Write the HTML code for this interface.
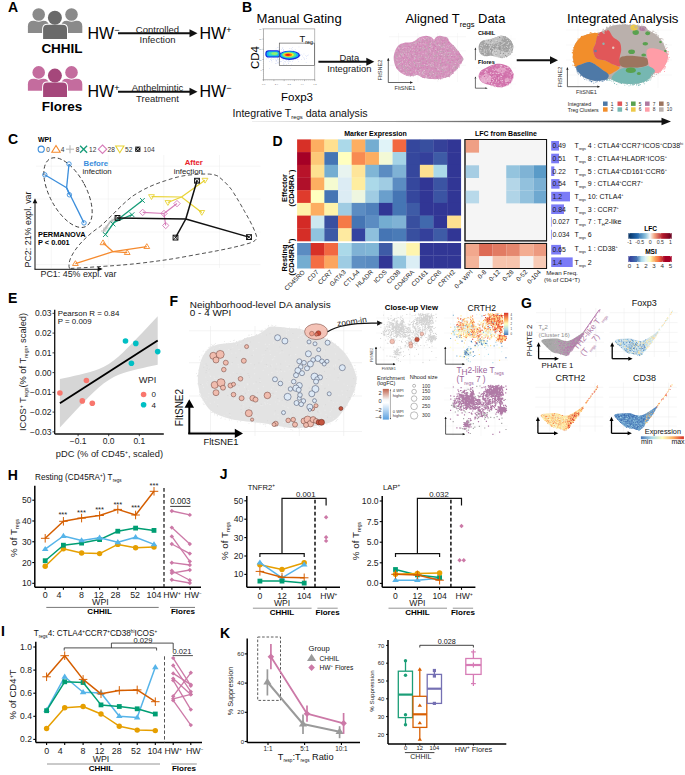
<!DOCTYPE html>
<html><head><meta charset="utf-8"><style>
html,body{margin:0;padding:0;background:#fff;}
svg{display:block;font-family:"Liberation Sans", sans-serif;}
</style></head><body>
<svg width="685" height="775" viewBox="0 0 685 775">
<rect width="685" height="775" fill="#fff"/>
<text x="8" y="12" font-size="14" font-weight="bold" fill="#000">A</text>
<path d="M27.9,32.9 L27.9,26.3 Q27.9,20.8 33.4,20.8 L43.4,20.8 Q48.9,20.8 48.9,26.3 L48.9,32.9 Z" fill="#8a8a8a"/>
<circle cx="38.7" cy="14.5" r="7.3" fill="#fff"/>
<circle cx="38.7" cy="14.5" r="6.3" fill="#8a8a8a"/>
<path d="M61.3,32.9 L61.3,26.3 Q61.3,20.8 66.8,20.8 L76.8,20.8 Q82.3,20.8 82.3,26.3 L82.3,32.9 Z" fill="#8a8a8a"/>
<circle cx="71.5" cy="14.5" r="7.3" fill="#fff"/>
<circle cx="71.5" cy="14.5" r="6.3" fill="#8a8a8a"/>
<circle cx="54.9" cy="17.7" r="8.1" fill="#fff"/>
<path d="M42.1,40 L42.1,29 Q42.1,23.7 47.4,23.7 L62.7,23.7 Q68,23.7 68,29 L68,40 Z" fill="#fff"/>
<circle cx="54.9" cy="17.7" r="7.0" fill="#6a6a6a"/>
<path d="M43.1,39 L43.1,29.1 Q43.1,24.7 47.5,24.7 L62.6,24.7 Q67,24.7 67,29.1 L67,39 Z" fill="#6a6a6a"/>
<text x="62" y="52.5" font-size="13.5" font-weight="bold" text-anchor="middle" fill="#000">CHHIL</text>
<path d="M27.9,90.8 L27.9,84.2 Q27.9,78.7 33.4,78.7 L43.4,78.7 Q48.9,78.7 48.9,84.2 L48.9,90.8 Z" fill="#c46c9e"/>
<circle cx="38.7" cy="72.4" r="7.3" fill="#fff"/>
<circle cx="38.7" cy="72.4" r="6.3" fill="#c46c9e"/>
<path d="M61.3,90.8 L61.3,84.2 Q61.3,78.7 66.8,78.7 L76.8,78.7 Q82.3,78.7 82.3,84.2 L82.3,90.8 Z" fill="#c46c9e"/>
<circle cx="71.5" cy="72.4" r="7.3" fill="#fff"/>
<circle cx="71.5" cy="72.4" r="6.3" fill="#c46c9e"/>
<circle cx="54.9" cy="75.6" r="8.1" fill="#fff"/>
<path d="M42.1,97.9 L42.1,86.9 Q42.1,81.6 47.4,81.6 L62.7,81.6 Q68,81.6 68,86.9 L68,97.9 Z" fill="#fff"/>
<circle cx="54.9" cy="75.6" r="7.0" fill="#a5477b"/>
<path d="M43.1,96.9 L43.1,87.0 Q43.1,82.6 47.5,82.6 L62.6,82.6 Q67,82.6 67,87.0 L67,96.9 Z" fill="#a5477b"/>
<text x="62" y="111" font-size="13.5" font-weight="bold" text-anchor="middle" fill="#000">Flores</text>
<text x="87.5" y="38.5" font-size="16" fill="#000">HW<tspan font-size="9" baseline-shift="6">−</tspan></text>
<line x1="118" y1="33.3" x2="190" y2="33.3" stroke="#111" stroke-width="2.0"/>
<polygon points="197.50,33.30 189.50,37.30 189.50,29.30" fill="#111"/>
<text x="157.5" y="32.5" font-size="9.5" text-anchor="middle" fill="#222">Controlled</text>
<text x="157.5" y="43" font-size="9.5" text-anchor="middle" fill="#222">Infection</text>
<text x="199.5" y="38.5" font-size="16" fill="#000">HW<tspan font-size="9" baseline-shift="6">+</tspan></text>
<text x="87.5" y="97" font-size="16" fill="#000">HW<tspan font-size="9" baseline-shift="6">+</tspan></text>
<line x1="118" y1="91.8" x2="190" y2="91.8" stroke="#111" stroke-width="2.0"/>
<polygon points="197.50,91.80 189.50,95.80 189.50,87.80" fill="#111"/>
<text x="157.5" y="91" font-size="9.5" text-anchor="middle" fill="#222">Anthelmintic</text>
<text x="157.5" y="101.5" font-size="9.5" text-anchor="middle" fill="#222">Treatment</text>
<text x="199.5" y="97" font-size="16" fill="#000">HW<tspan font-size="9" baseline-shift="6">−</tspan></text>
<text x="242" y="12" font-size="14" font-weight="bold" fill="#000">B</text>
<text x="256.5" y="23.3" font-size="13.1" fill="#000">Manual Gating</text>
<rect x="263.7" y="28.9" width="51.1" height="50.9" fill="#fff" stroke="#8a8a8a" stroke-width="0.6"/>
<line x1="262.4" y1="28.9" x2="263.7" y2="28.9" stroke="#777" stroke-width="0.45"/>
<line x1="263.7" y1="79.8" x2="263.7" y2="81.1" stroke="#777" stroke-width="0.45"/>
<line x1="262.4" y1="39.08" x2="263.7" y2="39.08" stroke="#777" stroke-width="0.45"/>
<line x1="273.92" y1="79.8" x2="273.92" y2="81.1" stroke="#777" stroke-width="0.45"/>
<line x1="262.4" y1="49.26" x2="263.7" y2="49.26" stroke="#777" stroke-width="0.45"/>
<line x1="284.14" y1="79.8" x2="284.14" y2="81.1" stroke="#777" stroke-width="0.45"/>
<line x1="262.4" y1="59.44" x2="263.7" y2="59.44" stroke="#777" stroke-width="0.45"/>
<line x1="294.36" y1="79.8" x2="294.36" y2="81.1" stroke="#777" stroke-width="0.45"/>
<line x1="262.4" y1="69.62" x2="263.7" y2="69.62" stroke="#777" stroke-width="0.45"/>
<line x1="304.58" y1="79.8" x2="304.58" y2="81.1" stroke="#777" stroke-width="0.45"/>
<line x1="262.4" y1="79.8" x2="263.7" y2="79.8" stroke="#777" stroke-width="0.45"/>
<line x1="314.8" y1="79.8" x2="314.8" y2="81.1" stroke="#777" stroke-width="0.45"/>
<line x1="262.9" y1="28.9" x2="263.7" y2="28.9" stroke="#999" stroke-width="0.35"/>
<line x1="263.7" y1="79.8" x2="263.7" y2="80.6" stroke="#999" stroke-width="0.35"/>
<line x1="262.9" y1="30.936" x2="263.7" y2="30.936" stroke="#999" stroke-width="0.35"/>
<line x1="265.74399999999997" y1="79.8" x2="265.74399999999997" y2="80.6" stroke="#999" stroke-width="0.35"/>
<line x1="262.9" y1="32.972" x2="263.7" y2="32.972" stroke="#999" stroke-width="0.35"/>
<line x1="267.788" y1="79.8" x2="267.788" y2="80.6" stroke="#999" stroke-width="0.35"/>
<line x1="262.9" y1="35.007999999999996" x2="263.7" y2="35.007999999999996" stroke="#999" stroke-width="0.35"/>
<line x1="269.832" y1="79.8" x2="269.832" y2="80.6" stroke="#999" stroke-width="0.35"/>
<line x1="262.9" y1="37.044" x2="263.7" y2="37.044" stroke="#999" stroke-width="0.35"/>
<line x1="271.876" y1="79.8" x2="271.876" y2="80.6" stroke="#999" stroke-width="0.35"/>
<line x1="262.9" y1="39.08" x2="263.7" y2="39.08" stroke="#999" stroke-width="0.35"/>
<line x1="273.92" y1="79.8" x2="273.92" y2="80.6" stroke="#999" stroke-width="0.35"/>
<line x1="262.9" y1="41.116" x2="263.7" y2="41.116" stroke="#999" stroke-width="0.35"/>
<line x1="275.964" y1="79.8" x2="275.964" y2="80.6" stroke="#999" stroke-width="0.35"/>
<line x1="262.9" y1="43.152" x2="263.7" y2="43.152" stroke="#999" stroke-width="0.35"/>
<line x1="278.008" y1="79.8" x2="278.008" y2="80.6" stroke="#999" stroke-width="0.35"/>
<line x1="262.9" y1="45.188" x2="263.7" y2="45.188" stroke="#999" stroke-width="0.35"/>
<line x1="280.05199999999996" y1="79.8" x2="280.05199999999996" y2="80.6" stroke="#999" stroke-width="0.35"/>
<line x1="262.9" y1="47.224" x2="263.7" y2="47.224" stroke="#999" stroke-width="0.35"/>
<line x1="282.096" y1="79.8" x2="282.096" y2="80.6" stroke="#999" stroke-width="0.35"/>
<line x1="262.9" y1="49.26" x2="263.7" y2="49.26" stroke="#999" stroke-width="0.35"/>
<line x1="284.14" y1="79.8" x2="284.14" y2="80.6" stroke="#999" stroke-width="0.35"/>
<line x1="262.9" y1="51.296" x2="263.7" y2="51.296" stroke="#999" stroke-width="0.35"/>
<line x1="286.18399999999997" y1="79.8" x2="286.18399999999997" y2="80.6" stroke="#999" stroke-width="0.35"/>
<line x1="262.9" y1="53.331999999999994" x2="263.7" y2="53.331999999999994" stroke="#999" stroke-width="0.35"/>
<line x1="288.228" y1="79.8" x2="288.228" y2="80.6" stroke="#999" stroke-width="0.35"/>
<line x1="262.9" y1="55.367999999999995" x2="263.7" y2="55.367999999999995" stroke="#999" stroke-width="0.35"/>
<line x1="290.272" y1="79.8" x2="290.272" y2="80.6" stroke="#999" stroke-width="0.35"/>
<line x1="262.9" y1="57.403999999999996" x2="263.7" y2="57.403999999999996" stroke="#999" stroke-width="0.35"/>
<line x1="292.316" y1="79.8" x2="292.316" y2="80.6" stroke="#999" stroke-width="0.35"/>
<line x1="262.9" y1="59.44" x2="263.7" y2="59.44" stroke="#999" stroke-width="0.35"/>
<line x1="294.36" y1="79.8" x2="294.36" y2="80.6" stroke="#999" stroke-width="0.35"/>
<line x1="262.9" y1="61.476" x2="263.7" y2="61.476" stroke="#999" stroke-width="0.35"/>
<line x1="296.404" y1="79.8" x2="296.404" y2="80.6" stroke="#999" stroke-width="0.35"/>
<line x1="262.9" y1="63.51199999999999" x2="263.7" y2="63.51199999999999" stroke="#999" stroke-width="0.35"/>
<line x1="298.448" y1="79.8" x2="298.448" y2="80.6" stroke="#999" stroke-width="0.35"/>
<line x1="262.9" y1="65.548" x2="263.7" y2="65.548" stroke="#999" stroke-width="0.35"/>
<line x1="300.49199999999996" y1="79.8" x2="300.49199999999996" y2="80.6" stroke="#999" stroke-width="0.35"/>
<line x1="262.9" y1="67.584" x2="263.7" y2="67.584" stroke="#999" stroke-width="0.35"/>
<line x1="302.536" y1="79.8" x2="302.536" y2="80.6" stroke="#999" stroke-width="0.35"/>
<line x1="262.9" y1="69.62" x2="263.7" y2="69.62" stroke="#999" stroke-width="0.35"/>
<line x1="304.58" y1="79.8" x2="304.58" y2="80.6" stroke="#999" stroke-width="0.35"/>
<line x1="262.9" y1="71.65599999999999" x2="263.7" y2="71.65599999999999" stroke="#999" stroke-width="0.35"/>
<line x1="306.624" y1="79.8" x2="306.624" y2="80.6" stroke="#999" stroke-width="0.35"/>
<line x1="262.9" y1="73.69200000000001" x2="263.7" y2="73.69200000000001" stroke="#999" stroke-width="0.35"/>
<line x1="308.668" y1="79.8" x2="308.668" y2="80.6" stroke="#999" stroke-width="0.35"/>
<line x1="262.9" y1="75.72800000000001" x2="263.7" y2="75.72800000000001" stroke="#999" stroke-width="0.35"/>
<line x1="310.712" y1="79.8" x2="310.712" y2="80.6" stroke="#999" stroke-width="0.35"/>
<line x1="262.9" y1="77.764" x2="263.7" y2="77.764" stroke="#999" stroke-width="0.35"/>
<line x1="312.756" y1="79.8" x2="312.756" y2="80.6" stroke="#999" stroke-width="0.35"/>
<line x1="262.9" y1="79.8" x2="263.7" y2="79.8" stroke="#999" stroke-width="0.35"/>
<line x1="314.8" y1="79.8" x2="314.8" y2="80.6" stroke="#999" stroke-width="0.35"/>
<text x="261.6" y="30.0" font-size="2.2" text-anchor="end" fill="#777">10</text>
<text x="261.6" y="40.18" font-size="2.2" text-anchor="end" fill="#777">10</text>
<text x="261.6" y="50.36" font-size="2.2" text-anchor="end" fill="#777">10</text>
<text x="261.6" y="60.54" font-size="2.2" text-anchor="end" fill="#777">10</text>
<text x="261.6" y="70.72" font-size="2.2" text-anchor="end" fill="#777">0</text>
<text x="263.7" y="84.8" font-size="2.4" text-anchor="middle" fill="#777">0.0</text>
<text x="276.47999999999996" y="84.8" font-size="2.4" text-anchor="middle" fill="#777">2.4</text>
<text x="289.26" y="84.8" font-size="2.4" text-anchor="middle" fill="#777">3.2</text>
<text x="302.03999999999996" y="84.8" font-size="2.4" text-anchor="middle" fill="#777">4.4</text>
<text x="314.82" y="84.8" font-size="2.4" text-anchor="middle" fill="#777">7.2</text>
<path fill="#5070e0" opacity="0.55" d="M277 47.2h.5v.5h-.5zm1.7 .2h.5v.5h-.5zm20-.6h.5v.5h-.5zm-16.3 1.5h.5v.5h-.5zm.2-.8h.5v.5h-.5zm6.8 .8h.5v.5h-.5zm1.5 .2h.5v.5h-.5zm1.1-1h.5v.5h-.5zm-16.2 1.3h.5v.5h-.5zm2.9 .6h.5v.5h-.5zm.3-.3h.5v.5h-.5zm4 .3h.5v.5h-.5zm8.8-.5h.5v.5h-.5zm-21.7 1.5h.5v.5h-.5zm8.7-.2h.5v.5h-.5zm.6 0h.5v.5h-.5zm1.7-.7h.5v.5h-.5zm1.8 .9h.5v.5h-.5zm.6-.6h.5v.5h-.5zm9.6 .2h.5v.5h-.5zm1.8-.4h.5v.5h-.5zm-26.1 1.1h.5v.5h-.5zm4.3 .6h.5v.5h-.5zm9.8 0h.5v.5h-.5zm3.8-.2h.5v.5h-.5zm4.7 .3h.5v.5h-.5zm.2-.2h.5v.5h-.5zm-20 1.3h.5v.5h-.5zm1-.5h.5v.5h-.5zm.4 .1h.5v.5h-.5zm2 .1h.5v.5h-.5zm0-.6h.5v.5h-.5zm.9 .5h.5v.5h-.5zm1-.2h.5v.5h-.5zm.6 .3h.5v.5h-.5zm.2-.1h.5v.5h-.5zm2-.5h.5v.5h-.5zm.8 .3h.5v.5h-.5zm.1 .1h.5v.5h-.5zm.4-.5h.5v.5h-.5zm1.3 .5h.5v.5h-.5zm.5 .5h.5v.5h-.5zm.6-.2h.5v.5h-.5zm1.5 .1h.5v.5h-.5zm0-.1h.5v.5h-.5zm1-.7h.5v.5h-.5zm4.5 .6h.5v.5h-.5zm1-.2h.5v.5h-.5zm.3 .4h.5v.5h-.5zm.2-.5h.5v.5h-.5zm3.8-.3h.5v.5h-.5zm1 .4h.5v.5h-.5zm1.2 .4h.5v.5h-.5zm.8-.9h.5v.5h-.5zm.1 .2h.5v.5h-.5zm-31.2 1.7h.5v.5h-.5zm.3-.7h.5v.5h-.5zm8.7 .3h.5v.5h-.5zm.3-.4h.5v.5h-.5zm0 .6h.5v.5h-.5zm.1-.6h.5v.5h-.5zm.3 .6h.5v.5h-.5zm.4 .1h.5v.5h-.5zm2.2-.1h.5v.5h-.5zm1-.1h.5v.5h-.5zm2.4 .3h.5v.5h-.5zm1.8-.6h.5v.5h-.5zm.2 .4h.5v.5h-.5zm2.3-.6h.5v.5h-.5zm1 .1h.5v.5h-.5zm.5 .4h.5v.5h-.5zm0 .3h.5v.5h-.5zm3.9-.7h.5v.5h-.5zm2 .3h.5v.5h-.5zm-26.5 1.5h.5v.5h-.5zm.9-.4h.5v.5h-.5zm3.9-.5h.5v.5h-.5zm1 .8h.5v.5h-.5zm1.1-.9h.5v.5h-.5zm.4 .6h.5v.5h-.5zm1.4 .3h.5v.5h-.5zm.6-.1h.5v.5h-.5zm0-.8h.5v.5h-.5zm.7 .6h.5v.5h-.5zm2-.1h.5v.5h-.5zm1.1-.2h.5v.5h-.5zm1.1 0h.5v.5h-.5zm2.5 .4h.5v.5h-.5zm.4-.4h.5v.5h-.5zm.1 .1h.5v.5h-.5zm1.5-.2h.5v.5h-.5zm.9 .2h.5v.5h-.5zm2.3 .3h.5v.5h-.5zm.1-.6h.5v.5h-.5zm2.1 .2h.5v.5h-.5zm.4 .4h.5v.5h-.5zm4.1-.6h.5v.5h-.5zm3.7 .6h.5v.5h-.5zm2.9-.4h.5v.5h-.5zm-34.1 1.6h.5v.5h-.5zm1.6 0h.5v.5h-.5zm.8-.2h.5v.5h-.5zm1.6-.2h.5v.5h-.5zm.1-.4h.5v.5h-.5zm.1 .1h.5v.5h-.5zm.7 .6h.5v.5h-.5zm.4-.7h.5v.5h-.5zm.1 .5h.5v.5h-.5zm.2 .2h.5v.5h-.5zm3.4-.4h.5v.5h-.5zm.8 .3h.5v.5h-.5zm.3 0h.5v.5h-.5zm.8-.3h.5v.5h-.5zm1.1 .3h.5v.5h-.5zm1.2-.4h.5v.5h-.5zm.3 .2h.5v.5h-.5zm.3-.4h.5v.5h-.5zm.6 .2h.5v.5h-.5zm.4 .4h.5v.5h-.5zm.8-.4h.5v.5h-.5zm.1-.1h.5v.5h-.5zm.5 .5h.5v.5h-.5zm1.4-.1h.5v.5h-.5zm.4 .2h.5v.5h-.5zm.1-.6h.5v.5h-.5zm.5 .4h.5v.5h-.5zm1.1-.3h.5v.5h-.5zm3.6-.1h.5v.5h-.5zm.5-.1h.5v.5h-.5zm.5 0h.5v.5h-.5zm.1 .3h.5v.5h-.5zm.6 .3h.5v.5h-.5zm.2-.1h.5v.5h-.5zm.6-.1h.5v.5h-.5zm1.7 .4h.5v.5h-.5zm1.7-.8h.5v.5h-.5zm1.2 .2h.5v.5h-.5zm.2 .5h.5v.5h-.5zm.2-.2h.5v.5h-.5zm5.2 .3h.5v.5h-.5zm1.5-.4h.5v.5h-.5zm1.5-.2h.5v.5h-.5zm-39.8 1h.5v.5h-.5zm1.5 .1h.5v.5h-.5zm.4 .1h.5v.5h-.5zm1.3-.2h.5v.5h-.5zm2.5-.2h.5v.5h-.5zm1.7 .9h.5v.5h-.5zm1.3-.2h.5v.5h-.5zm.9 .1h.5v.5h-.5zm.4-.8h.5v.5h-.5zm.6 .1h.5v.5h-.5zm1.5 .1h.5v.5h-.5zm.1 .6h.5v.5h-.5zm.8-.3h.5v.5h-.5zm.3 .1h.5v.5h-.5zm.2-.7h.5v.5h-.5zm.1 .4h.5v.5h-.5zm.4-.2h.5v.5h-.5zm1.2 .8h.5v.5h-.5zm.9 0h.5v.5h-.5zm1-.6h.5v.5h-.5zm.1 .5h.5v.5h-.5zm1.6-.9h.5v.5h-.5zm.8 .1h.5v.5h-.5zm.4 .6h.5v.5h-.5zm1.2 .1h.5v.5h-.5zm.2-.3h.5v.5h-.5zm.4-.5h.5v.5h-.5zm.5 .8h.5v.5h-.5zm1.3-.1h.5v.5h-.5zm.6-.6h.5v.5h-.5zm.8 0h.5v.5h-.5zm.4 .7h.5v.5h-.5zm2.6-.5h.5v.5h-.5zm.1 .2h.5v.5h-.5zm5.6-.3h.5v.5h-.5zm3.7 .2h.5v.5h-.5zm-37.1 1.5h.5v.5h-.5zm.4-.8h.5v.5h-.5zm3.5 .8h.5v.5h-.5zm4-.6h.5v.5h-.5zm.1 .1h.5v.5h-.5zm.2-.1h.5v.5h-.5zm3 0h.5v.5h-.5zm.8 .4h.5v.5h-.5zm1.9 .1h.5v.5h-.5zm.2 0h.5v.5h-.5zm.4-.7h.5v.5h-.5zm.5 .5h.5v.5h-.5zm.7 0h.5v.5h-.5zm.5 .2h.5v.5h-.5zm.2-.6h.5v.5h-.5zm.3 .2h.5v.5h-.5zm.2-.3h.5v.5h-.5zm.5 .2h.5v.5h-.5zm3.1-.1h.5v.5h-.5zm.3 .4h.5v.5h-.5zm4-.3h.5v.5h-.5zm2.1 .1h.5v.5h-.5zm.7-.2h.5v.5h-.5zm6.9 .2h.5v.5h-.5zm-35.7 1.6h.5v.5h-.5zm.1 0h.5v.5h-.5zm3.5-.6h.5v.5h-.5zm3.2-.1h.5v.5h-.5zm4.4 .4h.5v.5h-.5zm2.3 .2h.5v.5h-.5zm1.7-.2h.5v.5h-.5zm.7-.6h.5v.5h-.5zm.2 .7h.5v.5h-.5zm0 .1h.5v.5h-.5zm1.6-.3h.5v.5h-.5zm.2-.1h.5v.5h-.5zm.3-.1h.5v.5h-.5zm.1 .5h.5v.5h-.5zm.2-.2h.5v.5h-.5zm.1 .3h.5v.5h-.5zm.7-.9h.5v.5h-.5zm1.8 .2h.5v.5h-.5zm1.4-.1h.5v.5h-.5zm.5 0h.5v.5h-.5zm.1 .8h.5v.5h-.5zm1.4-.6h.5v.5h-.5zm1.7 .2h.5v.5h-.5zm1.2 .4h.5v.5h-.5zm.1-.3h.5v.5h-.5zm8.5 .1h.5v.5h-.5zm2.5-.1h.5v.5h-.5zm-40.1 .5h.5v.5h-.5zm3.9 .5h.5v.5h-.5zm2.6-.1h.5v.5h-.5zm2.9 .2h.5v.5h-.5zm1.5-.4h.5v.5h-.5zm.2-.3h.5v.5h-.5zm1.1 .8h.5v.5h-.5zm2.2-.1h.5v.5h-.5zm2.1 0h.5v.5h-.5zm2.8-.6h.5v.5h-.5zm.1 .1h.5v.5h-.5zm2.2 .3h.5v.5h-.5zm1.6 .3h.5v.5h-.5zm1.2-.7h.5v.5h-.5zm.1 .2h.5v.5h-.5zm.1 .3h.5v.5h-.5zm.8-.2h.5v.5h-.5zm2.3-.4h.5v.5h-.5zm3 .4h.5v.5h-.5zm7.5 .4h.5v.5h-.5zm-33.6 .4h.5v.5h-.5zm.6 .2h.5v.5h-.5zm4.3 .4h.5v.5h-.5zm.5-.5h.5v.5h-.5zm3-.3h.5v.5h-.5zm3.5 .4h.5v.5h-.5zm.8-.4h.5v.5h-.5zm2.4 .7h.5v.5h-.5zm.1-.7h.5v.5h-.5zm.1-.1h.5v.5h-.5zm.8 .1h.5v.5h-.5zm1.1 0h.5v.5h-.5zm.2 .4h.5v.5h-.5zm.8-.3h.5v.5h-.5zm3.7 .1h.5v.5h-.5zm2.7-.2h.5v.5h-.5zm2.3-.1h.5v.5h-.5zm3.7 0h.5v.5h-.5zm-32.3 1.4h.5v.5h-.5zm8.6-.2h.5v.5h-.5zm1.9 .4h.5v.5h-.5zm4.8-.2h.5v.5h-.5zm3.1 0h.5v.5h-.5zm.9-.2h.5v.5h-.5zm.8 .7h.5v.5h-.5zm1.2-.3h.5v.5h-.5zm1.9-.1h.5v.5h-.5zm6 0h.5v.5h-.5zm-26.7 .8h.5v.5h-.5zm4.2-.3h.5v.5h-.5zm1.2 .8h.5v.5h-.5zm1.1-.4h.5v.5h-.5zm2.2-.3h.5v.5h-.5zm.6 0h.5v.5h-.5zm4 0h.5v.5h-.5zm0 .2h.5v.5h-.5zm20.9 .6h.5v.5h-.5zm-30.4 .7h.5v.5h-.5zm2.3 0h.5v.5h-.5zm5.5-.4h.5v.5h-.5zm5.3 .1h.5v.5h-.5zm-12.7 .7h.5v.5h-.5zm7.1 .4h.5v.5h-.5zm.9-.1h.5v.5h-.5zm4.5-.3h.5v.5h-.5zm2.9 .8h.5v.5h-.5zm-4.9 .3h.5v.5h-.5zm-16.9 3.9h.5v.5h-.5zm20.9 .1h.5v.5h-.5z"/>
<path d="M268.7,50.3 L277.1,50.3 Q280.5,50.3 280.5,53.699999999999996 L280.5,54.2 Q280.5,57.6 277.1,57.6 L268.7,57.6 Q265.3,57.6 265.3,54.2 L265.3,53.699999999999996 Q265.3,50.3 268.7,50.3 Z" fill="#1428e0"/>
<path d="M269.1,51.3 L276.9,51.3 Q279.5,51.3 279.5,53.9 L279.5,53.9 Q279.5,56.5 276.9,56.5 L269.1,56.5 Q266.5,56.5 266.5,53.9 L266.5,53.9 Q266.5,51.3 269.1,51.3 Z" fill="#14b4f0"/>
<path d="M270.3,51.9 L276.2,51.9 Q278,51.9 278,53.699999999999996 L278,53.800000000000004 Q278,55.6 276.2,55.6 L270.3,55.6 Q268.5,55.6 268.5,53.800000000000004 L268.5,53.699999999999996 Q268.5,51.9 270.3,51.9 Z" fill="#3ce0b4"/>
<ellipse cx="274.5" cy="53.6" rx="3.2" ry="1.4" fill="#90f070"/>
<ellipse cx="289.6" cy="55.3" rx="10.4" ry="4.6" fill="#1428e0"/>
<ellipse cx="289.4" cy="55.0" rx="9.2" ry="3.7" fill="#14b4f0"/>
<ellipse cx="289.0" cy="54.9" rx="7.4" ry="2.9" fill="#50e890"/>
<ellipse cx="288.6" cy="54.8" rx="5.4" ry="2.2" fill="#f8e428"/>
<ellipse cx="288.2" cy="54.8" rx="3.8" ry="1.6" fill="#f87010"/>
<ellipse cx="287.9" cy="54.8" rx="2.2" ry="0.9" fill="#e81010"/>
<rect x="279.3" y="43.1" width="35.2" height="22.4" fill="none" stroke="#555" stroke-width="0.65"/>
<text x="299.6" y="41.6" font-size="9.4" fill="#111">T<tspan font-size="5.2" baseline-shift="-1.8">reg</tspan></text>
<text x="258.5" y="57.5" font-size="11.5" text-anchor="middle" fill="#000" transform="rotate(-90 258.5 57.5)">CD4</text>
<text x="297" y="101" font-size="11.5" text-anchor="middle" fill="#000">Foxp3</text>
<line x1="318.4" y1="61.7" x2="367" y2="61.7" stroke="#111" stroke-width="1.9"/>
<polygon points="374.30,61.70 366.30,65.70 366.30,57.70" fill="#111"/>
<text x="349.3" y="60.6" font-size="9.4" text-anchor="middle" fill="#222">Data</text>
<text x="349.3" y="71.8" font-size="9.4" text-anchor="middle" fill="#222">Integration</text>
<text x="405.5" y="23.4" font-size="12.9" fill="#000">Aligned T<tspan font-size="7.6" baseline-shift="-3.6">regs</tspan> Data</text>
<line x1="398.6" y1="33" x2="398.6" y2="82" stroke="#eeeeee" stroke-width="0.4"/>
<line x1="417.9" y1="33" x2="417.9" y2="82" stroke="#eeeeee" stroke-width="0.4"/>
<line x1="437.7" y1="33" x2="437.7" y2="82" stroke="#eeeeee" stroke-width="0.4"/>
<line x1="457.6" y1="33" x2="457.6" y2="82" stroke="#eeeeee" stroke-width="0.4"/>
<line x1="389" y1="36.7" x2="466" y2="36.7" stroke="#eeeeee" stroke-width="0.4"/>
<line x1="389" y1="50.9" x2="466" y2="50.9" stroke="#eeeeee" stroke-width="0.4"/>
<line x1="389" y1="65.2" x2="466" y2="65.2" stroke="#eeeeee" stroke-width="0.4"/>
<path d="M393.7,59.0 C393.5,56.3 394.1,53.8 394.9,51.5 C395.7,49.2 397.2,46.7 398.6,45.3 C400.1,43.9 401.5,43.4 403.6,42.9 C405.7,42.4 409.0,42.7 411.0,42.3 C413.0,41.9 413.9,41.2 415.4,40.4 C416.8,39.6 417.9,38.1 419.7,37.3 C421.5,36.5 424.0,35.7 426.0,35.7 C428.0,35.7 430.2,36.6 431.5,37.3 C432.8,38.0 433.3,39.8 434.0,39.8 C434.7,39.8 435.0,38.0 435.9,37.3 C436.8,36.6 438.4,35.9 439.6,35.7 C440.8,35.6 442.1,36.1 443.3,36.4 C444.5,36.7 446.0,36.4 447.0,37.3 C448.0,38.2 448.2,40.0 449.5,41.6 C450.8,43.2 452.9,44.7 454.5,46.6 C456.1,48.5 457.9,50.8 459.4,52.8 C460.8,54.8 462.9,56.8 463.2,58.4 C463.5,60.0 462.1,61.2 461.3,62.7 C460.5,64.2 459.3,66.2 458.2,67.7 C457.1,69.2 455.9,70.0 454.5,71.4 C453.1,72.8 451.8,75.1 449.5,76.3 C447.2,77.5 443.9,78.3 440.8,78.8 C437.7,79.2 434.0,79.2 430.9,79.0 C427.8,78.8 424.5,78.2 422.2,77.6 C419.9,76.9 419.3,75.3 417.2,75.1 C415.1,74.9 412.3,76.5 409.8,76.3 C407.3,76.1 404.7,75.2 402.4,73.8 C400.1,72.4 397.6,70.2 396.2,67.7 C394.8,65.2 393.9,61.7 393.7,59.0 Z" fill="#d592bd"/>
<path fill="#c9c0c5" d="M427.2 37.1h.9v.9h-.9zm9.6 1.2h.9v.9h-.9zm8.8-.8h.9v.9h-.9zm-26.1 1.3h.9v.9h-.9zm5.6 .3h.9v.9h-.9zm17.8-.4h.9v.9h-.9zm-24.9 2.6h.9v.9h-.9zm1-.6h.9v.9h-.9zm.7-.1h.9v.9h-.9zm.9 .8h.9v.9h-.9zm12.3 0h.9v.9h-.9zm-17.5 .9h.9v.9h-.9zm.9-.2h.9v.9h-.9zm6.7 .3h.9v.9h-.9zm11.7-.9h.9v.9h-.9zm-23.5 1.4h.9v.9h-.9zm2.2 .4h.9v.9h-.9zm.3-.3h.9v.9h-.9zm1.8-.2h.9v.9h-.9zm13.8 .5h.9v.9h-.9zm.6-.3h.9v.9h-.9zm-5.5 1.2h.9v.9h-.9zm10.9 .2h.9v.9h-.9zm1.5 .5h.9v.9h-.9zm1.8 .2h.9v.9h-.9zm10.2 0h.9v.9h-.9zm-46.4 .4h.9v.9h-.9zm27.6 .6h.9v.9h-.9zm13.5-.1h.9v.9h-.9zm4.1-.1h.9v.9h-.9zm4 .2h.9v.9h-.9zm-53.6 .9h.9v.9h-.9zm22.1 0h.9v.9h-.9zm3.4 .2h.9v.9h-.9zm7.6-.3h.9v.9h-.9zm.2 .2h.9v.9h-.9zm19.5-.1h.9v.9h-.9zm-43.4 1.5h.9v.9h-.9zm4.6-.9h.9v.9h-.9zm10.4 .2h.9v.9h-.9zm1.7-.3h.9v.9h-.9zm21.9 .3h.9v.9h-.9zm8.2 .2h.9v.9h-.9zm-55.6 1h.9v.9h-.9zm3.1-.3h.9v.9h-.9zm0 0h.9v.9h-.9zm8.4 .3h.9v.9h-.9zm7.1 .1h.9v.9h-.9zm11.8 .1h.9v.9h-.9zm6-.4h.9v.9h-.9zm-35.3 1.5h.9v.9h-.9zm2.6 .2h.9v.9h-.9zm6.8-.4h.9v.9h-.9zm5.2 .2h.9v.9h-.9zm10-.3h.9v.9h-.9zm2.8-.3h.9v.9h-.9zm25.9-.2h.9v.9h-.9zm2.8 .2h.9v.9h-.9zm-55.7 1.4h.9v.9h-.9zm2.6 .1h.9v.9h-.9zm10-.5h.9v.9h-.9zm3.4 .1h.9v.9h-.9zm2.2 .5h.9v.9h-.9zm25.3-.7h.9v.9h-.9zm-39.3 1.1h.9v.9h-.9zm36 .3h.9v.9h-.9zm8.1 .1h.9v.9h-.9zm1.3 0h.9v.9h-.9zm-49.5 .8h.9v.9h-.9zm25.1 .5h.9v.9h-.9zm21.9-.8h.9v.9h-.9zm7.1 0h.9v.9h-.9zm-53.5 1.2h.9v.9h-.9zm.7 .7h.9v.9h-.9zm4.4-.1h.9v.9h-.9zm2.4 .1h.9v.9h-.9zm5.3-.9h.9v.9h-.9zm.5 0h.9v.9h-.9zm18.9 .3h.9v.9h-.9zm6.3 0h.9v.9h-.9zm4.2-.4h.9v.9h-.9zm-43 1.4h.9v.9h-.9zm.5-.2h.9v.9h-.9zm9.4 0h.9v.9h-.9zm4.6 .7h.9v.9h-.9zm.2-.6h.9v.9h-.9zm32.3 .2h.9v.9h-.9zm1.1 .2h.9v.9h-.9zm-53.5 1.1h.9v.9h-.9zm.9-.3h.9v.9h-.9zm12.6 .3h.9v.9h-.9zm2.7 .2h.9v.9h-.9zm5.3-.1h.9v.9h-.9zm17.2 .1h.9v.9h-.9zm7.2-.3h.9v.9h-.9zm9.9 0h.9v.9h-.9zm-54.9 .9h.9v.9h-.9zm29.7 .1h.9v.9h-.9zm9.6 0h.9v.9h-.9zm8.8-.3h.9v.9h-.9zm3.2 .5h.9v.9h-.9zm-33.3 1.1h.9v.9h-.9zm.8-.5h.9v.9h-.9zm3-.4h.9v.9h-.9zm8.9 .7h.9v.9h-.9zm16.2 .2h.9v.9h-.9zm19.6-.3h.9v.9h-.9zm-11.8 .8h.9v.9h-.9zm11.9 .3h.9v.9h-.9zm-65.3 .9h.9v.9h-.9zm2.2-.3h.9v.9h-.9zm21.5 0h.9v.9h-.9zm19.2-.4h.9v.9h-.9zm5.5 .2h.9v.9h-.9zm10.5 .3h.9v.9h-.9zm1.7 .2h.9v.9h-.9zm-40.2 1.2h.9v.9h-.9zm19.2-.2h.9v.9h-.9zm3.2-.5h.9v.9h-.9zm11.4 .3h.9v.9h-.9zm3.9 .2h.9v.9h-.9zm-55.3 .8h.9v.9h-.9zm9.2-.5h.9v.9h-.9zm10.3 0h.9v.9h-.9zm20.8 .3h.9v.9h-.9zm7.1 .3h.9v.9h-.9zm-49.6 1.2h.9v.9h-.9zm16.4-.3h.9v.9h-.9zm-16.1 1.1h.9v.9h-.9zm21.1-.2h.9v.9h-.9zm10.9 .6h.9v.9h-.9zm10.7-.2h.9v.9h-.9zm10.5-.6h.9v.9h-.9zm-54.7 .9h.9v.9h-.9zm6.4 .1h.9v.9h-.9zm13.7-.1h.9v.9h-.9zm9.1 .4h.9v.9h-.9zm27.6 .3h.9v.9h-.9zm-53.8 1.2h.9v.9h-.9zm3.5-.4h.9v.9h-.9zm6-.1h.9v.9h-.9zm7.3-.1h.9v.9h-.9zm2.5 .2h.9v.9h-.9zm13.8-.5h.9v.9h-.9zm-34.2 1.8h.9v.9h-.9zm4.9-.3h.9v.9h-.9zm-.2 1h.9v.9h-.9zm33.7-.3h.9v.9h-.9zm6.5-.2h.9v.9h-.9zm-43.7 1.5h.9v.9h-.9zm8.6-.1h.9v.9h-.9zm11.9 0h.9v.9h-.9zm5.4-.2h.9v.9h-.9zm9.8-.1h.9v.9h-.9zm2.2 .3h.9v.9h-.9zm4.6-.2h.9v.9h-.9zm6.4 .3h.9v.9h-.9zm-48 .5h.9v.9h-.9zm15.4 .8h.9v.9h-.9zm1.2 0h.9v.9h-.9zm19.2-.2h.9v.9h-.9zm2.9-.7h.9v.9h-.9zm2.9 .4h.9v.9h-.9zm2 .6h.9v.9h-.9zm1.4-.3h.9v.9h-.9zm9.1-.6h.9v.9h-.9zm-49.2 1h.9v.9h-.9zm.8 .3h.9v.9h-.9zm3.3 .3h.9v.9h-.9zm12.7 0h.9v.9h-.9zm29.6-.2h.9v.9h-.9zm-32.6 1h.9v.9h-.9zm32.5-.1h.9v.9h-.9zm-29.9 .8h.9v.9h-.9zm13 .6h.9v.9h-.9zm2.8-.6h.9v.9h-.9zm-24.8 .8h.9v.9h-.9zm1.2 .7h.9v.9h-.9zm8.2-.6h.9v.9h-.9zm6.1 .1h.9v.9h-.9zm.2 .4h.9v.9h-.9zm.9-.3h.9v.9h-.9zm20.5 0h.9v.9h-.9zm-42.4 1.5h.9v.9h-.9zm26 0h.9v.9h-.9zm-23.8 .5h.9v.9h-.9zm14.8 .5h.9v.9h-.9zm1.6 .7h.9v.9h-.9zm1.2 .8h.9v.9h-.9zm1 0h.9v.9h-.9z"/>
<path fill="#e3bfd5" d="M423 38.1h.9v.9h-.9zm2.9-.6h.9v.9h-.9zm2.6 .7h.9v.9h-.9zm10.4 .2h.9v.9h-.9zm-20.1 .2h.9v.9h-.9zm5.5 .4h.9v.9h-.9zm.1-.3h.9v.9h-.9zm.5 .1h.9v.9h-.9zm6.1 .5h.9v.9h-.9zm-9.8 .3h.9v.9h-.9zm19.7 .9h.9v.9h-.9zm-24.1 2h.9v.9h-.9zm14-.7h.9v.9h-.9zm-13.8 1.1h.9v.9h-.9zm.7 0h.9v.9h-.9zm2.4 0h.9v.9h-.9zm.7 .5h.9v.9h-.9zm-5.3 1.1h.9v.9h-.9zm10.3-.5h.9v.9h-.9zm4.4 .4h.9v.9h-.9zm8.1-.3h.9v.9h-.9zm5.5 0h.9v.9h-.9zm-34.2 .5h.9v.9h-.9zm20.8 .1h.9v.9h-.9zm.6 .5h.9v.9h-.9zm7.9 0h.9v.9h-.9zm.4-.4h.9v.9h-.9zm-21.7 1.7h.9v.9h-.9zm5.3-.5h.9v.9h-.9zm2.7 .5h.9v.9h-.9zm14.7-.7h.9v.9h-.9zm2.4 .4h.9v.9h-.9zm4.1-.7h.9v.9h-.9zm-43.3 1.7h.9v.9h-.9zm2-.1h.9v.9h-.9zm2.5-.2h.9v.9h-.9zm4.1-.3h.9v.9h-.9zm19.6 0h.9v.9h-.9zm9.3 .6h.9v.9h-.9zm1.2 0h.9v.9h-.9zm1.7-.3h.9v.9h-.9zm7.3 .5h.9v.9h-.9zm-52.9 .6h.9v.9h-.9zm.5-.2h.9v.9h-.9zm3.3 .7h.9v.9h-.9zm.4-.6h.9v.9h-.9zm13.7 .5h.9v.9h-.9zm12.3-.4h.9v.9h-.9zm.9 .3h.9v.9h-.9zm17.2 .1h.9v.9h-.9zm-34.2 .5h.9v.9h-.9zm11.1-.2h.9v.9h-.9zm12.2 0h.9v.9h-.9zm11.7-.1h.9v.9h-.9zm-31.7 1.5h.9v.9h-.9zm1.2 .3h.9v.9h-.9zm13.2-.5h.9v.9h-.9zm5.4-.3h.9v.9h-.9zm4.2 .4h.9v.9h-.9zm1 .4h.9v.9h-.9zm12.3-.2h.9v.9h-.9zm1.8-.5h.9v.9h-.9zm2.7 .7h.9v.9h-.9zm-62 .4h.9v.9h-.9zm10.6-.1h.9v.9h-.9zm2.6-.1h.9v.9h-.9zm29.2 .3h.9v.9h-.9zm8.6 .5h.9v.9h-.9zm-5 .8h.9v.9h-.9zm3.4-.3h.9v.9h-.9zm9.4-.2h.9v.9h-.9zm-52.1 1.6h.9v.9h-.9zm5.8 .1h.9v.9h-.9zm14.6-.4h.9v.9h-.9zm2.9-.4h.9v.9h-.9zm17.7 .5h.9v.9h-.9zm-37.5 .4h.9v.9h-.9zm6.6 .8h.9v.9h-.9zm14.9-.3h.9v.9h-.9zm13.9 .1h.9v.9h-.9zm7.7-.4h.9v.9h-.9zm6.5 .7h.9v.9h-.9zm-56.2 .7h.9v.9h-.9zm3.7-.3h.9v.9h-.9zm11.6 .4h.9v.9h-.9zm4.2-.6h.9v.9h-.9zm2.4 .8h.9v.9h-.9zm.3 0h.9v.9h-.9zm13-.1h.9v.9h-.9zm9.1-.6h.9v.9h-.9zm.7 .3h.9v.9h-.9zm.1 .3h.9v.9h-.9zm6.5-.3h.9v.9h-.9zm.9 0h.9v.9h-.9zm2.2-.1h.9v.9h-.9zm-55.1 .8h.9v.9h-.9zm.7 .2h.9v.9h-.9zm3.6 0h.9v.9h-.9zm25 .6h.9v.9h-.9zm7.1-1h.9v.9h-.9zm15.5 .8h.9v.9h-.9zm6.8 0h.9v.9h-.9zm-43.5 1h.9v.9h-.9zm11.3-.5h.9v.9h-.9zm2.8 .3h.9v.9h-.9zm5.2 .3h.9v.9h-.9zm-32.6 1.1h.9v.9h-.9zm3.7-.4h.9v.9h-.9zm15-.5h.9v.9h-.9zm8.6 .6h.9v.9h-.9zm2.3-.7h.9v.9h-.9zm6.7 .9h.9v.9h-.9zm11.7-.9h.9v.9h-.9zm12.3 .2h.9v.9h-.9zm-56.8 1.4h.9v.9h-.9zm14.5 .3h.9v.9h-.9zm.9 0h.9v.9h-.9zm14.3-.5h.9v.9h-.9zm-39.9 .8h.9v.9h-.9zm2.5-.1h.9v.9h-.9zm10.7 .2h.9v.9h-.9zm27.9 .4h.9v.9h-.9zm-33 1.1h.9v.9h-.9zm.4-.6h.9v.9h-.9zm4.1 .1h.9v.9h-.9zm1.3 .1h.9v.9h-.9zm35.1-.3h.9v.9h-.9zm5.7 .6h.9v.9h-.9zm-46.8 .6h.9v.9h-.9zm7.8 .4h.9v.9h-.9zm4-.1h.9v.9h-.9zm2.1-.5h.9v.9h-.9zm3 .5h.9v.9h-.9zm7.7-.4h.9v.9h-.9zm1.1 .6h.9v.9h-.9zm4.1-.4h.9v.9h-.9zm2.6-.3h.9v.9h-.9zm.2-.1h.9v.9h-.9zm22.9 .3h.9v.9h-.9zm1.5-.1h.9v.9h-.9zm-59.9 1.5h.9v.9h-.9zm6-.1h.9v.9h-.9zm12.6-.5h.9v.9h-.9zm11.7 .7h.9v.9h-.9zm25.1-.4h.9v.9h-.9zm.9 0h.9v.9h-.9zm-31.3 1.1h.9v.9h-.9zm4.5-.1h.9v.9h-.9zm1.9 .2h.9v.9h-.9zm0 .3h.9v.9h-.9zm2-.1h.9v.9h-.9zm.5-.8h.9v.9h-.9zm5.9 .6h.9v.9h-.9zm12.9-.2h.9v.9h-.9zm.5 .5h.9v.9h-.9zm6.9-.4h.9v.9h-.9zm-53.8 1h.9v.9h-.9zm2.1-.4h.9v.9h-.9zm6.4 .1h.9v.9h-.9zm5.6 0h.9v.9h-.9zm7.5 .5h.9v.9h-.9zm19.2-.5h.9v.9h-.9zm9.1 .7h.9v.9h-.9zm-24.1 .6h.9v.9h-.9zm7.6-.4h.9v.9h-.9zm4.3 .8h.9v.9h-.9zm2.1-.4h.9v.9h-.9zm7.9 0h.9v.9h-.9zm5-.3h.9v.9h-.9zm-51.7 .9h.9v.9h-.9zm4.1 .3h.9v.9h-.9zm31.5 0h.9v.9h-.9zm12.3 .5h.9v.9h-.9zm-51.4 .7h.9v.9h-.9zm4.4-.3h.9v.9h-.9zm30.8-.2h.9v.9h-.9zm1.3 .9h.9v.9h-.9zm2.6-.3h.9v.9h-.9zm10.3-.7h.9v.9h-.9zm-52.5 1.9h.9v.9h-.9zm.2-.4h.9v.9h-.9zm37.2 .2h.9v.9h-.9zm.8-.1h.9v.9h-.9zm7.5-.5h.9v.9h-.9zm-30.3 1.7h.9v.9h-.9zm3.1 .1h.9v.9h-.9zm4.8-.4h.9v.9h-.9zm.5 .1h.9v.9h-.9zm.8-.1h.9v.9h-.9zm4.3-.4h.9v.9h-.9zm3.6 .6h.9v.9h-.9zm17.5-.5h.9v.9h-.9zm.8 .8h.9v.9h-.9zm4.9-.9h.9v.9h-.9zm-47.9 1.2h.9v.9h-.9zm15.4 .1h.9v.9h-.9zm8 .5h.9v.9h-.9zm19.1-.4h.9v.9h-.9zm-47.4 1.5h.9v.9h-.9zm.7-.8h.9v.9h-.9zm2.7 .3h.9v.9h-.9zm4.4-.4h.9v.9h-.9zm5.5 .9h.9v.9h-.9zm3.1-.6h.9v.9h-.9zm3.2 .4h.9v.9h-.9zm2.4-.4h.9v.9h-.9zm3 0h.9v.9h-.9zm4.8 .6h.9v.9h-.9zm9.4-.4h.9v.9h-.9zm11 .4h.9v.9h-.9zm-37.3 .1h.9v.9h-.9zm3.6 .2h.9v.9h-.9zm10.7 .3h.9v.9h-.9zm3.4 0h.9v.9h-.9zm2.9-.3h.9v.9h-.9zm10.8 .6h.9v.9h-.9zm-41.5 .4h.9v.9h-.9zm.7 .6h.9v.9h-.9zm17.1-.6h.9v.9h-.9zm1.1 .1h.9v.9h-.9zm.5 .6h.9v.9h-.9zm25-.9h.9v.9h-.9zm-40.8 1.6h.9v.9h-.9zm5.8-.1h.9v.9h-.9zm5.7-.3h.9v.9h-.9zm5.7 .3h.9v.9h-.9zm8.9-.3h.9v.9h-.9zm11.5 .3h.9v.9h-.9zm2.1 .3h.9v.9h-.9zm1.2-.3h.9v.9h-.9zm-24.8 1.4h.9v.9h-.9zm.4-.5h.9v.9h-.9zm.7 .5h.9v.9h-.9zm14.3-.1h.9v.9h-.9zm3.5 .1h.9v.9h-.9zm-12.9 .4h.9v.9h-.9zm10.6 .1h.9v.9h-.9zm-3.7 1.3h.9v.9h-.9z"/>
<path fill="#b8a2ae" d="M428.5 37.4h.9v.9h-.9zm.5 .6h.9v.9h-.9zm10.9-.1h.9v.9h-.9zm-14.4 1h.9v.9h-.9zm.9 .3h.9v.9h-.9zm13.9 0h.9v.9h-.9zm7.3-.4h.9v.9h-.9zm-21.9 1.3h.9v.9h-.9zm-7.3 .9h.9v.9h-.9zm5.2-.2h.9v.9h-.9zm6 0h.9v.9h-.9zm-7.8 1.2h.9v.9h-.9zm10.4-.3h.9v.9h-.9zm12.2 .6h.9v.9h-.9zm-31.9 .4h.9v.9h-.9zm27.6 0h.9v.9h-.9zm2.4 .7h.9v.9h-.9zm-31.8 .9h.9v.9h-.9zm18.1-.7h.9v.9h-.9zm.9 .5h.9v.9h-.9zm4.8-.4h.9v.9h-.9zm2.1 .5h.9v.9h-.9zm5.3-.6h.9v.9h-.9zm.1 .1h.9v.9h-.9zm-29.5 1.2h.9v.9h-.9zm20.5-.2h.9v.9h-.9zm8.6 .4h.9v.9h-.9zm4 .3h.9v.9h-.9zm7.4-.2h.9v.9h-.9zm-54.1 .5h.9v.9h-.9zm1.2 .1h.9v.9h-.9zm2.5-.1h.9v.9h-.9zm20 .4h.9v.9h-.9zm3.3-.4h.9v.9h-.9zm2.4 .2h.9v.9h-.9zm6.7 .1h.9v.9h-.9zm4.5 .3h.9v.9h-.9zm1.2-.6h.9v.9h-.9zm-29.9 1.4h.9v.9h-.9zm12.2 .3h.9v.9h-.9zm31.3-.6h.9v.9h-.9zm-53 1.6h.9v.9h-.9zm14.5-.8h.9v.9h-.9zm5.2 .5h.9v.9h-.9zm6.9 0h.9v.9h-.9zm1 .1h.9v.9h-.9zm.2 .2h.9v.9h-.9zm1.6-.8h.9v.9h-.9zm9.3 0h.9v.9h-.9zm9.6 .4h.9v.9h-.9zm-49.6 .8h.9v.9h-.9zm15.6-.2h.9v.9h-.9zm3.4 .6h.9v.9h-.9zm.5-.6h.9v.9h-.9zm4.6 .7h.9v.9h-.9zm1.1-.2h.9v.9h-.9zm17.3-.1h.9v.9h-.9zm5.2 0h.9v.9h-.9zm8.2 .4h.9v.9h-.9zm-51.8 .3h.9v.9h-.9zm16.2 .3h.9v.9h-.9zm3.2 .1h.9v.9h-.9zm9-.6h.9v.9h-.9zm14.7 .1h.9v.9h-.9zm1.1 .1h.9v.9h-.9zm7.2 .3h.9v.9h-.9zm-15.8 .8h.9v.9h-.9zm1.5 .3h.9v.9h-.9zm1.5-.1h.9v.9h-.9zm-45.1 .5h.9v.9h-.9zm7.2 .4h.9v.9h-.9zm3.2 0h.9v.9h-.9zm21.1-.3h.9v.9h-.9zm8 .6h.9v.9h-.9zm-33.9 .5h.9v.9h-.9zm24.6 .1h.9v.9h-.9zm5.1 0h.9v.9h-.9zm9.4 0h.9v.9h-.9zm-46.8 .7h.9v.9h-.9zm7.4 .4h.9v.9h-.9zm25.3 .1h.9v.9h-.9zm16.1-.3h.9v.9h-.9zm-38.9 1h.9v.9h-.9zm29.2 .3h.9v.9h-.9zm.9-.3h.9v.9h-.9zm3.9 .4h.9v.9h-.9zm3.6-.2h.9v.9h-.9zm10.7 .4h.9v.9h-.9zm4.9-.6h.9v.9h-.9zm-62.4 1.1h.9v.9h-.9zm.3 .1h.9v.9h-.9zm4.6-.4h.9v.9h-.9zm10 0h.9v.9h-.9zm.5 1h.9v.9h-.9zm8.3-.9h.9v.9h-.9zm2.9 .1h.9v.9h-.9zm10.9 .5h.9v.9h-.9zm.5-.4h.9v.9h-.9zm.5-.3h.9v.9h-.9zm1.5 1h.9v.9h-.9zm1.2-1h.9v.9h-.9zm3.6 .7h.9v.9h-.9zm3.3-.3h.9v.9h-.9zm2.2 0h.9v.9h-.9zm.4 .1h.9v.9h-.9zm10.4-.3h.9v.9h-.9zm1.7 .2h.9v.9h-.9zm-51.7 1h.9v.9h-.9zm0-.2h.9v.9h-.9zm21.9 .5h.9v.9h-.9zm-28.6 .3h.9v.9h-.9zm8.4 .6h.9v.9h-.9zm16.4-.4h.9v.9h-.9zm20-.2h.9v.9h-.9zm3.1 .8h.9v.9h-.9zm10.9-.5h.9v.9h-.9zm2-.1h.9v.9h-.9zm-55.6 1.7h.9v.9h-.9zm24.8-.2h.9v.9h-.9zm26.1 .2h.9v.9h-.9zm1.5-.6h.9v.9h-.9zm3.7 .2h.9v.9h-.9zm.4-.2h.9v.9h-.9zm-67.7 1.1h.9v.9h-.9zm24.1 .2h.9v.9h-.9zm3.1-.6h.9v.9h-.9zm5.7 .9h.9v.9h-.9zm2.9 .1h.9v.9h-.9zm3.6-.2h.9v.9h-.9zm1.3-.2h.9v.9h-.9zm.5-.1h.9v.9h-.9zm4.3 .3h.9v.9h-.9zm-44.1 .4h.9v.9h-.9zm17.1 .7h.9v.9h-.9zm4.2 0h.9v.9h-.9zm43.3 0h.9v.9h-.9zm-65.2 1h.9v.9h-.9zm3.5-.8h.9v.9h-.9zm9 .8h.9v.9h-.9zm6-.7h.9v.9h-.9zm.2 .3h.9v.9h-.9zm14.3 .1h.9v.9h-.9zm11 .2h.9v.9h-.9zm6.6 0h.9v.9h-.9zm13.2-.6h.9v.9h-.9zm.1-.2h.9v.9h-.9zm-39.3 1.9h.9v.9h-.9zm9.9-.2h.9v.9h-.9zm-34.5 1.1h.9v.9h-.9zm3.6-.3h.9v.9h-.9zm8.9-.1h.9v.9h-.9zm24.7 .1h.9v.9h-.9zm8.6-.4h.9v.9h-.9zm2.6 .2h.9v.9h-.9zm7 .5h.9v.9h-.9zm6.5 .1h.9v.9h-.9zm-56.3 .9h.9v.9h-.9zm8.7-.6h.9v.9h-.9zm6.8 .7h.9v.9h-.9zm4.4-.2h.9v.9h-.9zm.9 .1h.9v.9h-.9zm1.1 0h.9v.9h-.9zm13.5-.6h.9v.9h-.9zm3.6 .3h.9v.9h-.9zm1.5-.1h.9v.9h-.9zm14.8-.2h.9v.9h-.9zm-52.3 .8h.9v.9h-.9zm22.8 .7h.9v.9h-.9zm11.7 .3h.9v.9h-.9zm6.8-.4h.9v.9h-.9zm1.5 .3h.9v.9h-.9zm8.3-.1h.9v.9h-.9zm-52.1 .3h.9v.9h-.9zm2.9 .3h.9v.9h-.9zm.3-.1h.9v.9h-.9zm1.2 .5h.9v.9h-.9zm2.2 .1h.9v.9h-.9zm24.3-.6h.9v.9h-.9zm20.8 .5h.9v.9h-.9zm-56.7 .4h.9v.9h-.9zm.1 .3h.9v.9h-.9zm7.2 .5h.9v.9h-.9zm.6-.6h.9v.9h-.9zm11.6-.1h.9v.9h-.9zm1.2 .7h.9v.9h-.9zm16.5-.3h.9v.9h-.9zm.3 .3h.9v.9h-.9zm13.6-.1h.9v.9h-.9zm6-.9h.9v.9h-.9zm-56.4 1.5h.9v.9h-.9zm43.2 0h.9v.9h-.9zm10.1-.1h.9v.9h-.9zm-40.2 1.3h.9v.9h-.9zm5.7-.5h.9v.9h-.9zm25.2 .5h.9v.9h-.9zm5.5-.6h.9v.9h-.9zm-47.6 1.6h.9v.9h-.9zm4.2-.6h.9v.9h-.9zm2.6 .7h.9v.9h-.9zm2-.5h.9v.9h-.9zm13.1-.1h.9v.9h-.9zm6.7 1.3h.9v.9h-.9zm2.5 .5h.9v.9h-.9zm1.7-.3h.9v.9h-.9zm2.7 0h.9v.9h-.9zm6.4-.2h.9v.9h-.9zm5.8 .5h.9v.9h-.9zm2-.7h.9v.9h-.9zm2.1 0h.9v.9h-.9zm-46.3 .8h.9v.9h-.9zm2.7 .6h.9v.9h-.9zm.1 .1h.9v.9h-.9zm10.6 0h.9v.9h-.9zm16.6-.7h.9v.9h-.9zm3.1 .1h.9v.9h-.9zm-21.2 1.3h.9v.9h-.9zm11.2-.1h.9v.9h-.9zm-8.3 1.3h.9v.9h-.9zm6.3 0h.9v.9h-.9zm1.7-.6h.9v.9h-.9zm2.4 .4h.9v.9h-.9zm2.7 .1h.9v.9h-.9zm13.7 0h.9v.9h-.9zm-22.7 .8h.9v.9h-.9zm10.1-.3h.9v.9h-.9zm11.1 .4h.9v.9h-.9zm2.4-.4h.9v.9h-.9zm-22 1.6h.9v.9h-.9zm8.5 .9h.9v.9h-.9zm3 .4h.9v.9h-.9z"/>
<path fill="#cc7fb0" d="M427.1 36.3h.9v.9h-.9zm10.3 .5h.9v.9h-.9zm-12 1.6h.9v.9h-.9zm19.5-.6h.9v.9h-.9zm-22.8 .8h.9v.9h-.9zm5.1 1.9h.9v.9h-.9zm7.5-.4h.9v.9h-.9zm6.5-.4h.9v.9h-.9zm5.7-.2h.9v.9h-.9zm-16.9 1.9h.9v.9h-.9zm12.8-.8h.9v.9h-.9zm-26 1.7h.9v.9h-.9zm.6 .1h.9v.9h-.9zm1.8-.3h.9v.9h-.9zm3.5 .4h.9v.9h-.9zm1.4-.5h.9v.9h-.9zm19.6 0h.9v.9h-.9zm4.5 0h.9v.9h-.9zm-41.5 1.3h.9v.9h-.9zm10.5 0h.9v.9h-.9zm3.5-.6h.9v.9h-.9zm8 0h.9v.9h-.9zm13.5 .4h.9v.9h-.9zm-28.7 1.1h.9v.9h-.9zm19.1-.1h.9v.9h-.9zm1.3 .6h.9v.9h-.9zm.3 .7h.9v.9h-.9zm-34.8 .9h.9v.9h-.9zm8.5-.4h.9v.9h-.9zm.3 0h.9v.9h-.9zm6.9 .4h.9v.9h-.9zm.3 .1h.9v.9h-.9zm1-.4h.9v.9h-.9zm.9-.4h.9v.9h-.9zm1.6 .5h.9v.9h-.9zm.7-.6h.9v.9h-.9zm5.1 .8h.9v.9h-.9zm10.2 .2h.9v.9h-.9zm.1-.7h.9v.9h-.9zm-26 .8h.9v.9h-.9zm20.1 .4h.9v.9h-.9zm-22.2 1.3h.9v.9h-.9zm2.7-.7h.9v.9h-.9zm22.9 .4h.9v.9h-.9zm.5 .3h.9v.9h-.9zm-21.3 .3h.9v.9h-.9zm20.5 .3h.9v.9h-.9zm4.5 .5h.9v.9h-.9zm.3-.8h.9v.9h-.9zm2.2 .7h.9v.9h-.9zm7.2-.5h.9v.9h-.9zm7.5 .5h.9v.9h-.9zm-55.8 .4h.9v.9h-.9zm.2 .7h.9v.9h-.9zm13.6 .1h.9v.9h-.9zm7-.5h.9v.9h-.9zm5-.2h.9v.9h-.9zm.7 .6h.9v.9h-.9zm10.5-.3h.9v.9h-.9zm12.1 .2h.9v.9h-.9zm-47.4 .7h.9v.9h-.9zm1.8-.4h.9v.9h-.9zm8.6 .3h.9v.9h-.9zm4.2 .2h.9v.9h-.9zm11.5-.2h.9v.9h-.9zm19.1 .5h.9v.9h-.9zm-48.8 .1h.9v.9h-.9zm19.4 .1h.9v.9h-.9zm20.7 .8h.9v.9h-.9zm4.8 .1h.9v.9h-.9zm1.7-.7h.9v.9h-.9zm-29.6 1.1h.9v.9h-.9zm4.1-.3h.9v.9h-.9zm-20.6 1.9h.9v.9h-.9zm7.3-.4h.9v.9h-.9zm6.7-.1h.9v.9h-.9zm3.6 .4h.9v.9h-.9zm2.5-.1h.9v.9h-.9zm10.7-.3h.9v.9h-.9zm14.9 .1h.9v.9h-.9zm5.5-.6h.9v.9h-.9zm.1 .5h.9v.9h-.9zm7.8-.1h.9v.9h-.9zm1.6 .3h.9v.9h-.9zm2-.1h.9v.9h-.9zm-47.9 1.2h.9v.9h-.9zm-16.7 1.2h.9v.9h-.9zm17-1h.9v.9h-.9zm10.2 .2h.9v.9h-.9zm18.4 .3h.9v.9h-.9zm6.7 .5h.9v.9h-.9zm3.2-1h.9v.9h-.9zm.7 .5h.9v.9h-.9zm1-.1h.9v.9h-.9zm4.4 .3h.9v.9h-.9zm3-.3h.9v.9h-.9zm-47.8 1.2h.9v.9h-.9zm17.1 .1h.9v.9h-.9zm6-.6h.9v.9h-.9zm16.8 .3h.9v.9h-.9zm-54.7 .6h.9v.9h-.9zm3.8 .7h.9v.9h-.9zm2.7 0h.9v.9h-.9zm.6-.3h.9v.9h-.9zm15.3 .4h.9v.9h-.9zm8.6-.1h.9v.9h-.9zm11.3-.4h.9v.9h-.9zm1.3 .2h.9v.9h-.9zm2.3 .3h.9v.9h-.9zm15.3 .2h.9v.9h-.9zm-52.5 .9h.9v.9h-.9zm1.1-.3h.9v.9h-.9zm1.1-.5h.9v.9h-.9zm13.9 0h.9v.9h-.9zm1.3 0h.9v.9h-.9zm3.2 .7h.9v.9h-.9zm15.5 .1h.9v.9h-.9zm15.2-.7h.9v.9h-.9zm-55.7 1.5h.9v.9h-.9zm5.7-.3h.9v.9h-.9zm1.7-.2h.9v.9h-.9zm8.9 .8h.9v.9h-.9zm4.6 0h.9v.9h-.9zm24.3-.8h.9v.9h-.9zm1.8-.2h.9v.9h-.9zm3.8 .7h.9v.9h-.9zm.7 .2h.9v.9h-.9zm4.3-.3h.9v.9h-.9zm-61.5 .7h.9v.9h-.9zm23 .3h.9v.9h-.9zm.7-.4h.9v.9h-.9zm7.1 .4h.9v.9h-.9zm5.3-.5h.9v.9h-.9zm.5 .8h.9v.9h-.9zm2.6-.8h.9v.9h-.9zm10.9 .7h.9v.9h-.9zm-41.2 1.1h.9v.9h-.9zm4.1 .1h.9v.9h-.9zm.7-.2h.9v.9h-.9zm20.2 .2h.9v.9h-.9zm4.6-.4h.9v.9h-.9zm7.2 .3h.9v.9h-.9zm1.2-.4h.9v.9h-.9zm7-.4h.9v.9h-.9zm.3 .4h.9v.9h-.9zm7.5-.4h.9v.9h-.9zm4-.1h.9v.9h-.9zm-43.8 1.4h.9v.9h-.9zm5.2-.3h.9v.9h-.9zm14.3 .1h.9v.9h-.9zm12.2 .6h.9v.9h-.9zm-47.3 .8h.9v.9h-.9zm7.2-.4h.9v.9h-.9zm0 .8h.9v.9h-.9zm1.3 0h.9v.9h-.9zm16-.6h.9v.9h-.9zm11.1 .1h.9v.9h-.9zm2.6-.5h.9v.9h-.9zm.8 .3h.9v.9h-.9zm4.7 .2h.9v.9h-.9zm6.9 .3h.9v.9h-.9zm2.2 .2h.9v.9h-.9zm-39.4 .1h.9v.9h-.9zm.1 .4h.9v.9h-.9zm19-.1h.9v.9h-.9zm11.7-.1h.9v.9h-.9zm8.6-.2h.9v.9h-.9zm-27.4 1.6h.9v.9h-.9zm.4 .2h.9v.9h-.9zm22-.1h.9v.9h-.9zm-53.3 .8h.9v.9h-.9zm1.1-.2h.9v.9h-.9zm9.6 .4h.9v.9h-.9zm7.5-.6h.9v.9h-.9zm.2 .6h.9v.9h-.9zm6.6-.4h.9v.9h-.9zm9.7-.1h.9v.9h-.9zm24.8 .1h.9v.9h-.9zm-59.1 .9h.9v.9h-.9zm15.4 0h.9v.9h-.9zm7.7-.1h.9v.9h-.9zm6.6 .2h.9v.9h-.9zm.8 .3h.9v.9h-.9zm.7 .1h.9v.9h-.9zm3.6-.6h.9v.9h-.9zm3.8 .6h.9v.9h-.9zm.6-.6h.9v.9h-.9zm2.5 0h.9v.9h-.9zm-28.7 1.7h.9v.9h-.9zm8.5-.4h.9v.9h-.9zm18.4 .2h.9v.9h-.9zm-28.1 .6h.9v.9h-.9zm1.8 .5h.9v.9h-.9zm31.3-.8h.9v.9h-.9zm10.3 .6h.9v.9h-.9zm-50.3 .7h.9v.9h-.9zm2 0h.9v.9h-.9zm48.5 .2h.9v.9h-.9zm-47.1 1.5h.9v.9h-.9zm10-.6h.9v.9h-.9zm-4.4 1.4h.9v.9h-.9zm17.6 .1h.9v.9h-.9zm-22.1 1.1h.9v.9h-.9zm19.5-.7h.9v.9h-.9zm6.1 .5h.9v.9h-.9zm11.9 0h.9v.9h-.9zm5.5-.4h.9v.9h-.9zm-38.8 .9h.9v.9h-.9zm13.5-.2h.9v.9h-.9zm4.5 .3h.9v.9h-.9zm18 0h.9v.9h-.9zm-18.4 1.3h.9v.9h-.9zm8.2 0h.9v.9h-.9zm.6 .1h.9v.9h-.9zm3.8-.2h.9v.9h-.9zm-17.7 1.1h.9v.9h-.9zm1.4 .2h.9v.9h-.9zm20.9-.7h.9v.9h-.9zm-16.3 1h.9v.9h-.9zm8.4-.2h.9v.9h-.9zm2.8 1h.9v.9h-.9z"/>
<path fill="#c4a4b6" d="M440.9 36.6h.9v.9h-.9zm1.4 .3h.9v.9h-.9zm-13.9 .6h.9v.9h-.9zm14 .3h.9v.9h-.9zm-11.7 .8h.9v.9h-.9zm9 .2h.9v.9h-.9zm4.9 1.1h.9v.9h-.9zm-29 .9h.9v.9h-.9zm11.1 .5h.9v.9h-.9zm.3-.4h.9v.9h-.9zm8.9-.3h.9v.9h-.9zm4.5 0h.9v.9h-.9zm5.7 .4h.9v.9h-.9zm-30 .6h.9v.9h-.9zm13.5-.1h.9v.9h-.9zm5.2 .7h.9v.9h-.9zm.5-.6h.9v.9h-.9zm9.5 .6h.9v.9h-.9zm-5.9 1.1h.9v.9h-.9zm4.5-.2h.9v.9h-.9zm-38.4 .7h.9v.9h-.9zm18.5-.1h.9v.9h-.9zm2.4 .2h.9v.9h-.9zm11.5-.3h.9v.9h-.9zm1.9-.1h.9v.9h-.9zm-35.2 1.7h.9v.9h-.9zm4.2-.2h.9v.9h-.9zm17.6-.2h.9v.9h-.9zm.8-.2h.9v.9h-.9zm17.8 0h.9v.9h-.9zm6.6 .8h.9v.9h-.9zm-51.2 .4h.9v.9h-.9zm14.8-.3h.9v.9h-.9zm2.8 .6h.9v.9h-.9zm24.8-.1h.9v.9h-.9zm-14.5 1.2h.9v.9h-.9zm9.2-.3h.9v.9h-.9zm4.7 .2h.9v.9h-.9zm6.4-.4h.9v.9h-.9zm-39.4 1h.9v.9h-.9zm2.7 0h.9v.9h-.9zm27.8 0h.9v.9h-.9zm15.1 .5h.9v.9h-.9zm-51 .8h.9v.9h-.9zm35 .4h.9v.9h-.9zm12.6-.1h.9v.9h-.9zm4.9-.2h.9v.9h-.9zm-56 1.4h.9v.9h-.9zm6.5 0h.9v.9h-.9zm2.8-.7h.9v.9h-.9zm6.2 .1h.9v.9h-.9zm23.8 .3h.9v.9h-.9zm4.5-.5h.9v.9h-.9zm-36.3 .9h.9v.9h-.9zm6.8 .3h.9v.9h-.9zm2.8 .3h.9v.9h-.9zm11.2-.4h.9v.9h-.9zm3.3 .4h.9v.9h-.9zm4.4 .2h.9v.9h-.9zm1.1-.2h.9v.9h-.9zm.2-.2h.9v.9h-.9zm19.3 0h.9v.9h-.9zm-54.7 1.3h.9v.9h-.9zm5.5-.8h.9v.9h-.9zm19.5 1h.9v.9h-.9zm4.6-.1h.9v.9h-.9zm13.8-.6h.9v.9h-.9zm6.1 .6h.9v.9h-.9zm7.6 0h.9v.9h-.9zm-62.6 1h.9v.9h-.9zm32.9-.1h.9v.9h-.9zm14-.4h.9v.9h-.9zm.9 .1h.9v.9h-.9zm.5 .4h.9v.9h-.9zm3.9-.2h.9v.9h-.9zm-50.3 1.2h.9v.9h-.9zm.9-.8h.9v.9h-.9zm10.9 0h.9v.9h-.9zm4.1 .8h.9v.9h-.9zm1.1-.8h.9v.9h-.9zm4.7 .8h.9v.9h-.9zm11.8-.2h.9v.9h-.9zm.6 .2h.9v.9h-.9zm3.9-.8h.9v.9h-.9zm9.3 .4h.9v.9h-.9zm2.2 .3h.9v.9h-.9zm-30.6 .3h.9v.9h-.9zm9 0h.9v.9h-.9zm1.8 .6h.9v.9h-.9zm8.5-.2h.9v.9h-.9zm.3 0h.9v.9h-.9zm6.2-.3h.9v.9h-.9zm.5 .2h.9v.9h-.9zm3.8 .1h.9v.9h-.9zm5.1-.2h.9v.9h-.9zm-56.1 .7h.9v.9h-.9zm.8 .1h.9v.9h-.9zm22 .7h.9v.9h-.9zm1.7-.4h.9v.9h-.9zm2.9-.3h.9v.9h-.9zm7.6 .3h.9v.9h-.9zm11.2 .5h.9v.9h-.9zm14.1-.5h.9v.9h-.9zm1.9 .2h.9v.9h-.9zm-62.3 .7h.9v.9h-.9zm21.5-.2h.9v.9h-.9zm6.4 .4h.9v.9h-.9zm4.4-.4h.9v.9h-.9zm10.6 .8h.9v.9h-.9zm9.5-.5h.9v.9h-.9zm-53.5 1.6h.9v.9h-.9zm59.6-.5h.9v.9h-.9zm-60 1.1h.9v.9h-.9zm6.7 .1h.9v.9h-.9zm5.1 .2h.9v.9h-.9zm26.9-.6h.9v.9h-.9zm2.8 .1h.9v.9h-.9zm14.8-.2h.9v.9h-.9zm1.9 .3h.9v.9h-.9zm-49.2 .9h.9v.9h-.9zm2.5 .3h.9v.9h-.9zm16.7-.5h.9v.9h-.9zm1.8 .5h.9v.9h-.9zm10.6-.1h.9v.9h-.9zm19.9 .3h.9v.9h-.9zm6.4-.6h.9v.9h-.9zm.3 .5h.9v.9h-.9zm-67.4 .7h.9v.9h-.9zm8.3-.1h.9v.9h-.9zm16.6-.1h.9v.9h-.9zm17.5 .3h.9v.9h-.9zm10.9-.2h.9v.9h-.9zm-42.6 1.6h.9v.9h-.9zm4-.4h.9v.9h-.9zm11.3-.5h.9v.9h-.9zm.5 .4h.9v.9h-.9zm6.5-.5h.9v.9h-.9zm5.5 .3h.9v.9h-.9zm13.6 .1h.9v.9h-.9zm.6-.4h.9v.9h-.9zm4.9 0h.9v.9h-.9zm5.4 .3h.9v.9h-.9zm.7 .2h.9v.9h-.9zm-47.1 .7h.9v.9h-.9zm24.9 .3h.9v.9h-.9zm6.5-.1h.9v.9h-.9zm6.2 .1h.9v.9h-.9zm.6 0h.9v.9h-.9zm4.6 0h.9v.9h-.9zm-45.9 1.1h.9v.9h-.9zm3.4 .1h.9v.9h-.9zm4-.6h.9v.9h-.9zm10.8 .5h.9v.9h-.9zm3.4 .2h.9v.9h-.9zm11.1-.8h.9v.9h-.9zm.4 .8h.9v.9h-.9zm.2-.2h.9v.9h-.9zm12.3-.6h.9v.9h-.9zm-40.8 1.4h.9v.9h-.9zm4.5-.2h.9v.9h-.9zm14.1 .4h.9v.9h-.9zm1.8 .1h.9v.9h-.9zm.6-.6h.9v.9h-.9zm-36 1.3h.9v.9h-.9zm17.4 0h.9v.9h-.9zm.8 0h.9v.9h-.9zm14.7 .1h.9v.9h-.9zm5.6 .4h.9v.9h-.9zm.3-.3h.9v.9h-.9zm8.8 0h.9v.9h-.9zm6.2 .3h.9v.9h-.9zm5.2-.8h.9v.9h-.9zm-45.2 1.1h.9v.9h-.9zm4.8-.1h.9v.9h-.9zm14.8 .3h.9v.9h-.9zm2.7 .1h.9v.9h-.9zm6.9 .3h.9v.9h-.9zm.5-.5h.9v.9h-.9zm12.5 .5h.9v.9h-.9zm.2-.7h.9v.9h-.9zm.2 .2h.9v.9h-.9zm-49.4 1.4h.9v.9h-.9zm21 .3h.9v.9h-.9zm20.1-.3h.9v.9h-.9zm10 .2h.9v.9h-.9zm.3-.8h.9v.9h-.9zm.3 .1h.9v.9h-.9zm.8 .3h.9v.9h-.9zm-30.9 1.3h.9v.9h-.9zm2-.5h.9v.9h-.9zm12.9 .2h.9v.9h-.9zm12.3-.3h.9v.9h-.9zm-49.2 1.4h.9v.9h-.9zm.6 .1h.9v.9h-.9zm23.1-.6h.9v.9h-.9zm8.5 .6h.9v.9h-.9zm-17.3 .8h.9v.9h-.9zm11.2 .3h.9v.9h-.9zm.5-.4h.9v.9h-.9zm-7.8 1h.9v.9h-.9zm1.9-.4h.9v.9h-.9zm2.1 1h.9v.9h-.9zm5-.9h.9v.9h-.9zm4.7 .8h.9v.9h-.9zm6.4-.1h.9v.9h-.9zm-13.4 1.1h.9v.9h-.9zm.6-.2h.9v.9h-.9zm5-.4h.9v.9h-.9zm1.6-.2h.9v.9h-.9zm13.1 .6h.9v.9h-.9zm-20.4 1.3h.9v.9h-.9zm1.2-.4h.9v.9h-.9zm6.7 .1h.9v.9h-.9zm4.1 .1h.9v.9h-.9zm-31.2 1h.9v.9h-.9zm3.1-.3h.9v.9h-.9zm17.9-.3h.9v.9h-.9zm12.2 0h.9v.9h-.9zm-21.5 .9h.9v.9h-.9zm9.5 .8h.9v.9h-.9zm9.9 1.9h.9v.9h-.9z"/>
<path fill="#dfa9cb" d="M438.1 36.8h.9v.9h-.9zm-18.7 .8h.9v.9h-.9zm1.9 .7h.9v.9h-.9zm.7-.8h.9v.9h-.9zm9.3 1.1h.9v.9h-.9zm-12.8 1.6h.9v.9h-.9zm9.7-.5h.9v.9h-.9zm5-.2h.9v.9h-.9zm.1 .3h.9v.9h-.9zm.9 0h.9v.9h-.9zm3.2 .6h.9v.9h-.9zm-23.6 .8h.9v.9h-.9zm23.9-.4h.9v.9h-.9zm0 .2h.9v.9h-.9zm-22.3 .7h.9v.9h-.9zm2.1 .2h.9v.9h-.9zm7.3-.2h.9v.9h-.9zm6.2 .4h.9v.9h-.9zm12.2-.6h.9v.9h-.9zm-28.8 1.6h.9v.9h-.9zm5.6 .3h.9v.9h-.9zm2.5-.4h.9v.9h-.9zm.7 .3h.9v.9h-.9zm1.4-.5h.9v.9h-.9zm9.8 .4h.9v.9h-.9zm.1-.4h.9v.9h-.9zm-24.4 .7h.9v.9h-.9zm14.5 .8h.9v.9h-.9zm11.6 .2h.9v.9h-.9zm1.8-.5h.9v.9h-.9zm10.8-.1h.9v.9h-.9zm.9 .2h.9v.9h-.9zm-29.8 .6h.9v.9h-.9zm-2.8 1.1h.9v.9h-.9zm11.9 .3h.9v.9h-.9zm16.9 .1h.9v.9h-.9zm2.1 .1h.9v.9h-.9zm4.9 0h.9v.9h-.9zm-44.5 .8h.9v.9h-.9zm2.9 .1h.9v.9h-.9zm3.1-.2h.9v.9h-.9zm6 .4h.9v.9h-.9zm1.9-.8h.9v.9h-.9zm8.7 .7h.9v.9h-.9zm.8-.6h.9v.9h-.9zm3.3 .2h.9v.9h-.9zm-28.8 .8h.9v.9h-.9zm3.3 .4h.9v.9h-.9zm22 1.1h.9v.9h-.9zm.3-.5h.9v.9h-.9zm13.3 0h.9v.9h-.9zm9.5 .7h.9v.9h-.9zm.3-.2h.9v.9h-.9zm-54.4 1.1h.9v.9h-.9zm11.5-.3h.9v.9h-.9zm1.2 .2h.9v.9h-.9zm9.3-.7h.9v.9h-.9zm6.9 .3h.9v.9h-.9zm11.6-.1h.9v.9h-.9zm-44.7 1.1h.9v.9h-.9zm9.4 .5h.9v.9h-.9zm19.7-.4h.9v.9h-.9zm4.5 .1h.9v.9h-.9zm-17.1 1.4h.9v.9h-.9zm5.8-.3h.9v.9h-.9zm10.9-.3h.9v.9h-.9zm3.4 .3h.9v.9h-.9zm5.4-.2h.9v.9h-.9zm6.7 .2h.9v.9h-.9zm-41 .7h.9v.9h-.9zm8.6 .4h.9v.9h-.9zm20.6-.2h.9v.9h-.9zm11.2 .3h.9v.9h-.9zm-41.5 1.1h.9v.9h-.9zm39 0h.9v.9h-.9zm.1-.5h.9v.9h-.9zm-43 1.1h.9v.9h-.9zm32.3-.4h.9v.9h-.9zm2.3 .2h.9v.9h-.9zm3.4 0h.9v.9h-.9zm6.5 .6h.9v.9h-.9zm-41.4 .1h.9v.9h-.9zm4.9 .4h.9v.9h-.9zm31.7 .3h.9v.9h-.9zm17.4-.2h.9v.9h-.9zm-59.3 1.3h.9v.9h-.9zm2.9-.1h.9v.9h-.9zm9.7-.4h.9v.9h-.9zm27.8 .5h.9v.9h-.9zm4-.4h.9v.9h-.9zm3 .3h.9v.9h-.9zm5.7-.6h.9v.9h-.9zm5.4 .6h.9v.9h-.9zm-53.5 1.2h.9v.9h-.9zm6.3-.5h.9v.9h-.9zm32.7 .4h.9v.9h-.9zm2.4-.1h.9v.9h-.9zm1.1-.4h.9v.9h-.9zm7.3-.3h.9v.9h-.9zm1.8 .4h.9v.9h-.9zm-47.5 1h.9v.9h-.9zm1.4 .3h.9v.9h-.9zm6.3-.2h.9v.9h-.9zm12.3 .1h.9v.9h-.9zm5.5 .3h.9v.9h-.9zm30.1-.3h.9v.9h-.9zm-65.2 1.1h.9v.9h-.9zm4.5-.3h.9v.9h-.9zm11.2 .5h.9v.9h-.9zm32-.7h.9v.9h-.9zm1.9 .1h.9v.9h-.9zm13.5-.3h.9v.9h-.9zm-65 1.8h.9v.9h-.9zm27.2-.7h.9v.9h-.9zm33.9 .1h.9v.9h-.9zm-45 1.1h.9v.9h-.9zm6.2 .5h.9v.9h-.9zm15.2-.7h.9v.9h-.9zm.4 .3h.9v.9h-.9zm7.1 .3h.9v.9h-.9zm6.1-.6h.9v.9h-.9zm11.6-.1h.9v.9h-.9zm3.8 .6h.9v.9h-.9zm-53.9 1.3h.9v.9h-.9zm2-.3h.9v.9h-.9zm21.9 .1h.9v.9h-.9zm26.6-.2h.9v.9h-.9zm-60 .8h.9v.9h-.9zm2.9 .1h.9v.9h-.9zm9.4 .4h.9v.9h-.9zm26.6-.8h.9v.9h-.9zm14.1 0h.9v.9h-.9zm-43.1 1.6h.9v.9h-.9zm25.7 0h.9v.9h-.9zm-24.6 .6h.9v.9h-.9zm8.7-.2h.9v.9h-.9zm13.4 .5h.9v.9h-.9zm7.9 .4h.9v.9h-.9zm5.7-.3h.9v.9h-.9zm.3-.4h.9v.9h-.9zm1.5 .1h.9v.9h-.9zm1.1-.2h.9v.9h-.9zm2.7 .9h.9v.9h-.9zm4.3-1h.9v.9h-.9zm-18.2 1.7h.9v.9h-.9zm1.9-.2h.9v.9h-.9zm3.5-.2h.9v.9h-.9zm2.8 .5h.9v.9h-.9zm.8-.3h.9v.9h-.9zm1.5-.4h.9v.9h-.9zm0 .3h.9v.9h-.9zm5.9 0h.9v.9h-.9zm-24.1 1.5h.9v.9h-.9zm-30.9 .4h.9v.9h-.9zm2.7 .5h.9v.9h-.9zm.5-.5h.9v.9h-.9zm5.2 .4h.9v.9h-.9zm7-.6h.9v.9h-.9zm2.8 .4h.9v.9h-.9zm3.8 .2h.9v.9h-.9zm36.9 .2h.9v.9h-.9zm-43.7 1h.9v.9h-.9zm.4-.5h.9v.9h-.9zm7.2 .6h.9v.9h-.9zm18.5-.3h.9v.9h-.9zm16 .2h.9v.9h-.9zm-39.5 .6h.9v.9h-.9zm12.6 0h.9v.9h-.9zm-23.7 1.3h.9v.9h-.9zm6-.5h.9v.9h-.9zm4.9-.3h.9v.9h-.9zm2.4 .3h.9v.9h-.9zm18 .6h.9v.9h-.9zm4.7-.5h.9v.9h-.9zm5.1 .1h.9v.9h-.9zm3-.1h.9v.9h-.9zm-29.3 .8h.9v.9h-.9zm1.9 .1h.9v.9h-.9zm27.3 .5h.9v.9h-.9zm2.8-.3h.9v.9h-.9zm-36.4 1.3h.9v.9h-.9zm4.1-.1h.9v.9h-.9zm7.6 .1h.9v.9h-.9zm1-.2h.9v.9h-.9zm3.2-.3h.9v.9h-.9zm14.6-.2h.9v.9h-.9zm-25.7 1.2h.9v.9h-.9zm11.2 .4h.9v.9h-.9zm13.7 .2h.9v.9h-.9zm-21.7 .8h.9v.9h-.9zm6.1 0h.9v.9h-.9zm1 0h.9v.9h-.9zm4.7-.6h.9v.9h-.9zm5 .9h.9v.9h-.9zm1.8-.9h.9v.9h-.9zm4.1 .1h.9v.9h-.9zm-19.3 1.4h.9v.9h-.9zm1.7-.2h.9v.9h-.9zm4.1 .8h.9v.9h-.9zm2.9 .1h.9v.9h-.9zm4.3 .2h.9v.9h-.9z"/>
<path fill="#d184b6" d="M426.1 35.9h.9v.9h-.9zm.2 .3h.9v.9h-.9zm11.6 1.3h.9v.9h-.9zm-16.3 2.4h.9v.9h-.9zm20 .3h.9v.9h-.9zm.7 .1h.9v.9h-.9zm1.9-.5h.9v.9h-.9zm-25.3 1.6h.9v.9h-.9zm2.8 0h.9v.9h-.9zm7.1 0h.9v.9h-.9zm4.9-.4h.9v.9h-.9zm-11.6 .7h.9v.9h-.9zm4.6 .2h.9v.9h-.9zm-21.3 1.2h.9v.9h-.9zm5-.1h.9v.9h-.9zm26.4 0h.9v.9h-.9zm-19.7 1.1h.9v.9h-.9zm10.8 .1h.9v.9h-.9zm9.4-.6h.9v.9h-.9zm11.9 .4h.9v.9h-.9zm-33.3 1.3h.9v.9h-.9zm7.5-.5h.9v.9h-.9zm8 .6h.9v.9h-.9zm-31.5 .6h.9v.9h-.9zm5.6 .4h.9v.9h-.9zm2.3 0h.9v.9h-.9zm.5-.5h.9v.9h-.9zm12.2-.1h.9v.9h-.9zm3.6 .5h.9v.9h-.9zm.5 0h.9v.9h-.9zm22.3 0h.9v.9h-.9zm4 0h.9v.9h-.9zm-36 1h.9v.9h-.9zm6.7-.5h.9v.9h-.9zm2.9 .3h.9v.9h-.9zm8.7 0h.9v.9h-.9zm-29.2 1.1h.9v.9h-.9zm5.5-.6h.9v.9h-.9zm3.2 .6h.9v.9h-.9zm2-.3h.9v.9h-.9zm18.5-.3h.9v.9h-.9zm-35 1.1h.9v.9h-.9zm.4 0h.9v.9h-.9zm1.8 .6h.9v.9h-.9zm1.8-.2h.9v.9h-.9zm.6 0h.9v.9h-.9zm14.3-.5h.9v.9h-.9zm2.4 .4h.9v.9h-.9zm22.7-.3h.9v.9h-.9zm1.2 .2h.9v.9h-.9zm-36 1.5h.9v.9h-.9zm8-.5h.9v.9h-.9zm.5 .2h.9v.9h-.9zm15.3-.3h.9v.9h-.9zm.4 .6h.9v.9h-.9zm-18.6 .2h.9v.9h-.9zm4.6 .5h.9v.9h-.9zm14.3-.3h.9v.9h-.9zm15.5 0h.9v.9h-.9zm10.4 .2h.9v.9h-.9zm-58.7 .5h.9v.9h-.9zm8.1 .7h.9v.9h-.9zm7.8-.7h.9v.9h-.9zm4.4 1.3h.9v.9h-.9zm9.6 .3h.9v.9h-.9zm14.2-.5h.9v.9h-.9zm12.4 .3h.9v.9h-.9zm3.3 .1h.9v.9h-.9zm-44.1 1.1h.9v.9h-.9zm.8-.4h.9v.9h-.9zm15.5 .4h.9v.9h-.9zm16.7 .1h.9v.9h-.9zm-47.9 .8h.9v.9h-.9zm19.7-.4h.9v.9h-.9zm18.6 .1h.9v.9h-.9zm6.6 .6h.9v.9h-.9zm-50.6 1.1h.9v.9h-.9zm9.4 0h.9v.9h-.9zm7.5-.7h.9v.9h-.9zm5.2 .8h.9v.9h-.9zm13.9-1h.9v.9h-.9zm9.2 .6h.9v.9h-.9zm1 .1h.9v.9h-.9zm13.7-.2h.9v.9h-.9zm2.6 .4h.9v.9h-.9zm-54.7 .9h.9v.9h-.9zm4.2-.3h.9v.9h-.9zm6.1 .1h.9v.9h-.9zm23.5-.4h.9v.9h-.9zm18.6 .6h.9v.9h-.9zm6.6-.7h.9v.9h-.9zm-38.2 .9h.9v.9h-.9zm13.3 .4h.9v.9h-.9zm24.1 .2h.9v.9h-.9zm-50.5 1.3h.9v.9h-.9zm9.9-.4h.9v.9h-.9zm14.4-.4h.9v.9h-.9zm8 0h.9v.9h-.9zm.8 .8h.9v.9h-.9zm8.2-.1h.9v.9h-.9zm4.8-.3h.9v.9h-.9zm-61.6 .7h.9v.9h-.9zm5.4 0h.9v.9h-.9zm1.6 .5h.9v.9h-.9zm13.7 .1h.9v.9h-.9zm5.2 .2h.9v.9h-.9zm.3-.6h.9v.9h-.9zm35.4-.4h.9v.9h-.9zm1.2 .2h.9v.9h-.9zm-57.2 1.2h.9v.9h-.9zm3.5 .3h.9v.9h-.9zm4-.1h.9v.9h-.9zm1-.3h.9v.9h-.9zm7.4 .1h.9v.9h-.9zm16.5 .3h.9v.9h-.9zm-20.8 .3h.9v.9h-.9zm11.3 .9h.9v.9h-.9zm.5 0h.9v.9h-.9zm2.8 .1h.9v.9h-.9zm2.6-.2h.9v.9h-.9zm15.2-.1h.9v.9h-.9zm16.4-.4h.9v.9h-.9zm-35.6 1.2h.9v.9h-.9zm.8 0h.9v.9h-.9zm15.3 .4h.9v.9h-.9zm16.1-.6h.9v.9h-.9zm4.1-.1h.9v.9h-.9zm-41.5 1.8h.9v.9h-.9zm14.4-.6h.9v.9h-.9zm.4-.4h.9v.9h-.9zm7.4 1.9h.9v.9h-.9zm3.8-.4h.9v.9h-.9zm-27.3 .8h.9v.9h-.9zm7.1 .5h.9v.9h-.9zm23.4-.7h.9v.9h-.9zm-52.6 1.1h.9v.9h-.9zm27 .4h.9v.9h-.9zm14.5-.4h.9v.9h-.9zm11.2 .7h.9v.9h-.9zm10.1-.8h.9v.9h-.9zm-56.8 1.7h.9v.9h-.9zm1.5-.7h.9v.9h-.9zm13.8 .3h.9v.9h-.9zm1.6-.2h.9v.9h-.9zm7.2 0h.9v.9h-.9zm7.6 .1h.9v.9h-.9zm2.4 .4h.9v.9h-.9zm9.5 .2h.9v.9h-.9zm-28.7 .6h.9v.9h-.9zm22.3-.4h.9v.9h-.9zm9.8 .3h.9v.9h-.9zm6.1 .4h.9v.9h-.9zm-55.3 1h.9v.9h-.9zm6.6 .2h.9v.9h-.9zm6.8-.9h.9v.9h-.9zm9.3 .4h.9v.9h-.9zm2.5-.2h.9v.9h-.9zm4.5 .6h.9v.9h-.9zm6.3-.2h.9v.9h-.9zm13.2-.4h.9v.9h-.9zm.7 .7h.9v.9h-.9zm-48.6 .1h.9v.9h-.9zm6 .1h.9v.9h-.9zm6.2 .6h.9v.9h-.9zm3-.5h.9v.9h-.9zm12.7 0h.9v.9h-.9zm7.7 .4h.9v.9h-.9zm1.5-.3h.9v.9h-.9zm2.8 .3h.9v.9h-.9zm4.1 .2h.9v.9h-.9zm-27.9 .8h.9v.9h-.9zm.1-.7h.9v.9h-.9zm10.4 .1h.9v.9h-.9zm5.3 .1h.9v.9h-.9zm10.5 .8h.9v.9h-.9zm1.8-.3h.9v.9h-.9zm6.8 .3h.9v.9h-.9zm-40.3 .5h.9v.9h-.9zm22.7 .2h.9v.9h-.9zm2.2-.1h.9v.9h-.9zm4.5 0h.9v.9h-.9zm11.3 0h.9v.9h-.9zm-26.8 1.1h.9v.9h-.9zm.7 0h.9v.9h-.9zm1.3-.7h.9v.9h-.9zm0 .2h.9v.9h-.9zm.9 .8h.9v.9h-.9zm20 0h.9v.9h-.9zm-21.9 .1h.9v.9h-.9zm4.7 .7h.9v.9h-.9zm-18.7 .2h.9v.9h-.9zm26.7 .1h.9v.9h-.9zm.6 .7h.9v.9h-.9zm2.4-.3h.9v.9h-.9zm5.3 .1h.9v.9h-.9zm1.5 .2h.9v.9h-.9zm-26.9 .3h.9v.9h-.9zm7.5 .5h.9v.9h-.9zm10 1.1h.9v.9h-.9z"/>
<line x1="388.3" y1="82.5" x2="388.3" y2="58.5" stroke="#222" stroke-width="0.7"/>
<line x1="388.3" y1="82.5" x2="412.3" y2="82.5" stroke="#222" stroke-width="0.7"/>
<polygon points="388.30,57.94 389.56,60.74 387.04,60.74" fill="#222"/>
<polygon points="412.86,82.50 410.06,83.76 410.06,81.24" fill="#222"/>
<text x="381.8" y="70" font-size="5.6" text-anchor="middle" fill="#333" transform="rotate(-90 381.8 70)">FltSNE2</text>
<text x="405" y="90.2" font-size="5.6" text-anchor="middle" fill="#333">FltSNE1</text>
<line x1="481" y1="35" x2="481" y2="59" stroke="#efefef" stroke-width="0.3"/>
<line x1="491" y1="35" x2="491" y2="59" stroke="#efefef" stroke-width="0.3"/>
<line x1="501" y1="35" x2="501" y2="59" stroke="#efefef" stroke-width="0.3"/>
<line x1="511" y1="35" x2="511" y2="59" stroke="#efefef" stroke-width="0.3"/>
<line x1="476" y1="39" x2="516" y2="39" stroke="#efefef" stroke-width="0.3"/>
<line x1="476" y1="47" x2="516" y2="47" stroke="#efefef" stroke-width="0.3"/>
<line x1="476" y1="55" x2="516" y2="55" stroke="#efefef" stroke-width="0.3"/>
<path d="M478.6,47.6 C478.6,45.9 479.1,44.2 479.9,43.0 C480.7,41.8 481.8,40.9 483.5,40.3 C485.2,39.7 487.9,39.8 489.9,39.4 C491.9,39.0 493.5,38.2 495.3,37.6 C497.1,37.0 498.9,35.9 500.7,35.8 C502.5,35.6 504.5,36.0 506.1,36.7 C507.8,37.5 509.4,38.8 510.6,40.3 C511.8,41.8 513.0,44.0 513.3,45.8 C513.6,47.6 513.1,49.6 512.4,51.2 C511.6,52.9 510.4,54.7 508.8,55.7 C507.2,56.8 504.4,57.3 502.5,57.5 C500.6,57.7 498.9,57.3 497.1,57.0 C495.3,56.7 493.8,55.9 491.7,55.7 C489.6,55.6 486.4,56.6 484.4,56.1 C482.4,55.6 480.9,54.4 479.9,53.0 C478.9,51.6 478.6,49.3 478.6,47.6 Z" fill="#a2a2a2"/>
<path d="M492.6,50.3 C493.4,49.4 494.9,49.1 497.1,49.4 C499.4,49.7 503.7,52.0 506.1,52.1 C508.5,52.2 510.4,50.4 511.5,50.3 C512.5,50.1 512.9,50.3 512.4,51.2 C511.9,52.1 510.4,54.7 508.8,55.7 C507.2,56.8 504.4,57.3 502.5,57.5 C500.6,57.7 498.8,57.5 497.1,57.0 C495.5,56.5 493.4,55.9 492.6,54.8 C491.9,53.7 491.9,51.2 492.6,50.3 Z" fill="#c6c6c6"/>
<path d="M484.0,40.6 C484.8,39.9 488.0,39.9 489.9,39.4 C491.8,38.9 493.5,38.2 495.3,37.6 C497.1,37.0 499.4,35.9 500.7,35.8 C502.0,35.7 503.1,36.0 503.0,37.0 C502.9,38.0 501.5,40.9 499.8,42.1 C498.1,43.3 495.1,43.8 492.6,44.0 C490.1,44.2 486.4,44.1 485.0,43.5 C483.6,42.9 483.2,41.3 484.0,40.6 Z" fill="#c2c2c2"/>
<path fill="#e0e0e0" d="M498.5 37.1h.9v.9h-.9zm4.9-.3h.9v.9h-.9zm3 .6h.9v.9h-.9zm-10.8 2.7h.9v.9h-.9zm11.4-.2h.9v.9h-.9zm2.4 .1h.9v.9h-.9zm-11.9 1.1h.9v.9h-.9zm3.1 0h.9v.9h-.9zm9.9-.1h.9v.9h-.9zm-22.7 1.5h.9v.9h-.9zm4.4-.6h.9v.9h-.9zm9 .1h.9v.9h-.9zm1.5-.4h.9v.9h-.9zm1.6 .3h.9v.9h-.9zm4.1 0h.9v.9h-.9zm-22.3 1h.9v.9h-.9zm-2.2 1.4h.9v.9h-.9zm7.3-.7h.9v.9h-.9zm6.6 0h.9v.9h-.9zm3.8 .7h.9v.9h-.9zm-21.1 .7h.9v.9h-.9zm10.8 .1h.9v.9h-.9zm19 .3h.9v.9h-.9zm2.4-.3h.9v.9h-.9zm-22.4 1.2h.9v.9h-.9zm2.9 0h.9v.9h-.9zm3.3-.3h.9v.9h-.9zm1.1-.1h.9v.9h-.9zm3.8 .6h.9v.9h-.9zm.4-.5h.9v.9h-.9zm8 .1h.9v.9h-.9zm-29.4 .9h.9v.9h-.9zm23.8-.2h.9v.9h-.9zm4.3 .5h.9v.9h-.9zm-27.4 1h.9v.9h-.9zm14.2 .1h.9v.9h-.9zm1.4-.9h.9v.9h-.9zm14 .8h.9v.9h-.9zm-26.4 1.1h.9v.9h-.9zm4.9-.8h.9v.9h-.9zm3.8 0h.9v.9h-.9zm16.3 .4h.9v.9h-.9zm-29.6 .8h.9v.9h-.9zm1 .2h.9v.9h-.9zm3.4 .5h.9v.9h-.9zm2-.7h.9v.9h-.9zm3.7 .3h.9v.9h-.9zm.1-.4h.9v.9h-.9zm5.3 0h.9v.9h-.9zm.6-.1h.9v.9h-.9zm13.8 .7h.9v.9h-.9zm1.2-.8h.9v.9h-.9zm-20.8 1.8h.9v.9h-.9zm-9.7 .4h.9v.9h-.9zm1.6 .7h.9v.9h-.9zm1-.7h.9v.9h-.9zm9.1 .6h.9v.9h-.9zm4.1-.1h.9v.9h-.9zm5.6-.6h.9v.9h-.9zm8.8 .5h.9v.9h-.9zm-25.2 1.3h.9v.9h-.9zm21.3-.2h.9v.9h-.9zm-20.3 .4h.9v.9h-.9zm14.1 .9h.9v.9h-.9zm.1-.3h.9v.9h-.9zm5.6-.6h.9v.9h-.9zm-10.7 2.5h.9v.9h-.9zm1.2 .4h.9v.9h-.9zm4.1 .4h.9v.9h-.9z"/>
<path fill="#8f8f8f" d="M498.9 37h.9v.9h-.9zm.4 .1h.9v.9h-.9zm4.2-.3h.9v.9h-.9zm1.5-.2h.9v.9h-.9zm-17 3.2h.9v.9h-.9zm3 0h.9v.9h-.9zm18.7 .5h.9v.9h-.9zm-26 .8h.9v.9h-.9zm6.6 .2h.9v.9h-.9zm6.5-.1h.9v.9h-.9zm6.6 0h.9v.9h-.9zm6.8-.1h.9v.9h-.9zm-9.5 1.2h.9v.9h-.9zm9.7-.6h.9v.9h-.9zm-24.3 1.4h.9v.9h-.9zm-.5 .8h.9v.9h-.9zm17.9 .1h.9v.9h-.9zm-17.8 1.3h.9v.9h-.9zm3-.7h.9v.9h-.9zm11.4 .3h.9v.9h-.9zm-13.2 .9h.9v.9h-.9zm15.3-.2h.9v.9h-.9zm-9.5 1.4h.9v.9h-.9zm1.1 .4h.9v.9h-.9zm14.1-.1h.9v.9h-.9zm-8.7 .2h.9v.9h-.9zm4.6 .2h.9v.9h-.9zm2.8-.2h.9v.9h-.9zm-25.1 1.8h.9v.9h-.9zm8.6-.2h.9v.9h-.9zm8.9 0h.9v.9h-.9zm.2-.4h.9v.9h-.9zm2.2 .3h.9v.9h-.9zm-20.8 1h.9v.9h-.9zm11.2-.5h.9v.9h-.9zm4.2 1h.9v.9h-.9zm6-.2h.9v.9h-.9zm9.3 .1h.9v.9h-.9zm-20.1 .4h.9v.9h-.9zm3.1 .1h.9v.9h-.9zm14.7 .2h.9v.9h-.9zm-8.8 .5h.9v.9h-.9zm11.4 .3h.9v.9h-.9zm-29.3 1.1h.9v.9h-.9zm4-.3h.9v.9h-.9zm2.2 0h.9v.9h-.9zm11.4 .3h.9v.9h-.9zm3.2 0h.9v.9h-.9zm4.7-.2h.9v.9h-.9zm-21.2 .7h.9v.9h-.9zm8.9 .4h.9v.9h-.9zm9.6 1.2h.9v.9h-.9zm.8 1.2h.9v.9h-.9zm.3 0h.9v.9h-.9zm-6 .4h.9v.9h-.9zm1.4 .6h.9v.9h-.9z"/>
<path fill="#b8b8b8" d="M504.3 36.8h.9v.9h-.9zm-5.6 1.5h.9v.9h-.9zm8.6-.6h.9v.9h-.9zm-14.2 1.6h.9v.9h-.9zm3.7-.2h.9v.9h-.9zm4-.5h.9v.9h-.9zm-14.6 1.8h.9v.9h-.9zm1.3 0h.9v.9h-.9zm-.3 .8h.9v.9h-.9zm6.6 .1h.9v.9h-.9zm.3 .1h.9v.9h-.9zm4.2-.7h.9v.9h-.9zm3.9 .4h.9v.9h-.9zm3.7-.4h.9v.9h-.9zm4.9 .6h.9v.9h-.9zm-26.9 .5h.9v.9h-.9zm2.4 1.6h.9v.9h-.9zm1.6-.6h.9v.9h-.9zm8.1 .1h.9v.9h-.9zm-16 1.3h.9v.9h-.9zm13.1-.7h.9v.9h-.9zm5.1 .6h.9v.9h-.9zm.9-.5h.9v.9h-.9zm-11 1.6h.9v.9h-.9zm.9-.2h.9v.9h-.9zm2-.3h.9v.9h-.9zm.2 0h.9v.9h-.9zm4 .6h.9v.9h-.9zm6.4 .7h.9v.9h-.9zm-12.5 1.2h.9v.9h-.9zm2.5 0h.9v.9h-.9zm10-.5h.9v.9h-.9zm5.7 .5h.9v.9h-.9zm-28.1 .3h.9v.9h-.9zm3.8 .3h.9v.9h-.9zm2.3 0h.9v.9h-.9zm6.6-.1h.9v.9h-.9zm3.3 .7h.9v.9h-.9zm5.9-.5h.9v.9h-.9zm.1-.4h.9v.9h-.9zm2.2 .2h.9v.9h-.9zm-15.9 1.3h.9v.9h-.9zm1-.4h.9v.9h-.9zm16.9 .2h.9v.9h-.9zm.4 .1h.9v.9h-.9zm1.6 .1h.9v.9h-.9zm-24.7 1.2h.9v.9h-.9zm1.5-.7h.9v.9h-.9zm1.2 .1h.9v.9h-.9zm.7 .1h.9v.9h-.9zm2.1 .2h.9v.9h-.9zm8.5-.2h.9v.9h-.9zm6.8 .1h.9v.9h-.9zm1.3 .2h.9v.9h-.9zm-22.3 1.4h.9v.9h-.9zm1.3-.5h.9v.9h-.9zm5-.2h.9v.9h-.9zm-8.2 .9h.9v.9h-.9zm2.9 .6h.9v.9h-.9zm3.2-.4h.9v.9h-.9zm2.2 0h.9v.9h-.9zm1.4 0h.9v.9h-.9zm6.6-.1h.9v.9h-.9zm-7.4 1.5h.9v.9h-.9zm4.8 .1h.9v.9h-.9zm.1-.1h.9v.9h-.9zm2.5 .3h.9v.9h-.9zm13 .3h.9v.9h-.9zm-11 .9h.9v.9h-.9zm5.2 2.2h.9v.9h-.9z"/>
<path fill="#d8d8d8" d="M500.4 36h.9v.9h-.9zm5.2 1.8h.9v.9h-.9zm-2.7 .8h.9v.9h-.9zm-17.8 1.8h.9v.9h-.9zm10.9-.2h.9v.9h-.9zm-9.6 1.1h.9v.9h-.9zm12-.6h.9v.9h-.9zm11.8 1h.9v.9h-.9zm-28.8 1.7h.9v.9h-.9zm12.8 0h.9v.9h-.9zm8.2 0h.9v.9h-.9zm.5-.1h.9v.9h-.9zm.8-.6h.9v.9h-.9zm4.2 .4h.9v.9h-.9zm-23.3 .7h.9v.9h-.9zm4.4 .7h.9v.9h-.9zm3.7-.1h.9v.9h-.9zm8.5 0h.9v.9h-.9zm5.3-.5h.9v.9h-.9zm1 .3h.9v.9h-.9zm-25.6 1.2h.9v.9h-.9zm4-.3h.9v.9h-.9zm3.7 .2h.9v.9h-.9zm7.4-.7h.9v.9h-.9zm2.8 .6h.9v.9h-.9zm-17.6 .3h.9v.9h-.9zm23.7 .5h.9v.9h-.9zm7.2-.3h.9v.9h-.9zm-23 1.5h.9v.9h-.9zm17-.4h.9v.9h-.9zm5.6-.2h.9v.9h-.9zm-20.8 1.4h.9v.9h-.9zm18.3-.5h.9v.9h-.9zm2 .1h.9v.9h-.9zm-28.6 1.8h.9v.9h-.9zm5.6-.8h.9v.9h-.9zm12.4 .4h.9v.9h-.9zm0 .3h.9v.9h-.9zm-21 .9h.9v.9h-.9zm15.9-.4h.9v.9h-.9zm1.8-.3h.9v.9h-.9zm3.7 .2h.9v.9h-.9zm6.7 .2h.9v.9h-.9zm.5-.3h.9v.9h-.9zm-29.8 1h.9v.9h-.9zm13.2 .5h.9v.9h-.9zm10.1 0h.9v.9h-.9zm5.9-.1h.9v.9h-.9zm-22.4 .6h.9v.9h-.9zm14.6 .1h.9v.9h-.9zm7 .2h.9v.9h-.9zm-23.9 .9h.9v.9h-.9zm10.5 .4h.9v.9h-.9zm1.3-.4h.9v.9h-.9zm-14.1 1.1h.9v.9h-.9zm2.5-.1h.9v.9h-.9zm9.6 .1h.9v.9h-.9zm.4-.1h.9v.9h-.9zm6.6-.1h.9v.9h-.9zm.1 .4h.9v.9h-.9zm-11 .6h.9v.9h-.9zm4.9 .6h.9v.9h-.9zm-10.7 .4h.9v.9h-.9zm9.5 .1h.9v.9h-.9zm11.8 .4h.9v.9h-.9z"/>
<line x1="475.4" y1="60.2" x2="475.4" y2="49.5" stroke="#111" stroke-width="0.6"/>
<polygon points="475.40,47.60 476.30,49.80 474.50,49.80" fill="#111"/>
<text x="478" y="64" font-size="5.6" font-weight="bold" fill="#000">Flores</text>
<text x="478" y="34.5" font-size="5.6" font-weight="bold" fill="#000">CHHIL</text>
<line x1="481" y1="63" x2="481" y2="89" stroke="#efefef" stroke-width="0.3"/>
<line x1="491" y1="63" x2="491" y2="89" stroke="#efefef" stroke-width="0.3"/>
<line x1="501" y1="63" x2="501" y2="89" stroke="#efefef" stroke-width="0.3"/>
<line x1="511" y1="63" x2="511" y2="89" stroke="#efefef" stroke-width="0.3"/>
<line x1="476" y1="68" x2="516" y2="68" stroke="#efefef" stroke-width="0.3"/>
<line x1="476" y1="76" x2="516" y2="76" stroke="#efefef" stroke-width="0.3"/>
<line x1="476" y1="84" x2="516" y2="84" stroke="#efefef" stroke-width="0.3"/>
<path d="M478.6,76.4 C478.5,74.6 479.7,72.3 480.8,71.0 C481.9,69.7 483.6,69.2 485.3,68.3 C487.0,67.4 488.8,66.3 490.8,65.6 C492.8,64.8 494.9,63.9 497.1,63.8 C499.4,63.6 502.2,64.1 504.3,64.7 C506.4,65.3 508.2,65.9 509.7,67.4 C511.2,68.9 512.8,71.6 513.3,73.7 C513.8,75.8 513.1,78.3 512.4,80.1 C511.6,81.9 510.6,83.4 508.8,84.6 C507.0,85.8 504.0,87.0 501.6,87.3 C499.2,87.6 496.6,86.9 494.4,86.4 C492.1,86.0 490.2,85.3 488.1,84.6 C486.0,83.8 483.3,83.3 481.7,81.9 C480.1,80.5 478.8,78.2 478.6,76.4 Z" fill="#d274ad"/>
<ellipse cx="485.8" cy="78.7" rx="5.5" ry="4.5" fill="#e6abcd"/>
<ellipse cx="501.5" cy="70.2" rx="4.5" ry="2.6" fill="#e2a3c7"/>
<ellipse cx="507" cy="80" rx="2.5" ry="2" fill="#e2a3c7"/>
<path fill="#c8629f" d="M495.5 64.4h.9v.9h-.9zm5.1 .9h.9v.9h-.9zm-6.6 1.1h.9v.9h-.9zm8.8 0h.9v.9h-.9zm.1-.5h.9v.9h-.9zm2.9 .4h.9v.9h-.9zm-17.2 .9h.9v.9h-.9zm1.2 .1h.9v.9h-.9zm3.9 .2h.9v.9h-.9zm.9 .1h.9v.9h-.9zm11.7 .5h.9v.9h-.9zm-10.1 1.1h.9v.9h-.9zm-10.9 .7h.9v.9h-.9zm1.9 .4h.9v.9h-.9zm13.8 .2h.9v.9h-.9zm7.2-.1h.9v.9h-.9zm-13.2 .2h.9v.9h-.9zm9.9 .2h.9v.9h-.9zm5.3-.2h.9v.9h-.9zm.5 .2h.9v.9h-.9zm-28.6 1.5h.9v.9h-.9zm6.2-.2h.9v.9h-.9zm2.9-.4h.9v.9h-.9zm.5 0h.9v.9h-.9zm.9 .3h.9v.9h-.9zm-.4 1.3h.9v.9h-.9zm-12.3 .7h.9v.9h-.9zm2.9 .2h.9v.9h-.9zm1.4-.4h.9v.9h-.9zm3.6 .7h.9v.9h-.9zm10-.3h.9v.9h-.9zm.9 .3h.9v.9h-.9zm14.1-.3h.9v.9h-.9zm-27.3 1.2h.9v.9h-.9zm6.1-.7h.9v.9h-.9zm3.2 .5h.9v.9h-.9zm4.7-.3h.9v.9h-.9zm4.1-.2h.9v.9h-.9zm6.1 .5h.9v.9h-.9zm1.7-.3h.9v.9h-.9zm-28.2 .6h.9v.9h-.9zm.8 .6h.9v.9h-.9zm4.4-.1h.9v.9h-.9zm8.7 .1h.9v.9h-.9zm5.5-.2h.9v.9h-.9zm2-.3h.9v.9h-.9zm-17.6 1.1h.9v.9h-.9zm4.5 0h.9v.9h-.9zm.8 0h.9v.9h-.9zm3.9 .3h.9v.9h-.9zm11.4-.1h.9v.9h-.9zm-21.9 1.6h.9v.9h-.9zm14.8-1h.9v.9h-.9zm11.9 0h.9v.9h-.9zm-17.2 1.6h.9v.9h-.9zm4.8-.2h.9v.9h-.9zm-8.8 1.1h.9v.9h-.9zm4 .1h.9v.9h-.9zm4.2 0h.9v.9h-.9zm-4.4 .7h.9v.9h-.9zm2.7-.1h.9v.9h-.9zm-10.5 1.3h.9v.9h-.9zm7.4 .2h.9v.9h-.9zm4.9-.2h.9v.9h-.9zm7.3-.2h.9v.9h-.9zm2.1 .2h.9v.9h-.9zm1.3-.5h.9v.9h-.9zm-18.1 2.7h.9v.9h-.9zm12.5-.5h.9v.9h-.9zm-3.3 3.4h.9v.9h-.9z"/>
<path fill="#dc8cbd" d="M493.1 65h.9v.9h-.9zm5.3-.3h.9v.9h-.9zm-9.3 2.4h.9v.9h-.9zm2.6-.5h.9v.9h-.9zm-4 1.5h.9v.9h-.9zm2.7 .3h.9v.9h-.9zm4.6 0h.9v.9h-.9zm9.2-.6h.9v.9h-.9zm3.2 .3h.9v.9h-.9zm-20.8 .9h.9v.9h-.9zm13.1 0h.9v.9h-.9zm-12.4 1h.9v.9h-.9zm5.5 .5h.9v.9h-.9zm3.4-.9h.9v.9h-.9zm6.6 .3h.9v.9h-.9zm1.7 .1h.9v.9h-.9zm1.2 .7h.9v.9h-.9zm-23.9 1.7h.9v.9h-.9zm13.2-.5h.9v.9h-.9zm4.4-.3h.9v.9h-.9zm.3-.1h.9v.9h-.9zm-11.2 1.4h.9v.9h-.9zm3.2-.3h.9v.9h-.9zm6.6 0h.9v.9h-.9zm3 .5h.9v.9h-.9zm5.3 0h.9v.9h-.9zm.4 .3h.9v.9h-.9zm.1-.1h.9v.9h-.9zm-25.7 1.1h.9v.9h-.9zm5.2-.1h.9v.9h-.9zm4.5-.4h.9v.9h-.9zm6.6 .5h.9v.9h-.9zm4.5-.6h.9v.9h-.9zm6.3 .7h.9v.9h-.9zm.9-.5h.9v.9h-.9zm3.7-.4h.9v.9h-.9zm-31 1.2h.9v.9h-.9zm-1 1.6h.9v.9h-.9zm10.8-.4h.9v.9h-.9zm-12.1 .8h.9v.9h-.9zm1.5 .1h.9v.9h-.9zm14.6 .4h.9v.9h-.9zm-13.6 .5h.9v.9h-.9zm9.4 .9h.9v.9h-.9zm19.5 .2h.9v.9h-.9zm-27.6 2.5h.9v.9h-.9zm3.9-.2h.9v.9h-.9zm0 .2h.9v.9h-.9zm.2-.8h.9v.9h-.9zm21.3 .3h.9v.9h-.9zm-13 .8h.9v.9h-.9zm1.1 .4h.9v.9h-.9zm-9.1 .6h.9v.9h-.9zm21.3 .4h.9v.9h-.9zm-2.3 .7h.9v.9h-.9zm.8 .5h.9v.9h-.9zm-15.6 .6h.9v.9h-.9zm4.1-.3h.9v.9h-.9zm7 .4h.9v.9h-.9zm-9.2 .8h.9v.9h-.9zm.7-.3h.9v.9h-.9z"/>
<path fill="#ecc0da" d="M496.4 65.3h.9v.9h-.9zm3.8-.5h.9v.9h-.9zm.9 .3h.9v.9h-.9zm-10.6 .8h.9v.9h-.9zm13.3 .3h.9v.9h-.9zm1.5 .6h.9v.9h-.9zm.2 .5h.9v.9h-.9zm1.8-.6h.9v.9h-.9zm.4-.1h.9v.9h-.9zm-11.9 1.9h.9v.9h-.9zm8-.7h.9v.9h-.9zm-17.7 1.4h.9v.9h-.9zm6.2-.4h.9v.9h-.9zm2.8 .5h.9v.9h-.9zm14.1-.4h.9v.9h-.9zm-23.7 .7h.9v.9h-.9zm1.3 .8h.9v.9h-.9zm7.4-.3h.9v.9h-.9zm3.4-.6h.9v.9h-.9zm8 .7h.9v.9h-.9zm2 .3h.9v.9h-.9zm-22.6 .6h.9v.9h-.9zm1.2 1.4h.9v.9h-.9zm15.2-.5h.9v.9h-.9zm8.7 .2h.9v.9h-.9zm.8-.7h.9v.9h-.9zm.8 .9h.9v.9h-.9zm-21.8 .7h.9v.9h-.9zm6.5-.1h.9v.9h-.9zm1.5 .1h.9v.9h-.9zm.7 0h.9v.9h-.9zm3.7-.4h.9v.9h-.9zm-14.7 .9h.9v.9h-.9zm14.3 .3h.9v.9h-.9zm9.1-.4h.9v.9h-.9zm2.2 .9h.9v.9h-.9zm-33.8 .2h.9v.9h-.9zm20.4 .8h.9v.9h-.9zm-16.8 .2h.9v.9h-.9zm5.7 0h.9v.9h-.9zm6.4 0h.9v.9h-.9zm5.3 .7h.9v.9h-.9zm-18.2 .9h.9v.9h-.9zm9.2-.1h.9v.9h-.9zm7-.1h.9v.9h-.9zm11.8-.3h.9v.9h-.9zm-27.8 1.8h.9v.9h-.9zm4.3-.9h.9v.9h-.9zm7.3 .6h.9v.9h-.9zm6.7 0h.9v.9h-.9zm6.6-.7h.9v.9h-.9zm2.3 1h.9v.9h-.9zm-28 1.9h.9v.9h-.9zm2.6-.9h.9v.9h-.9zm8.8 1h.9v.9h-.9zm.2-.7h.9v.9h-.9zm14.3 .6h.9v.9h-.9zm-23.7 .4h.9v.9h-.9zm4 .1h.9v.9h-.9zm4.1 .4h.9v.9h-.9zm14.5-.1h.9v.9h-.9zm-17.4 1.3h.9v.9h-.9zm5.8-.7h.9v.9h-.9zm7 .4h.9v.9h-.9zm-10.4 .6h.9v.9h-.9zm13.8-.1h.9v.9h-.9zm1.4 .3h.9v.9h-.9zm-12.9 1.3h.9v.9h-.9zm13.6 .1h.9v.9h-.9zm-15.8 1h.9v.9h-.9zm3.1-.7h.9v.9h-.9zm4.2 .5h.9v.9h-.9zm-4.2 1.1h.9v.9h-.9z"/>
<path fill="#f0d0e2" d="M501.5 65.4h.9v.9h-.9zm-1.8 .1h.9v.9h-.9zm1.2 .1h.9v.9h-.9zm-.7 1.3h.9v.9h-.9zm6.4 .3h.9v.9h-.9zm1-.6h.9v.9h-.9zm-13.1 .9h.9v.9h-.9zm-7.9 1.8h.9v.9h-.9zm6.1 .1h.9v.9h-.9zm3.7 .2h.9v.9h-.9zm-15 1.3h.9v.9h-.9zm2.9 .9h.9v.9h-.9zm6.1 .2h.9v.9h-.9zm2.9 .5h.9v.9h-.9zm-8.1 .1h.9v.9h-.9zm7.2 .5h.9v.9h-.9zm3.3-.3h.9v.9h-.9zm16 .4h.9v.9h-.9zm-27.5 .7h.9v.9h-.9zm1.4 .4h.9v.9h-.9zm17 .1h.9v.9h-.9zm-22.9 1h.9v.9h-.9zm13.9 0h.9v.9h-.9zm16.1-.5h.9v.9h-.9zm-21 1h.9v.9h-.9zm1.2 .1h.9v.9h-.9zm2.8 .4h.9v.9h-.9zm8.5-.3h.9v.9h-.9zm-21.6 1.6h.9v.9h-.9zm18.6 .6h.9v.9h-.9zm13.8 .2h.9v.9h-.9zm-25.4 .6h.9v.9h-.9zm5.3-.1h.9v.9h-.9zm17.9 .4h.9v.9h-.9zm-13.9 .2h.9v.9h-.9zm0 .9h.9v.9h-.9zm4.4-.7h.9v.9h-.9zm1.6 .3h.9v.9h-.9zm9.7-.3h.9v.9h-.9zm-21.8 1.3h.9v.9h-.9zm11.6-.5h.9v.9h-.9zm3.7 .1h.9v.9h-.9zm.6 .7h.9v.9h-.9zm3.7 0h.9v.9h-.9zm1.9-.6h.9v.9h-.9zm-13.2 .8h.9v.9h-.9zm-7.1 1.5h.9v.9h-.9zm18.3-.2h.9v.9h-.9zm-17.8 1.3h.9v.9h-.9zm2.9 .1h.9v.9h-.9zm5.9 .2h.9v.9h-.9zm-7.9 .8h.9v.9h-.9zm13.6 0h.9v.9h-.9zm-10.9 1h.9v.9h-.9zm5.6 0h.9v.9h-.9zm.4 .8h.9v.9h-.9z"/>
<line x1="475.4" y1="88.2" x2="475.4" y2="78.6" stroke="#111" stroke-width="0.6"/>
<polygon points="475.40,76.40 476.30,78.60 474.50,78.60" fill="#111"/>
<line x1="475.4" y1="88.2" x2="485.5" y2="88.2" stroke="#111" stroke-width="0.6"/>
<polygon points="487.60,88.20 485.40,89.10 485.40,87.30" fill="#111"/>
<line x1="516.7" y1="60.2" x2="551" y2="60.2" stroke="#111" stroke-width="1.9"/>
<polygon points="558.00,60.20 550.00,64.20 550.00,56.20" fill="#111"/>
<text x="567" y="23.4" font-size="13.2" fill="#000">Integrated Analysis</text>
<line x1="578" y1="24" x2="578" y2="88" stroke="#eeeeee" stroke-width="0.4"/>
<line x1="598" y1="24" x2="598" y2="88" stroke="#eeeeee" stroke-width="0.4"/>
<line x1="618" y1="24" x2="618" y2="88" stroke="#eeeeee" stroke-width="0.4"/>
<line x1="638" y1="24" x2="638" y2="88" stroke="#eeeeee" stroke-width="0.4"/>
<line x1="658" y1="24" x2="658" y2="88" stroke="#eeeeee" stroke-width="0.4"/>
<line x1="566" y1="30" x2="672" y2="30" stroke="#eeeeee" stroke-width="0.4"/>
<line x1="566" y1="45" x2="672" y2="45" stroke="#eeeeee" stroke-width="0.4"/>
<line x1="566" y1="60" x2="672" y2="60" stroke="#eeeeee" stroke-width="0.4"/>
<line x1="566" y1="75" x2="672" y2="75" stroke="#eeeeee" stroke-width="0.4"/>
<path d="M573.0,55.0 C573.1,52.0 573.3,48.2 574.6,45.3 C575.9,42.3 578.6,39.2 581.0,37.3 C583.4,35.4 586.3,34.7 589.0,34.0 C591.7,33.3 594.7,33.8 597.1,33.3 C599.5,32.8 601.6,31.8 603.5,30.9 C605.4,29.9 606.5,28.6 608.4,27.6 C610.3,26.7 612.4,25.7 614.8,25.2 C617.2,24.7 619.9,24.4 622.8,24.4 C625.7,24.4 629.4,24.9 632.4,25.2 C635.4,25.5 638.1,25.3 640.5,26.0 C642.9,26.7 644.5,27.9 646.9,29.3 C649.3,30.7 652.5,32.2 654.9,34.1 C657.3,36.0 659.5,37.8 661.4,40.5 C663.3,43.2 665.1,47.4 666.2,50.1 C667.3,52.8 668.1,53.9 667.8,56.6 C667.5,59.3 666.0,63.8 664.6,66.2 C663.2,68.6 661.9,69.7 659.7,71.0 C657.6,72.3 653.6,73.0 651.7,74.3 C649.8,75.6 650.4,77.6 648.5,79.1 C646.6,80.6 643.7,82.3 640.5,83.1 C637.3,83.9 633.0,84.0 629.2,83.9 C625.5,83.8 621.2,83.1 618.0,82.3 C614.8,81.5 612.7,79.5 610.0,79.1 C607.3,78.7 604.7,79.6 602.0,79.9 C599.3,80.2 596.9,81.1 593.9,80.7 C590.9,80.3 587.0,79.1 584.3,77.5 C581.6,75.9 579.5,73.4 577.8,71.0 C576.0,68.6 574.6,65.7 573.8,63.0 C573.0,60.3 572.9,58.0 573.0,55.0 Z" fill="#bab0ac"/>
<path d="M573.0,55.0 C573.1,52.2 573.3,48.2 574.6,45.3 C575.9,42.3 578.6,39.2 581.0,37.3 C583.4,35.4 586.2,34.6 589.0,34.0 C591.8,33.4 596.4,31.9 597.5,33.5 C598.6,35.1 596.2,40.9 595.5,43.7 C594.8,46.5 593.0,47.7 593.1,50.1 C593.2,52.5 594.3,56.5 596.3,58.2 C598.3,60.0 602.3,59.5 605.1,60.6 C607.9,61.7 610.8,63.4 613.2,64.6 C615.6,65.8 619.6,66.5 619.6,67.8 C619.6,69.1 615.1,71.5 613.2,72.6 C611.3,73.7 610.3,74.8 608.4,74.3 C606.5,73.8 605.0,71.4 602.0,69.4 C599.0,67.4 594.2,63.0 590.7,62.2 C587.2,61.4 583.4,63.8 581.0,64.6 C578.6,65.4 577.4,67.4 576.2,67.0 C575.0,66.6 574.3,64.0 573.8,62.0 C573.3,60.0 572.9,57.8 573.0,55.0 Z" fill="#f28e2b"/>
<path d="M576.2,67.0 C576.6,65.7 578.6,65.4 581.0,64.6 C583.4,63.8 587.2,61.4 590.7,62.2 C594.2,63.0 599.0,67.4 602.0,69.4 C605.0,71.4 607.6,72.7 608.4,74.3 C609.2,75.9 608.7,78.0 606.8,79.1 C604.9,80.2 600.6,80.8 597.1,80.7 C593.6,80.6 589.0,79.7 585.9,78.3 C582.8,76.9 580.3,74.5 578.7,72.6 C577.1,70.7 575.8,68.3 576.2,67.0 Z" fill="#4e79a7"/>
<path d="M598.0,34.0 C599.3,31.9 601.8,31.6 603.5,30.9 C605.2,30.2 606.8,28.9 608.4,30.0 C610.0,31.1 611.3,35.3 613.2,37.3 C615.1,39.3 618.3,40.0 619.6,42.1 C620.9,44.2 621.2,47.4 621.2,50.1 C621.2,52.8 619.7,55.5 619.6,58.2 C619.5,60.9 621.5,65.1 620.4,66.2 C619.3,67.3 615.8,65.5 613.2,64.6 C610.7,63.7 607.9,61.7 605.1,60.6 C602.3,59.5 598.3,60.0 596.3,58.2 C594.3,56.5 593.2,52.5 593.1,50.1 C593.0,47.7 594.7,46.4 595.5,43.7 C596.3,41.0 596.7,36.1 598.0,34.0 Z" fill="#e15759"/>
<path d="M620.4,57.4 C622.0,56.2 626.1,55.9 629.2,55.8 C632.3,55.7 636.0,56.2 638.9,56.6 C641.8,57.0 645.3,57.1 646.9,58.2 C648.5,59.3 648.8,61.7 648.5,63.0 C648.2,64.3 647.7,65.4 645.3,66.2 C642.9,67.0 637.8,67.7 634.0,67.8 C630.2,67.9 625.2,67.8 622.8,67.0 C620.4,66.2 620.0,64.6 619.6,63.0 C619.2,61.4 618.8,58.6 620.4,57.4 Z" fill="#9c755f"/>
<path d="M646.9,50.1 C648.1,48.2 651.9,48.2 654.9,48.5 C657.9,48.8 662.5,50.2 664.6,51.8 C666.8,53.4 667.8,55.8 667.8,58.2 C667.8,60.6 666.0,63.8 664.6,66.2 C663.2,68.6 661.3,71.5 659.7,72.6 C658.1,73.7 656.5,73.4 654.9,72.6 C653.3,71.8 651.3,69.9 650.1,67.8 C648.9,65.7 648.2,62.8 647.7,59.8 C647.2,56.8 645.7,52.0 646.9,50.1 Z" fill="#ff9da7"/>
<path d="M611.6,77.5 C611.9,75.3 616.7,71.0 619.6,69.4 C622.5,67.8 625.7,68.1 629.2,67.8 C632.7,67.5 637.3,68.1 640.5,67.8 C643.7,67.5 646.1,65.7 648.5,66.2 C650.9,66.7 654.9,68.8 654.9,71.0 C654.9,73.2 650.9,77.1 648.5,79.1 C646.1,81.1 643.7,82.3 640.5,83.1 C637.3,83.9 633.0,84.0 629.2,83.9 C625.5,83.8 620.9,83.4 618.0,82.3 C615.1,81.2 611.3,79.7 611.6,77.5 Z" fill="#76b7b2"/>
<ellipse cx="635.7" cy="32.5" rx="3.2" ry="2.4" fill="#59a14f"/>
<ellipse cx="647.7" cy="33.3" rx="2.4" ry="2.0" fill="#59a14f"/>
<ellipse cx="645.3" cy="43.7" rx="2.8" ry="1.8" fill="#59a14f"/>
<ellipse cx="631.6" cy="51.8" rx="3.4" ry="2.3" fill="#59a14f"/>
<ellipse cx="643.7" cy="55" rx="2.4" ry="1.5" fill="#59a14f"/>
<ellipse cx="630.8" cy="70.2" rx="5" ry="2.8" fill="#59a14f"/>
<ellipse cx="638.9" cy="73.4" rx="2" ry="1.5" fill="#59a14f"/>
<ellipse cx="660.5" cy="42.1" rx="1.4" ry="1.1" fill="#59a14f"/>
<ellipse cx="665.4" cy="51" rx="1.4" ry="1.1" fill="#59a14f"/>
<ellipse cx="634" cy="27.4" rx="3.6" ry="3.0" fill="#edc948"/>
<ellipse cx="642.9" cy="28.4" rx="3.6" ry="2.5" fill="#b07aa1"/>
<circle cx="603.5" cy="43.7" r="1.2" fill="#8fb5b0"/>
<circle cx="613.2" cy="47.7" r="1.2" fill="#e8c8c0"/>
<circle cx="595.5" cy="51" r="1.3" fill="#6a7fa0"/>
<path fill="#bab0ac" d="M621.2 22.7h.8v.8h-.8zm1 .7h.8v.8h-.8zm.6-.7h.8v.8h-.8zm15.2-.1h.8v.8h-.8zm-18.6 1.6h.8v.8h-.8zm3.2-.4h.8v.8h-.8zm1.1-.1h.8v.8h-.8zm.6 0h.8v.8h-.8zm.5 .4h.8v.8h-.8zm.1-.2h.8v.8h-.8zm.1 0h.8v.8h-.8zm.1 .2h.8v.8h-.8zm1.5 .3h.8v.8h-.8zm.1 0h.8v.8h-.8zm2.3 .1h.8v.8h-.8zm1-.7h.8v.8h-.8zm2.5 .5h.8v.8h-.8zm1.1-.1h.8v.8h-.8zm-23.8 1.2h.8v.8h-.8zm.1-.5h.8v.8h-.8zm2.8-.2h.8v.8h-.8zm0-.1h.8v.8h-.8zm1.1 .8h.8v.8h-.8zm1.9-.2h.8v.8h-.8zm1-.4h.8v.8h-.8zm5.4-.1h.8v.8h-.8zm7.9 0h.8v.8h-.8zm1.2 .1h.8v.8h-.8zm5.4 .5h.8v.8h-.8zm.9-.7h.8v.8h-.8zm3.6 .2h.8v.8h-.8zm1.4-.1h.8v.8h-.8zm-33.1 1.4h.8v.8h-.8zm.4 0h.8v.8h-.8zm1.6 0h.8v.8h-.8zm1-.6h.8v.8h-.8zm.6 .2h.8v.8h-.8zm.4 0h.8v.8h-.8zm.5-.2h.8v.8h-.8zm.9 .7h.8v.8h-.8zm2.9-.4h.8v.8h-.8zm1.1 .6h.8v.8h-.8zm6.7-.9h.8v.8h-.8zm1.4 .3h.8v.8h-.8zm2 .2h.8v.8h-.8zm5.2 .4h.8v.8h-.8zm.4 .1h.8v.8h-.8zm.8-.7h.8v.8h-.8zm.5 .6h.8v.8h-.8zm.9-.7h.8v.8h-.8zm0-.2h.8v.8h-.8zm.3 .1h.8v.8h-.8zm1.4 0h.8v.8h-.8zm1-.1h.8v.8h-.8zm2.3 .7h.8v.8h-.8zm.4 .1h.8v.8h-.8zm2 .1h.8v.8h-.8zm-38.1 1h.8v.8h-.8zm.1-.1h.8v.8h-.8zm.4-.7h.8v.8h-.8zm.5 .3h.8v.8h-.8zm2 .1h.8v.8h-.8zm.4-.2h.8v.8h-.8zm.2 .4h.8v.8h-.8zm8.9-.4h.8v.8h-.8zm16.5 .2h.8v.8h-.8zm.5 .4h.8v.8h-.8zm5.6-.8h.8v.8h-.8zm.6 .7h.8v.8h-.8zm1.3-.7h.8v.8h-.8zm-37.3 1.8h.8v.8h-.8zm3-.9h.8v.8h-.8zm.8 .4h.8v.8h-.8zm1.7 0h.8v.8h-.8zm21.1 0h.8v.8h-.8zm8.9 .6h.8v.8h-.8zm2.7-.9h.8v.8h-.8zm.9 .6h.8v.8h-.8zm1 0h.8v.8h-.8zm-43.2 1.2h.8v.8h-.8zm.2-.6h.8v.8h-.8zm0 .4h.8v.8h-.8zm2.9-.6h.8v.8h-.8zm.5 .8h.8v.8h-.8zm.2-.8h.8v.8h-.8zm0 .8h.8v.8h-.8zm.5-.4h.8v.8h-.8zm.2-.2h.8v.8h-.8zm.1 .6h.8v.8h-.8zm1.1-.2h.8v.8h-.8zm36.6-.1h.8v.8h-.8zm.4-.1h.8v.8h-.8zm1.6-.3h.8v.8h-.8zm-44.9 1.7h.8v.8h-.8zm1.4-.6h.8v.8h-.8zm.6 .6h.8v.8h-.8zm.7-.1h.8v.8h-.8zm.1-.4h.8v.8h-.8zm1.3-.2h.8v.8h-.8zm.1 .7h.8v.8h-.8zm1.7-.9h.8v.8h-.8zm36.9 .7h.8v.8h-.8zm1.3-.4h.8v.8h-.8zm.1 .7h.8v.8h-.8zm1.3-.3h.8v.8h-.8zm5.1 .3h.8v.8h-.8zm-50.7 .7h.8v.8h-.8zm.2-.1h.8v.8h-.8zm.8 .1h.8v.8h-.8zm.2-.2h.8v.8h-.8zm.1 .4h.8v.8h-.8zm.1 0h.8v.8h-.8zm.8-.6h.8v.8h-.8zm44.2-.1h.8v.8h-.8zm4.1 .5h.8v.8h-.8zm1.1 .1h.8v.8h-.8zm-55.5 .6h.8v.8h-.8zm1.4 .5h.8v.8h-.8zm2.8-.2h.8v.8h-.8zm.2 0h.8v.8h-.8zm.4-.5h.8v.8h-.8zm.2 .4h.8v.8h-.8zm.4 .4h.8v.8h-.8zm.4-.9h.8v.8h-.8zm47.8 .4h.8v.8h-.8zm3.9 .2h.8v.8h-.8zm-57.2 1.1h.8v.8h-.8zm4.8-.4h.8v.8h-.8zm.9 .4h.8v.8h-.8zm46.6-.5h.8v.8h-.8zm1.6-.2h.8v.8h-.8zm.6 1.6h.8v.8h-.8zm.6-.5h.8v.8h-.8zm.2 0h.8v.8h-.8zm.1 .4h.8v.8h-.8zm.2-.5h.8v.8h-.8zm1 .9h.8v.8h-.8zm.7-1h.8v.8h-.8zm.2 .6h.8v.8h-.8zm-57.5 .9h.8v.8h-.8zm57.9-.2h.8v.8h-.8zm.3-.2h.8v.8h-.8zm1 .8h.8v.8h-.8zm-2.7 .4h.8v.8h-.8zm3.4-.3h.8v.8h-.8zm-2.2 1.2h.8v.8h-.8zm1.4 .6h.8v.8h-.8zm.4-.7h.8v.8h-.8zm.2 .6h.8v.8h-.8zm-2.1 .8h.8v.8h-.8zm.9-.3h.8v.8h-.8zm2.8 .7h.8v.8h-.8zm.7-.5h.8v.8h-.8zm.8 0h.8v.8h-.8zm1.2 .6h.8v.8h-.8zm-2.5 .6h.8v.8h-.8zm2.9 .3h.8v.8h-.8zm-3.1 .7h.8v.8h-.8zm.4-.2h.8v.8h-.8zm.8-.1h.8v.8h-.8zm.9 1.4h.8v.8h-.8zm1 1.2h.8v.8h-.8zm.6 .5h.8v.8h-.8zm-2.8 1.5h.8v.8h-.8zm1.1 .1h.8v.8h-.8zm1.1-.4h.8v.8h-.8zm.4 .3h.8v.8h-.8zm2.6-.1h.8v.8h-.8zm-4.4 1h.8v.8h-.8zm2 .3h.8v.8h-.8zm1.3 .1h.8v.8h-.8zm2.1 1.5h.8v.8h-.8zm-8.4 26.1h.8v.8h-.8zm-7.1 1h.8v.8h-.8zm2.7-.6h.8v.8h-.8zm1.7 .1h.8v.8h-.8zm.4 .4h.8v.8h-.8zm-5 1h.8v.8h-.8zm.9-.2h.8v.8h-.8zm-1.7 1.4h.8v.8h-.8zm1.6-.4h.8v.8h-.8zm.6 .1h.8v.8h-.8zm1.4-.2h.8v.8h-.8zm-3.1 1h.8v.8h-.8zm.1 .3h.8v.8h-.8zm-.1 1.2h.8v.8h-.8z"/>
<path fill="#4e79a7" d="M574.9 66.9h.8v.8h-.8zm1.5 2h.8v.8h-.8zm1.5-.1h.8v.8h-.8zm-1.4 1.1h.8v.8h-.8zm1.2-.2h.8v.8h-.8zm.2 .1h.8v.8h-.8zm-1.3 1.6h.8v.8h-.8zm.6-.5h.8v.8h-.8zm1.9 .3h.8v.8h-.8zm.2 1.1h.8v.8h-.8zm0-.7h.8v.8h-.8zm4.5 .7h.8v.8h-.8zm-6.3 .3h.8v.8h-.8zm.8 1.1h.8v.8h-.8zm2 .1h.8v.8h-.8zm.7 .7h.8v.8h-.8zm1-.5h.8v.8h-.8zm1.4 .3h.8v.8h-.8zm-3 .8h.8v.8h-.8zm1-.4h.8v.8h-.8zm1.2-.1h.8v.8h-.8zm.3 .7h.8v.8h-.8zm1.6 .1h.8v.8h-.8zm-4.4 .3h.8v.8h-.8zm2.5 .3h.8v.8h-.8zm.5 0h.8v.8h-.8zm1.7-.5h.8v.8h-.8zm.6 .6h.8v.8h-.8zm-2.4 1.3h.8v.8h-.8zm2 .1h.8v.8h-.8zm3 .1h.8v.8h-.8zm8.5 .9h.8v.8h-.8zm3.4 0h.8v.8h-.8zm4.5-1h.8v.8h-.8zm1.5 .4h.8v.8h-.8zm1 .6h.8v.8h-.8zm-22.5 .5h.8v.8h-.8zm5.3-.4h.8v.8h-.8zm7.6 .7h.8v.8h-.8zm2.2-.1h.8v.8h-.8zm.3 .1h.8v.8h-.8zm5.2-.5h.8v.8h-.8zm.8 .3h.8v.8h-.8zm-19.3 .4h.8v.8h-.8zm2.3 .9h.8v.8h-.8zm.9-.5h.8v.8h-.8zm.1-.3h.8v.8h-.8zm3.6 .8h.8v.8h-.8zm.8-.2h.8v.8h-.8zm1 .1h.8v.8h-.8zm.2-.5h.8v.8h-.8zm1.8 .4h.8v.8h-.8zm.5 0h.8v.8h-.8zm1.9-.5h.8v.8h-.8zm0 .5h.8v.8h-.8zm.9 .2h.8v.8h-.8zm1.9-.7h.8v.8h-.8zm1.3 .5h.8v.8h-.8zm.1-.6h.8v.8h-.8zm2.2 .2h.8v.8h-.8zm-15.6 1h.8v.8h-.8zm.5 .6h.8v.8h-.8zm.3-.4h.8v.8h-.8zm.5-.4h.8v.8h-.8zm4.7 .8h.8v.8h-.8zm.4-.6h.8v.8h-.8zm2.2-.2h.8v.8h-.8zm2.6 .2h.8v.8h-.8zm.9 .2h.8v.8h-.8zm-11.2 .5h.8v.8h-.8zm4 .2h.8v.8h-.8zm-1.9 1h.8v.8h-.8z"/>
<path fill="#ff9da7" d="M666 48h.8v.8h-.8zm.3 2.8h.8v.8h-.8zm1 .5h.8v.8h-.8zm.8-.1h.8v.8h-.8zm-.3 .5h.8v.8h-.8zm-2.4 1.4h.8v.8h-.8zm2.3 .2h.8v.8h-.8zm-.9 .5h.8v.8h-.8zm.4 .2h.8v.8h-.8zm.2-.3h.8v.8h-.8zm.7 .6h.8v.8h-.8zm-2 .3h.8v.8h-.8zm.3 .3h.8v.8h-.8zm-1.6 .7h.8v.8h-.8zm1.7 .9h.8v.8h-.8zm.8-.2h.8v.8h-.8zm-1 1h.8v.8h-.8zm.4-.2h.8v.8h-.8zm.2 .2h.8v.8h-.8zm.3-.6h.8v.8h-.8zm.1 0h.8v.8h-.8zm1.7 .5h.8v.8h-.8zm-1.9 .3h.8v.8h-.8zm.7 0h.8v.8h-.8zm-2.8 1.9h.8v.8h-.8zm.2-.3h.8v.8h-.8zm.6-.5h.8v.8h-.8zm.1 .3h.8v.8h-.8zm.4 .4h.8v.8h-.8zm1.9-.6h.8v.8h-.8zm-2.5 1.8h.8v.8h-.8zm.2-.9h.8v.8h-.8zm.4 1.3h.8v.8h-.8zm1.3-.1h.8v.8h-.8zm-1.2 .7h.8v.8h-.8zm-1 1.3h.8v.8h-.8zm-2.9 3.7h.8v.8h-.8zm.5-.5h.8v.8h-.8zm1.3 0h.8v.8h-.8zm.2 .2h.8v.8h-.8zm.5-.3h.8v.8h-.8zm-4.4 1.4h.8v.8h-.8zm1.4-.5h.8v.8h-.8zm1.1-.2h.8v.8h-.8zm2.1 .8h.8v.8h-.8zm-4 .7h.8v.8h-.8zm.8-.6h.8v.8h-.8zm.2 .1h.8v.8h-.8zm1.5 .4h.8v.8h-.8zm.1-.5h.8v.8h-.8zm.7 0h.8v.8h-.8zm-5.1 1.7h.8v.8h-.8zm.5 .1h.8v.8h-.8zm3.6-.5h.8v.8h-.8zm.1 .1h.8v.8h-.8zm-3.9 1.5h.8v.8h-.8zm.3-.3h.8v.8h-.8zm0 .3h.8v.8h-.8zm.9-.8h.8v.8h-.8zm3.1 1.5h.8v.8h-.8zm-9.3 1h.8v.8h-.8zm1.7 .3h.8v.8h-.8zm.1-.4h.8v.8h-.8zm3.5-.3h.8v.8h-.8zm-7.3 1.1h.8v.8h-.8zm1.3 .1h.8v.8h-.8z"/>
<path fill="#f28e2b" d="M590.2 31.9h.8v.8h-.8zm-.7 .9h.8v.8h-.8zm.1-.1h.8v.8h-.8zm1.7-.1h.8v.8h-.8zm2.9 .2h.8v.8h-.8zm1.3 .5h.8v.8h-.8zm1.5-.5h.8v.8h-.8zm.4 .6h.8v.8h-.8zm-8.4 1.1h.8v.8h-.8zm.7-.2h.8v.8h-.8zm.5-.3h.8v.8h-.8zm.2 .4h.8v.8h-.8zm1.1-.1h.8v.8h-.8zm.8-.5h.8v.8h-.8zm2.6-.3h.8v.8h-.8zm0 .2h.8v.8h-.8zm2.3 .5h.8v.8h-.8zm-10.4 .4h.8v.8h-.8zm4.1 .8h.8v.8h-.8zm3.7-.6h.8v.8h-.8zm1 .2h.8v.8h-.8zm.3 .3h.8v.8h-.8zm1.5-.2h.8v.8h-.8zm-16.4 1h.8v.8h-.8zm.3 .4h.8v.8h-.8zm.5-.8h.8v.8h-.8zm.4 .3h.8v.8h-.8zm3.2 .4h.8v.8h-.8zm2.2-.6h.8v.8h-.8zm7.4-.1h.8v.8h-.8zm-14.5 1.2h.8v.8h-.8zm0-.1h.8v.8h-.8zm3.3 .6h.8v.8h-.8zm.7-.4h.8v.8h-.8zm.2-.4h.8v.8h-.8zm.8 .2h.8v.8h-.8zm-7.9 1.8h.8v.8h-.8zm.5 .2h.8v.8h-.8zm1.2-.2h.8v.8h-.8zm.6 .5h.8v.8h-.8zm-2.2 1.3h.8v.8h-.8zm.8-.2h.8v.8h-.8zm.6-.3h.8v.8h-.8zm-1.4 1.6h.8v.8h-.8zm-1.9 1.7h.8v.8h-.8zm-.9 .7h.8v.8h-.8zm1.1-.1h.8v.8h-.8zm.1 1.9h.8v.8h-.8zm-2.9 1.5h.8v.8h-.8zm.7 .8h.8v.8h-.8zm.5 .4h.8v.8h-.8zm.1-.3h.8v.8h-.8zm.4 .4h.8v.8h-.8zm.1-.3h.8v.8h-.8zm.2 0h.8v.8h-.8zm0-.3h.8v.8h-.8zm-3.3 1.9h.8v.8h-.8zm1 .5h.8v.8h-.8zm1.4-.6h.8v.8h-.8zm-1 1.5h.8v.8h-.8zm.5-.1h.8v.8h-.8zm-2 1.3h.8v.8h-.8zm.1-.6h.8v.8h-.8zm.7 .7h.8v.8h-.8zm1.8-.8h.8v.8h-.8zm-2.3 1.1h.8v.8h-.8zm2.7-.1h.8v.8h-.8zm-2 1.5h.8v.8h-.8zm.7-.4h.8v.8h-.8zm-1.3 1.9h.8v.8h-.8zm2.4 .5h.8v.8h-.8zm-2.6 1.3h.8v.8h-.8zm1.2 0h.8v.8h-.8zm2.4 0h.8v.8h-.8zm-1.3 2.2h.8v.8h-.8zm-1.6 1.4h.8v.8h-.8zm1-.4h.8v.8h-.8zm.2 .5h.8v.8h-.8zm.1-.3h.8v.8h-.8zm.7-.3h.8v.8h-.8zm-1.5 1.2h.8v.8h-.8zm1.2 .3h.8v.8h-.8zm.8 .1h.8v.8h-.8zm1.2-.2h.8v.8h-.8zm-2.1 .7h.8v.8h-.8zm.7 .5h.8v.8h-.8zm-2.6 1.5h.8v.8h-.8zm1.3 .6h.8v.8h-.8zm.1 0h.8v.8h-.8zm.6-.3h.8v.8h-.8zm1.7-.4h.8v.8h-.8zm-1.4 1.2h.8v.8h-.8z"/>
<path fill="#76b7b2" d="M648.4 76.4h.8v.8h-.8zm-2.5 1h.8v.8h-.8zm3.8-.5h.8v.8h-.8zm-42.3 1.6h.8v.8h-.8zm.4-.3h.8v.8h-.8zm37-.5h.8v.8h-.8zm.2 .8h.8v.8h-.8zm1.9-.2h.8v.8h-.8zm.8-.8h.8v.8h-.8zm1.3 .9h.8v.8h-.8zm.5-.1h.8v.8h-.8zm-42.4 1.1h.8v.8h-.8zm.1-.5h.8v.8h-.8zm.3-.1h.8v.8h-.8zm1.8 .5h.8v.8h-.8zm1.7-.1h.8v.8h-.8zm1.5 0h.8v.8h-.8zm1.5-.1h.8v.8h-.8zm31.6 0h.8v.8h-.8zm-38 1.2h.8v.8h-.8zm1.9-.5h.8v.8h-.8zm.1 .5h.8v.8h-.8zm3-.8h.8v.8h-.8zm.9 .7h.8v.8h-.8zm7.7 .3h.8v.8h-.8zm22.6-.1h.8v.8h-.8zm.1-.7h.8v.8h-.8zm.6 .7h.8v.8h-.8zm1.7 .1h.8v.8h-.8zm.3-.7h.8v.8h-.8zm.6 .6h.8v.8h-.8zm.6-.1h.8v.8h-.8zm.3-.7h.8v.8h-.8zm1.7 0h.8v.8h-.8zm-38.3 1.2h.8v.8h-.8zm2 .6h.8v.8h-.8zm0-.2h.8v.8h-.8zm2.7-.1h.8v.8h-.8zm.3-.4h.8v.8h-.8zm4.1 .6h.8v.8h-.8zm20.8-.5h.8v.8h-.8zm2.1 .3h.8v.8h-.8zm2.5 .1h.8v.8h-.8zm-28.1 .6h.8v.8h-.8zm.2-.2h.8v.8h-.8zm2.9 .4h.8v.8h-.8zm2.1 .4h.8v.8h-.8zm5 .1h.8v.8h-.8zm.2-.6h.8v.8h-.8zm2.8 .1h.8v.8h-.8zm6.3-.2h.8v.8h-.8zm.8-.1h.8v.8h-.8zm2.8 0h.8v.8h-.8zm2.2 .6h.8v.8h-.8zm.3 .1h.8v.8h-.8zm-29.3 .7h.8v.8h-.8zm5.6-.1h.8v.8h-.8zm1.2 .3h.8v.8h-.8zm.4-.4h.8v.8h-.8zm0 .3h.8v.8h-.8zm3.3-.5h.8v.8h-.8zm.2 0h.8v.8h-.8zm5.1 .7h.8v.8h-.8zm.9-.1h.8v.8h-.8zm7.6 0h.8v.8h-.8zm-22.1 .9h.8v.8h-.8zm10.4-.1h.8v.8h-.8zm3.2-.4h.8v.8h-.8zm1.5-.2h.8v.8h-.8zm.9 .6h.8v.8h-.8zm.9-.4h.8v.8h-.8zm.3 .4h.8v.8h-.8zm.6-.2h.8v.8h-.8zm2.4-.3h.8v.8h-.8zm1.8 .8h.8v.8h-.8zm1.9-.2h.8v.8h-.8zm4.1-.7h.8v.8h-.8zm-19.9 1.3h.8v.8h-.8zm4.2 .6h.8v.8h-.8zm1.8-.7h.8v.8h-.8zm2.2 .3h.8v.8h-.8zm3.6-.4h.8v.8h-.8zm1.9 .7h.8v.8h-.8zm1.2-.7h.8v.8h-.8z"/>
<line x1="567.4" y1="86.7" x2="567.4" y2="67.7" stroke="#222" stroke-width="0.7"/>
<line x1="567.4" y1="86.7" x2="599.4" y2="86.7" stroke="#222" stroke-width="0.7"/>
<polygon points="567.40,67.18 568.57,69.78 566.23,69.78" fill="#222"/>
<polygon points="599.92,86.70 597.32,87.87 597.32,85.53" fill="#222"/>
<text x="561.8" y="77" font-size="5.6" text-anchor="middle" fill="#333" transform="rotate(-90 561.8 77)">FltSNE2</text>
<text x="586.5" y="94.2" font-size="5.6" text-anchor="middle" fill="#333">FltSNE1</text>
<text x="567.7" y="106" font-size="5.2" fill="#222">Integrated</text>
<text x="567.7" y="111.5" font-size="5.2" fill="#222">Treg Clusters</text>
<rect x="603" y="101.5" width="4.6" height="4.4" fill="#4e79a7"/>
<text x="610.8" y="105.5" font-size="4.8" fill="#333">1</text>
<rect x="603" y="107.3" width="4.6" height="4.4" fill="#f28e2b"/>
<text x="610.8" y="111.3" font-size="4.8" fill="#333">2</text>
<rect x="617.5" y="101.5" width="4.6" height="4.4" fill="#e15759"/>
<text x="625.3" y="105.5" font-size="4.8" fill="#333">3</text>
<rect x="617.5" y="107.3" width="4.6" height="4.4" fill="#76b7b2"/>
<text x="625.3" y="111.3" font-size="4.8" fill="#333">4</text>
<rect x="631" y="101.5" width="4.6" height="4.4" fill="#59a14f"/>
<text x="638.8" y="105.5" font-size="4.8" fill="#333">5</text>
<rect x="631" y="107.3" width="4.6" height="4.4" fill="#edc948"/>
<text x="638.8" y="111.3" font-size="4.8" fill="#333">6</text>
<rect x="645" y="101.5" width="4.6" height="4.4" fill="#b07aa1"/>
<text x="652.8" y="105.5" font-size="4.8" fill="#333">7</text>
<rect x="645" y="107.3" width="4.6" height="4.4" fill="#ff9da7"/>
<text x="652.8" y="111.3" font-size="4.8" fill="#333">8</text>
<rect x="659" y="101.5" width="4.6" height="4.4" fill="#9c755f"/>
<text x="666.8" y="105.5" font-size="4.8" fill="#333">9</text>
<rect x="659" y="107.3" width="4.6" height="4.4" fill="#bab0ac"/>
<text x="666.8" y="111.3" font-size="4.8" fill="#333">10</text>
<defs><linearGradient id="gl" x1="0" x2="1"><stop offset="0" stop-color="#dddddd"/><stop offset="1" stop-color="#111"/></linearGradient></defs>
<polygon points="252,121.2 662,120.6 662,122.4 252,121.7" fill="url(#gl)"/>
<polygon points="671.00,121.50 661.50,125.25 661.50,117.75" fill="#111"/>
<text x="232.6" y="117.3" font-size="10.6" fill="#111">Integrative T<tspan font-size="5.9" baseline-shift="-2.3">regs</tspan> data analysis</text>
<text x="8" y="144.3" font-size="14" font-weight="bold" fill="#000">C</text>
<text x="38" y="142.4" font-size="7" font-weight="bold" fill="#000">WPI</text>
<circle cx="41.2" cy="149.2" r="3.06" fill="none" stroke="#3a8ddb" stroke-width="1.1"/>
<text x="46.3" y="151.8" font-size="6.6" fill="#333">0</text>
<polygon points="56.0,145.5 51.8,152.3 60.2,152.3" fill="none" stroke="#f58a2e" stroke-width="1.1" stroke-linejoin="miter"/>
<text x="60.8" y="151.8" font-size="6.6" fill="#333">4</text>
<line x1="66.0" y1="149.2" x2="74.0" y2="149.2" stroke="#b8b8b8" stroke-width="1.1"/>
<line x1="70" y1="145.2" x2="70" y2="153.2" stroke="#b8b8b8" stroke-width="1.1"/>
<text x="75.8" y="151.8" font-size="6.6" fill="#333">8</text>
<line x1="80.08" y1="145.67999999999998" x2="87.11999999999999" y2="152.72" stroke="#169c78" stroke-width="1.3"/>
<line x1="80.08" y1="152.72" x2="87.11999999999999" y2="145.67999999999998" stroke="#169c78" stroke-width="1.3"/>
<text x="89" y="151.8" font-size="6.6" fill="#333">12</text>
<polygon points="102.5,145.0 106.7,149.2 102.5,153.4 98.3,149.2" fill="none" stroke="#d67cb9" stroke-width="1.1"/>
<text x="107.6" y="151.8" font-size="6.6" fill="#333">28</text>
<polygon points="119.8,152.7 115.7,146.0 123.9,146.0" fill="none" stroke="#e8d335" stroke-width="1.1"/>
<text x="125" y="151.8" font-size="6.6" fill="#333">52</text>
<rect x="135.2" y="146.6" width="5.2" height="5.2" fill="#111"/>
<line x1="136" y1="147.4" x2="139.6" y2="151" stroke="#fff" stroke-width="0.7"/>
<line x1="136" y1="151" x2="139.6" y2="147.4" stroke="#fff" stroke-width="0.7"/>
<text x="143.6" y="151.8" font-size="6.6" fill="#333">104</text>
<line x1="51.3" y1="155" x2="51.3" y2="268" stroke="#ececec" stroke-width="0.5"/>
<line x1="108.3" y1="155" x2="108.3" y2="268" stroke="#ececec" stroke-width="0.5"/>
<line x1="163.8" y1="155" x2="163.8" y2="268" stroke="#ececec" stroke-width="0.5"/>
<line x1="219.5" y1="155" x2="219.5" y2="268" stroke="#ececec" stroke-width="0.5"/>
<line x1="36" y1="166.2" x2="260.5" y2="166.2" stroke="#ececec" stroke-width="0.5"/>
<line x1="36" y1="199" x2="260.5" y2="199" stroke="#ececec" stroke-width="0.5"/>
<line x1="36" y1="232" x2="260.5" y2="232" stroke="#ececec" stroke-width="0.5"/>
<line x1="36" y1="264.6" x2="260.5" y2="264.6" stroke="#ececec" stroke-width="0.5"/>
<ellipse cx="68" cy="192.6" rx="18.3" ry="38.3" transform="rotate(-28 68 192.6)" fill="none" stroke="#333" stroke-width="0.85" stroke-dasharray="4,2.6"/>
<path d="M69.5,268.5 C66,259 80,240 100,226.6 C112,216 122,204 132.8,196 C145,188 155,184 165.7,180.6 C175,177.5 181,176 187.6,175.2 C196,174.3 203,173.8 209.5,174.1 C213,174.4 216,175 218.2,176.3 C223,180 228,185 231.4,189.4 C237,198 241,205 244.5,211.3 C249,219 254,228 256.5,236 C257.5,240 254,241.5 250,243 C230,249 210,252 187.6,256.2 C170,259.5 158,261 143.8,262.8 C125,265 110,266 100,266.5 C88,267.5 78,268 69.5,268.5 Z" fill="none" stroke="#333" stroke-width="0.85" stroke-dasharray="4,2.6"/>
<line x1="66.6" y1="187.8" x2="69" y2="164" stroke="#3a8ddb" stroke-width="1.3"/>
<line x1="66.6" y1="187.8" x2="44.8" y2="174.8" stroke="#3a8ddb" stroke-width="1.3"/>
<line x1="66.6" y1="187.8" x2="69.4" y2="194.8" stroke="#3a8ddb" stroke-width="1.3"/>
<line x1="66.6" y1="187.8" x2="84" y2="222.9" stroke="#3a8ddb" stroke-width="1.3"/>
<circle cx="69.0" cy="164.0" r="2.21" fill="none" stroke="#3a8ddb" stroke-width="0.9"/>
<circle cx="44.8" cy="174.8" r="2.21" fill="none" stroke="#3a8ddb" stroke-width="0.9"/>
<circle cx="69.4" cy="194.8" r="2.21" fill="none" stroke="#3a8ddb" stroke-width="0.9"/>
<circle cx="84.0" cy="222.9" r="2.21" fill="none" stroke="#3a8ddb" stroke-width="0.9"/>
<line x1="113" y1="251.7" x2="103" y2="242.8" stroke="#f58a2e" stroke-width="1.3"/>
<line x1="113" y1="251.7" x2="127.2" y2="252.6" stroke="#f58a2e" stroke-width="1.3"/>
<line x1="113" y1="251.7" x2="75.4" y2="263.6" stroke="#f58a2e" stroke-width="1.3"/>
<line x1="113" y1="251.7" x2="146.8" y2="246.6" stroke="#f58a2e" stroke-width="1.3"/>
<polygon points="103.0,239.9 100.1,244.7 105.9,244.7" fill="none" stroke="#f58a2e" stroke-width="0.9" stroke-linejoin="miter"/>
<polygon points="127.2,249.7 124.3,254.5 130.1,254.5" fill="none" stroke="#f58a2e" stroke-width="0.9" stroke-linejoin="miter"/>
<polygon points="75.4,260.7 72.5,265.5 78.3,265.5" fill="none" stroke="#f58a2e" stroke-width="0.9" stroke-linejoin="miter"/>
<polygon points="146.8,243.7 143.9,248.5 149.7,248.5" fill="none" stroke="#f58a2e" stroke-width="0.9" stroke-linejoin="miter"/>
<line x1="110" y1="222" x2="103.5" y2="231" stroke="#bbbbbb" stroke-width="1.3"/>
<line x1="110" y1="222" x2="106" y2="228" stroke="#bbbbbb" stroke-width="1.3"/>
<line x1="110" y1="222" x2="112" y2="221" stroke="#bbbbbb" stroke-width="1.3"/>
<line x1="110" y1="222" x2="116" y2="218" stroke="#bbbbbb" stroke-width="1.3"/>
<line x1="101.0" y1="231" x2="106.0" y2="231" stroke="#bbbbbb" stroke-width="0.9"/>
<line x1="103.5" y1="228.5" x2="103.5" y2="233.5" stroke="#bbbbbb" stroke-width="0.9"/>
<line x1="103.5" y1="228" x2="108.5" y2="228" stroke="#bbbbbb" stroke-width="0.9"/>
<line x1="106" y1="225.5" x2="106" y2="230.5" stroke="#bbbbbb" stroke-width="0.9"/>
<line x1="109.5" y1="221" x2="114.5" y2="221" stroke="#bbbbbb" stroke-width="0.9"/>
<line x1="112" y1="218.5" x2="112" y2="223.5" stroke="#bbbbbb" stroke-width="0.9"/>
<line x1="113.5" y1="218" x2="118.5" y2="218" stroke="#bbbbbb" stroke-width="0.9"/>
<line x1="116" y1="215.5" x2="116" y2="220.5" stroke="#bbbbbb" stroke-width="0.9"/>
<line x1="114" y1="222.5" x2="142.4" y2="200.4" stroke="#169c78" stroke-width="1.3"/>
<line x1="114" y1="222.5" x2="132" y2="214.7" stroke="#169c78" stroke-width="1.3"/>
<line x1="114" y1="222.5" x2="113" y2="224" stroke="#169c78" stroke-width="1.3"/>
<line x1="114" y1="222.5" x2="105.4" y2="234.6" stroke="#169c78" stroke-width="1.3"/>
<line x1="140.0" y1="198.0" x2="144.8" y2="202.8" stroke="#169c78" stroke-width="1.0"/>
<line x1="140.0" y1="202.8" x2="144.8" y2="198.0" stroke="#169c78" stroke-width="1.0"/>
<line x1="129.6" y1="212.29999999999998" x2="134.4" y2="217.1" stroke="#169c78" stroke-width="1.0"/>
<line x1="129.6" y1="217.1" x2="134.4" y2="212.29999999999998" stroke="#169c78" stroke-width="1.0"/>
<line x1="110.6" y1="221.6" x2="115.4" y2="226.4" stroke="#169c78" stroke-width="1.0"/>
<line x1="110.6" y1="226.4" x2="115.4" y2="221.6" stroke="#169c78" stroke-width="1.0"/>
<line x1="103.0" y1="232.2" x2="107.80000000000001" y2="237.0" stroke="#169c78" stroke-width="1.0"/>
<line x1="103.0" y1="237.0" x2="107.80000000000001" y2="232.2" stroke="#169c78" stroke-width="1.0"/>
<line x1="164" y1="213.5" x2="142.7" y2="212.4" stroke="#d67cb9" stroke-width="1.2"/>
<line x1="164" y1="213.5" x2="164" y2="213.5" stroke="#d67cb9" stroke-width="1.2"/>
<line x1="164" y1="213.5" x2="177" y2="203.6" stroke="#d67cb9" stroke-width="1.2"/>
<line x1="164" y1="213.5" x2="165.7" y2="225.5" stroke="#d67cb9" stroke-width="1.2"/>
<polygon points="142.7,209.2 145.9,212.4 142.7,215.6 139.5,212.4" fill="none" stroke="#d67cb9" stroke-width="0.9"/>
<polygon points="164.0,210.3 167.2,213.5 164.0,216.7 160.8,213.5" fill="none" stroke="#d67cb9" stroke-width="0.9"/>
<polygon points="177.0,200.4 180.2,203.6 177.0,206.8 173.8,203.6" fill="none" stroke="#d67cb9" stroke-width="0.9"/>
<polygon points="165.7,222.3 168.9,225.5 165.7,228.7 162.5,225.5" fill="none" stroke="#d67cb9" stroke-width="0.9"/>
<line x1="181.5" y1="197" x2="151.5" y2="196.6" stroke="#e8d335" stroke-width="1.2"/>
<line x1="181.5" y1="197" x2="167.9" y2="202.5" stroke="#e8d335" stroke-width="1.2"/>
<line x1="181.5" y1="197" x2="205" y2="180.2" stroke="#e8d335" stroke-width="1.2"/>
<line x1="181.5" y1="197" x2="201.8" y2="212.4" stroke="#e8d335" stroke-width="1.2"/>
<polygon points="151.5,199.5 148.6,194.7 154.4,194.7" fill="none" stroke="#e8d335" stroke-width="0.9"/>
<polygon points="167.9,205.4 165.0,200.6 170.8,200.6" fill="none" stroke="#e8d335" stroke-width="0.9"/>
<polygon points="205.0,183.1 202.1,178.3 207.9,178.3" fill="none" stroke="#e8d335" stroke-width="0.9"/>
<polygon points="201.8,215.3 198.9,210.5 204.7,210.5" fill="none" stroke="#e8d335" stroke-width="0.9"/>
<line x1="117.5" y1="217.9" x2="185.8" y2="219" stroke="#111" stroke-width="1.5"/>
<line x1="185.8" y1="219" x2="197" y2="180.7" stroke="#111" stroke-width="1.5"/>
<line x1="185.8" y1="219" x2="175.5" y2="237.6" stroke="#111" stroke-width="1.5"/>
<line x1="185.8" y1="219" x2="249" y2="237.1" stroke="#111" stroke-width="1.5"/>
<rect x="194.6" y="178.3" width="4.8" height="4.8" fill="none" stroke="#111" stroke-width="1.0"/>
<line x1="194.62" y1="178.32" x2="199.38" y2="183.07999999999998" stroke="#111" stroke-width="0.8"/>
<line x1="194.62" y1="183.07999999999998" x2="199.38" y2="178.32" stroke="#111" stroke-width="0.8"/>
<rect x="173.1" y="235.2" width="4.8" height="4.8" fill="none" stroke="#111" stroke-width="1.0"/>
<line x1="173.12" y1="235.22" x2="177.88" y2="239.98" stroke="#111" stroke-width="0.8"/>
<line x1="173.12" y1="239.98" x2="177.88" y2="235.22" stroke="#111" stroke-width="0.8"/>
<rect x="246.6" y="234.7" width="4.8" height="4.8" fill="none" stroke="#111" stroke-width="1.0"/>
<line x1="246.62" y1="234.72" x2="251.38" y2="239.48" stroke="#111" stroke-width="0.8"/>
<line x1="246.62" y1="239.48" x2="251.38" y2="234.72" stroke="#111" stroke-width="0.8"/>
<rect x="115.1" y="215.5" width="4.8" height="4.8" fill="none" stroke="#111" stroke-width="1.0"/>
<line x1="115.12" y1="215.52" x2="119.88" y2="220.28" stroke="#111" stroke-width="0.8"/>
<line x1="115.12" y1="220.28" x2="119.88" y2="215.52" stroke="#111" stroke-width="0.8"/>
<text x="83.5" y="166.4" font-size="7.8" font-weight="bold" fill="#3a8ddb">Before</text>
<text x="82.6" y="173.8" font-size="7.8" fill="#222">infection</text>
<text x="184.7" y="165.3" font-size="7.8" font-weight="bold" fill="#e8202a">After</text>
<text x="173.8" y="173.6" font-size="7.8" fill="#222">infection</text>
<text x="38" y="237.4" font-size="7.4" font-weight="bold" fill="#000">PERMANOVA</text>
<text x="38" y="245.4" font-size="7.4" font-weight="bold" fill="#000">P &lt; 0.001</text>
<line x1="35.0" y1="269.3" x2="35.0" y2="202" stroke="#111" stroke-width="1.0"/>
<polygon points="35.00,198.30 37.30,203.30 32.70,203.30" fill="#111"/>
<line x1="34.5" y1="269.3" x2="98.5" y2="269.3" stroke="#111" stroke-width="1.0"/>
<polygon points="102.70,269.00 97.70,271.30 97.70,266.70" fill="#111"/>
<text x="40.5" y="277.3" font-size="8.9" fill="#222">PC1: 45% expl. var</text>
<text x="31.3" y="229.5" font-size="8.9" text-anchor="middle" fill="#222" transform="rotate(-90 31.3 229.5)">PC2: 21% expl. var</text>
<text x="272.5" y="146" font-size="14" font-weight="bold" fill="#000">D</text>
<rect x="297.10" y="139.40" width="13.94" height="13.00" fill="#d73027"/>
<rect x="310.74" y="139.40" width="13.94" height="13.00" fill="#fdae61"/>
<rect x="324.38" y="139.40" width="13.94" height="13.00" fill="#fee090"/>
<rect x="338.02" y="139.40" width="13.94" height="13.00" fill="#abd9e9"/>
<rect x="351.66" y="139.40" width="13.94" height="13.00" fill="#fdae61"/>
<rect x="365.30" y="139.40" width="13.94" height="13.00" fill="#74add1"/>
<rect x="378.94" y="139.40" width="13.94" height="13.00" fill="#e0f3f8"/>
<rect x="392.58" y="139.40" width="13.94" height="13.00" fill="#f26841"/>
<rect x="406.22" y="139.40" width="13.94" height="13.00" fill="#35479d"/>
<rect x="419.86" y="139.40" width="13.94" height="13.00" fill="#384f9f"/>
<rect x="433.50" y="139.40" width="13.94" height="13.00" fill="#354199"/>
<rect x="447.14" y="139.40" width="13.94" height="13.00" fill="#313695"/>
<rect x="297.10" y="152.10" width="13.94" height="13.00" fill="#a50026"/>
<rect x="310.74" y="152.10" width="13.94" height="13.00" fill="#fdc877"/>
<rect x="324.38" y="152.10" width="13.94" height="13.00" fill="#4575b4"/>
<rect x="338.02" y="152.10" width="13.94" height="13.00" fill="#ffffbf"/>
<rect x="351.66" y="152.10" width="13.94" height="13.00" fill="#f88b51"/>
<rect x="365.30" y="152.10" width="13.94" height="13.00" fill="#fdae61"/>
<rect x="378.94" y="152.10" width="13.94" height="13.00" fill="#f3f9d6"/>
<rect x="392.58" y="152.10" width="13.94" height="13.00" fill="#a5d3e6"/>
<rect x="406.22" y="152.10" width="13.94" height="13.00" fill="#35479d"/>
<rect x="419.86" y="152.10" width="13.94" height="13.00" fill="#34409b"/>
<rect x="433.50" y="152.10" width="13.94" height="13.00" fill="#3e5ba6"/>
<rect x="447.14" y="152.10" width="13.94" height="13.00" fill="#313695"/>
<rect x="297.10" y="164.80" width="13.94" height="13.00" fill="#b8132a"/>
<rect x="310.74" y="164.80" width="13.94" height="13.00" fill="#fee090"/>
<rect x="324.38" y="164.80" width="13.94" height="13.00" fill="#74add1"/>
<rect x="338.02" y="164.80" width="13.94" height="13.00" fill="#e8f4f0"/>
<rect x="351.66" y="164.80" width="13.94" height="13.00" fill="#fee59a"/>
<rect x="365.30" y="164.80" width="13.94" height="13.00" fill="#80b6d6"/>
<rect x="378.94" y="164.80" width="13.94" height="13.00" fill="#5b8cc2"/>
<rect x="392.58" y="164.80" width="13.94" height="13.00" fill="#7fb2d5"/>
<rect x="406.22" y="164.80" width="13.94" height="13.00" fill="#35479d"/>
<rect x="419.86" y="164.80" width="13.94" height="13.00" fill="#fee090"/>
<rect x="433.50" y="164.80" width="13.94" height="13.00" fill="#abd9e9"/>
<rect x="447.14" y="164.80" width="13.94" height="13.00" fill="#313695"/>
<rect x="297.10" y="177.50" width="13.94" height="13.00" fill="#b0102a"/>
<rect x="310.74" y="177.50" width="13.94" height="13.00" fill="#fdae61"/>
<rect x="324.38" y="177.50" width="13.94" height="13.00" fill="#f5fbd0"/>
<rect x="338.02" y="177.50" width="13.94" height="13.00" fill="#dcecf4"/>
<rect x="351.66" y="177.50" width="13.94" height="13.00" fill="#feeda0"/>
<rect x="365.30" y="177.50" width="13.94" height="13.00" fill="#abd9e9"/>
<rect x="378.94" y="177.50" width="13.94" height="13.00" fill="#a0cce3"/>
<rect x="392.58" y="177.50" width="13.94" height="13.00" fill="#5b8cc2"/>
<rect x="406.22" y="177.50" width="13.94" height="13.00" fill="#35479d"/>
<rect x="419.86" y="177.50" width="13.94" height="13.00" fill="#313695"/>
<rect x="433.50" y="177.50" width="13.94" height="13.00" fill="#3b54a3"/>
<rect x="447.14" y="177.50" width="13.94" height="13.00" fill="#313695"/>
<rect x="297.10" y="190.20" width="13.94" height="13.00" fill="#df3b2c"/>
<rect x="310.74" y="190.20" width="13.94" height="13.00" fill="#ffffbf"/>
<rect x="324.38" y="190.20" width="13.94" height="13.00" fill="#4575b4"/>
<rect x="338.02" y="190.20" width="13.94" height="13.00" fill="#dcecf4"/>
<rect x="351.66" y="190.20" width="13.94" height="13.00" fill="#eef6e0"/>
<rect x="365.30" y="190.20" width="13.94" height="13.00" fill="#a0cce3"/>
<rect x="378.94" y="190.20" width="13.94" height="13.00" fill="#6a9fcc"/>
<rect x="392.58" y="190.20" width="13.94" height="13.00" fill="#4575b4"/>
<rect x="406.22" y="190.20" width="13.94" height="13.00" fill="#35479d"/>
<rect x="419.86" y="190.20" width="13.94" height="13.00" fill="#313695"/>
<rect x="433.50" y="190.20" width="13.94" height="13.00" fill="#3b54a3"/>
<rect x="447.14" y="190.20" width="13.94" height="13.00" fill="#313695"/>
<rect x="297.10" y="202.90" width="13.94" height="13.00" fill="#fff2a8"/>
<rect x="310.74" y="202.90" width="13.94" height="13.00" fill="#fdae61"/>
<rect x="324.38" y="202.90" width="13.94" height="13.00" fill="#fff3aa"/>
<rect x="338.02" y="202.90" width="13.94" height="13.00" fill="#a0cce3"/>
<rect x="351.66" y="202.90" width="13.94" height="13.00" fill="#5b8cc2"/>
<rect x="365.30" y="202.90" width="13.94" height="13.00" fill="#4f80bb"/>
<rect x="378.94" y="202.90" width="13.94" height="13.00" fill="#313695"/>
<rect x="392.58" y="202.90" width="13.94" height="13.00" fill="#4575b4"/>
<rect x="406.22" y="202.90" width="13.94" height="13.00" fill="#3e5ba6"/>
<rect x="419.86" y="202.90" width="13.94" height="13.00" fill="#313695"/>
<rect x="433.50" y="202.90" width="13.94" height="13.00" fill="#313695"/>
<rect x="447.14" y="202.90" width="13.94" height="13.00" fill="#313695"/>
<rect x="297.10" y="215.60" width="13.94" height="13.00" fill="#d42a26"/>
<rect x="310.74" y="215.60" width="13.94" height="13.00" fill="#cde8f0"/>
<rect x="324.38" y="215.60" width="13.94" height="13.00" fill="#3a4fa0"/>
<rect x="338.02" y="215.60" width="13.94" height="13.00" fill="#f57a47"/>
<rect x="351.66" y="215.60" width="13.94" height="13.00" fill="#4575b4"/>
<rect x="365.30" y="215.60" width="13.94" height="13.00" fill="#5b8cc2"/>
<rect x="378.94" y="215.60" width="13.94" height="13.00" fill="#74add1"/>
<rect x="392.58" y="215.60" width="13.94" height="13.00" fill="#7fb2d5"/>
<rect x="406.22" y="215.60" width="13.94" height="13.00" fill="#384f9f"/>
<rect x="419.86" y="215.60" width="13.94" height="13.00" fill="#4169ad"/>
<rect x="433.50" y="215.60" width="13.94" height="13.00" fill="#313695"/>
<rect x="447.14" y="215.60" width="13.94" height="13.00" fill="#fee090"/>
<rect x="297.10" y="228.30" width="13.94" height="13.00" fill="#d52e27"/>
<rect x="310.74" y="228.30" width="13.94" height="13.00" fill="#90c3de"/>
<rect x="324.38" y="228.30" width="13.94" height="13.00" fill="#3d5aa5"/>
<rect x="338.02" y="228.30" width="13.94" height="13.00" fill="#feeaa0"/>
<rect x="351.66" y="228.30" width="13.94" height="13.00" fill="#3443a0"/>
<rect x="365.30" y="228.30" width="13.94" height="13.00" fill="#8ec0dd"/>
<rect x="378.94" y="228.30" width="13.94" height="13.00" fill="#4575b4"/>
<rect x="392.58" y="228.30" width="13.94" height="13.00" fill="#4a7bb7"/>
<rect x="406.22" y="228.30" width="13.94" height="13.00" fill="#384f9f"/>
<rect x="419.86" y="228.30" width="13.94" height="13.00" fill="#34409b"/>
<rect x="433.50" y="228.30" width="13.94" height="13.00" fill="#3e5ba6"/>
<rect x="447.14" y="228.30" width="13.94" height="13.00" fill="#313695"/>
<rect x="297.10" y="243.00" width="13.94" height="12.80" fill="#5b8cc2"/>
<rect x="310.74" y="243.00" width="13.94" height="12.80" fill="#d73027"/>
<rect x="324.38" y="243.00" width="13.94" height="12.80" fill="#f26841"/>
<rect x="338.02" y="243.00" width="13.94" height="12.80" fill="#abd9e9"/>
<rect x="351.66" y="243.00" width="13.94" height="12.80" fill="#7fb2d5"/>
<rect x="365.30" y="243.00" width="13.94" height="12.80" fill="#80b6d6"/>
<rect x="378.94" y="243.00" width="13.94" height="12.80" fill="#3e5ba6"/>
<rect x="392.58" y="243.00" width="13.94" height="12.80" fill="#edf6e6"/>
<rect x="406.22" y="243.00" width="13.94" height="12.80" fill="#fff5ae"/>
<rect x="419.86" y="243.00" width="13.94" height="12.80" fill="#313695"/>
<rect x="433.50" y="243.00" width="13.94" height="12.80" fill="#313695"/>
<rect x="447.14" y="243.00" width="13.94" height="12.80" fill="#313695"/>
<rect x="297.10" y="255.70" width="13.94" height="12.80" fill="#74add1"/>
<rect x="310.74" y="255.70" width="13.94" height="12.80" fill="#f46d43"/>
<rect x="324.38" y="255.70" width="13.94" height="12.80" fill="#fca55e"/>
<rect x="338.02" y="255.70" width="13.94" height="12.80" fill="#9ecce3"/>
<rect x="351.66" y="255.70" width="13.94" height="12.80" fill="#5e8fc3"/>
<rect x="365.30" y="255.70" width="13.94" height="12.80" fill="#5a8bc1"/>
<rect x="378.94" y="255.70" width="13.94" height="12.80" fill="#313695"/>
<rect x="392.58" y="255.70" width="13.94" height="12.80" fill="#90c3de"/>
<rect x="406.22" y="255.70" width="13.94" height="12.80" fill="#dbeef5"/>
<rect x="419.86" y="255.70" width="13.94" height="12.80" fill="#313695"/>
<rect x="433.50" y="255.70" width="13.94" height="12.80" fill="#313695"/>
<rect x="447.14" y="255.70" width="13.94" height="12.80" fill="#313695"/>
<text x="375.5" y="136.2" font-size="7.0" font-weight="bold" text-anchor="middle" fill="#000">Marker Expression</text>
<text x="305.4" y="272.6" font-size="6.4" text-anchor="end" fill="#222" transform="rotate(-45 305.4 272.6)">CD45RO</text>
<text x="319.1" y="272.6" font-size="6.4" text-anchor="end" fill="#222" transform="rotate(-45 319.1 272.6)">CD7</text>
<text x="332.7" y="272.6" font-size="6.4" text-anchor="end" fill="#222" transform="rotate(-45 332.7 272.6)">CCR7</text>
<text x="346.3" y="272.6" font-size="6.4" text-anchor="end" fill="#222" transform="rotate(-45 346.3 272.6)">GATA3</text>
<text x="360.0" y="272.6" font-size="6.4" text-anchor="end" fill="#222" transform="rotate(-45 360.0 272.6)">CTLA4</text>
<text x="373.6" y="272.6" font-size="6.4" text-anchor="end" fill="#222" transform="rotate(-45 373.6 272.6)">HLADR</text>
<text x="387.3" y="272.6" font-size="6.4" text-anchor="end" fill="#222" transform="rotate(-45 387.3 272.6)">ICOS</text>
<text x="400.9" y="272.6" font-size="6.4" text-anchor="end" fill="#222" transform="rotate(-45 400.9 272.6)">CD38</text>
<text x="414.5" y="272.6" font-size="6.4" text-anchor="end" fill="#222" transform="rotate(-45 414.5 272.6)">CD45RA</text>
<text x="428.2" y="272.6" font-size="6.4" text-anchor="end" fill="#222" transform="rotate(-45 428.2 272.6)">CD161</text>
<text x="441.8" y="272.6" font-size="6.4" text-anchor="end" fill="#222" transform="rotate(-45 441.8 272.6)">CCR6</text>
<text x="455.5" y="272.6" font-size="6.4" text-anchor="end" fill="#222" transform="rotate(-45 455.5 272.6)">CRTH2</text>
<text x="286.8" y="188" font-size="7.4" font-weight="bold" text-anchor="middle" fill="#000" transform="rotate(-90 286.8 188)">Effector</text>
<text x="294.3" y="188" font-size="7.4" font-weight="bold" text-anchor="middle" fill="#000" transform="rotate(-90 294.3 188)">(CD45RA<tspan font-size="4.5" baseline-shift="3">−</tspan>)</text>
<text x="286.8" y="258" font-size="7.4" font-weight="bold" text-anchor="middle" fill="#000" transform="rotate(-90 286.8 258)">Resting</text>
<text x="294.3" y="257" font-size="7.4" font-weight="bold" text-anchor="middle" fill="#000" transform="rotate(-90 294.3 257)">(CD45RA<tspan font-size="4.5" baseline-shift="3">+</tspan>)</text>
<rect x="465.0" y="139.5" width="81.6" height="101.4" fill="#f5f5f5" stroke="#111" stroke-width="0.9"/>
<rect x="465.45" y="139.95" width="13.60" height="12.70" fill="#ef9f84"/>
<rect x="465.45" y="165.31" width="13.60" height="12.70" fill="#a6cde3"/>
<rect x="506.25" y="165.31" width="13.60" height="12.70" fill="#94c4de"/>
<rect x="519.85" y="165.31" width="13.60" height="12.70" fill="#7fb3d5"/>
<rect x="533.45" y="165.31" width="13.60" height="12.70" fill="#5a9bc8"/>
<rect x="506.25" y="177.99" width="13.60" height="12.70" fill="#b4d6e8"/>
<rect x="519.85" y="177.99" width="13.60" height="12.70" fill="#92c1dd"/>
<rect x="533.45" y="177.99" width="13.60" height="12.70" fill="#7ab0d4"/>
<rect x="465.45" y="190.67" width="13.60" height="12.70" fill="#b8d9ea"/>
<rect x="506.25" y="190.67" width="13.60" height="12.70" fill="#b0d4e7"/>
<rect x="519.85" y="190.67" width="13.60" height="12.70" fill="#92c1dd"/>
<rect x="533.45" y="190.67" width="13.60" height="12.70" fill="#6ea8d0"/>
<rect x="465.0" y="243.4" width="81.6" height="25.1" fill="#f5f5f5" stroke="#111" stroke-width="0.9"/>
<rect x="465.45" y="243.85" width="13.60" height="12.20" fill="#f2a88d"/>
<rect x="479.05" y="243.85" width="13.60" height="12.20" fill="#dd6b55"/>
<rect x="492.65" y="243.85" width="13.60" height="12.20" fill="#e27b63"/>
<rect x="506.25" y="243.85" width="13.60" height="12.20" fill="#e5876e"/>
<rect x="519.85" y="243.85" width="13.60" height="12.20" fill="#f3ad92"/>
<rect x="533.45" y="243.85" width="12.70" height="12.20" fill="#ed9a80"/>
<rect x="465.45" y="255.95" width="13.60" height="12.20" fill="#f4b49a"/>
<rect x="492.65" y="255.95" width="13.60" height="12.20" fill="#f7c4ad"/>
<rect x="506.25" y="255.95" width="13.60" height="12.20" fill="#f7c4ad"/>
<rect x="533.45" y="255.95" width="12.70" height="12.20" fill="#f8cbb6"/>
<rect x="465.0" y="139.5" width="81.6" height="101.4" fill="none" stroke="#111" stroke-width="0.9"/>
<rect x="465.0" y="243.4" width="81.6" height="25.1" fill="none" stroke="#111" stroke-width="0.9"/>
<text x="506" y="136.2" font-size="7.0" font-weight="bold" text-anchor="middle" fill="#000">LFC from Baseline</text>
<text x="473.3" y="272.6" font-size="6.4" text-anchor="end" fill="#222" transform="rotate(-45 473.3 272.6)">0-4 WPI</text>
<text x="486.9" y="272.6" font-size="6.4" text-anchor="end" fill="#222" transform="rotate(-45 486.9 272.6)">0-8</text>
<text x="500.5" y="272.6" font-size="6.4" text-anchor="end" fill="#222" transform="rotate(-45 500.5 272.6)">0-12</text>
<text x="514.1" y="272.6" font-size="6.4" text-anchor="end" fill="#222" transform="rotate(-45 514.1 272.6)">0-28</text>
<text x="527.7" y="272.6" font-size="6.4" text-anchor="end" fill="#222" transform="rotate(-45 527.7 272.6)">0-52</text>
<text x="541.3" y="272.6" font-size="6.4" text-anchor="end" fill="#222" transform="rotate(-45 541.3 272.6)">0-104</text>
<rect x="551.2" y="141.0" width="7.8" height="9.6" fill="#7b7bf7"/>
<text x="552.4" y="148.1" font-size="6.9" fill="#222">0.49</text>
<rect x="551.2" y="153.7" width="7.8" height="9.6" fill="#7b7bf7"/>
<text x="552.4" y="160.8" font-size="6.9" fill="#222">0.51</text>
<rect x="551.2" y="166.4" width="3.1" height="9.6" fill="#7b7bf7"/>
<text x="552.4" y="173.5" font-size="6.9" fill="#222">0.22</text>
<rect x="551.2" y="179.1" width="8.3" height="9.6" fill="#7b7bf7"/>
<text x="552.4" y="186.2" font-size="6.9" fill="#222">0.54</text>
<rect x="551.2" y="191.8" width="18.8" height="9.6" fill="#7b7bf7"/>
<text x="552.4" y="198.9" font-size="6.9" fill="#222">1.2</text>
<rect x="551.2" y="204.4" width="12.8" height="9.6" fill="#7b7bf7"/>
<text x="552.4" y="211.5" font-size="6.9" fill="#222">0.84</text>
<rect x="551.2" y="217.1" width="0.6" height="9.6" fill="#7b7bf7"/>
<text x="552.4" y="224.2" font-size="6.9" fill="#222">0.027</text>
<rect x="551.2" y="229.8" width="0.7" height="9.6" fill="#7b7bf7"/>
<text x="552.4" y="236.9" font-size="6.9" fill="#222">0.034</text>
<rect x="551.2" y="244.9" width="9.8" height="9.6" fill="#7b7bf7"/>
<text x="552.4" y="252.0" font-size="6.9" fill="#222">0.65</text>
<rect x="551.2" y="257.4" width="21.5" height="9.6" fill="#7b7bf7"/>
<text x="552.4" y="264.5" font-size="6.9" fill="#222">1.4</text>
<text x="562" y="275.3" font-size="6.2" text-anchor="middle" fill="#222">Mean Freq.</text>
<text x="562" y="281.6" font-size="6.1" text-anchor="middle" fill="#222">(% of CD4<tspan font-size="4" baseline-shift="2.5">+</tspan>T)</text>
<text x="574.6" y="148.2" font-size="7.0" fill="#111">T<tspan font-size="3.6" baseline-shift="-1.6">regs</tspan> 4 : CTLA4<tspan font-size="3.8" baseline-shift="2.6">+</tspan>CCR7<tspan font-size="3.8" baseline-shift="2.6">+</tspan>ICOS</tspan><tspan font-size="3.8" baseline-shift="2.6">+</tspan>CD38</tspan><tspan font-size="3.8" baseline-shift="2.6">hi</tspan></text>
<text x="574.6" y="160.9" font-size="7.0" fill="#111">T<tspan font-size="3.6" baseline-shift="-1.6">regs</tspan> 8 : CTLA4<tspan font-size="3.8" baseline-shift="2.6">+</tspan>HLADR</tspan><tspan font-size="3.8" baseline-shift="2.6">+</tspan>ICOS</tspan><tspan font-size="3.8" baseline-shift="2.6">+</tspan></text>
<text x="574.6" y="173.6" font-size="7.0" fill="#111">T<tspan font-size="3.6" baseline-shift="-1.6">regs</tspan> 5 : CTLA4<tspan font-size="3.8" baseline-shift="2.6">+</tspan>CD161</tspan><tspan font-size="3.8" baseline-shift="2.6">+</tspan>CCR6</tspan><tspan font-size="3.8" baseline-shift="2.6">+</tspan></text>
<text x="574.6" y="186.3" font-size="7.0" fill="#111">T<tspan font-size="3.6" baseline-shift="-1.6">regs</tspan> 9 : CTLA4<tspan font-size="3.8" baseline-shift="2.6">+</tspan>CCR7</tspan><tspan font-size="3.8" baseline-shift="2.6">+</tspan></text>
<text x="574.6" y="199.0" font-size="7.0" fill="#111">T<tspan font-size="3.6" baseline-shift="-1.6">regs</tspan> 10: CTLA4<tspan font-size="3.8" baseline-shift="2.6">+</tspan></text>
<text x="574.6" y="211.7" font-size="7.0" fill="#111">T<tspan font-size="3.6" baseline-shift="-1.6">regs</tspan> 3 : CCR7<tspan font-size="3.8" baseline-shift="2.6">+</tspan></text>
<text x="574.6" y="224.4" font-size="7.0" fill="#111">T<tspan font-size="3.6" baseline-shift="-1.6">regs</tspan> 7 : T<tspan font-size="4.2" baseline-shift="-1.8">H</tspan>2-like</text>
<text x="574.6" y="237.1" font-size="7.0" fill="#111">T<tspan font-size="3.6" baseline-shift="-1.6">regs</tspan> 6</text>
<text x="574.6" y="251.4" font-size="7.0" fill="#111">T<tspan font-size="3.6" baseline-shift="-1.6">regs</tspan> 1 : CD38<tspan font-size="3.8" baseline-shift="2.6">+</tspan></text>
<text x="574.6" y="264.7" font-size="7.0" fill="#111">T<tspan font-size="3.6" baseline-shift="-1.6">regs</tspan> 2</text>
<text x="650.6" y="231" font-size="6.6" font-weight="bold" text-anchor="middle" fill="#000">LFC</text>
<defs><linearGradient id="glfc" x1="0" x2="1"><stop offset="0" stop-color="#053061"/><stop offset="0.2" stop-color="#2166ac"/><stop offset="0.4" stop-color="#92c5de"/><stop offset="0.5" stop-color="#f7f7f7"/><stop offset="0.6" stop-color="#f4a582"/><stop offset="0.8" stop-color="#b2182b"/><stop offset="1" stop-color="#67001f"/></linearGradient><linearGradient id="gmsi" x1="0" x2="1"><stop offset="0" stop-color="#313695"/><stop offset="0.2" stop-color="#4575b4"/><stop offset="0.3" stop-color="#abd9e9"/><stop offset="0.4" stop-color="#e0f3f8"/><stop offset="0.5" stop-color="#ffffbf"/><stop offset="0.6" stop-color="#fdae61"/><stop offset="0.7" stop-color="#f46d43"/><stop offset="0.85" stop-color="#a50026"/><stop offset="1" stop-color="#a50026"/></linearGradient></defs>
<rect x="628.4" y="233.1" width="43.3" height="5.7" fill="url(#glfc)"/>
<line x1="629.6" y1="233.1" x2="629.6" y2="234.2" stroke="#fff" stroke-width="0.4"/>
<line x1="629.6" y1="237.7" x2="629.6" y2="238.8" stroke="#fff" stroke-width="0.4"/>
<text x="629.6" y="243.6" font-size="5.2" text-anchor="middle" fill="#333">-1</text>
<line x1="639.825" y1="233.1" x2="639.825" y2="234.2" stroke="#fff" stroke-width="0.4"/>
<line x1="639.825" y1="237.7" x2="639.825" y2="238.8" stroke="#fff" stroke-width="0.4"/>
<text x="639.8" y="243.6" font-size="5.2" text-anchor="middle" fill="#333">-0.5</text>
<line x1="650.0500000000001" y1="233.1" x2="650.0500000000001" y2="234.2" stroke="#fff" stroke-width="0.4"/>
<line x1="650.0500000000001" y1="237.7" x2="650.0500000000001" y2="238.8" stroke="#fff" stroke-width="0.4"/>
<text x="650.1" y="243.6" font-size="5.2" text-anchor="middle" fill="#333">0</text>
<line x1="660.275" y1="233.1" x2="660.275" y2="234.2" stroke="#fff" stroke-width="0.4"/>
<line x1="660.275" y1="237.7" x2="660.275" y2="238.8" stroke="#fff" stroke-width="0.4"/>
<text x="660.3" y="243.6" font-size="5.2" text-anchor="middle" fill="#333">0.5</text>
<line x1="670.5" y1="233.1" x2="670.5" y2="234.2" stroke="#fff" stroke-width="0.4"/>
<line x1="670.5" y1="237.7" x2="670.5" y2="238.8" stroke="#fff" stroke-width="0.4"/>
<text x="670.5" y="243.6" font-size="5.2" text-anchor="middle" fill="#333">1</text>
<text x="651" y="253.8" font-size="6.6" font-weight="bold" text-anchor="middle" fill="#000">MSI</text>
<rect x="628.4" y="256" width="43.3" height="6" fill="url(#gmsi)"/>
<line x1="629.6" y1="256" x2="629.6" y2="257.2" stroke="#fff" stroke-width="0.4"/>
<line x1="629.6" y1="260.8" x2="629.6" y2="262" stroke="#fff" stroke-width="0.4"/>
<text x="629.6" y="268" font-size="6.2" text-anchor="middle" fill="#333">0</text>
<line x1="637.78" y1="256" x2="637.78" y2="257.2" stroke="#fff" stroke-width="0.4"/>
<line x1="637.78" y1="260.8" x2="637.78" y2="262" stroke="#fff" stroke-width="0.4"/>
<text x="637.8" y="268" font-size="6.2" text-anchor="middle" fill="#333">1</text>
<line x1="645.96" y1="256" x2="645.96" y2="257.2" stroke="#fff" stroke-width="0.4"/>
<line x1="645.96" y1="260.8" x2="645.96" y2="262" stroke="#fff" stroke-width="0.4"/>
<text x="646.0" y="268" font-size="6.2" text-anchor="middle" fill="#333">2</text>
<line x1="654.14" y1="256" x2="654.14" y2="257.2" stroke="#fff" stroke-width="0.4"/>
<line x1="654.14" y1="260.8" x2="654.14" y2="262" stroke="#fff" stroke-width="0.4"/>
<text x="654.1" y="268" font-size="6.2" text-anchor="middle" fill="#333">3</text>
<line x1="662.32" y1="256" x2="662.32" y2="257.2" stroke="#fff" stroke-width="0.4"/>
<line x1="662.32" y1="260.8" x2="662.32" y2="262" stroke="#fff" stroke-width="0.4"/>
<text x="662.3" y="268" font-size="6.2" text-anchor="middle" fill="#333">4</text>
<line x1="670.5" y1="256" x2="670.5" y2="257.2" stroke="#fff" stroke-width="0.4"/>
<line x1="670.5" y1="260.8" x2="670.5" y2="262" stroke="#fff" stroke-width="0.4"/>
<text x="670.5" y="268" font-size="6.2" text-anchor="middle" fill="#333">5</text>
<text x="8" y="303.2" font-size="14" font-weight="bold" fill="#000">E</text>
<path d="M59.9,378.9 L64.8,377.9 L69.7,376.9 L74.6,375.8 L79.5,374.7 L84.3,373.5 L89.2,372.2 L94.1,370.7 L99.0,368.9 L103.9,366.7 L108.8,363.9 L113.7,360.4 L118.6,356.4 L123.5,351.9 L128.4,347.1 L133.2,342.2 L138.1,337.1 L143.0,331.9 L147.9,326.7 L152.8,321.5 L157.7,316.2 L157.7,364.8 L152.8,365.8 L147.9,366.8 L143.0,367.9 L138.1,369.0 L133.2,370.2 L128.4,371.5 L123.5,373.0 L118.6,374.8 L113.7,377.0 L108.8,379.9 L103.9,383.3 L99.0,387.3 L94.1,391.8 L89.2,396.6 L84.3,401.5 L79.5,406.6 L74.6,411.8 L69.7,417.0 L64.8,422.2 L59.9,427.5 Z" fill="#d6d6d6"/>
<line x1="59.9" y1="403.2" x2="157.7" y2="340.5" stroke="#000" stroke-width="1.9"/>
<line x1="54.7" y1="309.8" x2="54.7" y2="434" stroke="#111" stroke-width="1.3"/>
<line x1="54.7" y1="434" x2="163.8" y2="434" stroke="#111" stroke-width="1.3"/>
<line x1="52.5" y1="313.35" x2="54.7" y2="313.35" stroke="#111" stroke-width="0.8"/>
<text x="51.5" y="316.35" font-size="8.5" text-anchor="end" fill="#222">0.03</text>
<line x1="52.5" y1="333.1" x2="54.7" y2="333.1" stroke="#111" stroke-width="0.8"/>
<text x="51.5" y="336.1" font-size="8.5" text-anchor="end" fill="#222">0.02</text>
<line x1="52.5" y1="352.85" x2="54.7" y2="352.85" stroke="#111" stroke-width="0.8"/>
<text x="51.5" y="355.85" font-size="8.5" text-anchor="end" fill="#222">0.01</text>
<line x1="52.5" y1="372.6" x2="54.7" y2="372.6" stroke="#111" stroke-width="0.8"/>
<text x="51.5" y="375.6" font-size="8.5" text-anchor="end" fill="#222">0.00</text>
<line x1="52.5" y1="392.35" x2="54.7" y2="392.35" stroke="#111" stroke-width="0.8"/>
<text x="51.5" y="395.35" font-size="8.5" text-anchor="end" fill="#222">−0.01</text>
<line x1="52.5" y1="412.1" x2="54.7" y2="412.1" stroke="#111" stroke-width="0.8"/>
<text x="51.5" y="415.1" font-size="8.5" text-anchor="end" fill="#222">−0.02</text>
<line x1="52.5" y1="431.85" x2="54.7" y2="431.85" stroke="#111" stroke-width="0.8"/>
<text x="51.5" y="434.85" font-size="8.5" text-anchor="end" fill="#222">−0.03</text>
<line x1="78.1" y1="434" x2="78.1" y2="436.2" stroke="#111" stroke-width="0.8"/>
<text x="78.1" y="443.6" font-size="8.5" text-anchor="middle" fill="#222">−0.1</text>
<line x1="108.7" y1="434" x2="108.7" y2="436.2" stroke="#111" stroke-width="0.8"/>
<text x="108.7" y="443.6" font-size="8.5" text-anchor="middle" fill="#222">0.0</text>
<line x1="139.3" y1="434" x2="139.3" y2="436.2" stroke="#111" stroke-width="0.8"/>
<text x="139.3" y="443.6" font-size="8.5" text-anchor="middle" fill="#222">0.1</text>
<text x="109.4" y="456.6" font-size="9.3" text-anchor="middle" fill="#222">pDC (% of CD45<tspan font-size="5" baseline-shift="3.5">+</tspan>, scaled)</text>
<text x="25.8" y="372" font-size="9.3" text-anchor="middle" fill="#222" transform="rotate(-90 25.8 372)">ICOS<tspan font-size="5" baseline-shift="3.5">+</tspan> T<tspan font-size="5" baseline-shift="-2">regs</tspan>(% of T<tspan font-size="5" baseline-shift="-2">regs</tspan>, scaled)</text>
<text x="57.7" y="316.4" font-size="7.9" fill="#111">Pearson R = 0.84</text>
<text x="57.7" y="324.4" font-size="7.9" fill="#111">P = 0.009</text>
<circle cx="59.9" cy="393" r="2.8" fill="#f8766d"/>
<circle cx="86.4" cy="380.5" r="2.8" fill="#f8766d"/>
<circle cx="82.3" cy="400.9" r="2.8" fill="#f8766d"/>
<circle cx="92.3" cy="403.2" r="2.8" fill="#f8766d"/>
<circle cx="125.5" cy="341" r="2.8" fill="#00bfc4"/>
<circle cx="135.8" cy="343.4" r="2.8" fill="#00bfc4"/>
<circle cx="157.7" cy="351.6" r="2.8" fill="#00bfc4"/>
<circle cx="131.4" cy="363.2" r="2.8" fill="#00bfc4"/>
<text x="138.7" y="383" font-size="9.3" fill="#222">WPI</text>
<circle cx="143.6" cy="394.5" r="2.8" fill="#f8766d"/>
<text x="151.5" y="397.3" font-size="8" fill="#222">0</text>
<circle cx="143.6" cy="404.7" r="2.8" fill="#00bfc4"/>
<text x="151.5" y="407.5" font-size="8" fill="#222">4</text>
<text x="169.6" y="305.8" font-size="14" font-weight="bold" fill="#000">F</text>
<text x="189.8" y="308" font-size="9.95" fill="#111">Neighborhood-level DA analysis</text>
<text x="189.8" y="316.3" font-size="9.95" fill="#111">0 - 4 WPI</text>
<line x1="210.5" y1="326" x2="210.5" y2="436" stroke="#ebebeb" stroke-width="0.6"/>
<line x1="255" y1="326" x2="255" y2="436" stroke="#ebebeb" stroke-width="0.6"/>
<line x1="299.3" y1="326" x2="299.3" y2="436" stroke="#ebebeb" stroke-width="0.6"/>
<line x1="343.7" y1="326" x2="343.7" y2="436" stroke="#ebebeb" stroke-width="0.6"/>
<line x1="189" y1="330.8" x2="362" y2="330.8" stroke="#ebebeb" stroke-width="0.6"/>
<line x1="189" y1="362.7" x2="362" y2="362.7" stroke="#ebebeb" stroke-width="0.6"/>
<line x1="189" y1="396" x2="362" y2="396" stroke="#ebebeb" stroke-width="0.6"/>
<line x1="189" y1="431.5" x2="362" y2="431.5" stroke="#ebebeb" stroke-width="0.6"/>
<path d="M197.8,379.7 C197.8,375.5 198.6,369.9 199.5,366.0 C200.4,362.1 201.4,358.9 203.0,356.0 C204.6,353.1 206.8,350.3 209.0,348.5 C211.2,346.7 213.3,345.8 216.0,345.0 C218.7,344.2 221.8,343.9 225.0,343.5 C228.2,343.1 232.3,343.0 235.0,342.5 C237.7,342.0 239.2,341.2 241.0,340.5 C242.8,339.8 244.2,338.7 246.0,338.0 C247.8,337.3 249.8,337.2 252.0,336.5 C254.2,335.8 256.8,335.1 259.0,334.0 C261.2,332.9 262.9,331.2 265.0,330.0 C267.1,328.8 267.6,326.9 271.5,326.6 C275.4,326.3 283.1,327.5 288.2,328.0 C293.3,328.5 295.5,327.6 302.0,329.4 C308.5,331.2 320.7,335.9 327.0,339.0 C333.3,342.1 336.3,344.7 340.0,348.0 C343.7,351.3 346.5,355.0 349.0,359.0 C351.5,363.0 353.8,368.3 355.0,372.0 C356.2,375.7 356.8,377.3 356.5,381.0 C356.2,384.7 355.1,389.2 353.0,394.0 C350.9,398.8 347.1,405.3 343.7,409.9 C340.2,414.5 337.4,418.8 332.3,421.6 C327.2,424.4 320.0,425.4 313.1,426.5 C306.2,427.6 298.4,428.3 291.0,427.9 C283.6,427.5 275.0,424.9 268.8,424.0 C262.6,423.1 260.0,423.1 254.0,422.3 C248.0,421.5 238.3,420.5 232.6,419.4 C226.9,418.3 223.6,416.9 220.0,415.5 C216.4,414.1 214.0,413.2 211.3,411.0 C208.6,408.8 206.0,405.3 204.0,402.0 C202.0,398.7 200.5,394.7 199.5,391.0 C198.5,387.3 197.8,383.9 197.8,379.7 Z" fill="#e3e3e3"/>
<path fill="#ececec" d="M283.5 328.4h1v1h-1zm2.8 1.2h1v1h-1zm1.8 .1h1v1h-1zm12.8 .6h1v1h-1zm-9.3 2.9h1v1h-1zm-31 1.1h1v1h-1zm25.4 .1h1v1h-1zm15.5-.3h1v1h-1zm-1.3 .9h1v1h-1zm-23.9 1.7h1v1h-1zm3.2 .2h1v1h-1zm18.2 .1h1v1h-1zm5.6-.3h1v1h-1zm11.2 .2h1v1h-1zm-27.5 3.6h1v1h-1zm-39.1 1.7h1v1h-1zm-7.7 .7h1v1h-1zm32.8-.3h1v1h-1zm-37.2 1.3h1v1h-1zm29.1-.2h1v1h-1zm3.8 .2h1v1h-1zm62.6 .3h1v1h-1zm-25.3 .7h1v1h-1zm7.2 .3h1v1h-1zm-16.5 1.6h1v1h-1zm-84 1.7h1v1h-1zm43.1-.6h1v1h-1zm-27.5 1.1h1v1h-1zm10.2 0h1v1h-1zm83.1 .1h1v1h-1zm-68.5 .9h1v1h-1zm16.3 .6h1v1h-1zm38.9 1.8h1v1h-1zm-38.5 1.5h1v1h-1zm25.4 0h1v1h-1zm39.8-.3h1v1h-1zm-81.8 1h1v1h-1zm36.4 .6h1v1h-1zm55.9 .1h1v1h-1zm-71.2 .7h1v1h-1zm-58 1.2h1v1h-1zm100.1-.6h1v1h-1zm-99 1.4h1v1h-1zm6.9 0h1v1h-1zm49 .5h1v1h-1zm-1.4 .8h1v1h-1zm-48.9 .4h1v1h-1zm38.6-.2h1v1h-1zm-42.4 1.1h1v1h-1zm41.5 .6h1v1h-1zm42.2-.6h1v1h-1zm-91.6 1.9h1v1h-1zm128.5-1h1v1h-1zm.8 .8h1v1h-1zm-90.2 .7h1v1h-1zm-34.7 1.5h1v1h-1zm15.6-1h1v1h-1zm6.3 .8h1v1h-1zm33.7 .1h1v1h-1zm4.7-.8h1v1h-1zm59 .8h1v1h-1zm-2.1 1h1v1h-1zm9-.3h1v1h-1zm-114.3 1.3h1v1h-1zm39.3-.3h1v1h-1zm19.7-.2h1v1h-1zm-48.3 .7h1v1h-1zm112.2 .3h1v1h-1zm-96.7 .9h1v1h-1zm50.3 1.5h1v1h-1zm-41.5 .5h1v1h-1zm14.1 1h1v1h-1zm4 .1h1v1h-1zm3.5-.1h1v1h-1zm23.2 .4h1v1h-1zm-36 .9h1v1h-1zm28.2-.1h1v1h-1zm-45.5 1.3h1v1h-1zm65.6-.3h1v1h-1zm19.6 .3h1v1h-1zm-71.3 1h1v1h-1zm9.5-.8h1v1h-1zm-67.4 2.6h1v1h-1zm3.5 .3h1v1h-1zm78-.3h1v1h-1zm-72.1 .7h1v1h-1zm85 1.7h1v1h-1zm-84.1 1.9h1v1h-1zm22.6 .2h1v1h-1zm16.7 .3h1v1h-1zm29 .2h1v1h-1zm-41.9 2.2h1v1h-1zm6.3 0h1v1h-1zm-51.1 .6h1v1h-1zm44.9 .4h1v1h-1zm74.3-.4h1v1h-1zm-100.6 .9h1v1h-1zm126.3 .3h1v1h-1zm7.4-.3h1v1h-1zm-91.5 1.4h1v1h-1zm9.8 0h1v1h-1zm20.3 .3h1v1h-1zm-89.9 .3h1v1h-1zm41 0h1v1h-1zm-18.8 1.5h1v1h-1zm2.6-.1h1v1h-1zm10.2 .3h1v1h-1zm19.9-.3h1v1h-1zm96.4-.2h1v1h-1zm-83.2 1h1v1h-1zm-22.9 1h1v1h-1zm105.9-.2h1v1h-1zm-78.5 1.3h1v1h-1zm25.9 0h1v1h-1zm12.7-.5h1v1h-1zm27.3 0h1v1h-1zm-99.1 1.5h1v1h-1zm88-.5h1v1h-1zm-122 1.5h1v1h-1zm48 1.1h1v1h-1zm85.7 0h1v1h-1zm-80.1 .6h1v1h-1zm12.4 .4h1v1h-1zm-28.9 .6h1v1h-1zm23.9-.3h1v1h-1zm29.8 .1h1v1h-1zm46.6 .9h1v1h-1zm-56.9 .8h1v1h-1zm-71.8 .8h1v1h-1zm17.5 .3h1v1h-1zm65.6-.8h1v1h-1zm19 0h1v1h-1zm-85 1.5h1v1h-1zm13.7 0h1v1h-1zm19.3 1.1h1v1h-1zm11.3 .3h1v1h-1zm.6-.1h1v1h-1zm33.7-.8h1v1h-1zm-99 2h1v1h-1zm50.6 .6h1v1h-1zm41.1-.3h1v1h-1zm.7 0h1v1h-1zm2.8 .2h1v1h-1zm-99.3 .6h1v1h-1zm46.8 .3h1v1h-1zm-39.2 1.2h1v1h-1zm47.8-.6h1v1h-1zm4.4 .4h1v1h-1zm39.2 .1h1v1h-1zm33.2 .4h1v1h-1zm-81.4 .6h1v1h-1zm78.5-.2h1v1h-1zm-88.2 1h1v1h-1zm89.7 1h1v1h-1zm-52.7 .7h1v1h-1zm36.7 2.1h1v1h-1zm6.3-.1h1v1h-1zm-1.1 1.6h1v1h-1zm-86.9 .6h1v1h-1zm-25.9 1.6h1v1h-1zm108.6 .5h1v1h-1zm-101.8 1.3h1v1h-1zm5.9 0h1v1h-1zm76-.2h1v1h-1zm2.1 .3h1v1h-1zm9.7 .5h1v1h-1zm-39.8 1.8h1v1h-1zm45 .3h1v1h-1zm-68 2.9h1v1h-1zm29.8-.1h1v1h-1zm-1.6 1.3h1v1h-1zm6.1 1.4h1v1h-1zm14.2-.8h1v1h-1zm16.5 2.2h1v1h-1zm-8.9 .9h1v1h-1z"/>
<path fill="#dadada" d="M269.5 333.2h1v1h-1zm22.8-.2h1v1h-1zm-26.2 1.6h1v1h-1zm7.4 1h1v1h-1zm-30.7 4.1h1v1h-1zm7.3 1.7h1v1h-1zm39.5-.5h1v1h-1zm-52.5 3.7h1v1h-1zm42.2 1.9h1v1h-1zm10.7 .4h1v1h-1zm-23.4 1.3h1v1h-1zm-52.6 1h1v1h-1zm16.3 .1h1v1h-1zm-11.6 .3h1v1h-1zm21 .7h1v1h-1zm25.5-.3h1v1h-1zm16.4 .1h1v1h-1zm43.1-.6h1v1h-1zm-35.9 4.9h1v1h-1zm-37.2 .6h1v1h-1zm73 .5h1v1h-1zm-88.7 1.6h1v1h-1zm-24 2.2h1v1h-1zm126.6 0h1v1h-1zm-124.3 1.2h1v1h-1zm92.3 .5h1v1h-1zm11.1 .1h1v1h-1zm-85.8 .9h1v1h-1zm26.6 .4h1v1h-1zm44.1 0h1v1h-1zm25.7-.7h1v1h-1zm-48 1.7h1v1h-1zm-74.6 .1h1v1h-1zm48.5 .8h1v1h-1zm12-.2h1v1h-1zm83.6-.2h1v1h-1zm-143.2 1.1h1v1h-1zm15.4 0h1v1h-1zm42.6-.4h1v1h-1zm29.4 .7h1v1h-1zm-23.7 .3h1v1h-1zm18.7-.1h1v1h-1zm-85.6 1.3h1v1h-1zm94 .6h1v1h-1zm28.8-.4h1v1h-1zm2.7 0h1v1h-1zm-122.1 .7h1v1h-1zm2.1 .7h1v1h-1zm32.8 0h1v1h-1zm33.8 0h1v1h-1zm26.9 0h1v1h-1zm31.6 0h1v1h-1zm-53.7 .5h1v1h-1zm66.9 .2h1v1h-1zm-141.2 .9h1v1h-1zm37.8-.4h1v1h-1zm80.3 1.3h1v1h-1zm-118.5 1.3h1v1h-1zm98.7-.3h1v1h-1zm14.5 .6h1v1h-1zm-82.2 .6h1v1h-1zm3.9 .3h1v1h-1zm7.1-.5h1v1h-1zm55.8 1h1v1h-1zm-54.9 1h1v1h-1zm63.1 .4h1v1h-1zm-62.5 1.4h1v1h-1zm43.2 .4h1v1h-1zm45.4 .1h1v1h-1zm-78.3 .6h1v1h-1zm22.6 .7h1v1h-1zm13.8 0h1v1h-1zm30.2-.7h1v1h-1zm27.3 .1h1v1h-1zm-40.6 .9h1v1h-1zm8.6 0h1v1h-1zm-114.1 1.3h1v1h-1zm24.2 1.5h1v1h-1zm24.3-.1h1v1h-1zm3.8 .4h1v1h-1zm37.5 .1h1v1h-1zm-96.7 2h1v1h-1zm25 .4h1v1h-1zm11.5-.4h1v1h-1zm12.2-.3h1v1h-1zm-10.5 1.2h1v1h-1zm51.5-.1h1v1h-1zm.1 1.1h1v1h-1zm25.3 .1h1v1h-1zm36.2-.3h1v1h-1zm-66.6 1h1v1h-1zm-38.8 1.8h1v1h-1zm62.7-1h1v1h-1zm15.1 .8h1v1h-1zm.9-.6h1v1h-1zm21.8 2.3h1v1h-1zm-89.5 1.9h1v1h-1zm-12.1 .8h1v1h-1zm26.7 0h1v1h-1zm1.1 .1h1v1h-1zm39.8 1.5h1v1h-1zm-85.3 .8h1v1h-1zm60.2 1.2h1v1h-1zm-32.1 .3h1v1h-1zm93.4 .4h1v1h-1zm-71.5 1.1h1v1h-1zm4.3 1.7h1v1h-1zm19.8 .5h1v1h-1zm29.3-.2h1v1h-1zm-44.5 1.7h1v1h-1zm17.5 .4h1v1h-1zm-42.9 1.6h1v1h-1zm64.2 .5h1v1h-1zm13.9 .1h1v1h-1zm-121.9 1h1v1h-1zm23.8-.1h1v1h-1zm77.1-.3h1v1h-1zm26.6 1.5h1v1h-1zm-95.6 .6h1v1h-1zm-3.5 .6h1v1h-1zm-4.8 1.4h1v1h-1zm34.2 1.1h1v1h-1zm42.4 .5h1v1h-1zm-75.7 1.4h1v1h-1zm76-.3h1v1h-1zm-88.3 1.1h1v1h-1zm63 .4h1v1h-1zm15.9-.4h1v1h-1zm-62.7 .6h1v1h-1zm1.3 .2h1v1h-1zm-17.2 2.7h1v1h-1zm65.8-.5h1v1h-1zm31.7 .9h1v1h-1zm-24.1 .7h1v1h-1zm1.9 .9h1v1h-1zm-37.9 1.8h1v1h-1zm26.7-.1h1v1h-1zm25.7 .7h1v1h-1zm-.9 1h1v1h-1zm-29.7 2.2h1v1h-1z"/>
<path fill="#e8e8e8" d="M285.5 329.6h1v1h-1zm.4 2h1v1h-1zm20.5 .7h1v1h-1zm-34.1 2.6h1v1h-1zm26.3 .7h1v1h-1zm18.6 2.6h1v1h-1zm-24.7 .7h1v1h-1zm8.1-.3h1v1h-1zm-22.5 1.7h1v1h-1zm9.6-.5h1v1h-1zm-29.3 2.2h1v1h-1zm30.3-.2h1v1h-1zm16.7 .8h1v1h-1zm-56.2 1.8h1v1h-1zm1.2 2.1h1v1h-1zm16.3-.6h1v1h-1zm-47.7 1.1h1v1h-1zm13.2 .1h1v1h-1zm57.2-.1h1v1h-1zm45-.3h1v1h-1zm-81.9 1.7h1v1h-1zm61.7-.4h1v1h-1zm-103 1h1v1h-1zm9.9 1h1v1h-1zm31.4 .5h1v1h-1zm71.5 0h1v1h-1zm-104.1 .1h1v1h-1zm56.6 .6h1v1h-1zm-57.8 .4h1v1h-1zm29.5 0h1v1h-1zm32.2 .7h1v1h-1zm2.2-.6h1v1h-1zm-51.4 1.1h1v1h-1zm4.1-.2h1v1h-1zm44 .1h1v1h-1zm-58 1.4h1v1h-1zm42.3 0h1v1h-1zm-1.9 .5h1v1h-1zm28.5 .4h1v1h-1zm-77.5 .5h1v1h-1zm50 1.8h1v1h-1zm66.9 1.5h1v1h-1zm5.8 .6h1v1h-1zm-50.4 1.3h1v1h-1zm-83.8 1.6h1v1h-1zm66.2 .1h1v1h-1zm-21.6 .4h1v1h-1zm42.7 1.1h1v1h-1zm-84.2 1.1h1v1h-1zm40.2-.3h1v1h-1zm20 .4h1v1h-1zm74.1 .1h1v1h-1zm-60.9 1.3h1v1h-1zm57.2-1h1v1h-1zm-80.2 1.8h1v1h-1zm9.8-.4h1v1h-1zm7.4-.3h1v1h-1zm28.9 .1h1v1h-1zm-92.5 1h1v1h-1zm11.7 1.1h1v1h-1zm68.7 .5h1v1h-1zm58.4-.5h1v1h-1zm-68.2 2.6h1v1h-1zm26.2-.6h1v1h-1zm4.3 .2h1v1h-1zm.6 .1h1v1h-1zm-101.8 1.2h1v1h-1zm24.6-.3h1v1h-1zm78.3 2.4h1v1h-1zm4.3-.4h1v1h-1zm10.3 .5h1v1h-1zm3.7-.1h1v1h-1zm-119.8 .6h1v1h-1zm9 .4h1v1h-1zm11.4-.8h1v1h-1zm85.9 1.9h1v1h-1zm-110.8 .2h1v1h-1zm45.5 0h1v1h-1zm19.9 .1h1v1h-1zm27.2-.2h1v1h-1zm28.3 .4h1v1h-1zm-112 .9h1v1h-1zm1.4 0h1v1h-1zm8.1-.2h1v1h-1zm-16.4 2.7h1v1h-1zm77.1-.8h1v1h-1zm49.6 .2h1v1h-1zm4 .2h1v1h-1zm-48.2 1.1h1v1h-1zm-15.8 .7h1v1h-1zm47.9 .5h1v1h-1zm-115.3 .5h1v1h-1zm48 0h1v1h-1zm65.8 .5h1v1h-1zm-71.8 .4h1v1h-1zm31-.1h1v1h-1zm15.7 .4h1v1h-1zm33 .4h1v1h-1zm15.5-.9h1v1h-1zm-136.4 1.1h1v1h-1zm69.9 2.8h1v1h-1zm-6 1h1v1h-1zm9.6-.7h1v1h-1zm68.2 .7h1v1h-1zm-56.4 .3h1v1h-1zm-41.5 1h1v1h-1zm39.1 .4h1v1h-1zm55.6 .4h1v1h-1zm-132.7 .1h1v1h-1zm20.3 .3h1v1h-1zm35.7 .5h1v1h-1zm-36.6 .1h1v1h-1zm-4.9 1.2h1v1h-1zm19.7 .7h1v1h-1zm104.6 0h1v1h-1zm-104.2 .1h1v1h-1zm21.6 .3h1v1h-1zm1.5 .1h1v1h-1zm9.7-.3h1v1h-1zm-51 1.5h1v1h-1zm26.5-.2h1v1h-1zm11.2 0h1v1h-1zm47.9 .3h1v1h-1zm23.2-.4h1v1h-1zm1.4 .4h1v1h-1zm-131.7 1.1h1v1h-1zm103.3 .2h1v1h-1zm2.9-.2h1v1h-1zm-110.9 .6h1v1h-1zm26.4 .1h1v1h-1zm20.3-.1h1v1h-1zm55 .3h1v1h-1zm-99.2 .6h1v1h-1zm50 .1h1v1h-1zm-50.3 2.1h1v1h-1zm40.5 .5h1v1h-1zm82.5 0h1v1h-1zm-53.2 1h1v1h-1zm57.8 .6h1v1h-1zm3.7 .1h1v1h-1zm-78.4 1.1h1v1h-1zm8.7-.4h1v1h-1zm-24.1 1.1h1v1h-1zm34.4-.4h1v1h-1zm69.4 .1h1v1h-1zm-84.5 1.2h1v1h-1zm20.2-.1h1v1h-1zm28.9 0h1v1h-1zm-68.3 1.7h1v1h-1zm41.1-.8h1v1h-1zm13.3-.2h1v1h-1zm25.5 .1h1v1h-1zm12.1 .5h1v1h-1zm-48 1h1v1h-1zm11.9 .1h1v1h-1zm.7 0h1v1h-1zm32.5-.3h1v1h-1zm-31.5 .6h1v1h-1zm36.9 2.3h1v1h-1zm-38 1h1v1h-1zm19.7 0h1v1h-1zm-92.7 1.7h1v1h-1zm47.6 .3h1v1h-1zm46.2-.1h1v1h-1zm-46.5 1.6h1v1h-1zm3.7-.4h1v1h-1zm-22.2 1.4h1v1h-1zm-29.7 1.1h1v1h-1zm104.2-.4h1v1h-1zm7.5 .5h1v1h-1zm-81.1 .3h1v1h-1zm-2.6 1.6h1v1h-1zm79.3-.4h1v1h-1zm-76.3 .6h1v1h-1zm29.4 1h1v1h-1zm22.5 1.3h1v1h-1zm-57.7 .6h1v1h-1zm36.5 1h1v1h-1zm5.6-.6h1v1h-1zm10.3-.4h1v1h-1zm-24.5 1.9h1v1h-1zm21.7-.4h1v1h-1zm20.7 .4h1v1h-1zm-48.2 1.3h1v1h-1zm22.9 2.6h1v1h-1z"/>
<path fill="#e3e3e3" d="M268 324.9h.8v.8h-.8zm3.2-.1h.8v.8h-.8zm1.1 .5h.8v.8h-.8zm3.1 0h.8v.8h-.8zm-7.1 1.1h.8v.8h-.8zm6.1-.3h.8v.8h-.8zm-5.2 1.3h.8v.8h-.8zm14.3-.5h.8v.8h-.8zm5.6 .5h.8v.8h-.8zm-24.3 1h.8v.8h-.8zm3.9-.8h.8v.8h-.8zm.4 .1h.8v.8h-.8zm2.9-.1h.8v.8h-.8zm1.4 .5h.8v.8h-.8zm9.4 .2h.8v.8h-.8zm1.9-.5h.8v.8h-.8zm2.3 .3h.8v.8h-.8zm2.2-.1h.8v.8h-.8zm2.2 .3h.8v.8h-.8zm4.8-.1h.8v.8h-.8zm-28.5 .9h.8v.8h-.8zm5.9 .3h.8v.8h-.8zm4.3-.2h.8v.8h-.8zm10.5-.6h.8v.8h-.8zm.9 .2h.8v.8h-.8zm2.9 .4h.8v.8h-.8zm2-.2h.8v.8h-.8zm4.9 .4h.8v.8h-.8zm.7-.2h.8v.8h-.8zm-38.1 .6h.8v.8h-.8zm3.9 .2h.8v.8h-.8zm2.8-.1h.8v.8h-.8zm1.7 .4h.8v.8h-.8zm11.2 0h.8v.8h-.8zm4.7 .2h.8v.8h-.8zm3.3-.9h.8v.8h-.8zm8.7 0h.8v.8h-.8zm-38.3 1.1h.8v.8h-.8zm1 .5h.8v.8h-.8zm.8-.6h.8v.8h-.8zm2.8 .8h.8v.8h-.8zm42.4-.6h.8v.8h-.8zm-45 .8h.8v.8h-.8zm.2 1.2h.8v.8h-.8zm.1 .3h.8v.8h-.8zm4.5-.5h.8v.8h-.8zm-17.9 1.8h.8v.8h-.8zm2.7-.2h.8v.8h-.8zm4.7-.1h.8v.8h-.8zm3.5-.6h.8v.8h-.8zm.1 .2h.8v.8h-.8zm5.6 .8h.8v.8h-.8zm39.4-.3h.8v.8h-.8zm-56 .9h.8v.8h-.8zm6.5-.2h.8v.8h-.8zm5.5-.2h.8v.8h-.8zm51.6 .6h.8v.8h-.8zm-60.9 1h.8v.8h-.8zm1.1 .1h.8v.8h-.8zm.5-.1h.8v.8h-.8zm64.1-.4h.8v.8h-.8zm2.1 .3h.8v.8h-.8zm2.7-.6h.8v.8h-.8zm-74.9 1.6h.8v.8h-.8zm10 .1h.8v.8h-.8zm-12.9 .7h.8v.8h-.8zm.6-.1h.8v.8h-.8zm1.2 .5h.8v.8h-.8zm5.1 0h.8v.8h-.8zm2.6-.3h.8v.8h-.8zm.4-.6h.8v.8h-.8zm73.1 .8h.8v.8h-.8zm-83 1.1h.8v.8h-.8zm.5-.8h.8v.8h-.8zm4.1 .6h.8v.8h-.8zm1.7 .2h.8v.8h-.8zm2.6 0h.8v.8h-.8zm-19.8 .9h.8v.8h-.8zm1-.6h.8v.8h-.8zm5.2 .5h.8v.8h-.8zm1.2-.5h.8v.8h-.8zm4 .4h.8v.8h-.8zm86.2 .2h.8v.8h-.8zm-106.6 .9h.8v.8h-.8zm5.8-.2h.8v.8h-.8zm6.1-.1h.8v.8h-.8zm2-.1h.8v.8h-.8zm5.3 .2h.8v.8h-.8zm3-.2h.8v.8h-.8zm82.5-.1h.8v.8h-.8zm-95.9 1.7h.8v.8h-.8zm2.2 .1h.8v.8h-.8zm1.2-1h.8v.8h-.8zm.7 .2h.8v.8h-.8zm-21.9 1.3h.8v.8h-.8zm11.1 0h.8v.8h-.8zm1.6-.3h.8v.8h-.8zm4.3 .7h.8v.8h-.8zm2.9-.5h.8v.8h-.8zm-23.7 1.1h.8v.8h-.8zm2.7 0h.8v.8h-.8zm7.8 .1h.8v.8h-.8zm.1-.2h.8v.8h-.8zm.3 0h.8v.8h-.8zm1.3-.2h.8v.8h-.8zm1.2 .2h.8v.8h-.8zm5.3-.1h.8v.8h-.8zm3.9-.3h.8v.8h-.8zm101.2 .1h.8v.8h-.8zm-122.7 1.5h.8v.8h-.8zm.8-.3h.8v.8h-.8zm4.4-.2h.8v.8h-.8zm3.7 .3h.8v.8h-.8zm2 .2h.8v.8h-.8zm111.3 .1h.8v.8h-.8zm-124.2 1.3h.8v.8h-.8zm.2-.5h.8v.8h-.8zm1.2-.2h.8v.8h-.8zm5.6 .1h.8v.8h-.8zm.5 .3h.8v.8h-.8zm1.2-.3h.8v.8h-.8zm1.2 .2h.8v.8h-.8zm1.3 .1h.8v.8h-.8zm116.7-.2h.8v.8h-.8zm-130.3 1.4h.8v.8h-.8zm.9-.7h.8v.8h-.8zm6 0h.8v.8h-.8zm.2-.1h.8v.8h-.8zm2.3 .8h.8v.8h-.8zm-7.9 .1h.8v.8h-.8zm3.3 .2h.8v.8h-.8zm125.3 .7h.8v.8h-.8zm-127.1 .7h.8v.8h-.8zm.9-.4h.8v.8h-.8zm1.6 .4h.8v.8h-.8zm126.3 .3h.8v.8h-.8zm-133.3 .3h.8v.8h-.8zm.5-.1h.8v.8h-.8zm133.2 .8h.8v.8h-.8zm-137.4 .4h.8v.8h-.8zm2.5 .5h.8v.8h-.8zm3 .2h.8v.8h-.8zm133.1 .8h.8v.8h-.8zm2-.1h.8v.8h-.8zm-137.5 1.2h.8v.8h-.8zm.8-.6h.8v.8h-.8zm2.4 .2h.8v.8h-.8zm134.5 .4h.8v.8h-.8zm1-.4h.8v.8h-.8zm2-.2h.8v.8h-.8zm-141.5 1.1h.8v.8h-.8zm-3.6 .8h.8v.8h-.8zm6.6 .3h.8v.8h-.8zm-9 1.4h.8v.8h-.8zm4.1-.9h.8v.8h-.8zm.2 0h.8v.8h-.8zm-.6 1.6h.8v.8h-.8zm0-.5h.8v.8h-.8zm.3 .6h.8v.8h-.8zm141.8 .3h.8v.8h-.8zm-141.5 1.5h.8v.8h-.8zm-3.9 .6h.8v.8h-.8zm148.1 .5h.8v.8h-.8zm-147.6 2.1h.8v.8h-.8zm148.5-.1h.8v.8h-.8zm.7-.2h.8v.8h-.8zm.6 .3h.8v.8h-.8zm-.9 .9h.8v.8h-.8zm.9 1.3h.8v.8h-.8zm4.7 .7h.8v.8h-.8zm-3.2 1.5h.8v.8h-.8zm2.3 2.4h.8v.8h-.8zm1.3-.3h.8v.8h-.8zm-156.8 1h.8v.8h-.8zm1.3 1.6h.8v.8h-.8zm155.2-.1h.8v.8h-.8zm1.3 .2h.8v.8h-.8zm-159.8 1.8h.8v.8h-.8zm3.2 .7h.8v.8h-.8zm156.6-.1h.8v.8h-.8zm-158.7 1.3h.8v.8h-.8zm-.4 .9h.8v.8h-.8zm1.2 .1h.8v.8h-.8zm1.4-.4h.8v.8h-.8zm157.2 .7h.8v.8h-.8zm-1.3 .2h.8v.8h-.8zm.9 .2h.8v.8h-.8zm-.2 1.6h.8v.8h-.8zm.3 .2h.8v.8h-.8zm-158.2 1.1h.8v.8h-.8zm156.3 1.6h.8v.8h-.8zm-157.1 2.1h.8v.8h-.8zm157.7-.6h.8v.8h-.8zm.9 .3h.8v.8h-.8zm-157.7 .4h.8v.8h-.8zm2.5 2.9h.8v.8h-.8zm-1.5 1.4h.8v.8h-.8zm155.2 1.3h.8v.8h-.8zm-154.9 1.4h.8v.8h-.8zm1.9-.3h.8v.8h-.8zm151.1-.6h.8v.8h-.8zm.6 .9h.8v.8h-.8zm-153.9 .4h.8v.8h-.8zm154.7-.2h.8v.8h-.8zm-154.5 1.4h.8v.8h-.8zm151.9-.6h.8v.8h-.8zm.9 .5h.8v.8h-.8zm1.7-.1h.8v.8h-.8zm-153 .9h.8v.8h-.8zm-1.9 1h.8v.8h-.8zm.5 .7h.8v.8h-.8zm2.4-.8h.8v.8h-.8zm152.1 .4h.8v.8h-.8zm-153.9 1.3h.8v.8h-.8zm152.9-.1h.8v.8h-.8zm-152.7 .7h.8v.8h-.8zm1.7-.2h.8v.8h-.8zm150.6 .2h.8v.8h-.8zm-151.4 1h.8v.8h-.8zm.2 .5h.8v.8h-.8zm.8 .8h.8v.8h-.8zm146.3-.4h.8v.8h-.8zm1.7 .7h.8v.8h-.8zm-147.8 1.1h.8v.8h-.8zm2.7 1.9h.8v.8h-.8zm-2.3 1.1h.8v.8h-.8zm144.4-.1h.8v.8h-.8zm-143.6 1.5h.8v.8h-.8zm143.2 1.2h.8v.8h-.8zm-138 1.2h.8v.8h-.8zm137.5-1h.8v.8h-.8zm-2.7 1.1h.8v.8h-.8zm-134.7 1.6h.8v.8h-.8zm131.6 1.1h.8v.8h-.8zm3.4-.4h.8v.8h-.8zm-1.1 .7h.8v.8h-.8zm-131.7 2.6h.8v.8h-.8zm1.1-.3h.8v.8h-.8zm4.6 .3h.8v.8h-.8zm-2.8 .8h.8v.8h-.8zm.3 1.4h.8v.8h-.8zm3.5-.4h.8v.8h-.8zm4.3-.5h.8v.8h-.8zm-5.3 1.1h.8v.8h-.8zm2.9 .3h.8v.8h-.8zm4.7-.3h.8v.8h-.8zm114.2 .1h.8v.8h-.8zm-121.6 .8h.8v.8h-.8zm6.5 1h.8v.8h-.8zm3.5-.1h.8v.8h-.8zm-6.1 .4h.8v.8h-.8zm114.1-.2h.8v.8h-.8zm-114.5 1.3h.8v.8h-.8zm115.2 .6h.8v.8h-.8zm-111 .3h.8v.8h-.8zm10.2 .2h.8v.8h-.8zm11 0h.8v.8h-.8zm91.4 0h.8v.8h-.8zm-108.4 .6h.8v.8h-.8zm2-.1h.8v.8h-.8zm22.1 .7h.8v.8h-.8zm2.2 0h.8v.8h-.8zm80.9-.3h.8v.8h-.8zm-99.2 1.5h.8v.8h-.8zm3.4-.2h.8v.8h-.8zm20.6-.2h.8v.8h-.8zm74.6 .2h.8v.8h-.8zm-80.4 1.3h.8v.8h-.8zm-6.5 .7h.8v.8h-.8zm75.7 .1h.8v.8h-.8zm-64.6 .2h.8v.8h-.8zm3.2 .8h.8v.8h-.8zm1.8 0h.8v.8h-.8zm4.3-.7h.8v.8h-.8zm57.5 .7h.8v.8h-.8zm3.2-.8h.8v.8h-.8zm-20.4 1.4h.8v.8h-.8zm.4 .5h.8v.8h-.8zm10.8-.3h.8v.8h-.8zm-55.2 .7h.8v.8h-.8zm8.3 .5h.8v.8h-.8zm3.3-.4h.8v.8h-.8zm.3-.3h.8v.8h-.8zm7.7 .1h.8v.8h-.8zm22.7 .2h.8v.8h-.8zm7 .6h.8v.8h-.8zm4.7-.4h.8v.8h-.8zm-35.7 1.1h.8v.8h-.8zm6.2 .1h.8v.8h-.8zm14.1 0h.8v.8h-.8zm7.1-.5h.8v.8h-.8zm2.1-.1h.8v.8h-.8zm1.4 .6h.8v.8h-.8zm1.8-.5h.8v.8h-.8zm-32 1.2h.8v.8h-.8zm14.1 .2h.8v.8h-.8zm-7.8 .9h.8v.8h-.8zm10.4-.1h.8v.8h-.8zm3.4-.4h.8v.8h-.8zm-12 1.1h.8v.8h-.8z"/>
<circle cx="213.3" cy="355.8" r="3.5" fill="#f0bcae" stroke="#6a3a32" stroke-width="0.5"/>
<circle cx="220.2" cy="354.4" r="4" fill="#f0bcae" stroke="#6a3a32" stroke-width="0.5"/>
<circle cx="216" cy="360" r="3" fill="#f0bcae" stroke="#6a3a32" stroke-width="0.5"/>
<circle cx="225.8" cy="362.7" r="2.5" fill="#f0bcae" stroke="#6a3a32" stroke-width="0.5"/>
<circle cx="246.6" cy="346.6" r="2" fill="#f0bcae" stroke="#6a3a32" stroke-width="0.5"/>
<circle cx="243.8" cy="360.8" r="2.5" fill="#f0bcae" stroke="#6a3a32" stroke-width="0.5"/>
<circle cx="223.8" cy="369.6" r="2.3" fill="#f0bcae" stroke="#6a3a32" stroke-width="0.5"/>
<circle cx="214.7" cy="384.9" r="3.5" fill="#f0bcae" stroke="#6a3a32" stroke-width="0.5"/>
<circle cx="221" cy="382.7" r="4" fill="#f0bcae" stroke="#6a3a32" stroke-width="0.5"/>
<circle cx="223" cy="387.7" r="2.5" fill="#f0bcae" stroke="#6a3a32" stroke-width="0.5"/>
<circle cx="216" cy="392.7" r="3" fill="#f0bcae" stroke="#6a3a32" stroke-width="0.5"/>
<circle cx="230.5" cy="385.5" r="2.5" fill="#f0bcae" stroke="#6a3a32" stroke-width="0.5"/>
<circle cx="233.5" cy="384.3" r="2" fill="#f0bcae" stroke="#6a3a32" stroke-width="0.5"/>
<circle cx="240.5" cy="378.8" r="2.3" fill="#f0bcae" stroke="#6a3a32" stroke-width="0.5"/>
<circle cx="233.5" cy="394.6" r="2.3" fill="#f0bcae" stroke="#6a3a32" stroke-width="0.5"/>
<circle cx="241.6" cy="398.2" r="2.5" fill="#f0bcae" stroke="#6a3a32" stroke-width="0.5"/>
<circle cx="252.7" cy="398.2" r="2.8" fill="#f0bcae" stroke="#6a3a32" stroke-width="0.5"/>
<circle cx="255.5" cy="399.6" r="2.5" fill="#f0bcae" stroke="#6a3a32" stroke-width="0.5"/>
<circle cx="267.4" cy="395.4" r="3.3" fill="#f0bcae" stroke="#6a3a32" stroke-width="0.5"/>
<circle cx="248.8" cy="413.2" r="3.5" fill="#f0bcae" stroke="#6a3a32" stroke-width="0.5"/>
<circle cx="252.1" cy="419.6" r="1.6" fill="#f0bcae" stroke="#6a3a32" stroke-width="0.5"/>
<circle cx="275.7" cy="423.7" r="2.5" fill="#f0bcae" stroke="#6a3a32" stroke-width="0.5"/>
<circle cx="274" cy="424.5" r="2" fill="#f0bcae" stroke="#6a3a32" stroke-width="0.5"/>
<circle cx="288.2" cy="420.4" r="2.3" fill="#f0bcae" stroke="#6a3a32" stroke-width="0.5"/>
<circle cx="293.2" cy="419.6" r="2.3" fill="#f0bcae" stroke="#6a3a32" stroke-width="0.5"/>
<circle cx="295" cy="424.6" r="2.5" fill="#f0bcae" stroke="#6a3a32" stroke-width="0.5"/>
<circle cx="304" cy="421" r="3" fill="#f0bcae" stroke="#6a3a32" stroke-width="0.5"/>
<circle cx="307.6" cy="419.5" r="3.5" fill="#f0bcae" stroke="#6a3a32" stroke-width="0.5"/>
<circle cx="310.4" cy="423.7" r="3.2" fill="#f0bcae" stroke="#6a3a32" stroke-width="0.5"/>
<circle cx="313.1" cy="419.6" r="3" fill="#f0bcae" stroke="#6a3a32" stroke-width="0.5"/>
<circle cx="306" cy="425" r="2.5" fill="#f0bcae" stroke="#6a3a32" stroke-width="0.5"/>
<circle cx="316" cy="421" r="2.5" fill="#f0bcae" stroke="#6a3a32" stroke-width="0.5"/>
<circle cx="316" cy="405.7" r="2" fill="#f0bcae" stroke="#6a3a32" stroke-width="0.5"/>
<circle cx="312.6" cy="408.8" r="2" fill="#f0bcae" stroke="#6a3a32" stroke-width="0.5"/>
<circle cx="277.6" cy="337.7" r="3" fill="#dde9f6" stroke="#3a4560" stroke-width="0.5"/>
<circle cx="284.9" cy="341" r="3" fill="#dde9f6" stroke="#3a4560" stroke-width="0.5"/>
<circle cx="309" cy="341.9" r="2" fill="#dde9f6" stroke="#3a4560" stroke-width="0.5"/>
<circle cx="315" cy="343.8" r="2" fill="#dde9f6" stroke="#3a4560" stroke-width="0.5"/>
<circle cx="327.6" cy="342.7" r="2.5" fill="#dde9f6" stroke="#3a4560" stroke-width="0.5"/>
<circle cx="318.7" cy="349.7" r="2" fill="#dde9f6" stroke="#3a4560" stroke-width="0.5"/>
<circle cx="308.4" cy="353.8" r="3" fill="#dde9f6" stroke="#3a4560" stroke-width="0.5"/>
<circle cx="317.9" cy="358.5" r="3" fill="#dde9f6" stroke="#3a4560" stroke-width="0.5"/>
<circle cx="313.1" cy="360" r="2.3" fill="#dde9f6" stroke="#3a4560" stroke-width="0.5"/>
<circle cx="299.3" cy="361.3" r="2.5" fill="#dde9f6" stroke="#3a4560" stroke-width="0.5"/>
<circle cx="304" cy="362.7" r="2.3" fill="#dde9f6" stroke="#3a4560" stroke-width="0.5"/>
<circle cx="310.4" cy="364" r="3" fill="#dde9f6" stroke="#3a4560" stroke-width="0.5"/>
<circle cx="322" cy="361.3" r="2.3" fill="#dde9f6" stroke="#3a4560" stroke-width="0.5"/>
<circle cx="327" cy="361.3" r="2" fill="#dde9f6" stroke="#3a4560" stroke-width="0.5"/>
<circle cx="324.2" cy="364" r="2" fill="#dde9f6" stroke="#3a4560" stroke-width="0.5"/>
<circle cx="342.3" cy="367.7" r="3" fill="#dde9f6" stroke="#3a4560" stroke-width="0.5"/>
<circle cx="300.7" cy="366.9" r="2.3" fill="#dde9f6" stroke="#3a4560" stroke-width="0.5"/>
<circle cx="307" cy="368.3" r="2.5" fill="#dde9f6" stroke="#3a4560" stroke-width="0.5"/>
<circle cx="297.9" cy="370.5" r="3" fill="#dde9f6" stroke="#3a4560" stroke-width="0.5"/>
<circle cx="302" cy="373.2" r="2.5" fill="#dde9f6" stroke="#3a4560" stroke-width="0.5"/>
<circle cx="296" cy="375.2" r="2.5" fill="#dde9f6" stroke="#3a4560" stroke-width="0.5"/>
<circle cx="314.5" cy="376.6" r="3.5" fill="#dde9f6" stroke="#3a4560" stroke-width="0.5"/>
<circle cx="320" cy="377.4" r="2.5" fill="#dde9f6" stroke="#3a4560" stroke-width="0.5"/>
<circle cx="317" cy="379" r="2.2" fill="#dde9f6" stroke="#3a4560" stroke-width="0.5"/>
<circle cx="275" cy="379.3" r="2.5" fill="#dde9f6" stroke="#3a4560" stroke-width="0.5"/>
<circle cx="280.4" cy="383.5" r="2.3" fill="#dde9f6" stroke="#3a4560" stroke-width="0.5"/>
<circle cx="293.7" cy="381.6" r="2.3" fill="#dde9f6" stroke="#3a4560" stroke-width="0.5"/>
<circle cx="299.3" cy="385.5" r="3" fill="#dde9f6" stroke="#3a4560" stroke-width="0.5"/>
<circle cx="316" cy="381.6" r="2.5" fill="#dde9f6" stroke="#3a4560" stroke-width="0.5"/>
<circle cx="296" cy="388.2" r="3.2" fill="#dde9f6" stroke="#3a4560" stroke-width="0.5"/>
<circle cx="290.4" cy="389" r="2.2" fill="#dde9f6" stroke="#3a4560" stroke-width="0.5"/>
<circle cx="298.7" cy="389.9" r="2.5" fill="#dde9f6" stroke="#3a4560" stroke-width="0.5"/>
<circle cx="315.4" cy="389" r="3.5" fill="#dde9f6" stroke="#3a4560" stroke-width="0.5"/>
<circle cx="311.8" cy="393.8" r="3" fill="#dde9f6" stroke="#3a4560" stroke-width="0.5"/>
<circle cx="329.2" cy="393.8" r="2" fill="#dde9f6" stroke="#3a4560" stroke-width="0.5"/>
<circle cx="287.6" cy="396.8" r="3.5" fill="#dde9f6" stroke="#3a4560" stroke-width="0.5"/>
<circle cx="299.3" cy="398.2" r="2" fill="#dde9f6" stroke="#3a4560" stroke-width="0.5"/>
<circle cx="303.4" cy="401" r="2.3" fill="#dde9f6" stroke="#3a4560" stroke-width="0.5"/>
<circle cx="296.5" cy="403" r="2.5" fill="#dde9f6" stroke="#3a4560" stroke-width="0.5"/>
<circle cx="301.2" cy="404.3" r="2.3" fill="#dde9f6" stroke="#3a4560" stroke-width="0.5"/>
<circle cx="314.5" cy="400.7" r="2" fill="#dde9f6" stroke="#3a4560" stroke-width="0.5"/>
<circle cx="309.8" cy="407" r="3" fill="#dde9f6" stroke="#3a4560" stroke-width="0.5"/>
<circle cx="283.5" cy="412.6" r="2" fill="#dde9f6" stroke="#3a4560" stroke-width="0.5"/>
<circle cx="309.8" cy="409.9" r="1.5" fill="#dde9f6" stroke="#3a4560" stroke-width="0.5"/>
<circle cx="300" cy="395" r="2.3" fill="#dde9f6" stroke="#3a4560" stroke-width="0.5"/>
<circle cx="318.7" cy="422.3" r="2.6" fill="#c4553f" stroke="#5a2018" stroke-width="0.5"/>
<circle cx="321.5" cy="422.3" r="3" fill="#c4553f" stroke="#5a2018" stroke-width="0.5"/>
<circle cx="340.9" cy="408.5" r="2" fill="#c4553f" stroke="#5a2018" stroke-width="0.5"/>
<ellipse cx="316.1" cy="331.7" rx="11.5" ry="7.9" fill="#f4c3b7" stroke="#6a3a32" stroke-width="0.5"/>
<circle cx="311.8" cy="333.6" r="2.3" fill="#ef9c88" stroke="#6a3a32" stroke-width="0.4"/>
<circle cx="318.4" cy="333.2" r="2.5" fill="#cc4a36" stroke="#5a2018" stroke-width="0.4"/>
<circle cx="316.4" cy="334.4" r="1.8" fill="#dd7560" stroke="#5a2018" stroke-width="0.4"/>
<path d="M327.6,331.7 C338,325 355,322.6 377,323.1" fill="none" stroke="#111" stroke-width="1.2"/>
<polygon points="382.60,323.10 377.10,325.75 377.10,320.45" fill="#111"/>
<text x="337.6" y="326.6" font-size="8.4" fill="#222" transform="rotate(-9 337.6 326.6)">zoom-in</text>
<line x1="189.3" y1="433.9" x2="189.3" y2="406" stroke="#000" stroke-width="2.0"/>
<polygon points="189.30,399.20 194.05,407.70 184.55,407.70" fill="#000"/>
<line x1="188.3" y1="433.4" x2="236" y2="433.4" stroke="#000" stroke-width="2.0"/>
<polygon points="243.00,433.40 234.80,438.00 234.80,428.80" fill="#000"/>
<text x="221" y="444.6" font-size="9.4" text-anchor="middle" fill="#111">FltSNE1</text>
<text x="182.6" y="407.5" font-size="10.0" text-anchor="middle" fill="#111" transform="rotate(-90 182.6 407.5)">FltSNE2</text>
<text x="411.4" y="309.6" font-size="7.8" font-weight="bold" text-anchor="middle" fill="#000">Close-up View</text>
<line x1="384" y1="311" x2="384" y2="364" stroke="#efefef" stroke-width="0.4"/>
<line x1="397" y1="311" x2="397" y2="364" stroke="#efefef" stroke-width="0.4"/>
<line x1="410" y1="311" x2="410" y2="364" stroke="#efefef" stroke-width="0.4"/>
<line x1="423" y1="311" x2="423" y2="364" stroke="#efefef" stroke-width="0.4"/>
<line x1="376" y1="318" x2="437" y2="318" stroke="#efefef" stroke-width="0.4"/>
<line x1="376" y1="333" x2="437" y2="333" stroke="#efefef" stroke-width="0.4"/>
<line x1="376" y1="348" x2="437" y2="348" stroke="#efefef" stroke-width="0.4"/>
<line x1="376" y1="360" x2="437" y2="360" stroke="#efefef" stroke-width="0.4"/>
<path fill="#d2d2d2" d="M418.1 313.4h.9v.9h-.9zm2.3-.4h.9v.9h-.9zm8 0h.9v.9h-.9zm-22 1.1h.9v.9h-.9zm3.1-.4h.9v.9h-.9zm5.7 .8h.9v.9h-.9zm2.7-.7h.9v.9h-.9zm.1-.3h.9v.9h-.9zm.2 .1h.9v.9h-.9zm1 .9h.9v.9h-.9zm.4-.8h.9v.9h-.9zm.5 .6h.9v.9h-.9zm1.6 .2h.9v.9h-.9zm.3-1h.9v.9h-.9zm.3 0h.9v.9h-.9zm.3 .5h.9v.9h-.9zm.4 .1h.9v.9h-.9zm1.1 .1h.9v.9h-.9zm1.1-.3h.9v.9h-.9zm.2 .6h.9v.9h-.9zm.2-1h.9v.9h-.9zm1.2 .2h.9v.9h-.9zm.3-.2h.9v.9h-.9zm.4 .4h.9v.9h-.9zm3.1 .4h.9v.9h-.9zm.5-.7h.9v.9h-.9zm4.4 .2h.9v.9h-.9zm-52.5 .9h.9v.9h-.9zm7.7 .6h.9v.9h-.9zm11.5 .1h.9v.9h-.9zm9.4 0h.9v.9h-.9zm2.1-.5h.9v.9h-.9zm4.8 .3h.9v.9h-.9zm1.6-.5h.9v.9h-.9zm.4 .1h.9v.9h-.9zm.3 0h.9v.9h-.9zm.1 .5h.9v.9h-.9zm.6-.3h.9v.9h-.9zm1.2 .2h.9v.9h-.9zm.6-.5h.9v.9h-.9zm1.5 .7h.9v.9h-.9zm.1-.3h.9v.9h-.9zm0 .3h.9v.9h-.9zm0-.6h.9v.9h-.9zm1.4 .1h.9v.9h-.9zm.9 .1h.9v.9h-.9zm.3 .3h.9v.9h-.9zm0-.5h.9v.9h-.9zm1.9 .1h.9v.9h-.9zm1.5 .1h.9v.9h-.9zm.9-.1h.9v.9h-.9zm1.5 .1h.9v.9h-.9zm-32.9 .8h.9v.9h-.9zm19 .6h.9v.9h-.9zm1.2 .1h.9v.9h-.9zm2.5-.5h.9v.9h-.9zm.9 .4h.9v.9h-.9zm.3 .1h.9v.9h-.9zm.2 0h.9v.9h-.9zm.2-.7h.9v.9h-.9zm.2 .3h.9v.9h-.9zm.1-.1h.9v.9h-.9zm.3-.2h.9v.9h-.9zm.2 .1h.9v.9h-.9zm0 .5h.9v.9h-.9zm.2-.7h.9v.9h-.9zm.2 .3h.9v.9h-.9zm.8-.4h.9v.9h-.9zm.4 .5h.9v.9h-.9zm.1 .3h.9v.9h-.9zm.1-.5h.9v.9h-.9zm.2 .5h.9v.9h-.9zm.8-.6h.9v.9h-.9zm.2 .2h.9v.9h-.9zm.1-.2h.9v.9h-.9zm.5 .1h.9v.9h-.9zm.8 .6h.9v.9h-.9zm.6-.6h.9v.9h-.9zm.9 0h.9v.9h-.9zm.2 .3h.9v.9h-.9zm-33.9 .9h.9v.9h-.9zm2.9-.1h.9v.9h-.9zm14.7-.1h.9v.9h-.9zm1.9 .1h.9v.9h-.9zm.6 .3h.9v.9h-.9zm1.3-.5h.9v.9h-.9zm.2-.1h.9v.9h-.9zm.9-.1h.9v.9h-.9zm1 .4h.9v.9h-.9zm1.8-.1h.9v.9h-.9zm.1-.2h.9v.9h-.9zm.4 .2h.9v.9h-.9zm0 .4h.9v.9h-.9zm.1-.3h.9v.9h-.9zm.1 .2h.9v.9h-.9zm.5-.2h.9v.9h-.9zm0 0h.9v.9h-.9zm.4-.3h.9v.9h-.9zm.3 .2h.9v.9h-.9zm.1-.3h.9v.9h-.9zm1.1 .7h.9v.9h-.9zm1.1-.3h.9v.9h-.9zm1.3 .3h.9v.9h-.9zm.5-.7h.9v.9h-.9zm0 .4h.9v.9h-.9zm.4 .4h.9v.9h-.9zm.4-.7h.9v.9h-.9zm.2 .4h.9v.9h-.9zm.5-.3h.9v.9h-.9zm1.3 .1h.9v.9h-.9zm4.3 .2h.9v.9h-.9zm-48.5 .5h.9v.9h-.9zm2.6 .8h.9v.9h-.9zm.4-.2h.9v.9h-.9zm3.4-.2h.9v.9h-.9zm0 .5h.9v.9h-.9zm1.6-.5h.9v.9h-.9zm4.1-.3h.9v.9h-.9zm2.6 .4h.9v.9h-.9zm0 0h.9v.9h-.9zm13.4 0h.9v.9h-.9zm1.1 .1h.9v.9h-.9zm.1-.5h.9v.9h-.9zm.1 0h.9v.9h-.9zm1.4 0h.9v.9h-.9zm.3 .4h.9v.9h-.9zm.3 0h.9v.9h-.9zm1.3-.4h.9v.9h-.9zm.6 .3h.9v.9h-.9zm.2 .4h.9v.9h-.9zm.3 .1h.9v.9h-.9zm0-.1h.9v.9h-.9zm.5-.4h.9v.9h-.9zm.7-.5h.9v.9h-.9zm.7 1h.9v.9h-.9zm.1-.9h.9v.9h-.9zm.2 .2h.9v.9h-.9zm.3-.3h.9v.9h-.9zm.3 .9h.9v.9h-.9zm.3-.3h.9v.9h-.9zm0 .1h.9v.9h-.9zm0 .1h.9v.9h-.9zm.2-.1h.9v.9h-.9zm.1-.1h.9v.9h-.9zm.3 .2h.9v.9h-.9zm.1-.6h.9v.9h-.9zm0 .8h.9v.9h-.9zm.2-.8h.9v.9h-.9zm0 .3h.9v.9h-.9zm0 .3h.9v.9h-.9zm.2-.4h.9v.9h-.9zm.6 0h.9v.9h-.9zm0-.3h.9v.9h-.9zm.2 .8h.9v.9h-.9zm0 0h.9v.9h-.9zm.2-.7h.9v.9h-.9zm.1 .3h.9v.9h-.9zm.6-.1h.9v.9h-.9zm0-.1h.9v.9h-.9zm.1-.2h.9v.9h-.9zm1.6 .4h.9v.9h-.9zm.3-.1h.9v.9h-.9zm.2 .2h.9v.9h-.9zm.1 0h.9v.9h-.9zm.1-.3h.9v.9h-.9zm.3 .4h.9v.9h-.9zm.4 .1h.9v.9h-.9zm1.7-.8h.9v.9h-.9zm-43.8 1.5h.9v.9h-.9zm4.4 .1h.9v.9h-.9zm.2 0h.9v.9h-.9zm7.3 .1h.9v.9h-.9zm2.4 .2h.9v.9h-.9zm.4-.1h.9v.9h-.9zm11.4 0h.9v.9h-.9zm.3-.3h.9v.9h-.9zm1.3 .2h.9v.9h-.9zm1.2-.4h.9v.9h-.9zm.4-.1h.9v.9h-.9zm1.5 .5h.9v.9h-.9zm1.4-.1h.9v.9h-.9zm.2-.3h.9v.9h-.9zm.2-.1h.9v.9h-.9zm.3-.1h.9v.9h-.9zm.6 0h.9v.9h-.9zm.1 .3h.9v.9h-.9zm.2 .1h.9v.9h-.9zm.5-.4h.9v.9h-.9zm.2 .7h.9v.9h-.9zm.5-.1h.9v.9h-.9zm0 .2h.9v.9h-.9zm0-.6h.9v.9h-.9zm1.1 .6h.9v.9h-.9zm.4-.7h.9v.9h-.9zm.3-.1h.9v.9h-.9zm.3 .8h.9v.9h-.9zm0-.4h.9v.9h-.9zm.1 0h.9v.9h-.9zm0 .3h.9v.9h-.9zm.3-.5h.9v.9h-.9zm.1 .2h.9v.9h-.9zm.2 .1h.9v.9h-.9zm.1-.3h.9v.9h-.9zm.1 .6h.9v.9h-.9zm.4-.2h.9v.9h-.9zm.6-.5h.9v.9h-.9zm0 .6h.9v.9h-.9zm1.8-.2h.9v.9h-.9zm.1-.5h.9v.9h-.9zm3.2 0h.9v.9h-.9zm-40.9 1.7h.9v.9h-.9zm.9 .1h.9v.9h-.9zm.3-.7h.9v.9h-.9zm.8 .5h.9v.9h-.9zm.6-.7h.9v.9h-.9zm1.6 1h.9v.9h-.9zm1.2-.3h.9v.9h-.9zm4 .1h.9v.9h-.9zm.3 .2h.9v.9h-.9zm0-.4h.9v.9h-.9zm.1 0h.9v.9h-.9zm.1-.2h.9v.9h-.9zm.1 .6h.9v.9h-.9zm.7-.2h.9v.9h-.9zm0-.5h.9v.9h-.9zm.6 .1h.9v.9h-.9zm10.4 0h.9v.9h-.9zm2.6 .2h.9v.9h-.9zm.2 .1h.9v.9h-.9zm.1 .2h.9v.9h-.9zm.4-.6h.9v.9h-.9zm.1 .4h.9v.9h-.9zm.1-.1h.9v.9h-.9zm0-.2h.9v.9h-.9zm.3 .2h.9v.9h-.9zm1-.2h.9v.9h-.9zm.6-.3h.9v.9h-.9zm.4 .9h.9v.9h-.9zm.5-.3h.9v.9h-.9zm.3-.3h.9v.9h-.9zm.2-.4h.9v.9h-.9zm.2 .9h.9v.9h-.9zm.1-.9h.9v.9h-.9zm.2 .2h.9v.9h-.9zm.1 .1h.9v.9h-.9zm.4 0h.9v.9h-.9zm.2 .6h.9v.9h-.9zm0-.1h.9v.9h-.9zm.9-.7h.9v.9h-.9zm.1 .5h.9v.9h-.9zm.2-.1h.9v.9h-.9zm.8-.3h.9v.9h-.9zm.4-.2h.9v.9h-.9zm.1 .9h.9v.9h-.9zm.3-.6h.9v.9h-.9zm.5-.1h.9v.9h-.9zm.6-.1h.9v.9h-.9zm.1 0h.9v.9h-.9zm.2 .8h.9v.9h-.9zm.8-.9h.9v.9h-.9zm.3 .3h.9v.9h-.9zm.3 .7h.9v.9h-.9zm.8-.8h.9v.9h-.9zm.8-.2h.9v.9h-.9zm0 .4h.9v.9h-.9zm0 .2h.9v.9h-.9zm.5-.4h.9v.9h-.9zm.5 .3h.9v.9h-.9zm.3 0h.9v.9h-.9zm.4 .1h.9v.9h-.9zm.3 .3h.9v.9h-.9zm.4-.3h.9v.9h-.9zm.3-.5h.9v.9h-.9zm.6 .8h.9v.9h-.9zm.5-.3h.9v.9h-.9zm-43.7 1h.9v.9h-.9zm5.8 .1h.9v.9h-.9zm1.5-.1h.9v.9h-.9zm1.1-.3h.9v.9h-.9zm.5 0h.9v.9h-.9zm4.1 .4h.9v.9h-.9zm.4-.2h.9v.9h-.9zm1.1 0h.9v.9h-.9zm5.9-.3h.9v.9h-.9zm3.5 .5h.9v.9h-.9zm1.5 0h.9v.9h-.9zm.2-.1h.9v.9h-.9zm3.4-.2h.9v.9h-.9zm1.3 .2h.9v.9h-.9zm1.5 .3h.9v.9h-.9zm1-.7h.9v.9h-.9zm.2 0h.9v.9h-.9zm1.2 .2h.9v.9h-.9zm.1-.2h.9v.9h-.9zm.7 .3h.9v.9h-.9zm.2 .4h.9v.9h-.9zm.1-.4h.9v.9h-.9zm.8-.1h.9v.9h-.9zm.1-.2h.9v.9h-.9zm.2 .1h.9v.9h-.9zm.7-.2h.9v.9h-.9zm.2 .2h.9v.9h-.9zm1.2-.2h.9v.9h-.9zm.1 .2h.9v.9h-.9zm.2 .5h.9v.9h-.9zm1.7-.4h.9v.9h-.9zm.5 0h.9v.9h-.9zm.4 .5h.9v.9h-.9zm.2-.5h.9v.9h-.9zm1.6-.3h.9v.9h-.9zm.6 .6h.9v.9h-.9zm3-.6h.9v.9h-.9zm-48.5 1.1h.9v.9h-.9zm1.7-.2h.9v.9h-.9zm.7 .9h.9v.9h-.9zm.6 .1h.9v.9h-.9zm0-.3h.9v.9h-.9zm.8-.1h.9v.9h-.9zm.1 .4h.9v.9h-.9zm.9 0h.9v.9h-.9zm3.9-.4h.9v.9h-.9zm.2 .4h.9v.9h-.9zm.5-.9h.9v.9h-.9zm.4 .3h.9v.9h-.9zm3.2-.1h.9v.9h-.9zm.5-.2h.9v.9h-.9zm.9 .9h.9v.9h-.9zm.2-.3h.9v.9h-.9zm.8-.2h.9v.9h-.9zm.4 .2h.9v.9h-.9zm.9-.5h.9v.9h-.9zm.3 .1h.9v.9h-.9zm7.1 .3h.9v.9h-.9zm.8-.4h.9v.9h-.9zm1.4-.2h.9v.9h-.9zm2.9 .8h.9v.9h-.9zm.1-.6h.9v.9h-.9zm.6 .5h.9v.9h-.9zm.3-.5h.9v.9h-.9zm1.5 .8h.9v.9h-.9zm.4-.8h.9v.9h-.9zm.6 0h.9v.9h-.9zm.3 .5h.9v.9h-.9zm.1-.1h.9v.9h-.9zm.2 .2h.9v.9h-.9zm.3-.3h.9v.9h-.9zm.1 0h.9v.9h-.9zm.1-.1h.9v.9h-.9zm.5-.3h.9v.9h-.9zm0 .1h.9v.9h-.9zm.9-.1h.9v.9h-.9zm.2 .1h.9v.9h-.9zm1.4 0h.9v.9h-.9zm.2-.1h.9v.9h-.9zm.8 .7h.9v.9h-.9zm1.2-.8h.9v.9h-.9zm.2 1h.9v.9h-.9zm.1-.5h.9v.9h-.9zm.6 .4h.9v.9h-.9zm.4-.1h.9v.9h-.9zm.2-.6h.9v.9h-.9zm.1 .5h.9v.9h-.9zm.1-.5h.9v.9h-.9zm.8-.2h.9v.9h-.9zm.2 .8h.9v.9h-.9zm.3-.5h.9v.9h-.9zm0-.1h.9v.9h-.9zm.7 .6h.9v.9h-.9zm1.3-.1h.9v.9h-.9zm1.9-.4h.9v.9h-.9zm.2 .6h.9v.9h-.9zm-41 .4h.9v.9h-.9zm.2 .2h.9v.9h-.9zm.2-.1h.9v.9h-.9zm.7 .4h.9v.9h-.9zm.2-.1h.9v.9h-.9zm.3-.5h.9v.9h-.9zm.1 0h.9v.9h-.9zm1.2 .7h.9v.9h-.9zm1-.8h.9v.9h-.9zm1 .2h.9v.9h-.9zm.3 .3h.9v.9h-.9zm.1 .3h.9v.9h-.9zm0 0h.9v.9h-.9zm.2 0h.9v.9h-.9zm2.8-.3h.9v.9h-.9zm.4-.1h.9v.9h-.9zm.6-.2h.9v.9h-.9zm.1 .5h.9v.9h-.9zm.8 0h.9v.9h-.9zm0-.3h.9v.9h-.9zm5.6 .4h.9v.9h-.9zm5.3-.3h.9v.9h-.9zm.3-.4h.9v.9h-.9zm1.6 .3h.9v.9h-.9zm.4-.1h.9v.9h-.9zm.8-.2h.9v.9h-.9zm.5 .7h.9v.9h-.9zm.8-.8h.9v.9h-.9zm1.2 .5h.9v.9h-.9zm.3-.5h.9v.9h-.9zm2.6 .7h.9v.9h-.9zm0-.7h.9v.9h-.9zm1.1 .7h.9v.9h-.9zm.3-.5h.9v.9h-.9zm.8-.2h.9v.9h-.9zm1.4 .6h.9v.9h-.9zm.9-.4h.9v.9h-.9zm.6-.2h.9v.9h-.9zm.9 .2h.9v.9h-.9zm.9-.2h.9v.9h-.9zm.1 .4h.9v.9h-.9zm1.6-.1h.9v.9h-.9zm1.5 0h.9v.9h-.9zm.3-.3h.9v.9h-.9zm.8 .2h.9v.9h-.9zm-52.4 .7h.9v.9h-.9zm3.4 .6h.9v.9h-.9zm2.7 .4h.9v.9h-.9zm.7-.7h.9v.9h-.9zm1.7-.3h.9v.9h-.9zm1.5 .3h.9v.9h-.9zm.2 .5h.9v.9h-.9zm.4-.1h.9v.9h-.9zm.4 .1h.9v.9h-.9zm.2-.6h.9v.9h-.9zm1.2 .6h.9v.9h-.9zm.3-.7h.9v.9h-.9zm1.8 0h.9v.9h-.9zm1 0h.9v.9h-.9zm0 .9h.9v.9h-.9zm.6-.6h.9v.9h-.9zm.6 .6h.9v.9h-.9zm1-.3h.9v.9h-.9zm.6-.7h.9v.9h-.9zm.9 .5h.9v.9h-.9zm0-.4h.9v.9h-.9zm.4 .3h.9v.9h-.9zm.3-.1h.9v.9h-.9zm.4 .3h.9v.9h-.9zm.5 .4h.9v.9h-.9zm.1-.6h.9v.9h-.9zm.4 .2h.9v.9h-.9zm.1 .1h.9v.9h-.9zm1.7-.5h.9v.9h-.9zm1.4 .7h.9v.9h-.9zm3.6 .1h.9v.9h-.9zm.4-.5h.9v.9h-.9zm1.4-.2h.9v.9h-.9zm1.7 .4h.9v.9h-.9zm.2 .2h.9v.9h-.9zm.7-.9h.9v.9h-.9zm0 .7h.9v.9h-.9zm3.1-.5h.9v.9h-.9zm1.5 .3h.9v.9h-.9zm3 .2h.9v.9h-.9zm.4-.4h.9v.9h-.9zm.9 0h.9v.9h-.9zm.3 .1h.9v.9h-.9zm.9-.4h.9v.9h-.9zm.2 .7h.9v.9h-.9zm.2-.6h.9v.9h-.9zm.1 .1h.9v.9h-.9zm1.4 .3h.9v.9h-.9zm.2-.1h.9v.9h-.9zm0 .1h.9v.9h-.9zm.3 .1h.9v.9h-.9zm.9 .1h.9v.9h-.9zm.1-.5h.9v.9h-.9zm.4 .6h.9v.9h-.9zm.8 .1h.9v.9h-.9zm.5 0h.9v.9h-.9zm.3-.1h.9v.9h-.9zm.2-.5h.9v.9h-.9zm.1 .7h.9v.9h-.9zm.8-.8h.9v.9h-.9zm1.5-.1h.9v.9h-.9zm-42.3 1.2h.9v.9h-.9zm.1 .3h.9v.9h-.9zm1.7 .1h.9v.9h-.9zm1.4 .2h.9v.9h-.9zm.2-.8h.9v.9h-.9zm1.3 0h.9v.9h-.9zm.3 .3h.9v.9h-.9zm1.5 .3h.9v.9h-.9zm.2 .1h.9v.9h-.9zm.9 0h.9v.9h-.9zm.7-.5h.9v.9h-.9zm0 .4h.9v.9h-.9zm.5-.6h.9v.9h-.9zm.7 .6h.9v.9h-.9zm.9-.4h.9v.9h-.9zm.9 0h.9v.9h-.9zm.4-.2h.9v.9h-.9zm.4 .3h.9v.9h-.9zm.7 .4h.9v.9h-.9zm.2 .1h.9v.9h-.9zm.8 0h.9v.9h-.9zm.1-.8h.9v.9h-.9zm.7 .8h.9v.9h-.9zm6.1-.8h.9v.9h-.9zm3.5 0h.9v.9h-.9zm2.6 0h.9v.9h-.9zm1.2 0h.9v.9h-.9zm2.1 .2h.9v.9h-.9zm2.3 .1h.9v.9h-.9zm.1-.3h.9v.9h-.9zm.5 .3h.9v.9h-.9zm2.4-.3h.9v.9h-.9zm.8 .4h.9v.9h-.9zm.2-.4h.9v.9h-.9zm2.5 .2h.9v.9h-.9zm2-.1h.9v.9h-.9zm-45.1 1.8h.9v.9h-.9zm1.5-.3h.9v.9h-.9zm1.8 0h.9v.9h-.9zm1.2-.5h.9v.9h-.9zm3 .4h.9v.9h-.9zm.2 .4h.9v.9h-.9zm.2 0h.9v.9h-.9zm.1-.1h.9v.9h-.9zm.1-.4h.9v.9h-.9zm.3-.5h.9v.9h-.9zm1.1 .4h.9v.9h-.9zm.7 .6h.9v.9h-.9zm.1-.2h.9v.9h-.9zm.5 .1h.9v.9h-.9zm.4-.1h.9v.9h-.9zm0 0h.9v.9h-.9zm.3-.5h.9v.9h-.9zm.9 .5h.9v.9h-.9zm.7-.2h.9v.9h-.9zm.1 0h.9v.9h-.9zm.2-.4h.9v.9h-.9zm.9 0h.9v.9h-.9zm0-.1h.9v.9h-.9zm.4 .7h.9v.9h-.9zm.7 .2h.9v.9h-.9zm1.4-.3h.9v.9h-.9zm0-.6h.9v.9h-.9zm.8-.1h.9v.9h-.9zm.1 .7h.9v.9h-.9zm.2-.7h.9v.9h-.9zm.2 .4h.9v.9h-.9zm.3 .6h.9v.9h-.9zm.5 0h.9v.9h-.9zm.7-1h.9v.9h-.9zm.3 .4h.9v.9h-.9zm1 .1h.9v.9h-.9zm.1 .1h.9v.9h-.9zm7.2-.4h.9v.9h-.9zm0-.1h.9v.9h-.9zm.2-.1h.9v.9h-.9zm.7 .5h.9v.9h-.9zm0 .1h.9v.9h-.9zm1.6 .3h.9v.9h-.9zm2.2-.3h.9v.9h-.9zm.5 0h.9v.9h-.9zm4.5 .1h.9v.9h-.9zm1.3 0h.9v.9h-.9zm1.3 0h.9v.9h-.9zm.1-.1h.9v.9h-.9zm.2 0h.9v.9h-.9zm2.3 .3h.9v.9h-.9zm.1-.6h.9v.9h-.9zm0 .4h.9v.9h-.9zm0-.1h.9v.9h-.9zm.6 .2h.9v.9h-.9zm.2-.2h.9v.9h-.9zm.1-.3h.9v.9h-.9zm.7 .2h.9v.9h-.9zm.8 0h.9v.9h-.9zm.7 0h.9v.9h-.9zm.7 .2h.9v.9h-.9zm.5-.4h.9v.9h-.9zm.4 .3h.9v.9h-.9zm-51.9 .7h.9v.9h-.9zm6.1-.2h.9v.9h-.9zm.5 0h.9v.9h-.9zm1.6 .5h.9v.9h-.9zm.5-.5h.9v.9h-.9zm.5 .6h.9v.9h-.9zm1.2-.5h.9v.9h-.9zm1.5 .5h.9v.9h-.9zm.1 .2h.9v.9h-.9zm.3-.5h.9v.9h-.9zm.8-.3h.9v.9h-.9zm.2 .6h.9v.9h-.9zm.4-.3h.9v.9h-.9zm.2 .2h.9v.9h-.9zm.7-.2h.9v.9h-.9zm0 0h.9v.9h-.9zm.5 .2h.9v.9h-.9zm.3 .2h.9v.9h-.9zm.4 0h.9v.9h-.9zm0-.2h.9v.9h-.9zm0 0h.9v.9h-.9zm.6-.2h.9v.9h-.9zm.6-.3h.9v.9h-.9zm.3 .5h.9v.9h-.9zm.4-.5h.9v.9h-.9zm.5 .7h.9v.9h-.9zm1.1-.2h.9v.9h-.9zm.2-.1h.9v.9h-.9zm.5-.1h.9v.9h-.9zm.1 0h.9v.9h-.9zm.7-.2h.9v.9h-.9zm0 .6h.9v.9h-.9zm.1-.4h.9v.9h-.9zm1 .5h.9v.9h-.9zm.1-.3h.9v.9h-.9zm.1 .3h.9v.9h-.9zm.4-.5h.9v.9h-.9zm.3-.1h.9v.9h-.9zm2.5 .6h.9v.9h-.9zm1.8-.2h.9v.9h-.9zm.7-.1h.9v.9h-.9zm1.2 .2h.9v.9h-.9zm2.9-.7h.9v.9h-.9zm.5 .8h.9v.9h-.9zm1.2-.3h.9v.9h-.9zm.4-.5h.9v.9h-.9zm2.4 .2h.9v.9h-.9zm2.5 .4h.9v.9h-.9zm.2-.1h.9v.9h-.9zm.3 .3h.9v.9h-.9zm2.1-.2h.9v.9h-.9zm2.2 .1h.9v.9h-.9zm.7-.6h.9v.9h-.9zm.4 .3h.9v.9h-.9zm1.8-.1h.9v.9h-.9zm.2 .3h.9v.9h-.9zm.3 .1h.9v.9h-.9zm1-.2h.9v.9h-.9zm.4-.4h.9v.9h-.9zm1.6 .3h.9v.9h-.9zm1.2 .1h.9v.9h-.9zm3.2 .1h.9v.9h-.9zm-51.2 1.2h.9v.9h-.9zm1.4-.7h.9v.9h-.9zm2.2 .8h.9v.9h-.9zm4-.2h.9v.9h-.9zm.6 .2h.9v.9h-.9zm.2-.1h.9v.9h-.9zm.1-.7h.9v.9h-.9zm.9 .1h.9v.9h-.9zm1.2-.3h.9v.9h-.9zm.4 .8h.9v.9h-.9zm.2-.8h.9v.9h-.9zm.2 1h.9v.9h-.9zm.4-.2h.9v.9h-.9zm.1-.3h.9v.9h-.9zm.7 .3h.9v.9h-.9zm.9 .2h.9v.9h-.9zm.3-.3h.9v.9h-.9zm.4 .2h.9v.9h-.9zm0-.4h.9v.9h-.9zm1.5-.5h.9v.9h-.9zm.5 0h.9v.9h-.9zm.2 .4h.9v.9h-.9zm.1 0h.9v.9h-.9zm.6-.1h.9v.9h-.9zm.1 0h.9v.9h-.9zm.2 .5h.9v.9h-.9zm0-.6h.9v.9h-.9zm.2 .1h.9v.9h-.9zm.1-.3h.9v.9h-.9zm.2 .5h.9v.9h-.9zm0 .5h.9v.9h-.9zm.1-1h.9v.9h-.9zm.1 .6h.9v.9h-.9zm.1-.6h.9v.9h-.9zm0 .4h.9v.9h-.9zm.3 .5h.9v.9h-.9zm1-.9h.9v.9h-.9zm.1 .8h.9v.9h-.9zm1.1 .2h.9v.9h-.9zm.5-1h.9v.9h-.9zm1 .9h.9v.9h-.9zm.5-.1h.9v.9h-.9zm.1-.8h.9v.9h-.9zm.5 .5h.9v.9h-.9zm1.5 .1h.9v.9h-.9zm1.1 .3h.9v.9h-.9zm4.3-.6h.9v.9h-.9zm.6-.2h.9v.9h-.9zm.7 .4h.9v.9h-.9zm2.1 .5h.9v.9h-.9zm.9-.8h.9v.9h-.9zm1 .6h.9v.9h-.9zm6.2-.6h.9v.9h-.9zm.5 .6h.9v.9h-.9zm.1-.1h.9v.9h-.9zm1.9-.2h.9v.9h-.9zm.1 0h.9v.9h-.9zm.4-.3h.9v.9h-.9zm.5-.2h.9v.9h-.9zm.8 .3h.9v.9h-.9zm.2 .1h.9v.9h-.9zm.4-.1h.9v.9h-.9zm.1 0h.9v.9h-.9zm3.1 .3h.9v.9h-.9zm.2 0h.9v.9h-.9zm-49 .7h.9v.9h-.9zm3.9 .2h.9v.9h-.9zm.4-.1h.9v.9h-.9zm1.7-.2h.9v.9h-.9zm1 .5h.9v.9h-.9zm.3-.3h.9v.9h-.9zm.5 .2h.9v.9h-.9zm.6-.4h.9v.9h-.9zm1.9 .4h.9v.9h-.9zm1.7-.2h.9v.9h-.9zm.2 .4h.9v.9h-.9zm1.3-.1h.9v.9h-.9zm.2 .2h.9v.9h-.9zm.8-.6h.9v.9h-.9zm.2-.1h.9v.9h-.9zm.3 .4h.9v.9h-.9zm.2 0h.9v.9h-.9zm0-.5h.9v.9h-.9zm.2 .1h.9v.9h-.9zm.5 0h.9v.9h-.9zm.1 .3h.9v.9h-.9zm.5 .4h.9v.9h-.9zm.1-.2h.9v.9h-.9zm1.1-.2h.9v.9h-.9zm1 0h.9v.9h-.9zm.4 .1h.9v.9h-.9zm3.4-.1h.9v.9h-.9zm.2-.1h.9v.9h-.9zm1.6 .3h.9v.9h-.9zm5.7-.5h.9v.9h-.9zm.3 .1h.9v.9h-.9zm.2 .3h.9v.9h-.9zm.7-.5h.9v.9h-.9zm1.8 0h.9v.9h-.9zm2 .8h.9v.9h-.9zm.3-.3h.9v.9h-.9zm2-.5h.9v.9h-.9zm.1 .3h.9v.9h-.9zm.6-.1h.9v.9h-.9zm1.4 0h.9v.9h-.9zm.9 0h.9v.9h-.9zm2.2 .4h.9v.9h-.9zm2.7-.2h.9v.9h-.9zm.4 .2h.9v.9h-.9zm.6-.6h.9v.9h-.9zm.4 .8h.9v.9h-.9zm-47.3 .6h.9v.9h-.9zm.2-.1h.9v.9h-.9zm1.9 .2h.9v.9h-.9zm.3-.6h.9v.9h-.9zm1.3 .8h.9v.9h-.9zm.2 .2h.9v.9h-.9zm.5-.7h.9v.9h-.9zm1.5-.1h.9v.9h-.9zm.1 .4h.9v.9h-.9zm3 .4h.9v.9h-.9zm.2-.3h.9v.9h-.9zm.4-.4h.9v.9h-.9zm0 0h.9v.9h-.9zm.1 .5h.9v.9h-.9zm.4-.4h.9v.9h-.9zm1-.2h.9v.9h-.9zm.1-.2h.9v.9h-.9zm.1 .6h.9v.9h-.9zm.3-.4h.9v.9h-.9zm.2 .3h.9v.9h-.9zm.3-.5h.9v.9h-.9zm0 1h.9v.9h-.9zm.1-.2h.9v.9h-.9zm1.6-.6h.9v.9h-.9zm.6-.1h.9v.9h-.9zm.3 .1h.9v.9h-.9zm.2 0h.9v.9h-.9zm.2 .3h.9v.9h-.9zm.1 .1h.9v.9h-.9zm.3-.6h.9v.9h-.9zm.6 .4h.9v.9h-.9zm.3-.1h.9v.9h-.9zm.3 .6h.9v.9h-.9zm.6-.5h.9v.9h-.9zm1.4 .5h.9v.9h-.9zm.2-.2h.9v.9h-.9zm.3 .3h.9v.9h-.9zm.2-.9h.9v.9h-.9zm.3 .5h.9v.9h-.9zm1.6 .2h.9v.9h-.9zm.8-.1h.9v.9h-.9zm1.6-.3h.9v.9h-.9zm.6-.3h.9v.9h-.9zm.6 .8h.9v.9h-.9zm1.2-.7h.9v.9h-.9zm1.6 0h.9v.9h-.9zm0 0h.9v.9h-.9zm1.8 .8h.9v.9h-.9zm1.4 0h.9v.9h-.9zm.3-1h.9v.9h-.9zm2.4 .8h.9v.9h-.9zm.3 .2h.9v.9h-.9zm.2-.6h.9v.9h-.9zm.5 .4h.9v.9h-.9zm.3-.8h.9v.9h-.9zm.1 .3h.9v.9h-.9zm2.6 0h.9v.9h-.9zm.7 .7h.9v.9h-.9zm.4-.5h.9v.9h-.9zm1.5-.2h.9v.9h-.9zm1.1 .7h.9v.9h-.9zm3.4-.8h.9v.9h-.9zm.1 .5h.9v.9h-.9zm.2-.4h.9v.9h-.9zm0 .2h.9v.9h-.9zm.9-.3h.9v.9h-.9zm.1 .2h.9v.9h-.9zm.8 .2h.9v.9h-.9zm.1-.5h.9v.9h-.9zm1.2 .9h.9v.9h-.9zm-49.4 .3h.9v.9h-.9zm2 .3h.9v.9h-.9zm.5-.3h.9v.9h-.9zm.5 0h.9v.9h-.9zm.5 0h.9v.9h-.9zm2.9 .6h.9v.9h-.9zm.6-.7h.9v.9h-.9zm1.1 .7h.9v.9h-.9zm.7-.7h.9v.9h-.9zm.5 .5h.9v.9h-.9zm.1-.4h.9v.9h-.9zm1.1 .6h.9v.9h-.9zm2-.7h.9v.9h-.9zm.2-.1h.9v.9h-.9zm.1 .3h.9v.9h-.9zm.2 .1h.9v.9h-.9zm.4-.2h.9v.9h-.9zm.5 .4h.9v.9h-.9zm0 .1h.9v.9h-.9zm.5-.3h.9v.9h-.9zm.4 .4h.9v.9h-.9zm.6-.7h.9v.9h-.9zm.1 .1h.9v.9h-.9zm.1 0h.9v.9h-.9zm.2 .2h.9v.9h-.9zm.1 .3h.9v.9h-.9zm.3 .1h.9v.9h-.9zm0-.7h.9v.9h-.9zm.1 .1h.9v.9h-.9zm.7 0h.9v.9h-.9zm.9 0h.9v.9h-.9zm.2 .2h.9v.9h-.9zm.4-.1h.9v.9h-.9zm.6 .5h.9v.9h-.9zm.1-.4h.9v.9h-.9zm.2-.3h.9v.9h-.9zm.4-.1h.9v.9h-.9zm1.3 .1h.9v.9h-.9zm2.7 .4h.9v.9h-.9zm0-.3h.9v.9h-.9zm.6 .4h.9v.9h-.9zm1.4-.5h.9v.9h-.9zm1.7-.1h.9v.9h-.9zm.1 .8h.9v.9h-.9zm2.8-.6h.9v.9h-.9zm.1-.2h.9v.9h-.9zm2.5 0h.9v.9h-.9zm.1 0h.9v.9h-.9zm.6 .1h.9v.9h-.9zm3.5 .7h.9v.9h-.9zm0-.1h.9v.9h-.9zm.2-.6h.9v.9h-.9zm.5 .7h.9v.9h-.9zm1.3-.6h.9v.9h-.9zm2.7 .6h.9v.9h-.9zm.7-.7h.9v.9h-.9zm1.3-.1h.9v.9h-.9zm2.6 .2h.9v.9h-.9zm.7 .6h.9v.9h-.9zm1.8-.1h.9v.9h-.9zm-48.8 .5h.9v.9h-.9zm.5-.3h.9v.9h-.9zm1.1 .3h.9v.9h-.9zm3.9 .7h.9v.9h-.9zm.8-.1h.9v.9h-.9zm1.7 .1h.9v.9h-.9zm.2-.3h.9v.9h-.9zm0-.4h.9v.9h-.9zm3.3 .1h.9v.9h-.9zm.3-.3h.9v.9h-.9zm.7 .5h.9v.9h-.9zm.7 .2h.9v.9h-.9zm.4 .1h.9v.9h-.9zm.4 .1h.9v.9h-.9zm.9-.2h.9v.9h-.9zm.1-.6h.9v.9h-.9zm.3 .4h.9v.9h-.9zm.2-.3h.9v.9h-.9zm.2 .5h.9v.9h-.9zm.5-.4h.9v.9h-.9zm2.2 0h.9v.9h-.9zm1.3-.3h.9v.9h-.9zm.8 .9h.9v.9h-.9zm0-.6h.9v.9h-.9zm.6-.1h.9v.9h-.9zm.2 .5h.9v.9h-.9zm.5-.3h.9v.9h-.9zm.8 .1h.9v.9h-.9zm.8-.2h.9v.9h-.9zm.2 .1h.9v.9h-.9zm1.3-.2h.9v.9h-.9zm.2 .2h.9v.9h-.9zm.7-.4h.9v.9h-.9zm.6 .4h.9v.9h-.9zm.3-.1h.9v.9h-.9zm1.6 .1h.9v.9h-.9zm1.3 0h.9v.9h-.9zm.4 .1h.9v.9h-.9zm.3-.4h.9v.9h-.9zm1.9 .7h.9v.9h-.9zm1.2-.9h.9v.9h-.9zm.1 .2h.9v.9h-.9zm.3-.1h.9v.9h-.9zm.5 .9h.9v.9h-.9zm.9-.8h.9v.9h-.9zm.2 .2h.9v.9h-.9zm.1 .5h.9v.9h-.9zm0-.4h.9v.9h-.9zm.4-.2h.9v.9h-.9zm1.2-.3h.9v.9h-.9zm5.3 .8h.9v.9h-.9zm4.5 .1h.9v.9h-.9zm.7-.5h.9v.9h-.9zm1.2-.4h.9v.9h-.9zm-50.6 1.6h.9v.9h-.9zm1.6 .2h.9v.9h-.9zm1.2 0h.9v.9h-.9zm4.4-.1h.9v.9h-.9zm6.3 0h.9v.9h-.9zm.8-.1h.9v.9h-.9zm.9-.5h.9v.9h-.9zm3.1 .4h.9v.9h-.9zm.2-.3h.9v.9h-.9zm.4 .1h.9v.9h-.9zm.1 .4h.9v.9h-.9zm2.5-.1h.9v.9h-.9zm.2-.2h.9v.9h-.9zm.1-.3h.9v.9h-.9zm.5 .1h.9v.9h-.9zm4 .1h.9v.9h-.9zm6.2 .6h.9v.9h-.9zm2.3-.4h.9v.9h-.9zm6.3 .4h.9v.9h-.9zm2.2 0h.9v.9h-.9zm.7-.1h.9v.9h-.9zm5 .1h.9v.9h-.9zm3.1-.3h.9v.9h-.9zm1.8 0h.9v.9h-.9zm-51.3 .9h.9v.9h-.9zm.6 0h.9v.9h-.9zm.1 .4h.9v.9h-.9zm1.4-.7h.9v.9h-.9zm1.2 .2h.9v.9h-.9zm.2 .3h.9v.9h-.9zm1-.1h.9v.9h-.9zm0 0h.9v.9h-.9zm1.9 .3h.9v.9h-.9zm.9-.6h.9v.9h-.9zm.3 0h.9v.9h-.9zm.4-.2h.9v.9h-.9zm1.5 0h.9v.9h-.9zm2.3 .9h.9v.9h-.9zm.9-.4h.9v.9h-.9zm.1-.3h.9v.9h-.9zm.5 .5h.9v.9h-.9zm.2-.2h.9v.9h-.9zm.6-.6h.9v.9h-.9zm.2 .5h.9v.9h-.9zm.1-.1h.9v.9h-.9zm.3 .2h.9v.9h-.9zm1.7 .3h.9v.9h-.9zm.4-.1h.9v.9h-.9zm.5-.5h.9v.9h-.9zm.8 .5h.9v.9h-.9zm.4-.5h.9v.9h-.9zm.2 .1h.9v.9h-.9zm1.5-.1h.9v.9h-.9zm.8 0h.9v.9h-.9zm.6 .2h.9v.9h-.9zm1.3 .4h.9v.9h-.9zm2.4-.1h.9v.9h-.9zm1.6-.6h.9v.9h-.9zm1.4-.2h.9v.9h-.9zm2.5 .1h.9v.9h-.9zm1.1 .5h.9v.9h-.9zm1.2 .2h.9v.9h-.9zm.3-.2h.9v.9h-.9zm.1 .4h.9v.9h-.9zm3.1-.9h.9v.9h-.9zm.9 .5h.9v.9h-.9zm1.5 .1h.9v.9h-.9zm.3 0h.9v.9h-.9zm1.7-.4h.9v.9h-.9zm3.1 .4h.9v.9h-.9zm2.2-.1h.9v.9h-.9zm5.9 0h.9v.9h-.9zm-52.9 .5h.9v.9h-.9zm1.2 .4h.9v.9h-.9zm1.5 .4h.9v.9h-.9zm4-.3h.9v.9h-.9zm1.4-.5h.9v.9h-.9zm4.1 .7h.9v.9h-.9zm.5-.6h.9v.9h-.9zm.6 .1h.9v.9h-.9zm.5 .4h.9v.9h-.9zm0-.2h.9v.9h-.9zm.9-.3h.9v.9h-.9zm1.3 .1h.9v.9h-.9zm4 .4h.9v.9h-.9zm1.4-.6h.9v.9h-.9zm1.1 .3h.9v.9h-.9zm1.6 .5h.9v.9h-.9zm.7-.2h.9v.9h-.9zm.5-.1h.9v.9h-.9zm.2 0h.9v.9h-.9zm.3-.3h.9v.9h-.9zm.5-.1h.9v.9h-.9zm.2 .5h.9v.9h-.9zm4.2-.4h.9v.9h-.9zm1.7 .6h.9v.9h-.9zm1.8-.8h.9v.9h-.9zm.5 .5h.9v.9h-.9zm.2-.5h.9v.9h-.9zm2.3 .4h.9v.9h-.9zm.9 .4h.9v.9h-.9zm2.9-.1h.9v.9h-.9zm4.3-.1h.9v.9h-.9zm.8 .1h.9v.9h-.9zm.1-.5h.9v.9h-.9zm.5 .2h.9v.9h-.9zm1.1-.3h.9v.9h-.9zm1.2 .5h.9v.9h-.9zm1.4-.3h.9v.9h-.9zm.9 .3h.9v.9h-.9zm-47.8 1.2h.9v.9h-.9zm1.4-.3h.9v.9h-.9zm2.4-.5h.9v.9h-.9zm2.9 .3h.9v.9h-.9zm0-.4h.9v.9h-.9zm1 .6h.9v.9h-.9zm1.8-.2h.9v.9h-.9zm.4 .1h.9v.9h-.9zm.6-.2h.9v.9h-.9zm1.7-.3h.9v.9h-.9zm1.2 .1h.9v.9h-.9zm.3 .8h.9v.9h-.9zm1.1 .1h.9v.9h-.9zm.7-.9h.9v.9h-.9zm.5 0h.9v.9h-.9zm1.1-.1h.9v.9h-.9zm.5 .6h.9v.9h-.9zm.7-.1h.9v.9h-.9zm.4-.4h.9v.9h-.9zm.5 .1h.9v.9h-.9zm.3 .5h.9v.9h-.9zm1.3-.4h.9v.9h-.9zm1.2 .5h.9v.9h-.9zm5.9-.6h.9v.9h-.9zm.5-.2h.9v.9h-.9zm1.2 .4h.9v.9h-.9zm1.5 .5h.9v.9h-.9zm.4-.4h.9v.9h-.9zm.2-.4h.9v.9h-.9zm3.4 .3h.9v.9h-.9zm6.2-.1h.9v.9h-.9zm.1 0h.9v.9h-.9zm1.4 .4h.9v.9h-.9zm.7-.2h.9v.9h-.9zm.4 .5h.9v.9h-.9zm.1-.6h.9v.9h-.9zm.1 0h.9v.9h-.9zm.1 .4h.9v.9h-.9zm.2 .2h.9v.9h-.9zm.3-.3h.9v.9h-.9zm.1-.2h.9v.9h-.9zm.4 .5h.9v.9h-.9zm0 0h.9v.9h-.9zm.1-.8h.9v.9h-.9zm.4 .8h.9v.9h-.9zm.6-.6h.9v.9h-.9zm.2-.4h.9v.9h-.9zm.1 .2h.9v.9h-.9zm.2 .6h.9v.9h-.9zm.1-.8h.9v.9h-.9zm.2 .1h.9v.9h-.9zm.8 .7h.9v.9h-.9zm1.2-.1h.9v.9h-.9zm0-.3h.9v.9h-.9zm-46.3 1.1h.9v.9h-.9zm.2-.2h.9v.9h-.9zm1.7 .2h.9v.9h-.9zm4.5-.3h.9v.9h-.9zm0 .5h.9v.9h-.9zm.3-.1h.9v.9h-.9zm3.7-.2h.9v.9h-.9zm3.2-.1h.9v.9h-.9zm.3-.2h.9v.9h-.9zm1.4 .4h.9v.9h-.9zm.3-.1h.9v.9h-.9zm3.6 .2h.9v.9h-.9zm2.8-.5h.9v.9h-.9zm.9 0h.9v.9h-.9zm.7 .6h.9v.9h-.9zm.7 .2h.9v.9h-.9zm1.6-.7h.9v.9h-.9zm4.4 .1h.9v.9h-.9zm.6 .3h.9v.9h-.9zm1-.5h.9v.9h-.9zm4.2 .4h.9v.9h-.9zm1.1 .2h.9v.9h-.9zm2 .1h.9v.9h-.9zm.8-.5h.9v.9h-.9zm.4 .2h.9v.9h-.9zm.4-.4h.9v.9h-.9zm.3 .4h.9v.9h-.9zm.1 .3h.9v.9h-.9zm.7-.5h.9v.9h-.9zm.4 .5h.9v.9h-.9zm.5-.1h.9v.9h-.9zm.2 .1h.9v.9h-.9zm.1-.3h.9v.9h-.9zm.1-.2h.9v.9h-.9zm.5 0h.9v.9h-.9zm0 .5h.9v.9h-.9zm.3-.2h.9v.9h-.9zm.5-.1h.9v.9h-.9zm.1-.3h.9v.9h-.9zm1.2 .6h.9v.9h-.9zm-54.9 .7h.9v.9h-.9zm7.5 .5h.9v.9h-.9zm3-.4h.9v.9h-.9zm2.1-.2h.9v.9h-.9zm1.1 .6h.9v.9h-.9zm13.7-.9h.9v.9h-.9zm.3 .5h.9v.9h-.9zm.8 0h.9v.9h-.9zm0-.5h.9v.9h-.9zm.7 .3h.9v.9h-.9zm.2-.4h.9v.9h-.9zm.2 .7h.9v.9h-.9zm.2-.3h.9v.9h-.9zm2.4 .5h.9v.9h-.9zm5-.7h.9v.9h-.9zm3.8-.1h.9v.9h-.9zm6.8 .9h.9v.9h-.9zm1.2-.6h.9v.9h-.9zm.1 0h.9v.9h-.9zm.3 .5h.9v.9h-.9zm1.1 .1h.9v.9h-.9zm.1-.8h.9v.9h-.9zm.3-.2h.9v.9h-.9zm.3 1h.9v.9h-.9zm.4-.6h.9v.9h-.9zm0 .5h.9v.9h-.9zm1 0h.9v.9h-.9zm0-.3h.9v.9h-.9zm.4 .3h.9v.9h-.9zm.5-.5h.9v.9h-.9zm.7 .5h.9v.9h-.9zm.3-.6h.9v.9h-.9zm.4-.1h.9v.9h-.9zm.5-.2h.9v.9h-.9zm.5 .5h.9v.9h-.9zm-33.8 .7h.9v.9h-.9zm6.8 .7h.9v.9h-.9zm.2-.3h.9v.9h-.9zm.5 .2h.9v.9h-.9zm1.6 0h.9v.9h-.9zm7.5-.7h.9v.9h-.9zm.4 0h.9v.9h-.9zm7.8 0h.9v.9h-.9zm.3 .1h.9v.9h-.9zm.4 .1h.9v.9h-.9zm.5-.2h.9v.9h-.9zm.3 .5h.9v.9h-.9zm.7-.2h.9v.9h-.9zm.2 .3h.9v.9h-.9zm1-.4h.9v.9h-.9zm.8 .2h.9v.9h-.9zm.3 .2h.9v.9h-.9zm0 .1h.9v.9h-.9zm1.2 0h.9v.9h-.9zm0-.5h.9v.9h-.9zm1.1 .6h.9v.9h-.9zm.4 0h.9v.9h-.9zm.6-.6h.9v.9h-.9zm.3 .5h.9v.9h-.9zm-50.2 .4h.9v.9h-.9zm10 0h.9v.9h-.9zm3.8 .5h.9v.9h-.9zm7.8-.2h.9v.9h-.9zm1.2-.4h.9v.9h-.9zm2.7 .2h.9v.9h-.9zm.2 .5h.9v.9h-.9zm.3 0h.9v.9h-.9zm.3-.1h.9v.9h-.9zm1.7-.5h.9v.9h-.9zm.6 .5h.9v.9h-.9zm.6 .1h.9v.9h-.9zm2.4 .2h.9v.9h-.9zm.4-.1h.9v.9h-.9zm9.4-.3h.9v.9h-.9zm1.6 .2h.9v.9h-.9zm2-.2h.9v.9h-.9zm.3-.2h.9v.9h-.9zm.8-.4h.9v.9h-.9zm.5 .8h.9v.9h-.9zm.1-.3h.9v.9h-.9zm.2-.1h.9v.9h-.9zm2.8-.4h.9v.9h-.9zm.1 .2h.9v.9h-.9zm-43.1 .9h.9v.9h-.9zm9.3 .2h.9v.9h-.9zm.1 .5h.9v.9h-.9zm3.8-.3h.9v.9h-.9zm3 .2h.9v.9h-.9zm.2 .1h.9v.9h-.9zm2.6-.5h.9v.9h-.9zm.5 .5h.9v.9h-.9zm.2 .1h.9v.9h-.9zm2.1 0h.9v.9h-.9zm1.2-.4h.9v.9h-.9zm15.7 .1h.9v.9h-.9zm.3 0h.9v.9h-.9zm.7-.1h.9v.9h-.9zm.7-.4h.9v.9h-.9zm-38 1.9h.9v.9h-.9zm7.5-.6h.9v.9h-.9zm4.1 .3h.9v.9h-.9zm.9 .2h.9v.9h-.9zm1.8-.3h.9v.9h-.9zm.9-.5h.9v.9h-.9zm1.7 .8h.9v.9h-.9zm0 0h.9v.9h-.9zm2.8 .1h.9v.9h-.9zm.1-.2h.9v.9h-.9zm2.7 .1h.9v.9h-.9zm8.9-.6h.9v.9h-.9zm4.4-.3h.9v.9h-.9zm1.7 .2h.9v.9h-.9zm-44.8 1h.9v.9h-.9zm.8 .2h.9v.9h-.9zm18.4-.2h.9v.9h-.9zm5.6 .3h.9v.9h-.9zm1 .1h.9v.9h-.9zm.3 0h.9v.9h-.9zm2.4-.3h.9v.9h-.9zm1 .2h.9v.9h-.9zm14.6-.3h.9v.9h-.9zm-24.2 .8h.9v.9h-.9zm2.8 .4h.9v.9h-.9zm1.3 .3h.9v.9h-.9zm.4-.6h.9v.9h-.9zm.5 0h.9v.9h-.9zm.4 .7h.9v.9h-.9zm2.4-.4h.9v.9h-.9zm2.2 .5h.9v.9h-.9zm10 0h.9v.9h-.9zm-22.1 .7h.9v.9h-.9zm.3-.4h.9v.9h-.9zm3 .1h.9v.9h-.9zm.4 .5h.9v.9h-.9zm6.6-.1h.9v.9h-.9zm5.4-.1h.9v.9h-.9zm3.5 .2h.9v.9h-.9zm-30.6 1.1h.9v.9h-.9zm5.2-.2h.9v.9h-.9zm1.6 .3h.9v.9h-.9zm4.5 0h.9v.9h-.9zm.9-.9h.9v.9h-.9zm1.7 .7h.9v.9h-.9zm10.6-.8h.9v.9h-.9zm13.9 .3h.9v.9h-.9zm-51.5 1h.9v.9h-.9zm34.2 .1h.9v.9h-.9zm14.6 .2h.9v.9h-.9zm-31.5 .9h.9v.9h-.9zm2.7 .3h.9v.9h-.9zm.6-.2h.9v.9h-.9zm-17.9 1.3h.9v.9h-.9zm13.4-.4h.9v.9h-.9zm.5-.3h.9v.9h-.9zm1.7 .2h.9v.9h-.9zm9.7 .4h.9v.9h-.9zm7.9-.3h.9v.9h-.9zm-22.4 1.3h.9v.9h-.9zm.9 .1h.9v.9h-.9zm1.6-.4h.9v.9h-.9zm.4 .1h.9v.9h-.9zm.4-.4h.9v.9h-.9zm.2-.2h.9v.9h-.9zm.9 .3h.9v.9h-.9zm.1 .1h.9v.9h-.9zm.3 .3h.9v.9h-.9zm-4 .9h.9v.9h-.9zm.8-.3h.9v.9h-.9zm.2 .6h.9v.9h-.9zm1.4-.7h.9v.9h-.9zm.1 .4h.9v.9h-.9zm6 .2h.9v.9h-.9zm28.4-.2h.9v.9h-.9zm-37.9 1.1h.9v.9h-.9zm1.1 .1h.9v.9h-.9zm.4 .1h.9v.9h-.9zm.8 .1h.9v.9h-.9zm.3-.1h.9v.9h-.9zm0-.3h.9v.9h-.9zm.2-.5h.9v.9h-.9zm1.2 .5h.9v.9h-.9zm.1-.2h.9v.9h-.9zm.1-.3h.9v.9h-.9zm1.3 .4h.9v.9h-.9zm.3 .1h.9v.9h-.9zm.7 .2h.9v.9h-.9zm.5-.7h.9v.9h-.9zm0 .4h.9v.9h-.9zm-6.2 .7h.9v.9h-.9zm.8 0h.9v.9h-.9zm.1 .4h.9v.9h-.9zm.3-.5h.9v.9h-.9zm1.4 .1h.9v.9h-.9zm.4 .7h.9v.9h-.9zm.4 0h.9v.9h-.9zm1.6-.8h.9v.9h-.9zm.7 .1h.9v.9h-.9zm-6.5 1.5h.9v.9h-.9zm1.3-.3h.9v.9h-.9zm.6-.2h.9v.9h-.9zm.2 0h.9v.9h-.9zm.1 .7h.9v.9h-.9zm.2-.1h.9v.9h-.9zm.3 .1h.9v.9h-.9zm.2-.3h.9v.9h-.9zm.8 .2h.9v.9h-.9zm.1-.2h.9v.9h-.9zm.9-.3h.9v.9h-.9zm.3 .2h.9v.9h-.9zm.1 .1h.9v.9h-.9zm.1 .2h.9v.9h-.9zm10.4-.3h.9v.9h-.9zm9.1-.2h.9v.9h-.9zm-19.5 1.5h.9v.9h-.9zm2-.7h.9v.9h-.9zm3.8 .3h.9v.9h-.9zm-17.9 .6h.9v.9h-.9zm2.8 .2h.9v.9h-.9zm1.1 .1h.9v.9h-.9zm1.9 .5h.9v.9h-.9zm1.6-.2h.9v.9h-.9zm1.7 .2h.9v.9h-.9zm7.4-.3h.9v.9h-.9zm11.3-.3h.9v.9h-.9zm-20.4 1.4h.9v.9h-.9zm1.1-.3h.9v.9h-.9zm40.6 .4h.9v.9h-.9zm-37.5 .7h.9v.9h-.9zm-1.7 .8h.9v.9h-.9zm1.7 1.7h.9v.9h-.9zm31.1-.6h.9v.9h-.9zm-29.3 1.4h.9v.9h-.9zm22.6 .9h.9v.9h-.9z"/>
<circle cx="392.2" cy="341.5" r="2.3" fill="#f2c0b2" stroke="#9a5a50" stroke-width="0.35"/>
<circle cx="410.6" cy="343.6" r="1.9" fill="#f2c0b2" stroke="#9a5a50" stroke-width="0.35"/>
<circle cx="410.9" cy="346.1" r="1.9" fill="#f2c0b2" stroke="#9a5a50" stroke-width="0.35"/>
<circle cx="417" cy="339.5" r="2.3" fill="#c4553f" stroke="#7a2a20" stroke-width="0.35"/>
<circle cx="421.9" cy="333.9" r="1.8" fill="#f2c0b2" stroke="#9a5a50" stroke-width="0.35"/>
<line x1="376" y1="364.2" x2="376" y2="347.2" stroke="#111" stroke-width="0.7"/>
<line x1="376" y1="364.2" x2="395" y2="364.2" stroke="#111" stroke-width="0.7"/>
<polygon points="376.00,346.72 377.08,349.12 374.92,349.12" fill="#111"/>
<polygon points="395.48,364.20 393.08,365.28 393.08,363.12" fill="#111"/>
<text x="388.8" y="369.5" font-size="3.8" text-anchor="middle" fill="#444">FltSNE1</text>
<text x="373.2" y="355" font-size="3.8" text-anchor="middle" fill="#444" transform="rotate(-90 373.2 355)">FltSNE2</text>
<text x="377" y="379.9" font-size="5.5" fill="#222">Enrichment</text>
<text x="377" y="385.4" font-size="5.5" fill="#222">(logFC)</text>
<defs><linearGradient id="genr" x1="0" x2="0" y1="0" y2="1"><stop offset="0" stop-color="#c0604a"/><stop offset="0.35" stop-color="#f7f7f7"/><stop offset="0.45" stop-color="#ffffff"/><stop offset="1" stop-color="#5aa0e0"/></linearGradient></defs>
<rect x="382.8" y="388.9" width="6.1" height="30.7" fill="url(#genr)"/>
<text x="381.7" y="395.4" font-size="5.6" text-anchor="end" fill="#333">2</text>
<text x="381.7" y="403.3" font-size="5.6" text-anchor="end" fill="#333">0</text>
<text x="381.7" y="411.5" font-size="5.6" text-anchor="end" fill="#333">−2</text>
<text x="381.7" y="419.3" font-size="5.6" text-anchor="end" fill="#333">−4</text>
<line x1="390.4" y1="390" x2="390.4" y2="418.6" stroke="#333" stroke-width="0.4"/>
<polygon points="390.40,388.90 391.05,390.40 389.75,390.40" fill="#333"/>
<polygon points="390.40,419.60 389.75,418.10 391.05,418.10" fill="#333"/>
<text x="392.8" y="392.3" font-size="4.0" fill="#333">4 WPI</text>
<text x="392.8" y="396.6" font-size="4.0" fill="#333">higher</text>
<text x="392.8" y="412.5" font-size="4.0" fill="#333">0 WPI</text>
<text x="392.8" y="416.8" font-size="4.0" fill="#333">higher</text>
<text x="409.7" y="379.1" font-size="5.6" fill="#222">Nhood size</text>
<circle cx="414.1" cy="385.8" r="1.5" fill="none" stroke="#444" stroke-width="0.35"/>
<text x="422" y="387.6" font-size="4.9" fill="#333">100</text>
<circle cx="414.1" cy="391.6" r="2.3" fill="none" stroke="#444" stroke-width="0.35"/>
<text x="422" y="393.40000000000003" font-size="4.9" fill="#333">150</text>
<circle cx="414.1" cy="398.6" r="2.8" fill="none" stroke="#444" stroke-width="0.35"/>
<text x="422" y="400.40000000000003" font-size="4.9" fill="#333">200</text>
<circle cx="414.1" cy="406.4" r="3.3" fill="none" stroke="#444" stroke-width="0.35"/>
<text x="422" y="408.2" font-size="4.9" fill="#333">250</text>
<circle cx="414.1" cy="415.5" r="3.7" fill="none" stroke="#444" stroke-width="0.35"/>
<text x="422" y="417.3" font-size="4.9" fill="#333">300</text>
<text x="481.7" y="310.5" font-size="8.6" text-anchor="middle" fill="#111">CRTH2</text>
<line x1="453" y1="311" x2="453" y2="366" stroke="#efefef" stroke-width="0.4"/>
<line x1="467" y1="311" x2="467" y2="366" stroke="#efefef" stroke-width="0.4"/>
<line x1="481" y1="311" x2="481" y2="366" stroke="#efefef" stroke-width="0.4"/>
<line x1="495" y1="311" x2="495" y2="366" stroke="#efefef" stroke-width="0.4"/>
<line x1="444" y1="318" x2="508" y2="318" stroke="#efefef" stroke-width="0.4"/>
<line x1="444" y1="333" x2="508" y2="333" stroke="#efefef" stroke-width="0.4"/>
<line x1="444" y1="348" x2="508" y2="348" stroke="#efefef" stroke-width="0.4"/>
<line x1="444" y1="360" x2="508" y2="360" stroke="#efefef" stroke-width="0.4"/>
<path fill="#fdae61" d="M485 314.5h1.1v1.1h-1.1zm2.7-.7h1.1v1.1h-1.1zm.1-.3h1.1v1.1h-1.1zm1.6 .2h1.1v1.1h-1.1zm2.7-.2h1.1v1.1h-1.1zm.3 .5h1.1v1.1h-1.1zm1.5 .2h1.1v1.1h-1.1zm1.5-.7h1.1v1.1h-1.1zm5 .8h1.1v1.1h-1.1zm-12.1 .9h1.1v1.1h-1.1zm1.6-.5h1.1v1.1h-1.1zm.7 .1h1.1v1.1h-1.1zm.1 .5h1.1v1.1h-1.1zm1.8-.1h1.1v1.1h-1.1zm2.2-.1h1.1v1.1h-1.1zm2.3-.1h1.1v1.1h-1.1zm6.1 0h1.1v1.1h-1.1zm-10.2 1h1.1v1.1h-1.1zm1.2 .5h1.1v1.1h-1.1zm.2 0h1.1v1.1h-1.1zm.4-.4h1.1v1.1h-1.1zm.6-.2h1.1v1.1h-1.1zm1.2-.3h1.1v1.1h-1.1zm.5 .8h1.1v1.1h-1.1zm1.9-.5h1.1v1.1h-1.1zm2.5 .3h1.1v1.1h-1.1zm-33.9 .9h1.1v1.1h-1.1zm2.9-.1h1.1v1.1h-1.1zm16.6 0h1.1v1.1h-1.1zm.6 .3h1.1v1.1h-1.1zm2.4-.7h1.1v1.1h-1.1zm3.3 .3h1.1v1.1h-1.1zm.7 .1h1.1v1.1h-1.1zm.4-.3h1.1v1.1h-1.1zm.4-.1h1.1v1.1h-1.1zm4 0h1.1v1.1h-1.1zm0 .4h1.1v1.1h-1.1zm7.1 .1h1.1v1.1h-1.1zm-45.5 1.1h1.1v1.1h-1.1zm3.4-.2h1.1v1.1h-1.1zm8.3 .1h1.1v1.1h-1.1zm0 0h1.1v1.1h-1.1zm13.4 0h1.1v1.1h-1.1zm3.3 0h1.1v1.1h-1.1zm1.9-.1h1.1v1.1h-1.1zm.2 .4h1.1v1.1h-1.1zm2.8-.9h1.1v1.1h-1.1zm.6 .6h1.1v1.1h-1.1zm0 .1h1.1v1.1h-1.1zm.2 0h1.1v1.1h-1.1zm.1-.1h1.1v1.1h-1.1zm.3 .2h1.1v1.1h-1.1zm.3-.6h1.1v1.1h-1.1zm.8 .2h1.1v1.1h-1.1zm.2 .5h1.1v1.1h-1.1zm.9-.6h1.1v1.1h-1.1zm.1-.2h1.1v1.1h-1.1zm1.6 .4h1.1v1.1h-1.1zm1.4 .3h1.1v1.1h-1.1zm1.7-.8h1.1v1.1h-1.1zm-17.7 1.8h1.1v1.1h-1.1zm.3-.3h1.1v1.1h-1.1zm6-.2h1.1v1.1h-1.1zm.2-.1h1.1v1.1h-1.1zm1 .2h1.1v1.1h-1.1zm.7-.3h1.1v1.1h-1.1zm.7 .2h1.1v1.1h-1.1zm2.2 .2h1.1v1.1h-1.1zm1.8-.3h1.1v1.1h-1.1zm-31.6 1.8h1.1v1.1h-1.1zm5.7-.6h1.1v1.1h-1.1zm.8-.1h1.1v1.1h-1.1zm11 .1h1.1v1.1h-1.1zm2.8 .3h1.1v1.1h-1.1zm.7-.1h1.1v1.1h-1.1zm3.3-.6h1.1v1.1h-1.1zm.2 .9h1.1v1.1h-1.1zm.3-.7h1.1v1.1h-1.1zm.7 .7h1.1v1.1h-1.1zm0-.1h1.1v1.1h-1.1zm1-.2h1.1v1.1h-1.1zm1-.4h1.1v1.1h-1.1zm.4-.2h1.1v1.1h-1.1zm.9 .2h1.1v1.1h-1.1zm.6-.1h1.1v1.1h-1.1zm1.4 .2h1.1v1.1h-1.1zm1.9-.3h1.1v1.1h-1.1zm0 .4h1.1v1.1h-1.1zm2 .5h1.1v1.1h-1.1zm.4-.3h1.1v1.1h-1.1zm1.4 0h1.1v1.1h-1.1zm-37.9 1.1h1.1v1.1h-1.1zm7.2 0h1.1v1.1h-1.1zm12.4 0h1.1v1.1h-1.1zm4.9-.1h1.1v1.1h-1.1zm2.7-.4h1.1v1.1h-1.1zm3.1 .2h1.1v1.1h-1.1zm.3-.1h1.1v1.1h-1.1zm2.2 0h1.1v1.1h-1.1zm2.4 .1h1.1v1.1h-1.1zm.6 0h1.1v1.1h-1.1zm1.6-.3h1.1v1.1h-1.1zm.6 .6h1.1v1.1h-1.1zm3-.6h1.1v1.1h-1.1zm-44.6 1.9h1.1v1.1h-1.1zm5.5-.9h1.1v1.1h-1.1zm5 .9h1.1v1.1h-1.1zm19.3-.5h1.1v1.1h-1.1zm.1-.1h1.1v1.1h-1.1zm.5-.3h1.1v1.1h-1.1zm0 .1h1.1v1.1h-1.1zm2.5 0h1.1v1.1h-1.1zm2.2-.2h1.1v1.1h-1.1zm.3 .5h1.1v1.1h-1.1zm1.4-.3h1.1v1.1h-1.1zm1 .6h1.1v1.1h-1.1zm2.3-.1h1.1v1.1h-1.1zm-37.6 1h1.1v1.1h-1.1zm.3-.5h1.1v1.1h-1.1zm7.8 .6h1.1v1.1h-1.1zm.8 0h1.1v1.1h-1.1zm0-.3h1.1v1.1h-1.1zm5.6 .4h1.1v1.1h-1.1zm11.2-.8h1.1v1.1h-1.1zm4 .2h1.1v1.1h-1.1zm.8-.2h1.1v1.1h-1.1zm1.4 .6h1.1v1.1h-1.1zm.9-.4h1.1v1.1h-1.1zm.6-.2h1.1v1.1h-1.1zm1.9 .4h1.1v1.1h-1.1zm3.4-.4h1.1v1.1h-1.1zm-43.1 .9h1.1v1.1h-1.1zm4.2 .1h1.1v1.1h-1.1zm2.8 0h1.1v1.1h-1.1zm.6 .3h1.1v1.1h-1.1zm7-.2h1.1v1.1h-1.1zm17 .5h1.1v1.1h-1.1zm1.6-.3h1.1v1.1h-1.1zm1.3-.3h1.1v1.1h-1.1zm1.5 .4h1.1v1.1h-1.1zm1.9 .3h1.1v1.1h-1.1zm.8 .1h1.1v1.1h-1.1zm.8-.1h1.1v1.1h-1.1zm-39.7 .5h1.1v1.1h-1.1zm3.2 .6h1.1v1.1h-1.1zm.2-.8h1.1v1.1h-1.1zm1.6 .3h1.1v1.1h-1.1zm2.6 .4h1.1v1.1h-1.1zm4.1-.7h1.1v1.1h-1.1zm2.2 0h1.1v1.1h-1.1zm10.3 0h1.1v1.1h-1.1zm8.3 0h1.1v1.1h-1.1zm.5 .3h1.1v1.1h-1.1zm7.9-.2h1.1v1.1h-1.1zm-40.6 1h1.1v1.1h-1.1zm5.7 .8h1.1v1.1h-1.1zm2.2-.2h1.1v1.1h-1.1zm.8-.2h1.1v1.1h-1.1zm.2-.4h1.1v1.1h-1.1zm.9 0h1.1v1.1h-1.1zm5.3-.2h1.1v1.1h-1.1zm1.4 .6h1.1v1.1h-1.1zm7.2-.5h1.1v1.1h-1.1zm4.7 .5h1.1v1.1h-1.1zm6.3 .1h1.1v1.1h-1.1zm3.9 .2h1.1v1.1h-1.1zm.1-.6h1.1v1.1h-1.1zm.6 .5h1.1v1.1h-1.1zm3.7-.5h1.1v1.1h-1.1zm-44.9 .8h1.1v1.1h-1.1zm5.4 .8h1.1v1.1h-1.1zm.3-.5h1.1v1.1h-1.1zm3.1 .4h1.1v1.1h-1.1zm1.6-.7h1.1v1.1h-1.1zm.3 .5h1.1v1.1h-1.1zm2.8-.2h1.1v1.1h-1.1zm.7-.2h1.1v1.1h-1.1zm.1 .2h1.1v1.1h-1.1zm11-.3h1.1v1.1h-1.1zm1.7 .5h1.1v1.1h-1.1zm.4-.5h1.1v1.1h-1.1zm7.5 .6h1.1v1.1h-1.1zm2.9-.5h1.1v1.1h-1.1zm.4 .3h1.1v1.1h-1.1zm2.3 .3h1.1v1.1h-1.1zm7.4-.1h1.1v1.1h-1.1zm-43.6 1.1h1.1v1.1h-1.1zm.8 .1h1.1v1.1h-1.1zm1-.6h1.1v1.1h-1.1zm2.5 .2h1.1v1.1h-1.1zm1.6 .5h1.1v1.1h-1.1zm.3-.3h1.1v1.1h-1.1zm2.6-.3h1.1v1.1h-1.1zm.7-.1h1.1v1.1h-1.1zm1.1 .1h1.1v1.1h-1.1zm.3 .5h1.1v1.1h-1.1zm11.7-.6h1.1v1.1h-1.1zm.6-.2h1.1v1.1h-1.1zm2.8 .9h1.1v1.1h-1.1zm.9-.8h1.1v1.1h-1.1zm9.7 .3h1.1v1.1h-1.1zm2-.1h1.1v1.1h-1.1zm.4-.1h1.1v1.1h-1.1zm.1 0h1.1v1.1h-1.1zm-30.5 1.3h1.1v1.1h-1.1zm0-.5h1.1v1.1h-1.1zm.7 .1h1.1v1.1h-1.1zm.1 .3h1.1v1.1h-1.1zm.5 .4h1.1v1.1h-1.1zm.1-.2h1.1v1.1h-1.1zm5.9-.2h1.1v1.1h-1.1zm8.7-.4h1.1v1.1h-1.1zm3.8 .8h1.1v1.1h-1.1zm7.5-.2h1.1v1.1h-1.1zm2.7-.2h1.1v1.1h-1.1zm1-.4h1.1v1.1h-1.1zm-42.5 1.2h1.1v1.1h-1.1zm6.7-.1h1.1v1.1h-1.1zm.1-.2h1.1v1.1h-1.1zm.6 .5h1.1v1.1h-1.1zm.3 .5h1.1v1.1h-1.1zm3-.5h1.1v1.1h-1.1zm2.2-.1h1.1v1.1h-1.1zm1.4 .5h1.1v1.1h-1.1zm.2-.2h1.1v1.1h-1.1zm.5-.6h1.1v1.1h-1.1zm2.7 .6h1.1v1.1h-1.1zm4-.5h1.1v1.1h-1.1zm1.6 0h1.1v1.1h-1.1zm12.5 .1h1.1v1.1h-1.1zm4.6 .4h1.1v1.1h-1.1zm1.2-.3h1.1v1.1h-1.1zm.8 .2h1.1v1.1h-1.1zm-37.6 1.3h1.1v1.1h-1.1zm3.4-.2h1.1v1.1h-1.1zm0 .1h1.1v1.1h-1.1zm.5-.3h1.1v1.1h-1.1zm.4 .4h1.1v1.1h-1.1zm1.5-.6h1.1v1.1h-1.1zm.7 0h1.1v1.1h-1.1zm2.2 .2h1.1v1.1h-1.1zm.6-.4h1.1v1.1h-1.1zm4.6 .6h1.1v1.1h-1.1zm1.4-.5h1.1v1.1h-1.1zm7.9 0h1.1v1.1h-1.1zm13.5 .7h1.1v1.1h-1.1zm-33 1.1h1.1v1.1h-1.1zm5.7-.9h1.1v1.1h-1.1zm.8 .9h1.1v1.1h-1.1zm.6-.7h1.1v1.1h-1.1zm4 .2h1.1v1.1h-1.1zm1.3 0h1.1v1.1h-1.1zm-9.9 1h1.1v1.1h-1.1zm3.2 .1h1.1v1.1h-1.1zm.2-.2h1.1v1.1h-1.1zm27.3 .5h1.1v1.1h-1.1zm-40 1h1.1v1.1h-1.1zm3.1-.8h1.1v1.1h-1.1zm4.9 .3h1.1v1.1h-1.1zm2.4 .4h1.1v1.1h-1.1zm1.3 0h1.1v1.1h-1.1zm.4-.5h1.1v1.1h-1.1zm2.5 0h1.1v1.1h-1.1zm4.3 .5h1.1v1.1h-1.1zm18.8-.1h1.1v1.1h-1.1zm8.1-.1h1.1v1.1h-1.1zm-40.7 1.2h1.1v1.1h-1.1zm3.8-.5h1.1v1.1h-1.1zm4 .4h1.1v1.1h-1.1zm5.3-.1h1.1v1.1h-1.1zm1.2 .1h1.1v1.1h-1.1zm5.9 .2h1.1v1.1h-1.1zm5.7 0h1.1v1.1h-1.1zm2.9-.1h1.1v1.1h-1.1zm4.3-.1h1.1v1.1h-1.1zm.8 .1h1.1v1.1h-1.1zm2.9-.1h1.1v1.1h-1.1zm1.4-.3h1.1v1.1h-1.1zm-5.6 .9h1.1v1.1h-1.1zm3.1 .7h1.1v1.1h-1.1zm.3-.3h1.1v1.1h-1.1zm1 .3h1.1v1.1h-1.1zm1.2-1h1.1v1.1h-1.1zm2.2 .4h1.1v1.1h-1.1zm-44.4 1.1h1.1v1.1h-1.1zm4.5 .2h1.1v1.1h-1.1zm.3-.1h1.1v1.1h-1.1zm6.9-.3h1.1v1.1h-1.1zm.3-.2h1.1v1.1h-1.1zm5.3 .5h1.1v1.1h-1.1zm2.8-.5h1.1v1.1h-1.1zm3.9 .1h1.1v1.1h-1.1zm6-.1h1.1v1.1h-1.1zm5.3 .6h1.1v1.1h-1.1zm2 .1h1.1v1.1h-1.1zm2 0h1.1v1.1h-1.1zm1.1 0h1.1v1.1h-1.1zm1.7-.2h1.1v1.1h-1.1zm-23.9 .8h1.1v1.1h-1.1zm18.6 .6h1.1v1.1h-1.1zm1.3-.6h1.1v1.1h-1.1zm5.1 .5h1.1v1.1h-1.1zm.7-.7h1.1v1.1h-1.1zm-8 .9h1.1v1.1h-1.1zm.7 .2h1.1v1.1h-1.1zm5 0h1.1v1.1h-1.1zm1.1 .6h1.1v1.1h-1.1zm.4 0h1.1v1.1h-1.1zm.6-.6h1.1v1.1h-1.1zm-8.5 1.3h1.1v1.1h-1.1zm1.6 .2h1.1v1.1h-1.1zm2.3-.4h1.1v1.1h-1.1zm4.4-.4h1.1v1.1h-1.1zm-29.8 1.5h1.1v1.1h-1.1zm25 .5h1.1v1.1h-1.1zm1.7 .2h1.1v1.1h-1.1z"/>
<path fill="#d73027" d="M492.8 314.1h1.1v1.1h-1.1zm2.4 .4h1.1v1.1h-1.1zm-11.7 .4h1.1v1.1h-1.1zm7.8 .1h1.1v1.1h-1.1zm7.9-.1h1.1v1.1h-1.1zm1.5 .1h1.1v1.1h-1.1zm.9-.1h1.1v1.1h-1.1zm-12.4 1.5h1.1v1.1h-1.1zm6.5-.4h1.1v1.1h-1.1zm2.4-.2h1.1v1.1h-1.1zm.3 0h1.1v1.1h-1.1zm2.8 .1h1.1v1.1h-1.1zm-16.1 1h1.1v1.1h-1.1zm3.8-.1h1.1v1.1h-1.1zm3.9 .1h1.1v1.1h-1.1zm4.2 .1h1.1v1.1h-1.1zm2.2 .4h1.1v1.1h-1.1zm.6-.3h1.1v1.1h-1.1zm-39.8 1.3h1.1v1.1h-1.1zm26.6-.2h1.1v1.1h-1.1zm1.9-.1h1.1v1.1h-1.1zm3.2-.1h1.1v1.1h-1.1zm1.4 .5h1.1v1.1h-1.1zm.3-.7h1.1v1.1h-1.1zm.9 .5h1.1v1.1h-1.1zm.7 .2h1.1v1.1h-1.1zm.2-.2h1.1v1.1h-1.1zm1.9-.4h1.1v1.1h-1.1zm-10.1 .9h1.1v1.1h-1.1zm1.9 .4h1.1v1.1h-1.1zm3-.2h1.1v1.1h-1.1zm.7 .3h1.1v1.1h-1.1zm3-.5h1.1v1.1h-1.1zm-24.6 1.7h1.1v1.1h-1.1zm.3 0h1.1v1.1h-1.1zm14.3-.4h1.1v1.1h-1.1zm.8 .1h1.1v1.1h-1.1zm.1-.3h1.1v1.1h-1.1zm1.9-.3h1.1v1.1h-1.1zm.4 .9h1.1v1.1h-1.1zm2-.7h1.1v1.1h-1.1zm7.4 .3h1.1v1.1h-1.1zm.5-.4h1.1v1.1h-1.1zm1.2 .4h1.1v1.1h-1.1zm1.6 .3h1.1v1.1h-1.1zm-14.2 .5h1.1v1.1h-1.1zm3.8-.2h1.1v1.1h-1.1zm2.2 .3h1.1v1.1h-1.1zm3.8 .3h1.1v1.1h-1.1zm-36.7 .8h1.1v1.1h-1.1zm9.7-.5h1.1v1.1h-1.1zm1.9 .4h1.1v1.1h-1.1zm14.5 .2h1.1v1.1h-1.1zm.3-.5h1.1v1.1h-1.1zm1.5 .8h1.1v1.1h-1.1zm1.6-.2h1.1v1.1h-1.1zm5.9 .2h1.1v1.1h-1.1zm1.4-.3h1.1v1.1h-1.1zm1.4-.4h1.1v1.1h-1.1zm-36.5 1.1h1.1v1.1h-1.1zm4.5-.1h1.1v1.1h-1.1zm19.3-.1h1.1v1.1h-1.1zm5.4-.1h1.1v1.1h-1.1zm1.1 .7h1.1v1.1h-1.1zm9-.4h1.1v1.1h-1.1zm-45.2 1.6h1.1v1.1h-1.1zm36.7-.3h1.1v1.1h-1.1zm.3-.5h1.1v1.1h-1.1zm2.8 .5h1.1v1.1h-1.1zm.1-.5h1.1v1.1h-1.1zm1.7 .7h1.1v1.1h-1.1zm.5-.6h1.1v1.1h-1.1zm-35.2 .8h1.1v1.1h-1.1zm31.7 0h1.1v1.1h-1.1zm-23 .9h1.1v1.1h-1.1zm10.6 .2h1.1v1.1h-1.1zm5.2 .4h1.1v1.1h-1.1zm4.5 .1h1.1v1.1h-1.1zm5.3 0h1.1v1.1h-1.1zm.9-.4h1.1v1.1h-1.1zm.7 .2h1.1v1.1h-1.1zm3.1 .1h1.1v1.1h-1.1zm-41.5 .6h1.1v1.1h-1.1zm11.5 .7h1.1v1.1h-1.1zm.2 0h1.1v1.1h-1.1zm16.8-.2h1.1v1.1h-1.1zm-18.2 1.1h1.1v1.1h-1.1zm0-.6h1.1v1.1h-1.1zm.5 .8h1.1v1.1h-1.1zm1.6-1h1.1v1.1h-1.1zm22.8 .7h1.1v1.1h-1.1zm3.7-.4h1.1v1.1h-1.1zm-7 1h1.1v1.1h-1.1zm2.3 0h1.1v1.1h-1.1zm5.3 .4h1.1v1.1h-1.1zm1 .2h1.1v1.1h-1.1zm-19.6 .3h1.1v1.1h-1.1zm-10.9 1.3h1.1v1.1h-1.1zm1.3-.3h1.1v1.1h-1.1zm1.7 0h1.1v1.1h-1.1zm20.8 .7h1.1v1.1h-1.1zm4.6-.6h1.1v1.1h-1.1zm-25.8 1.1h1.1v1.1h-1.1zm5.1 3.2h1.1v1.1h-1.1zm.8-.4h1.1v1.1h-1.1zm19.9 .1h1.1v1.1h-1.1zm.5 .2h1.1v1.1h-1.1zm1.1-.3h1.1v1.1h-1.1zm3.5 .5h1.1v1.1h-1.1zm-25.8 1.1h1.1v1.1h-1.1zm20.8-.1h1.1v1.1h-1.1zm1.2-.3h1.1v1.1h-1.1zm.1 0h1.1v1.1h-1.1zm5 .3h1.1v1.1h-1.1zm-4.4 .6h1.1v1.1h-1.1zm.9 .4h1.1v1.1h-1.1zm.3-.2h1.1v1.1h-1.1zm1.5-.3h1.1v1.1h-1.1zm1.7 .8h1.1v1.1h-1.1zm-33.3 1.2h1.1v1.1h-1.1zm26.3 .4h1.1v1.1h-1.1zm1.9-.3h1.1v1.1h-1.1zm1.1 .4h1.1v1.1h-1.1zm3.2 .5h1.1v1.1h-1.1zm-2.7 .9h1.1v1.1h-1.1zm-26.4 1.6h1.1v1.1h-1.1zm.3 .5h1.1v1.1h-1.1z"/>
<path fill="#f46d43" d="M487.9 313.4h1.1v1.1h-1.1zm1.1 1.1h1.1v1.1h-1.1zm7.6-.8h1.1v1.1h-1.1zm.3-.2h1.1v1.1h-1.1zm-24.9 1.9h1.1v1.1h-1.1zm21.1-.7h1.1v1.1h-1.1zm1.5 .7h1.1v1.1h-1.1zm.1 0h1.1v1.1h-1.1zm0-.6h1.1v1.1h-1.1zm1.4 .1h1.1v1.1h-1.1zm1.2 .4h1.1v1.1h-1.1zm0-.5h1.1v1.1h-1.1zm-6.9 1.7h1.1v1.1h-1.1zm3.4-.1h1.1v1.1h-1.1zm.7-.6h1.1v1.1h-1.1zm.3 .2h1.1v1.1h-1.1zm.5 .4h1.1v1.1h-1.1zm.2-.7h1.1v1.1h-1.1zm1.4 .4h1.1v1.1h-1.1zm3.4-.2h1.1v1.1h-1.1zm-11.2 .8h1.1v1.1h-1.1zm3.8 0h1.1v1.1h-1.1zm.4 .6h1.1v1.1h-1.1zm.2-.1h1.1v1.1h-1.1zm.5-.2h1.1v1.1h-1.1zm1.9 .3h1.1v1.1h-1.1zm2.4 0h1.1v1.1h-1.1zm1.3-.6h1.1v1.1h-1.1zm2 .2h1.1v1.1h-1.1zm-44.2 .7h1.1v1.1h-1.1zm29.3 .1h1.1v1.1h-1.1zm.1 0h1.1v1.1h-1.1zm1.4 0h1.1v1.1h-1.1zm3 .8h1.1v1.1h-1.1zm0-.1h1.1v1.1h-1.1zm2-.8h1.1v1.1h-1.1zm.8 .8h1.1v1.1h-1.1zm1-.7h1.1v1.1h-1.1zm.2 .3h1.1v1.1h-1.1zm1.2-.3h1.1v1.1h-1.1zm.1 .3h1.1v1.1h-1.1zm2.6-.1h1.1v1.1h-1.1zm.2 .2h1.1v1.1h-1.1zm.1 0h1.1v1.1h-1.1zm.1-.3h1.1v1.1h-1.1zm-37 1.3h1.1v1.1h-1.1zm.2 0h1.1v1.1h-1.1zm7.3 .1h1.1v1.1h-1.1zm2.4 .2h1.1v1.1h-1.1zm13.4-.2h1.1v1.1h-1.1zm1.6-.5h1.1v1.1h-1.1zm2.9 .4h1.1v1.1h-1.1zm.7-.5h1.1v1.1h-1.1zm.6 0h1.1v1.1h-1.1zm1.5 .6h1.1v1.1h-1.1zm1.1 .2h1.1v1.1h-1.1zm.4-.7h1.1v1.1h-1.1zm.3-.1h1.1v1.1h-1.1zm.3 .4h1.1v1.1h-1.1zm.1 .3h1.1v1.1h-1.1zm.6-.2h1.1v1.1h-1.1zm.6 .1h1.1v1.1h-1.1zm.6 .1h1.1v1.1h-1.1zm1.8-.2h1.1v1.1h-1.1zm.1-.5h1.1v1.1h-1.1zm-36.8 1.8h1.1v1.1h-1.1zm.3-.7h1.1v1.1h-1.1zm8.5 .4h1.1v1.1h-1.1zm.1 0h1.1v1.1h-1.1zm15.2-.3h1.1v1.1h-1.1zm.5 .3h1.1v1.1h-1.1zm1-.2h1.1v1.1h-1.1zm1.8 0h1.1v1.1h-1.1zm.5-.4h1.1v1.1h-1.1zm3.4 .9h1.1v1.1h-1.1zm.3-.6h1.1v1.1h-1.1zm1.2-.2h1.1v1.1h-1.1zm1.6 .9h1.1v1.1h-1.1zm.8-.8h1.1v1.1h-1.1zm1.8 .3h1.1v1.1h-1.1zm-40.9 1.1h1.1v1.1h-1.1zm8.4-.3h1.1v1.1h-1.1zm6.1 .2h1.1v1.1h-1.1zm17.3 .4h1.1v1.1h-1.1zm3.4 0h1.1v1.1h-1.1zm.1-.4h1.1v1.1h-1.1zm.9-.3h1.1v1.1h-1.1zm.9-.1h1.1v1.1h-1.1zm.2 .2h1.1v1.1h-1.1zm1.2-.2h1.1v1.1h-1.1zm2 .3h1.1v1.1h-1.1zm.9 .5h1.1v1.1h-1.1zm-41.4 .1h1.1v1.1h-1.1zm1.3 .7h1.1v1.1h-1.1zm6.8-.3h1.1v1.1h-1.1zm6 .3h1.1v1.1h-1.1zm1.2-.4h1.1v1.1h-1.1zm12.3-.1h1.1v1.1h-1.1zm3.4 0h1.1v1.1h-1.1zm.3 .5h1.1v1.1h-1.1zm.6-.2h1.1v1.1h-1.1zm1.6-.4h1.1v1.1h-1.1zm1.8 0h1.1v1.1h-1.1zm2.9 .8h1.1v1.1h-1.1zm.4-.1h1.1v1.1h-1.1zm1.2-.8h1.1v1.1h-1.1zm.5 .2h1.1v1.1h-1.1zm.7 .6h1.1v1.1h-1.1zm3.2-.5h1.1v1.1h-1.1zm-40.8 1h1.1v1.1h-1.1zm.2 .2h1.1v1.1h-1.1zm5.1 .4h1.1v1.1h-1.1zm3.4-.4h1.1v1.1h-1.1zm12.4 .1h1.1v1.1h-1.1zm2.3-.2h1.1v1.1h-1.1zm3.3 .2h1.1v1.1h-1.1zm2.9 .2h1.1v1.1h-1.1zm6.9-.7h1.1v1.1h-1.1zm4.3 .2h1.1v1.1h-1.1zm-45.6 1h1.1v1.1h-1.1zm3.2 0h1.1v1.1h-1.1zm.2 .5h1.1v1.1h-1.1zm2.2 0h1.1v1.1h-1.1zm3.1 .2h1.1v1.1h-1.1zm3.7-.9h1.1v1.1h-1.1zm1.1 .5h1.1v1.1h-1.1zm.5 .4h1.1v1.1h-1.1zm.5-.4h1.1v1.1h-1.1zm.1 .1h1.1v1.1h-1.1zm10.4 .2h1.1v1.1h-1.1zm.7-.9h1.1v1.1h-1.1zm4.6 .5h1.1v1.1h-1.1zm5.5-.5h1.1v1.1h-1.1zm2.1 .4h1.1v1.1h-1.1zm0 .1h1.1v1.1h-1.1zm3.6 .5h1.1v1.1h-1.1zm2.3-.9h1.1v1.1h-1.1zm-42.2 1.5h1.1v1.1h-1.1zm1.7 .1h1.1v1.1h-1.1zm12 .2h1.1v1.1h-1.1zm.8 0h1.1v1.1h-1.1zm6.1-.8h1.1v1.1h-1.1zm11.7 .3h1.1v1.1h-1.1zm6.5-.1h1.1v1.1h-1.1zm-35 1.2h1.1v1.1h-1.1zm3.1 .3h1.1v1.1h-1.1zm1.9-.2h1.1v1.1h-1.1zm2.3 .4h1.1v1.1h-1.1zm1.4-.3h1.1v1.1h-1.1zm.9 0h1.1v1.1h-1.1zm.4-.3h1.1v1.1h-1.1zm.8 .6h1.1v1.1h-1.1zm21.6-.3h1.1v1.1h-1.1zm2.7-.1h1.1v1.1h-1.1zm.8 0h1.1v1.1h-1.1zm1.6-.1h1.1v1.1h-1.1zm.7 0h1.1v1.1h-1.1zm.7 .2h1.1v1.1h-1.1zm-41.8 1h1.1v1.1h-1.1zm2.7 0h1.1v1.1h-1.1zm1.2-.6h1.1v1.1h-1.1zm.6 .3h1.1v1.1h-1.1zm.9 0h1.1v1.1h-1.1zm.5 .2h1.1v1.1h-1.1zm.7 0h1.1v1.1h-1.1zm.6-.2h1.1v1.1h-1.1zm5.6 .2h1.1v1.1h-1.1zm.8-.3h1.1v1.1h-1.1zm6.2 .5h1.1v1.1h-1.1zm14.7 0h1.1v1.1h-1.1zm2.9-.4h1.1v1.1h-1.1zm.2 .3h1.1v1.1h-1.1zm1.3-.1h1.1v1.1h-1.1zm.4-.4h1.1v1.1h-1.1zm1.6 .3h1.1v1.1h-1.1zm1.2 .1h1.1v1.1h-1.1zm-39.8 1.4h1.1v1.1h-1.1zm2.4-1h1.1v1.1h-1.1zm.8 1h1.1v1.1h-1.1zm9.3 0h1.1v1.1h-1.1zm2-.2h1.1v1.1h-1.1zm.6-.3h1.1v1.1h-1.1zm2.6 .4h1.1v1.1h-1.1zm5.6-.4h1.1v1.1h-1.1zm10.2-.3h1.1v1.1h-1.1zm.5 .6h1.1v1.1h-1.1zm2.1-.3h1.1v1.1h-1.1zm.9-.5h1.1v1.1h-1.1zm4.8 .6h1.1v1.1h-1.1zm-45.1 .9h1.1v1.1h-1.1zm.4-.1h1.1v1.1h-1.1zm1.7-.2h1.1v1.1h-1.1zm1.3 .2h1.1v1.1h-1.1zm.5 .2h1.1v1.1h-1.1zm4.2-.2h1.1v1.1h-1.1zm3.4-.2h1.1v1.1h-1.1zm3.3 .3h1.1v1.1h-1.1zm.4 .1h1.1v1.1h-1.1zm3.6-.2h1.1v1.1h-1.1zm7.3-.2h1.1v1.1h-1.1zm3-.1h1.1v1.1h-1.1zm2.3 .5h1.1v1.1h-1.1zm4.1-.3h1.1v1.1h-1.1zm-26.3 .9h1.1v1.1h-1.1zm.6-.1h1.1v1.1h-1.1zm9.9 0h1.1v1.1h-1.1zm.6 .8h1.1v1.1h-1.1zm9.7-.1h1.1v1.1h-1.1zm4.1-.3h1.1v1.1h-1.1zm6.3-.2h1.1v1.1h-1.1zm.9-.1h1.1v1.1h-1.1zm1-.1h1.1v1.1h-1.1zm-39.4 1.1h1.1v1.1h-1.1zm6.6 0h1.1v1.1h-1.1zm.4 .3h1.1v1.1h-1.1zm3.3 .4h1.1v1.1h-1.1zm4.7-.3h1.1v1.1h-1.1zm3.7-.5h1.1v1.1h-1.1zm.1 .8h1.1v1.1h-1.1zm5.5-.8h1.1v1.1h-1.1zm9.5 .1h1.1v1.1h-1.1zm1.3-.1h1.1v1.1h-1.1zm5.1 .7h1.1v1.1h-1.1zm-30.4 .6h1.1v1.1h-1.1zm4.2 .2h1.1v1.1h-1.1zm1-.1h1.1v1.1h-1.1zm2.2-.4h1.1v1.1h-1.1zm9.6 .3h1.1v1.1h-1.1zm7 .4h1.1v1.1h-1.1zm4.5 .1h1.1v1.1h-1.1zm.7-.5h1.1v1.1h-1.1zm1.2-.4h1.1v1.1h-1.1zm-32.1 1.2h1.1v1.1h-1.1zm3.8 0h1.1v1.1h-1.1zm4 .1h1.1v1.1h-1.1zm27.6 .3h1.1v1.1h-1.1zm-46.8 1h1.1v1.1h-1.1zm8.3-.3h1.1v1.1h-1.1zm1.3-.3h1.1v1.1h-1.1zm.2 .5h1.1v1.1h-1.1zm.4 .1h1.1v1.1h-1.1zm1.7 .3h1.1v1.1h-1.1zm2.3-.5h1.1v1.1h-1.1zm4.2 .5h1.1v1.1h-1.1zm4-.7h1.1v1.1h-1.1zm6.2 .6h1.1v1.1h-1.1zm-25.7 .3h1.1v1.1h-1.1zm5.2 .2h1.1v1.1h-1.1zm.5 .2h1.1v1.1h-1.1zm7.6-.4h1.1v1.1h-1.1zm2.7 .8h1.1v1.1h-1.1zm.7-.2h1.1v1.1h-1.1zm-5.3 .4h1.1v1.1h-1.1zm3.5 .6h1.1v1.1h-1.1zm11.6 .2h1.1v1.1h-1.1zm12.4-.4h1.1v1.1h-1.1zm1.3 0h1.1v1.1h-1.1zm.4 .5h1.1v1.1h-1.1zm.1-.8h1.1v1.1h-1.1zm1 .2h1.1v1.1h-1.1zm.2-.4h1.1v1.1h-1.1zm.1 .2h1.1v1.1h-1.1zm.5-.1h1.1v1.1h-1.1zm.8 .7h1.1v1.1h-1.1zm-38.7 .4h1.1v1.1h-1.1zm8.9 .3h1.1v1.1h-1.1zm9 .4h1.1v1.1h-1.1zm15.7-.6h1.1v1.1h-1.1zm.4 .2h1.1v1.1h-1.1zm.4-.4h1.1v1.1h-1.1zm2.2 .7h1.1v1.1h-1.1zm.2-.5h1.1v1.1h-1.1zm.5 .5h1.1v1.1h-1.1zm-25.4 .3h1.1v1.1h-1.1zm2.2 .6h1.1v1.1h-1.1zm.2-.3h1.1v1.1h-1.1zm7.4-.2h1.1v1.1h-1.1zm11.8 .2h1.1v1.1h-1.1zm.4 .5h1.1v1.1h-1.1zm1.1 .1h1.1v1.1h-1.1zm.7 0h1.1v1.1h-1.1zm.4-.6h1.1v1.1h-1.1zm0 .5h1.1v1.1h-1.1zm1-.3h1.1v1.1h-1.1zm3.3-.1h1.1v1.1h-1.1zm-16.8 .6h1.1v1.1h-1.1zm8.1 .1h1.1v1.1h-1.1zm.9-.1h1.1v1.1h-1.1zm1 .3h1.1v1.1h-1.1zm2 .1h1.1v1.1h-1.1zm.3 .3h1.1v1.1h-1.1zm3.6 0h1.1v1.1h-1.1zm-27.4 .3h1.1v1.1h-1.1zm23.3-.1h1.1v1.1h-1.1zm.5 .8h1.1v1.1h-1.1zm-1.2 .8h1.1v1.1h-1.1zm.3 0h1.1v1.1h-1.1z"/>
<path fill="#fee090" d="M490.2 313h1.1v1.1h-1.1zm8 0h1.1v1.1h-1.1zm-10.2 .6h1.1v1.1h-1.1zm1.9 .7h1.1v1.1h-1.1zm1.6 .2h1.1v1.1h-1.1zm.3-1h1.1v1.1h-1.1zm3.2 .4h1.1v1.1h-1.1zm5.9-.3h1.1v1.1h-1.1zm4.4 .2h1.1v1.1h-1.1zm-44.8 1.5h1.1v1.1h-1.1zm29.8-.5h1.1v1.1h-1.1zm-20.1 1h1.1v1.1h-1.1zm24.9 0h1.1v1.1h-1.1zm2 .1h1.1v1.1h-1.1zm.2 .5h1.1v1.1h-1.1zm1-.4h1.1v1.1h-1.1zm1.4 .5h1.1v1.1h-1.1zm-8.7 .5h1.1v1.1h-1.1zm2.4 0h1.1v1.1h-1.1zm1.3-.1h1.1v1.1h-1.1zm5.6-.1h1.1v1.1h-1.1zm-36.5 1.7h1.1v1.1h-1.1zm1.6-.5h1.1v1.1h-1.1zm4.1-.3h1.1v1.1h-1.1zm20.6 0h1.1v1.1h-1.1zm2.3-.2h1.1v1.1h-1.1zm3 .4h1.1v1.1h-1.1zm.6-.3h1.1v1.1h-1.1zm.2 .8h1.1v1.1h-1.1zm3.6-.2h1.1v1.1h-1.1zm-41.7 .8h1.1v1.1h-1.1zm14.7 .3h1.1v1.1h-1.1zm20.3 .1h1.1v1.1h-1.1zm2.1 0h1.1v1.1h-1.1zm.5-.4h1.1v1.1h-1.1zm.3-.2h1.1v1.1h-1.1zm.1 .6h1.1v1.1h-1.1zm6.1-.8h1.1v1.1h-1.1zm-38.9 1.6h1.1v1.1h-1.1zm.6-.7h1.1v1.1h-1.1zm6.8 .8h1.1v1.1h-1.1zm1.9-.4h1.1v1.1h-1.1zm13.3 .5h1.1v1.1h-1.1zm3.4-.2h1.1v1.1h-1.1zm1.1-.4h1.1v1.1h-1.1zm1.5-.2h1.1v1.1h-1.1zm.3 .4h1.1v1.1h-1.1zm3 .4h1.1v1.1h-1.1zm.8-.9h1.1v1.1h-1.1zm3.5 .5h1.1v1.1h-1.1zm1.4-.4h1.1v1.1h-1.1zm-35.3 1.5h1.1v1.1h-1.1zm1.6-.3h1.1v1.1h-1.1zm4.5 .2h1.1v1.1h-1.1zm7-.3h1.1v1.1h-1.1zm13.8 .2h1.1v1.1h-1.1zm.1-.2h1.1v1.1h-1.1zm-36 1h1.1v1.1h-1.1zm2.4 .7h1.1v1.1h-1.1zm.6 .1h1.1v1.1h-1.1zm5.9 0h1.1v1.1h-1.1zm4.1-.7h1.1v1.1h-1.1zm1.6 .4h1.1v1.1h-1.1zm2.1-.5h1.1v1.1h-1.1zm7.4 .4h1.1v1.1h-1.1zm5.1 .2h1.1v1.1h-1.1zm2.9-.6h1.1v1.1h-1.1zm1 .4h1.1v1.1h-1.1zm7.4-.4h1.1v1.1h-1.1zm-34.3 1.6h1.1v1.1h-1.1zm.6-.6h1.1v1.1h-1.1zm1.2 .7h1.1v1.1h-1.1zm2.3-.3h1.1v1.1h-1.1zm.1 .3h1.1v1.1h-1.1zm3-.3h1.1v1.1h-1.1zm1-.3h1.1v1.1h-1.1zm12.1-.1h1.1v1.1h-1.1zm3.3 .7h1.1v1.1h-1.1zm.8-.8h1.1v1.1h-1.1zm10.1 .2h1.1v1.1h-1.1zm2.6 .1h1.1v1.1h-1.1zm-39.2 1.3h1.1v1.1h-1.1zm.4 .1h1.1v1.1h-1.1zm.2-.6h1.1v1.1h-1.1zm5.5 .8h1.1v1.1h-1.1zm1-.3h1.1v1.1h-1.1zm.6-.7h1.1v1.1h-1.1zm.9 .5h1.1v1.1h-1.1zm.4-.1h1.1v1.1h-1.1zm8.5 .6h1.1v1.1h-1.1zm1.8-.7h1.1v1.1h-1.1zm1.7 .4h1.1v1.1h-1.1zm8.9-.4h1.1v1.1h-1.1zm.9 0h1.1v1.1h-1.1zm3.6 .3h1.1v1.1h-1.1zm4.1-.4h1.1v1.1h-1.1zm-34.1 1.6h1.1v1.1h-1.1zm1.6-.5h1.1v1.1h-1.1zm.5-.2h1.1v1.1h-1.1zm.7 .6h1.1v1.1h-1.1zm.9-.4h1.1v1.1h-1.1zm16.4-.2h1.1v1.1h-1.1zm1.2 0h1.1v1.1h-1.1zm7.4 0h1.1v1.1h-1.1zm.8 .4h1.1v1.1h-1.1zm-32.9 1.1h1.1v1.1h-1.1zm.2 .4h1.1v1.1h-1.1zm.7-1h1.1v1.1h-1.1zm2.4 .9h1.1v1.1h-1.1zm.7-.6h1.1v1.1h-1.1zm2.8-.2h1.1v1.1h-1.1zm.4 .7h1.1v1.1h-1.1zm2.1-.7h1.1v1.1h-1.1zm1.1-.1h1.1v1.1h-1.1zm.5 1h1.1v1.1h-1.1zm1.5-.6h1.1v1.1h-1.1zm1 .1h1.1v1.1h-1.1zm8.2 .1h1.1v1.1h-1.1zm1.6 .3h1.1v1.1h-1.1zm9.9-.3h1.1v1.1h-1.1zm.2 0h1.1v1.1h-1.1zm-44.8 .7h1.1v1.1h-1.1zm6.1-.2h1.1v1.1h-1.1zm2.1 .5h1.1v1.1h-1.1zm7.6 .2h1.1v1.1h-1.1zm1.9-.7h1.1v1.1h-1.1zm.5 .7h1.1v1.1h-1.1zm1.3-.3h1.1v1.1h-1.1zm.5-.1h1.1v1.1h-1.1zm.8 .4h1.1v1.1h-1.1zm1.7-.4h1.1v1.1h-1.1zm5.3 .2h1.1v1.1h-1.1zm-20.9 1.4h1.1v1.1h-1.1zm4.9-.8h1.1v1.1h-1.1zm2.5 .6h1.1v1.1h-1.1zm.2-.8h1.1v1.1h-1.1zm3 .9h1.1v1.1h-1.1zm1.5-.9h1.1v1.1h-1.1zm.8 .4h1.1v1.1h-1.1zm1.1-.1h1.1v1.1h-1.1zm.4-.3h1.1v1.1h-1.1zm.2 0h1.1v1.1h-1.1zm3 0h1.1v1.1h-1.1zm1 .9h1.1v1.1h-1.1zm.6-.9h1.1v1.1h-1.1zm12.7 .8h1.1v1.1h-1.1zm9.2-.6h1.1v1.1h-1.1zm5.1 .4h1.1v1.1h-1.1zm-41.8 1.1h1.1v1.1h-1.1zm6.7 .2h1.1v1.1h-1.1zm.8-.6h1.1v1.1h-1.1zm.2-.1h1.1v1.1h-1.1zm.3 .4h1.1v1.1h-1.1zm2.7-.1h1.1v1.1h-1.1zm12.6-.2h1.1v1.1h-1.1zm7-.2h1.1v1.1h-1.1zm.1 .3h1.1v1.1h-1.1zm-38.1 1.1h1.1v1.1h-1.1zm.2-.1h1.1v1.1h-1.1zm2.2-.4h1.1v1.1h-1.1zm3.5 .2h1.1v1.1h-1.1zm3.3 .5h1.1v1.1h-1.1zm.4-.4h1.1v1.1h-1.1zm0 0h1.1v1.1h-1.1zm.1 .5h1.1v1.1h-1.1zm.4-.4h1.1v1.1h-1.1zm1.2 .2h1.1v1.1h-1.1zm.8-.6h1.1v1.1h-1.1zm.1 .8h1.1v1.1h-1.1zm2.5-.6h1.1v1.1h-1.1zm.8-.2h1.1v1.1h-1.1zm.9 .3h1.1v1.1h-1.1zm.3 .6h1.1v1.1h-1.1zm2.5 .1h1.1v1.1h-1.1zm.5-.4h1.1v1.1h-1.1zm4-.2h1.1v1.1h-1.1zm7.2 .6h1.1v1.1h-1.1zm3 0h1.1v1.1h-1.1zm.2-.6h1.1v1.1h-1.1zm.8-.4h1.1v1.1h-1.1zm9.8 .2h1.1v1.1h-1.1zm.3 .3h1.1v1.1h-1.1zm3.1 .5h1.1v1.1h-1.1zm-43 .9h1.1v1.1h-1.1zm.6-.7h1.1v1.1h-1.1zm2.4 .1h1.1v1.1h-1.1zm3.1-.1h1.1v1.1h-1.1zm.2-.1h1.1v1.1h-1.1zm2.8 .2h1.1v1.1h-1.1zm.4 .5h1.1v1.1h-1.1zm2-.5h1.1v1.1h-1.1zm.6 .1h1.1v1.1h-1.1zm5.3-.1h1.1v1.1h-1.1zm6.6 0h1.1v1.1h-1.1zm2.6-.2h1.1v1.1h-1.1zm4.2 .8h1.1v1.1h-1.1zm.7 0h1.1v1.1h-1.1zm-37.7 .4h1.1v1.1h-1.1zm8 .7h1.1v1.1h-1.1zm.2-.7h1.1v1.1h-1.1zm3.6-.2h1.1v1.1h-1.1zm.7 .5h1.1v1.1h-1.1zm.7 .2h1.1v1.1h-1.1zm.4 .1h1.1v1.1h-1.1zm1.3-.1h1.1v1.1h-1.1zm.1-.6h1.1v1.1h-1.1zm.3 .4h1.1v1.1h-1.1zm.4 .2h1.1v1.1h-1.1zm.5-.4h1.1v1.1h-1.1zm5.1 .4h1.1v1.1h-1.1zm.5-.3h1.1v1.1h-1.1zm1.6-.1h1.1v1.1h-1.1zm3.3 0h1.1v1.1h-1.1zm3.3 .2h1.1v1.1h-1.1zm3.8-.5h1.1v1.1h-1.1zm.5 .9h1.1v1.1h-1.1zm.9-.8h1.1v1.1h-1.1zm.3 .7h1.1v1.1h-1.1zm0-.4h1.1v1.1h-1.1zm-37.3 1.1h1.1v1.1h-1.1zm7.2 .1h1.1v1.1h-1.1zm7.1-.1h1.1v1.1h-1.1zm7.5-.5h1.1v1.1h-1.1zm22.2 .7h1.1v1.1h-1.1zm8.1-.2h1.1v1.1h-1.1zm-47.4 .6h1.1v1.1h-1.1zm1.2 .2h1.1v1.1h-1.1zm.2 .3h1.1v1.1h-1.1zm3.8-.4h1.1v1.1h-1.1zm.3 0h1.1v1.1h-1.1zm5.1 .3h1.1v1.1h-1.1zm.6 .2h1.1v1.1h-1.1zm.2-.2h1.1v1.1h-1.1zm6.7-.3h1.1v1.1h-1.1zm1.4 .2h1.1v1.1h-1.1zm6.7-.5h1.1v1.1h-1.1zm3.6 .6h1.1v1.1h-1.1zm5.6 0h1.1v1.1h-1.1zm1.5 .1h1.1v1.1h-1.1zm7.3-.1h1.1v1.1h-1.1zm-34.3 .6h1.1v1.1h-1.1zm13.1 .1h1.1v1.1h-1.1zm4.9 0h1.1v1.1h-1.1zm3.5-.2h1.1v1.1h-1.1zm.5 .5h1.1v1.1h-1.1zm2.5-.1h1.1v1.1h-1.1zm-32.3 1.1h1.1v1.1h-1.1zm2.4-.5h1.1v1.1h-1.1zm2.9 .3h1.1v1.1h-1.1zm0-.4h1.1v1.1h-1.1zm1 .6h1.1v1.1h-1.1zm1.8-.2h1.1v1.1h-1.1zm.4 .1h1.1v1.1h-1.1zm.6-.2h1.1v1.1h-1.1zm1.7-.3h1.1v1.1h-1.1zm2.6 1h1.1v1.1h-1.1zm.7-.9h1.1v1.1h-1.1zm2.1 .5h1.1v1.1h-1.1zm.7-.1h1.1v1.1h-1.1zm.9-.3h1.1v1.1h-1.1zm1.6 .1h1.1v1.1h-1.1zm10.7 .2h1.1v1.1h-1.1zm.2-.4h1.1v1.1h-1.1zm3.4 .3h1.1v1.1h-1.1zm6.3-.1h1.1v1.1h-1.1zm2.5 .7h1.1v1.1h-1.1zm.3-.2h1.1v1.1h-1.1zm1 .2h1.1v1.1h-1.1zm1.6-.2h1.1v1.1h-1.1zm-44 .7h1.1v1.1h-1.1zm15.6-.1h1.1v1.1h-1.1zm7.3-.3h1.1v1.1h-1.1zm8 .5h1.1v1.1h-1.1zm5.2-.1h1.1v1.1h-1.1zm5 0h1.1v1.1h-1.1zm2.6-.2h1.1v1.1h-1.1zm.8 .2h1.1v1.1h-1.1zm1.3 .3h1.1v1.1h-1.1zm-27.2 .8h1.1v1.1h-1.1zm.8 0h1.1v1.1h-1.1zm3.7 .3h1.1v1.1h-1.1zm18.4-.7h1.1v1.1h-1.1zm.3-.2h1.1v1.1h-1.1zm1.7 .9h1.1v1.1h-1.1zm.4 0h1.1v1.1h-1.1zm.5-.5h1.1v1.1h-1.1zm1-.1h1.1v1.1h-1.1zm-25.6 1.6h1.1v1.1h-1.1zm2.3-.1h1.1v1.1h-1.1zm18.1-.1h1.1v1.1h-1.1zm3.3 .1h1.1v1.1h-1.1zm-47.8 .4h1.1v1.1h-1.1zm10 0h1.1v1.1h-1.1zm11.6 .3h1.1v1.1h-1.1zm7.6 .3h1.1v1.1h-1.1zm15.8-.2h1.1v1.1h-1.1zm1.7-.1h1.1v1.1h-1.1zm.2-.1h1.1v1.1h-1.1zm-23.8 1.4h1.1v1.1h-1.1zm2.6-.5h1.1v1.1h-1.1zm.5 .5h1.1v1.1h-1.1zm2.3 .1h1.1v1.1h-1.1zm17.9-.4h1.1v1.1h-1.1zm-37.3 1.5h1.1v1.1h-1.1zm16.7 1.7h1.1v1.1h-1.1zm4.1 1h1.1v1.1h-1.1zm5.4-.1h1.1v1.1h-1.1zm-14.9 .5h1.1v1.1h-1.1zm-9.3 4.4h1.1v1.1h-1.1zm.8-.3h1.1v1.1h-1.1zm1.2 .2h1.1v1.1h-1.1zm-2.7 1.5h1.1v1.1h-1.1zm1.5-.3h1.1v1.1h-1.1zm-1.2 1.4h1.1v1.1h-1.1zm4.7-.9h1.1v1.1h-1.1zm0 .4h1.1v1.1h-1.1zm-5.3 1.1h1.1v1.1h-1.1zm2.1 .3h1.1v1.1h-1.1zm2.7-.7h1.1v1.1h-1.1zm-2.7 1.4h1.1v1.1h-1.1zm1.2-.1h1.1v1.1h-1.1zm.1 .1h1.1v1.1h-1.1zm10.5-.1h1.1v1.1h-1.1zm-19.7 1.7h1.1v1.1h-1.1zm39.9 4.1h1.1v1.1h-1.1z"/>
<path fill="#ffffbf" d="M479.3 313.7h1.1v1.1h-1.1zm-7.3 6.6h1.1v1.1h-1.1zm10.2 .9h1.1v1.1h-1.1zm-16.9 .9h1.1v1.1h-1.1zm16.2-.4h1.1v1.1h-1.1zm1.4-.2h1.1v1.1h-1.1zm-15.7 1.9h1.1v1.1h-1.1zm-2.6 .2h1.1v1.1h-1.1zm5.4 .2h1.1v1.1h-1.1zm12.6 .4h1.1v1.1h-1.1zm-12.9 .6h1.1v1.1h-1.1zm13.6 1.2h1.1v1.1h-1.1zm-24.4 .6h1.1v1.1h-1.1zm5.2 .5h1.1v1.1h-1.1zm1.9 0h1.1v1.1h-1.1zm11.3 .1h1.1v1.1h-1.1zm12.3 .2h1.1v1.1h-1.1zm-36.1 1h1.1v1.1h-1.1zm12.6-.1h1.1v1.1h-1.1zm3.6-.8h1.1v1.1h-1.1zm8.6 .6h1.1v1.1h-1.1zm6.7 1h1.1v1.1h-1.1zm-27.5 1.2h1.1v1.1h-1.1zm2.3-.2h1.1v1.1h-1.1zm5.6-.4h1.1v1.1h-1.1zm3.6 .4h1.1v1.1h-1.1zm.9-.2h1.1v1.1h-1.1zm5.2 .4h1.1v1.1h-1.1zm8.2 .2h1.1v1.1h-1.1zm1.7-1h1.1v1.1h-1.1zm3.8 .3h1.1v1.1h-1.1zm2.6 0h1.1v1.1h-1.1zm-36.9 1.3h1.1v1.1h-1.1zm1.5-.3h1.1v1.1h-1.1zm5.8 .4h1.1v1.1h-1.1zm6.9 .2h1.1v1.1h-1.1zm0-.7h1.1v1.1h-1.1zm21.2 0h1.1v1.1h-1.1zm-31.7 1.8h1.1v1.1h-1.1zm.8-.1h1.1v1.1h-1.1zm1.9-.2h1.1v1.1h-1.1zm20.1-.2h1.1v1.1h-1.1zm5.2-.3h1.1v1.1h-1.1zm-21.8 1.5h1.1v1.1h-1.1zm5.5 0h1.1v1.1h-1.1zm13.5 .2h1.1v1.1h-1.1zm8.6 0h1.1v1.1h-1.1zm2.2 0h1.1v1.1h-1.1zm-40.7 .6h1.1v1.1h-1.1zm.7 .4h1.1v1.1h-1.1zm3.8-.3h1.1v1.1h-1.1zm3.5-.5h1.1v1.1h-1.1zm3.8 .9h1.1v1.1h-1.1zm19-.9h1.1v1.1h-1.1zm-17.7 1.6h1.1v1.1h-1.1zm.9-.5h1.1v1.1h-1.1zm20.2-.1h1.1v1.1h-1.1zm-17.7 1.8h1.1v1.1h-1.1zm5-.8h1.1v1.1h-1.1zm10.9 .3h1.1v1.1h-1.1zm-16.4 1h1.1v1.1h-1.1zm-9 1.2h1.1v1.1h-1.1zm2.1-.2h1.1v1.1h-1.1zm15.9-.3h1.1v1.1h-1.1zm12.5 0h1.1v1.1h-1.1zm-2.3 1h1.1v1.1h-1.1zm-7.9 1.7h1.1v1.1h-1.1zm.4 1.1h1.1v1.1h-1.1zm3.3-.4h1.1v1.1h-1.1zm-6.3 1.1h1.1v1.1h-1.1zm5.5 .2h1.1v1.1h-1.1zm-27.1 .4h1.1v1.1h-1.1zm.8 .2h1.1v1.1h-1.1zm25.3 .2h1.1v1.1h-1.1zm1.6 .8h1.1v1.1h-1.1zm-21.3 2.5h1.1v1.1h-1.1zm11.3 .1h1.1v1.1h-1.1zm-24.4 .3h1.1v1.1h-1.1zm48.8 .3h1.1v1.1h-1.1zm-46.1 2.3h1.1v1.1h-1.1zm15.6-.5h1.1v1.1h-1.1zm9.7 .4h1.1v1.1h-1.1zm-13.7 1.8h1.1v1.1h-1.1zm2.4-.4h1.1v1.1h-1.1zm-3.4 1.5h1.1v1.1h-1.1zm2.6-.1h1.1v1.1h-1.1zm1.6-.5h1.1v1.1h-1.1zm-2.6 1.1h1.1v1.1h-1.1zm4.2-.1h1.1v1.1h-1.1zm-5.8 1.6h1.1v1.1h-1.1zm2.1-.5h1.1v1.1h-1.1zm-3.2 2.6h1.1v1.1h-1.1zm3.3 0h1.1v1.1h-1.1zm-.6 .5h1.1v1.1h-1.1z"/>
<path fill="#e0f3f8" d="M476.2 314.1h1.1v1.1h-1.1zm-9.5 6.1h1.1v1.1h-1.1zm17.2 .9h1.1v1.1h-1.1zm-22.5 1.4h1.1v1.1h-1.1zm41.3-.1h1.1v1.1h-1.1zm-37.1 .2h1.1v1.1h-1.1zm19.1 .4h1.1v1.1h-1.1zm-34.6 .5h1.1v1.1h-1.1zm3.4 .6h1.1v1.1h-1.1zm17.5-.2h1.1v1.1h-1.1zm3.6 .5h1.1v1.1h-1.1zm11.1-.7h1.1v1.1h-1.1zm-15.2 1.2h1.1v1.1h-1.1zm.7 .4h1.1v1.1h-1.1zm-15.5 .9h1.1v1.1h-1.1zm6.4 .3h1.1v1.1h-1.1zm.1-.1h1.1v1.1h-1.1zm1.5-.5h1.1v1.1h-1.1zm.8 .4h1.1v1.1h-1.1zm.9 0h1.1v1.1h-1.1zm17.2-.8h1.1v1.1h-1.1zm-19.1 1.7h1.1v1.1h-1.1zm1.3-.3h1.1v1.1h-1.1zm4.7 .2h1.1v1.1h-1.1zm6 .3h1.1v1.1h-1.1zm7.1 0h1.1v1.1h-1.1zm4-.6h1.1v1.1h-1.1zm-31.7 .9h1.1v1.1h-1.1zm10.4 .6h1.1v1.1h-1.1zm2.4-.3h1.1v1.1h-1.1zm3-.2h1.1v1.1h-1.1zm.5-.3h1.1v1.1h-1.1zm.2 .5h1.1v1.1h-1.1zm.2 .1h1.1v1.1h-1.1zm1.5 .2h1.1v1.1h-1.1zm-10.2 .4h1.1v1.1h-1.1zm1.9 .4h1.1v1.1h-1.1zm1.9 .2h1.1v1.1h-1.1zm1.3-.1h1.1v1.1h-1.1zm10.8 0h1.1v1.1h-1.1zm-22.9 .9h1.1v1.1h-1.1zm6.9 .4h1.1v1.1h-1.1zm5.9-.8h1.1v1.1h-1.1zm18.7 .6h1.1v1.1h-1.1zm4.7 .2h1.1v1.1h-1.1zm-37.1 .3h1.1v1.1h-1.1zm.5 0h1.1v1.1h-1.1zm5.1 .6h1.1v1.1h-1.1zm4.7-.5h1.1v1.1h-1.1zm.2 .1h1.1v1.1h-1.1zm.4-.2h1.1v1.1h-1.1zm2.2 0h1.1v1.1h-1.1zm14.9-.2h1.1v1.1h-1.1zm6.7 .7h1.1v1.1h-1.1zm2-.5h1.1v1.1h-1.1zm-37.4 1h1.1v1.1h-1.1zm9.9 .1h1.1v1.1h-1.1zm13.4-.1h1.1v1.1h-1.1zm4.7 .2h1.1v1.1h-1.1zm2.6 .4h1.1v1.1h-1.1zm1.2-.9h1.1v1.1h-1.1zm2.5 .3h1.1v1.1h-1.1zm1.2-.3h1.1v1.1h-1.1zm-37.3 1.8h1.1v1.1h-1.1zm13.6-.7h1.1v1.1h-1.1zm3.7 .2h1.1v1.1h-1.1zm15.9 .2h1.1v1.1h-1.1zm1.2 1.1h1.1v1.1h-1.1zm.1 .4h1.1v1.1h-1.1zm5.8-.3h1.1v1.1h-1.1zm1.7-.4h1.1v1.1h-1.1zm-41.7 .8h1.1v1.1h-1.1zm1.2 .4h1.1v1.1h-1.1zm1.5 .4h1.1v1.1h-1.1zm19.8-.5h1.1v1.1h-1.1zm-5.6 .7h1.1v1.1h-1.1zm3.7-.1h1.1v1.1h-1.1zm10.8 .2h1.1v1.1h-1.1zm.5-.2h1.1v1.1h-1.1zm-2 1.7h1.1v1.1h-1.1zm6.7-.4h1.1v1.1h-1.1zm-31.9 1.7h1.1v1.1h-1.1zm6.2 0h1.1v1.1h-1.1zm15.7-1h1.1v1.1h-1.1zm-10.8 2.7h1.1v1.1h-1.1zm17.8 2.2h1.1v1.1h-1.1zm-5 .6h1.1v1.1h-1.1zm-2.1 .9h1.1v1.1h-1.1zm2.2-.3h1.1v1.1h-1.1zm-3.4 1.7h1.1v1.1h-1.1zm-8.3 1.2h1.1v1.1h-1.1zm7.1-.2h1.1v1.1h-1.1zm8.9 2.7h1.1v1.1h-1.1zm-22.4 1.3h1.1v1.1h-1.1zm4.4-.5h1.1v1.1h-1.1zm33.3 1.3h1.1v1.1h-1.1zm-35.3 1.3h1.1v1.1h-1.1zm1.4-.3h1.1v1.1h-1.1zm.1-.2h1.1v1.1h-1.1zm1.4 .1h1.1v1.1h-1.1zm.3 .1h1.1v1.1h-1.1zm-5 .6h1.1v1.1h-1.1zm3.4 .7h1.1v1.1h-1.1zm-1.5 1h1.1v1.1h-1.1zm.2-.3h1.1v1.1h-1.1zm18 1.6h1.1v1.1h-1.1zm-20.4 1.4h1.1v1.1h-1.1z"/>
<path fill="#abd9e9" d="M461.3 320.3h1.1v1.1h-1.1zm33.1 2h1.1v1.1h-1.1zm-15.8 1.7h1.1v1.1h-1.1zm-11.9 1.2h1.1v1.1h-1.1zm21.8-.4h1.1v1.1h-1.1zm-34 4h1.1v1.1h-1.1zm-1.3 2.7h1.1v1.1h-1.1zm.5 1.8h1.1v1.1h-1.1zm.4 .7h1.1v1.1h-1.1zm36-.4h1.1v1.1h-1.1zm-11 5.5h1.1v1.1h-1.1zm3.7 .6h1.1v1.1h-1.1zm3.6 .8h1.1v1.1h-1.1zm-15.5 .8h1.1v1.1h-1.1zm6.8-.1h1.1v1.1h-1.1zm-6.3 .7h1.1v1.1h-1.1zm9.4 .5h1.1v1.1h-1.1zm2.8 .1h1.1v1.1h-1.1zm11.7-.7h1.1v1.1h-1.1zm-12.9 1.3h1.1v1.1h-1.1zm4.1 1.3h1.1v1.1h-1.1zm10 0h1.1v1.1h-1.1zm-18.8 .4h1.1v1.1h-1.1zm-9.5 1.4h1.1v1.1h-1.1zm19.3-.7h1.1v1.1h-1.1zm-3.4 1.4h1.1v1.1h-1.1zm-17.6 1.8h1.1v1.1h-1.1zm-.2 1.4h1.1v1.1h-1.1zm1.9 .1h1.1v1.1h-1.1zm-3.1 3.5h1.1v1.1h-1.1zm.5 .6h1.1v1.1h-1.1zm1.3 0h1.1v1.1h-1.1zm1.5 0h1.1v1.1h-1.1zm19.5-.5h1.1v1.1h-1.1zm-19.5 1.5h1.1v1.1h-1.1zm2-.7h1.1v1.1h-1.1zm-10.2 1.2h1.1v1.1h-1.1zm7.7 2.1h1.1v1.1h-1.1zm-1.7 .8h1.1v1.1h-1.1zm1.7 1.7h1.1v1.1h-1.1zm1.8 .8h1.1v1.1h-1.1zm22.6 .9h1.1v1.1h-1.1z"/>
<path fill="#74add1" d="M497.3 313.9h1.1v1.1h-1.1zm-44.5 .8h1.1v1.1h-1.1zm28.6 .7h1.1v1.1h-1.1zm10.6 6.3h1.1v1.1h-1.1zm-27.1 3.5h1.1v1.1h-1.1zm-10.7 1.3h1.1v1.1h-1.1zm35.1 .6h1.1v1.1h-1.1zm-31.6 3.4h1.1v1.1h-1.1zm37.4 0h1.1v1.1h-1.1zm-42.6 .3h1.1v1.1h-1.1zm15.7 1h1.1v1.1h-1.1zm14.8-.1h1.1v1.1h-1.1zm-12.2 2.1h1.1v1.1h-1.1zm-11.3 1.3h1.1v1.1h-1.1zm-.2 1.7h1.1v1.1h-1.1zm-9.3 1.2h1.1v1.1h-1.1zm29.6 1.3h1.1v1.1h-1.1zm.7 .5h1.1v1.1h-1.1zm.2 .5h1.1v1.1h-1.1zm.6-.1h1.1v1.1h-1.1zm5.7 .2h1.1v1.1h-1.1zm-6 2h1.1v1.1h-1.1zm5.3 .6h1.1v1.1h-1.1zm-4.2 1.3h1.1v1.1h-1.1zm-7.5 .8h1.1v1.1h-1.1zm19.2 .2h1.1v1.1h-1.1zm7.8 .5h1.1v1.1h-1.1zm-34.2 2.2h1.1v1.1h-1.1zm2.7 .3h1.1v1.1h-1.1zm.6-.2h1.1v1.1h-1.1zm-4.5 .9h1.1v1.1h-1.1zm-1 1.8h1.1v1.1h-1.1zm-.3 1.6h1.1v1.1h-1.1zm5-.1h1.1v1.1h-1.1zm-4.3 2.1h1.1v1.1h-1.1zm8.8 .5h1.1v1.1h-1.1zm-17.9 .6h1.1v1.1h-1.1zm16.5 .5h1.1v1.1h-1.1z"/>
<path fill="#4575b4" d="M471.4 325.4h1.1v1.1h-1.1zm-13.9 .8h1.1v1.1h-1.1zm-1.2 10.2h1.1v1.1h-1.1zm27.1 3.8h1.1v1.1h-1.1zm-21.9 .4h1.1v1.1h-1.1zm9.3 .2h1.1v1.1h-1.1zm5.6 1.6h1.1v1.1h-1.1zm2.7-.8h1.1v1.1h-1.1zm6 1.2h1.1v1.1h-1.1zm15.6-.1h1.1v1.1h-1.1zm-24.2 .8h1.1v1.1h-1.1zm4.5 .1h1.1v1.1h-1.1zm-6.3 1.1h1.1v1.1h-1.1zm-10.4 5.7h1.1v1.1h-1.1zm2.6-.9h1.1v1.1h-1.1zm5.8 1.8h1.1v1.1h-1.1zm-8.4 1h1.1v1.1h-1.1zm1.7-.7h1.1v1.1h-1.1zm-.8 1h1.1v1.1h-1.1zm1.4 .1h1.1v1.1h-1.1zm-2.1 1.2h1.1v1.1h-1.1zm3.4-.1h1.1v1.1h-1.1zm-4.2 2.3h1.1v1.1h-1.1zm41.7 1.1h1.1v1.1h-1.1z"/>
<defs><linearGradient id="gcrt" x1="0" x2="0" y1="0" y2="1"><stop offset="0" stop-color="#d73027"/><stop offset="0.3" stop-color="#fdae61"/><stop offset="0.5" stop-color="#ffffbf"/><stop offset="0.75" stop-color="#abd9e9"/><stop offset="1" stop-color="#4575b4"/></linearGradient></defs>
<rect x="504" y="312.8" width="4.3" height="22.2" fill="url(#gcrt)"/>
<text x="510.5" y="315.5" font-size="2.8" fill="#333">4</text>
<text x="510.5" y="320.4" font-size="2.8" fill="#333">3</text>
<text x="510.5" y="325.3" font-size="2.8" fill="#333">2</text>
<text x="510.5" y="330.2" font-size="2.8" fill="#333">1</text>
<text x="510.5" y="335.1" font-size="2.8" fill="#333">0</text>
<line x1="445.3" y1="364.2" x2="445.3" y2="347.2" stroke="#111" stroke-width="0.7"/>
<line x1="445.3" y1="364.2" x2="464.3" y2="364.2" stroke="#111" stroke-width="0.7"/>
<polygon points="445.30,346.72 446.38,349.12 444.22,349.12" fill="#111"/>
<polygon points="464.78,364.20 462.38,365.28 462.38,363.12" fill="#111"/>
<text x="456.4" y="372.6" font-size="8.3" fill="#9a6499">T<tspan baseline-shift="-2.2">H</tspan>2-like T<tspan font-size="4.8" baseline-shift="-2.2">regs</tspan></text>
<text x="456.4" y="381.6" font-size="8.3" fill="#9a6499">(T<tspan font-size="4.8" baseline-shift="-2.6">regs</tspan>  7 )</text>
<line x1="453" y1="383" x2="453" y2="436" stroke="#efefef" stroke-width="0.4"/>
<line x1="467" y1="383" x2="467" y2="436" stroke="#efefef" stroke-width="0.4"/>
<line x1="481" y1="383" x2="481" y2="436" stroke="#efefef" stroke-width="0.4"/>
<line x1="495" y1="383" x2="495" y2="436" stroke="#efefef" stroke-width="0.4"/>
<line x1="444" y1="388" x2="508" y2="388" stroke="#efefef" stroke-width="0.4"/>
<line x1="444" y1="400" x2="508" y2="400" stroke="#efefef" stroke-width="0.4"/>
<line x1="444" y1="413" x2="508" y2="413" stroke="#efefef" stroke-width="0.4"/>
<line x1="444" y1="426" x2="508" y2="426" stroke="#efefef" stroke-width="0.4"/>
<path fill="#a9a9a9" d="M479.3 385.4h1.2v1.2h-1.2zm-3.1 .4h1.2v1.2h-1.2zm18.8-.2h1.2v1.2h-1.2zm3.4 1.9h1.2v1.2h-1.2zm-30.9 1.3h1.2v1.2h-1.2zm30.8 .2h1.2v1.2h-1.2zm-26.2 .8h1.2v1.2h-1.2zm22.2 .1h1.2v1.2h-1.2zm5.1-.1h1.2v1.2h-1.2zm-26.6 1.2h1.2v1.2h-1.2zm20.3-.1h1.2v1.2h-1.2zm-31.8 1.1h1.2v1.2h-1.2zm5.4 .5h1.2v1.2h-1.2zm.5 0h1.2v1.2h-1.2zm3.9-.7h1.2v1.2h-1.2zm23.4 .6h1.2v1.2h-1.2zm3.7-.8h1.2v1.2h-1.2zm-32.6 1.2h1.2v1.2h-1.2zm33.7-.2h1.2v1.2h-1.2zm-12.1 1.7h1.2v1.2h-1.2zm7.2-.3h1.2v1.2h-1.2zm-31.6 1.3h1.2v1.2h-1.2zm4.1-.5h1.2v1.2h-1.2zm10.6 .3h1.2v1.2h-1.2zm5.1 .1h1.2v1.2h-1.2zm-20.1 .8h1.2v1.2h-1.2zm12.1 .1h1.2v1.2h-1.2zm4-.4h1.2v1.2h-1.2zm-10.7 1.2h1.2v1.2h-1.2zm3.1 .4h1.2v1.2h-1.2zm.4-.2h1.2v1.2h-1.2zm-17.2 1.1h1.2v1.2h-1.2zm6.4 .2h1.2v1.2h-1.2zm1.3-.2h1.2v1.2h-1.2zm5.5-.4h1.2v1.2h-1.2zm6.7-.2h1.2v1.2h-1.2zm25.7 .1h1.2v1.2h-1.2zm-28.6 1.5h1.2v1.2h-1.2zm18.1-.4h1.2v1.2h-1.2zm15.4 .1h1.2v1.2h-1.2zm-41.8 .6h1.2v1.2h-1.2zm6.1 1h1.2v1.2h-1.2zm30.5-1h1.2v1.2h-1.2zm-38 1.4h1.2v1.2h-1.2zm7 .5h1.2v1.2h-1.2zm.8-.2h1.2v1.2h-1.2zm9.5-.3h1.2v1.2h-1.2zm6.2 .3h1.2v1.2h-1.2zm13.5 .2h1.2v1.2h-1.2zm-46 1.1h1.2v1.2h-1.2zm1.5-.9h1.2v1.2h-1.2zm3.5 .4h1.2v1.2h-1.2zm.2 .2h1.2v1.2h-1.2zm2.1-.4h1.2v1.2h-1.2zm5.3 0h1.2v1.2h-1.2zm3 .7h1.2v1.2h-1.2zm.8-.8h1.2v1.2h-1.2zm1-.1h1.2v1.2h-1.2zm8.4 .8h1.2v1.2h-1.2zm13.4 .1h1.2v1.2h-1.2zm3.4-.3h1.2v1.2h-1.2zm5.5-.4h1.2v1.2h-1.2zm-35.3 .8h1.2v1.2h-1.2zm1.6 .1h1.2v1.2h-1.2zm1.5 .3h1.2v1.2h-1.2zm21.4 .2h1.2v1.2h-1.2zm-29.1 1h1.2v1.2h-1.2zm.2-.7h1.2v1.2h-1.2zm6.7 .5h1.2v1.2h-1.2zm10-.5h1.2v1.2h-1.2zm5.1 .3h1.2v1.2h-1.2zm5.5-.1h1.2v1.2h-1.2zm-37.3 1.1h1.2v1.2h-1.2zm1.6 .2h1.2v1.2h-1.2zm1.2 0h1.2v1.2h-1.2zm1.9 .4h1.2v1.2h-1.2zm5.9-.1h1.2v1.2h-1.2zm8.4-.4h1.2v1.2h-1.2zm14.4 .4h1.2v1.2h-1.2zm9.9-.2h1.2v1.2h-1.2zm-41.4 1.2h1.2v1.2h-1.2zm4.2-.4h1.2v1.2h-1.2zm1-.1h1.2v1.2h-1.2zm2.9 .5h1.2v1.2h-1.2zm4.4-.1h1.2v1.2h-1.2zm8.4-.7h1.2v1.2h-1.2zm1.4 .2h1.2v1.2h-1.2zm10.3 .1h1.2v1.2h-1.2zm1.5 0h1.2v1.2h-1.2zm-32.9 .9h1.2v1.2h-1.2zm1.5 .4h1.2v1.2h-1.2zm14.2 .2h1.2v1.2h-1.2zm5.3 0h1.2v1.2h-1.2zm-17.3 .5h1.2v1.2h-1.2zm1.6 .7h1.2v1.2h-1.2zm7.5-1h1.2v1.2h-1.2zm38.6 .1h1.2v1.2h-1.2zm-15.4 1.2h1.2v1.2h-1.2zm10.6 .6h1.2v1.2h-1.2zm2.5-.6h1.2v1.2h-1.2zm-45.6 1.4h1.2v1.2h-1.2zm6.2 0h1.2v1.2h-1.2zm25.4 .1h1.2v1.2h-1.2zm-34.3 1.1h1.2v1.2h-1.2zm10 0h1.2v1.2h-1.2zm12.8-.1h1.2v1.2h-1.2zm1.3-.2h1.2v1.2h-1.2zm23.7-.1h1.2v1.2h-1.2zm1.9 .2h1.2v1.2h-1.2zm-24 .8h1.2v1.2h-1.2zm.6-.1h1.2v1.2h-1.2zm5.3 .3h1.2v1.2h-1.2zm.4-.1h1.2v1.2h-1.2zm-15.9 .9h1.2v1.2h-1.2zm12.4 .1h1.2v1.2h-1.2zm-6.9 1h1.2v1.2h-1.2zm1.8-.3h1.2v1.2h-1.2zm2.6 .3h1.2v1.2h-1.2zm2.8 .1h1.2v1.2h-1.2zm.1-.2h1.2v1.2h-1.2zm1.4 .5h1.2v1.2h-1.2zm-8.6 .7h1.2v1.2h-1.2zm4.5 .1h1.2v1.2h-1.2zm.4-.6h1.2v1.2h-1.2zm1 .1h1.2v1.2h-1.2zm1.9 .8h1.2v1.2h-1.2zm12.2 .5h1.2v1.2h-1.2zm-18.4 .9h1.2v1.2h-1.2zm9.4 .2h1.2v1.2h-1.2zm2.6-.4h1.2v1.2h-1.2zm3.5 .2h1.2v1.2h-1.2zm-30.6 1.1h1.2v1.2h-1.2zm13.9-.1h1.2v1.2h-1.2zm24.5-.5h1.2v1.2h-1.2zm-17.3 1.1h1.2v1.2h-1.2zm-16.9 1.1h1.2v1.2h-1.2zm-14.6 1.4h1.2v1.2h-1.2zm15.6-.5h1.2v1.2h-1.2zm-3.9 1.5h1.2v1.2h-1.2zm1.6-.4h1.2v1.2h-1.2zm.4 .1h1.2v1.2h-1.2zm.3 .6h1.2v1.2h-1.2zm1.6-.5h1.2v1.2h-1.2zm-3 1.2h1.2v1.2h-1.2zm2.2 .2h1.2v1.2h-1.2zm2.8 0h1.2v1.2h-1.2zm2.5-.3h1.2v1.2h-1.2zm28.4-.2h1.2v1.2h-1.2zm-36.3 1.6h1.2v1.2h-1.2zm.4-.1h1.2v1.2h-1.2zm2.1-.7h1.2v1.2h-1.2zm2.4 .8h1.2v1.2h-1.2zm.5-.7h1.2v1.2h-1.2zm-5.1 1.7h1.2v1.2h-1.2zm1.9-.3h1.2v1.2h-1.2zm-1.4 .9h1.2v1.2h-1.2zm.3 .1h1.2v1.2h-1.2zm1-.1h1.2v1.2h-1.2zm.1-.2h1.2v1.2h-1.2zm1.3 0h1.2v1.2h-1.2zm10.5-.1h1.2v1.2h-1.2zm-4.6 .9h1.2v1.2h-1.2zm9.9 .8h1.2v1.2h-1.2zm-23.9 .1h1.2v1.2h-1.2zm1.9 .5h1.2v1.2h-1.2zm2.7 .5h1.2v1.2h-1.2zm8-.8h1.2v1.2h-1.2zm-9.1 1.1h1.2v1.2h-1.2zm41.7 .1h1.2v1.2h-1.2zm-37.5 .7h1.2v1.2h-1.2zm1.8 3.3h1.2v1.2h-1.2z"/>
<path fill="#b07aa6" d="M487.8 385.2h1.2v1.2h-1.2zm.1-.1h1.2v1.2h-1.2zm.1 .2h1.2v1.2h-1.2zm1.4 .1h1.2v1.2h-1.2zm.8-.7h1.2v1.2h-1.2zm1.6 .5h1.2v1.2h-1.2zm.3 0h1.2v1.2h-1.2zm3.3 0h1.2v1.2h-1.2zm1.2 .2h1.2v1.2h-1.2zm.3-.2h1.2v1.2h-1.2zm1.3-.5h1.2v1.2h-1.2zm2.7 .6h1.2v1.2h-1.2zm-48.1 1.1h1.2v1.2h-1.2zm32.2-.2h1.2v1.2h-1.2zm2.7-.7h1.2v1.2h-1.2zm1.3 .7h1.2v1.2h-1.2zm.9-.2h1.2v1.2h-1.2zm0 .4h1.2v1.2h-1.2zm.4 .1h1.2v1.2h-1.2zm.3 0h1.2v1.2h-1.2zm.9-.3h1.2v1.2h-1.2zm.9-.5h1.2v1.2h-1.2zm.4 .1h1.2v1.2h-1.2zm.3 .6h1.2v1.2h-1.2zm.8-.5h1.2v1.2h-1.2zm.8 .6h1.2v1.2h-1.2zm.5-.3h1.2v1.2h-1.2zm2.1 .3h1.2v1.2h-1.2zm0-.9h1.2v1.2h-1.2zm3.1 .4h1.2v1.2h-1.2zm4.9-.5h1.2v1.2h-1.2zm-44.8 1.5h1.2v1.2h-1.2zm11.5 .1h1.2v1.2h-1.2zm9.4 0h1.2v1.2h-1.2zm2.1-.5h1.2v1.2h-1.2zm4.8 .3h1.2v1.2h-1.2zm2.4 .1h1.2v1.2h-1.2zm.6-.3h1.2v1.2h-1.2zm1.2 .2h1.2v1.2h-1.2zm2.1 .2h1.2v1.2h-1.2zm.1-.3h1.2v1.2h-1.2zm0 .3h1.2v1.2h-1.2zm.8 .3h1.2v1.2h-1.2zm.6-.8h1.2v1.2h-1.2zm.4 .7h1.2v1.2h-1.2zm.5-.6h1.2v1.2h-1.2zm.3 .3h1.2v1.2h-1.2zm1.9-.4h1.2v1.2h-1.2zm1.5 .1h1.2v1.2h-1.2zm.9-.1h1.2v1.2h-1.2zm1.5 .1h1.2v1.2h-1.2zm-32.9 .8h1.2v1.2h-1.2zm18.7 1h1.2v1.2h-1.2zm.2-.1h1.2v1.2h-1.2zm.1-.3h1.2v1.2h-1.2zm.8 .2h1.2v1.2h-1.2zm.4-.1h1.2v1.2h-1.2zm2.5-.5h1.2v1.2h-1.2zm0 .7h1.2v1.2h-1.2zm.9-.3h1.2v1.2h-1.2zm.3 .1h1.2v1.2h-1.2zm.2 0h1.2v1.2h-1.2zm.1 .2h1.2v1.2h-1.2zm.1-.9h1.2v1.2h-1.2zm.2 .3h1.2v1.2h-1.2zm.1 .5h1.2v1.2h-1.2zm0-.6h1.2v1.2h-1.2zm.3-.2h1.2v1.2h-1.2zm.2 .1h1.2v1.2h-1.2zm0 .5h1.2v1.2h-1.2zm.4-.4h1.2v1.2h-1.2zm1.2 .1h1.2v1.2h-1.2zm.1 .3h1.2v1.2h-1.2zm.1-.5h1.2v1.2h-1.2zm.2 .5h1.2v1.2h-1.2zm.8-.6h1.2v1.2h-1.2zm.2 .2h1.2v1.2h-1.2zm.5 .6h1.2v1.2h-1.2zm.1-.7h1.2v1.2h-1.2zm.7 .8h1.2v1.2h-1.2zm.1-.2h1.2v1.2h-1.2zm.6-.6h1.2v1.2h-1.2zm0 .9h1.2v1.2h-1.2zm.9-.9h1.2v1.2h-1.2zm.2 .3h1.2v1.2h-1.2zm-44 1.4h1.2v1.2h-1.2zm12.1 .1h1.2v1.2h-1.2zm.9-.7h1.2v1.2h-1.2zm14.7-.1h1.2v1.2h-1.2zm1.6 .8h1.2v1.2h-1.2zm.1 0h1.2v1.2h-1.2zm.2-.7h1.2v1.2h-1.2zm.6 .3h1.2v1.2h-1.2zm.6 .4h1.2v1.2h-1.2zm1.9 0h1.2v1.2h-1.2zm.9-.7h1.2v1.2h-1.2zm1.4 .5h1.2v1.2h-1.2zm.4-.6h1.2v1.2h-1.2zm.4 .7h1.2v1.2h-1.2zm.1-.7h1.2v1.2h-1.2zm0 .4h1.2v1.2h-1.2zm.1-.3h1.2v1.2h-1.2zm.1 .2h1.2v1.2h-1.2zm.2 .3h1.2v1.2h-1.2zm.3-.5h1.2v1.2h-1.2zm0 0h1.2v1.2h-1.2zm.7-.1h1.2v1.2h-1.2zm.3 .8h1.2v1.2h-1.2zm.2 0h1.2v1.2h-1.2zm.7-.4h1.2v1.2h-1.2zm.1 .3h1.2v1.2h-1.2zm.4 .1h1.2v1.2h-1.2zm.6-.7h1.2v1.2h-1.2zm.2 .6h1.2v1.2h-1.2zm1.6-.6h1.2v1.2h-1.2zm.4 .4h1.2v1.2h-1.2zm.6-.3h1.2v1.2h-1.2zm1.8-.2h1.2v1.2h-1.2zm.3 .6h1.2v1.2h-1.2zm4-.4h1.2v1.2h-1.2zm-45.9 1.3h1.2v1.2h-1.2zm.4-.2h1.2v1.2h-1.2zm3.4-.2h1.2v1.2h-1.2zm0 .5h1.2v1.2h-1.2zm1.6-.5h1.2v1.2h-1.2zm6.7 .1h1.2v1.2h-1.2zm13.4 0h1.2v1.2h-1.2zm1.1 .1h1.2v1.2h-1.2zm.4 .6h1.2v1.2h-1.2zm.4-.1h1.2v1.2h-1.2zm1.1-.6h1.2v1.2h-1.2zm.3 0h1.2v1.2h-1.2zm1.7 .7h1.2v1.2h-1.2zm.2-.1h1.2v1.2h-1.2zm0-.7h1.2v1.2h-1.2zm.2 .4h1.2v1.2h-1.2zm.1 .2h1.2v1.2h-1.2zm.2-.1h1.2v1.2h-1.2zm0-.1h1.2v1.2h-1.2zm.4 .2h1.2v1.2h-1.2zm.1-.6h1.2v1.2h-1.2zm.7 .6h1.2v1.2h-1.2zm.7-.1h1.2v1.2h-1.2zm0 .3h1.2v1.2h-1.2zm.3-1h1.2v1.2h-1.2zm.6 .6h1.2v1.2h-1.2zm.3-.3h1.2v1.2h-1.2zm0 .2h1.2v1.2h-1.2zm.2-.1h1.2v1.2h-1.2zm.1-.1h1.2v1.2h-1.2zm0 .6h1.2v1.2h-1.2zm.3-.4h1.2v1.2h-1.2zm0 .3h1.2v1.2h-1.2zm.1-.1h1.2v1.2h-1.2zm.2-.5h1.2v1.2h-1.2zm0 .3h1.2v1.2h-1.2zm.2-.4h1.2v1.2h-1.2zm.2 .9h1.2v1.2h-1.2zm.4-.9h1.2v1.2h-1.2zm0 .9h1.2v1.2h-1.2zm.2-.4h1.2v1.2h-1.2zm0 0h1.2v1.2h-1.2zm.3-.4h1.2v1.2h-1.2zm.6 .7h1.2v1.2h-1.2zm0-.8h1.2v1.2h-1.2zm0-.1h1.2v1.2h-1.2zm1.7 .2h1.2v1.2h-1.2zm.2 .6h1.2v1.2h-1.2zm.1-.7h1.2v1.2h-1.2zm.2 .2h1.2v1.2h-1.2zm.2-.3h1.2v1.2h-1.2zm.3 .4h1.2v1.2h-1.2zm.4 .1h1.2v1.2h-1.2zm2 .3h1.2v1.2h-1.2zm-44.1 .4h1.2v1.2h-1.2zm4.4 .1h1.2v1.2h-1.2zm0 .6h1.2v1.2h-1.2zm.2-.6h1.2v1.2h-1.2zm1.2 .4h1.2v1.2h-1.2zm6.1-.3h1.2v1.2h-1.2zm2.4 .2h1.2v1.2h-1.2zm11.8-.1h1.2v1.2h-1.2zm.3-.3h1.2v1.2h-1.2zm1.3 .2h1.2v1.2h-1.2zm2.6 .4h1.2v1.2h-1.2zm.5-.4h1.2v1.2h-1.2zm.9 .3h1.2v1.2h-1.2zm.3 0h1.2v1.2h-1.2zm.2 .2h1.2v1.2h-1.2zm0-.6h1.2v1.2h-1.2zm1.4-.2h1.2v1.2h-1.2zm.2 .7h1.2v1.2h-1.2zm0-.6h1.2v1.2h-1.2zm.7 .3h1.2v1.2h-1.2zm.4 .4h1.2v1.2h-1.2zm.1-.3h1.2v1.2h-1.2zm.3 .1h1.2v1.2h-1.2zm.8-.1h1.2v1.2h-1.2zm.1 .3h1.2v1.2h-1.2zm.6-.1h1.2v1.2h-1.2zm.1 0h1.2v1.2h-1.2zm.2-.2h1.2v1.2h-1.2zm0-.4h1.2v1.2h-1.2zm.1 0h1.2v1.2h-1.2zm0 .3h1.2v1.2h-1.2zm.4-.3h1.2v1.2h-1.2zm.2 .1h1.2v1.2h-1.2zm.1 .4h1.2v1.2h-1.2zm.1-.1h1.2v1.2h-1.2zm.4-.2h1.2v1.2h-1.2zm.6 .1h1.2v1.2h-1.2zm.3 .4h1.2v1.2h-1.2zm.8-.2h1.2v1.2h-1.2zm.5 .2h1.2v1.2h-1.2zm.2-.6h1.2v1.2h-1.2zm2 .5h1.2v1.2h-1.2zm-38.7 .8h1.2v1.2h-1.2zm1.1-.2h1.2v1.2h-1.2zm2.2 .3h1.2v1.2h-1.2zm1.2-.3h1.2v1.2h-1.2zm4 .1h1.2v1.2h-1.2zm.3 .2h1.2v1.2h-1.2zm0-.4h1.2v1.2h-1.2zm.2-.2h1.2v1.2h-1.2zm.1 .6h1.2v1.2h-1.2zm.7-.2h1.2v1.2h-1.2zm0-.5h1.2v1.2h-1.2zm.6 .1h1.2v1.2h-1.2zm6.1 .8h1.2v1.2h-1.2zm4.3-.8h1.2v1.2h-1.2zm2.6 .2h1.2v1.2h-1.2zm.2 .1h1.2v1.2h-1.2zm.1 .2h1.2v1.2h-1.2zm.4-.6h1.2v1.2h-1.2zm.1 .4h1.2v1.2h-1.2zm.1-.1h1.2v1.2h-1.2zm0-.2h1.2v1.2h-1.2zm.3 .2h1.2v1.2h-1.2zm1-.2h1.2v1.2h-1.2zm1 .6h1.2v1.2h-1.2zm.5-.3h1.2v1.2h-1.2zm.3-.3h1.2v1.2h-1.2zm.4 .5h1.2v1.2h-1.2zm.4-.6h1.2v1.2h-1.2zm.4 0h1.2v1.2h-1.2zm.2 .6h1.2v1.2h-1.2zm0-.1h1.2v1.2h-1.2zm.1 .4h1.2v1.2h-1.2zm.2 0h1.2v1.2h-1.2zm.7-.6h1.2v1.2h-1.2zm.2-.1h1.2v1.2h-1.2zm.4 .7h1.2v1.2h-1.2zm.9-.3h1.2v1.2h-1.2zm.3-.6h1.2v1.2h-1.2zm.9 1h1.2v1.2h-1.2zm.5-.4h1.2v1.2h-1.2zm.2 .2h1.2v1.2h-1.2zm.2 .2h1.2v1.2h-1.2zm.7-1h1.2v1.2h-1.2zm.3 .7h1.2v1.2h-1.2zm.2 .1h1.2v1.2h-1.2zm.1 .2h1.2v1.2h-1.2zm1.3-.7h1.2v1.2h-1.2zm1-.1h1.2v1.2h-1.2zm.3 0h1.2v1.2h-1.2zm.4 .1h1.2v1.2h-1.2zm.3 .3h1.2v1.2h-1.2zm.4-.3h1.2v1.2h-1.2zm.9 .3h1.2v1.2h-1.2zm0 .2h1.2v1.2h-1.2zm.5-.5h1.2v1.2h-1.2zm3.1 .5h1.2v1.2h-1.2zm-48.5 1.1h1.2v1.2h-1.2zm1.7-.6h1.2v1.2h-1.2zm0 .4h1.2v1.2h-1.2zm5.8-.3h1.2v1.2h-1.2zm1.9 .4h1.2v1.2h-1.2zm4.1 0h1.2v1.2h-1.2zm1.2-.4h1.2v1.2h-1.2zm.4-.2h1.2v1.2h-1.2zm1.1 0h1.2v1.2h-1.2zm.5 .7h1.2v1.2h-1.2zm8.2 0h1.2v1.2h-1.2zm.7-.5h1.2v1.2h-1.2zm.7 .3h1.2v1.2h-1.2zm.8-.3h1.2v1.2h-1.2zm.2-.1h1.2v1.2h-1.2zm2 .6h1.2v1.2h-1.2zm.9 0h1.2v1.2h-1.2zm.5-.8h1.2v1.2h-1.2zm1.3 .2h1.2v1.2h-1.2zm.1 .6h1.2v1.2h-1.2zm.6 0h1.2v1.2h-1.2zm.8-.3h1.2v1.2h-1.2zm.8 .2h1.2v1.2h-1.2zm0 .1h1.2v1.2h-1.2zm.9-.1h1.2v1.2h-1.2zm.2 .1h1.2v1.2h-1.2zm.5-.8h1.2v1.2h-1.2zm.8 .1h1.2v1.2h-1.2zm.1 .7h1.2v1.2h-1.2zm.1-.3h1.2v1.2h-1.2zm.1 .2h1.2v1.2h-1.2zm0-.6h1.2v1.2h-1.2zm.8-.1h1.2v1.2h-1.2zm1.2 .6h1.2v1.2h-1.2zm1.5-.2h1.2v1.2h-1.2zm0 .4h1.2v1.2h-1.2zm.2 0h1.2v1.2h-1.2zm.8-.2h1.2v1.2h-1.2zm.5 .2h1.2v1.2h-1.2zm.2-.8h1.2v1.2h-1.2zm.9 .5h1.2v1.2h-1.2zm.2-.5h1.2v1.2h-1.2zm2.2 .3h1.2v1.2h-1.2zm-43.1 1.2h1.2v1.2h-1.2zm.6 .1h1.2v1.2h-1.2zm0-.3h1.2v1.2h-1.2zm.8-.1h1.2v1.2h-1.2zm.1 .4h1.2v1.2h-1.2zm.9 0h1.2v1.2h-1.2zm.3 .3h1.2v1.2h-1.2zm1.6-.1h1.2v1.2h-1.2zm.1 0h1.2v1.2h-1.2zm1.9-.6h1.2v1.2h-1.2zm.2 .4h1.2v1.2h-1.2zm.1 .1h1.2v1.2h-1.2zm.8-.7h1.2v1.2h-1.2zm.2 .9h1.2v1.2h-1.2zm3-1h1.2v1.2h-1.2zm1.4 .7h1.2v1.2h-1.2zm0 .3h1.2v1.2h-1.2zm.2-.6h1.2v1.2h-1.2zm.8-.2h1.2v1.2h-1.2zm.4 .2h1.2v1.2h-1.2zm1.2-.4h1.2v1.2h-1.2zm7.1 .3h1.2v1.2h-1.2zm2.4 .6h1.2v1.2h-1.2zm2.7-.4h1.2v1.2h-1.2zm.1 .4h1.2v1.2h-1.2zm.6-.5h1.2v1.2h-1.2zm1.8 .3h1.2v1.2h-1.2zm.4 .1h1.2v1.2h-1.2zm.9-.4h1.2v1.2h-1.2zm.1-.1h1.2v1.2h-1.2zm.2 .2h1.2v1.2h-1.2zm.3-.3h1.2v1.2h-1.2zm.1 0h1.2v1.2h-1.2zm.1-.1h1.2v1.2h-1.2zm.9 .7h1.2v1.2h-1.2zm1.4 .2h1.2v1.2h-1.2zm.8-.2h1.2v1.2h-1.2zm2.3-.1h1.2v1.2h-1.2zm0 .3h1.2v1.2h-1.2zm.1-.8h1.2v1.2h-1.2zm.5 .6h1.2v1.2h-1.2zm.1-.2h1.2v1.2h-1.2zm.4-.1h1.2v1.2h-1.2zm.3-.1h1.2v1.2h-1.2zm.1 .6h1.2v1.2h-1.2zm.9-.2h1.2v1.2h-1.2zm.1-.3h1.2v1.2h-1.2zm.3-.5h1.2v1.2h-1.2zm.7 .5h1.2v1.2h-1.2zm1.3-.1h1.2v1.2h-1.2zm1.1 .4h1.2v1.2h-1.2zm.8 .2h1.2v1.2h-1.2zm0-1h1.2v1.2h-1.2zm.2 .6h1.2v1.2h-1.2zm-52.6 1.1h1.2v1.2h-1.2zm8.5 0h1.2v1.2h-1.2zm2.7 .2h1.2v1.2h-1.2zm.6-.7h1.2v1.2h-1.2zm.2-.1h1.2v1.2h-1.2zm.7 .4h1.2v1.2h-1.2zm.2-.1h1.2v1.2h-1.2zm1.6 .2h1.2v1.2h-1.2zm0 .2h1.2v1.2h-1.2zm1 0h1.2v1.2h-1.2zm1.4-.2h1.2v1.2h-1.2zm0 0h1.2v1.2h-1.2zm.2 0h1.2v1.2h-1.2zm1.2 .1h1.2v1.2h-1.2zm.9 .1h1.2v1.2h-1.2zm.7-.5h1.2v1.2h-1.2zm.4-.1h1.2v1.2h-1.2zm.7 .3h1.2v1.2h-1.2zm.8 0h1.2v1.2h-1.2zm0-.3h1.2v1.2h-1.2zm1.3 .7h1.2v1.2h-1.2zm9.6-.6h1.2v1.2h-1.2zm1.9-.1h1.2v1.2h-1.2zm.4-.1h1.2v1.2h-1.2zm.6 .8h1.2v1.2h-1.2zm.7-.3h1.2v1.2h-1.2zm2-.3h1.2v1.2h-1.2zm2.9 .2h1.2v1.2h-1.2zm1.1 0h1.2v1.2h-1.2zm.3 .2h1.2v1.2h-1.2zm.4 .1h1.2v1.2h-1.2zm.1 .1h1.2v1.2h-1.2zm1.7-.5h1.2v1.2h-1.2zm1.2 .5h1.2v1.2h-1.2zm2.2-.7h1.2v1.2h-1.2zm.9 .7h1.2v1.2h-1.2zm.7-.8h1.2v1.2h-1.2zm.8 .7h1.2v1.2h-1.2zm.7-.7h1.2v1.2h-1.2zm-47.9 1.2h1.2v1.2h-1.2zm2.7 .4h1.2v1.2h-1.2zm.7-.7h1.2v1.2h-1.2zm1.5 1h1.2v1.2h-1.2zm1.7-1h1.2v1.2h-1.2zm.2 .5h1.2v1.2h-1.2zm.4-.1h1.2v1.2h-1.2zm.4 .1h1.2v1.2h-1.2zm.7 .3h1.2v1.2h-1.2zm1.3 0h1.2v1.2h-1.2zm2.5-.1h1.2v1.2h-1.2zm.6-.6h1.2v1.2h-1.2zm.5 .9h1.2v1.2h-1.2zm.1-.3h1.2v1.2h-1.2zm.4 .1h1.2v1.2h-1.2zm.6-.4h1.2v1.2h-1.2zm1 .6h1.2v1.2h-1.2zm.5-.8h1.2v1.2h-1.2zm.4 .8h1.2v1.2h-1.2zm0-.9h1.2v1.2h-1.2zm.3-.1h1.2v1.2h-1.2zm.1 .8h1.2v1.2h-1.2zm.3-.5h1.2v1.2h-1.2zm.5 .4h1.2v1.2h-1.2zm.1-.6h1.2v1.2h-1.2zm.4 .2h1.2v1.2h-1.2zm.1 .1h1.2v1.2h-1.2zm.8 .4h1.2v1.2h-1.2zm5.9-.1h1.2v1.2h-1.2zm.9 .1h1.2v1.2h-1.2zm.9-.8h1.2v1.2h-1.2zm1.7 .4h1.2v1.2h-1.2zm.2 .2h1.2v1.2h-1.2zm.7-.2h1.2v1.2h-1.2zm0 .4h1.2v1.2h-1.2zm2.6 0h1.2v1.2h-1.2zm1.2 0h1.2v1.2h-1.2zm.8-.6h1.2v1.2h-1.2zm1.3 .8h1.2v1.2h-1.2zm1.7-.6h1.2v1.2h-1.2zm.4-.4h1.2v1.2h-1.2zm.3 .8h1.2v1.2h-1.2zm.6-.8h1.2v1.2h-1.2zm.3 .1h1.2v1.2h-1.2zm1.1 .3h1.2v1.2h-1.2zm.9 .4h1.2v1.2h-1.2zm.8-.6h1.2v1.2h-1.2zm.2-.1h1.2v1.2h-1.2zm0 .1h1.2v1.2h-1.2zm0 .6h1.2v1.2h-1.2zm.3-.5h1.2v1.2h-1.2zm.9 .1h1.2v1.2h-1.2zm.5 .1h1.2v1.2h-1.2zm.8 .5h1.2v1.2h-1.2zm0-.4h1.2v1.2h-1.2zm.5 0h1.2v1.2h-1.2zm.3-.1h1.2v1.2h-1.2zm.2-.5h1.2v1.2h-1.2zm.1 .7h1.2v1.2h-1.2zm.9 .2h1.2v1.2h-1.2zm-40.8 .4h1.2v1.2h-1.2zm.2 .6h1.2v1.2h-1.2zm1.5-.5h1.2v1.2h-1.2zm1.4 .2h1.2v1.2h-1.2zm1 .1h1.2v1.2h-1.2zm.8-.6h1.2v1.2h-1.2zm1.5 .3h1.2v1.2h-1.2zm.2 .1h1.2v1.2h-1.2zm.9 0h1.2v1.2h-1.2zm.7-.1h1.2v1.2h-1.2zm.9 .5h1.2v1.2h-1.2zm.9 0h1.2v1.2h-1.2zm0-.1h1.2v1.2h-1.2zm2-.7h1.2v1.2h-1.2zm.7 .4h1.2v1.2h-1.2zm.6 .2h1.2v1.2h-1.2zm.3 0h1.2v1.2h-1.2zm.1-.1h1.2v1.2h-1.2zm.8 0h1.2v1.2h-1.2zm.8 .1h1.2v1.2h-1.2zm8.6 .2h1.2v1.2h-1.2zm0-.1h1.2v1.2h-1.2zm.2-.1h1.2v1.2h-1.2zm8.2-.6h1.2v1.2h-1.2zm.6 0h1.2v1.2h-1.2zm3.2 .1h1.2v1.2h-1.2zm-44.4 1.8h1.2v1.2h-1.2zm5.5-.6h1.2v1.2h-1.2zm.6 .4h1.2v1.2h-1.2zm.5 0h1.2v1.2h-1.2zm.7-.4h1.2v1.2h-1.2zm1.4 .4h1.2v1.2h-1.2zm2.8-.5h1.2v1.2h-1.2zm.4 .4h1.2v1.2h-1.2zm.1-.1h1.2v1.2h-1.2zm.1-.4h1.2v1.2h-1.2zm1 .6h1.2v1.2h-1.2zm.4-.7h1.2v1.2h-1.2zm.7 .6h1.2v1.2h-1.2zm.1-.2h1.2v1.2h-1.2zm.5 .1h1.2v1.2h-1.2zm.4-.1h1.2v1.2h-1.2zm0 0h1.2v1.2h-1.2zm.3-.5h1.2v1.2h-1.2zm.9 .5h1.2v1.2h-1.2zm.6 .3h1.2v1.2h-1.2zm.1-.5h1.2v1.2h-1.2zm.6 .5h1.2v1.2h-1.2zm1-.3h1.2v1.2h-1.2zm.7 .2h1.2v1.2h-1.2zm1.4 .2h1.2v1.2h-1.2zm0-.5h1.2v1.2h-1.2zm.9 0h1.2v1.2h-1.2zm.4-.3h1.2v1.2h-1.2zm.3 .6h1.2v1.2h-1.2zm.4 .3h1.2v1.2h-1.2zm.1-.3h1.2v1.2h-1.2zm2-.5h1.2v1.2h-1.2zm.1 .1h1.2v1.2h-1.2zm6.9 .5h1.2v1.2h-1.2zm1.2-.6h1.2v1.2h-1.2zm0 .1h1.2v1.2h-1.2zm.9 .5h1.2v1.2h-1.2zm.7-.2h1.2v1.2h-1.2zm1.7 .4h1.2v1.2h-1.2zm.5-.7h1.2v1.2h-1.2zm.5 0h1.2v1.2h-1.2zm4.5 .1h1.2v1.2h-1.2zm1.3 0h1.2v1.2h-1.2zm1.2 .5h1.2v1.2h-1.2zm.1-.5h1.2v1.2h-1.2zm.1-.1h1.2v1.2h-1.2zm.2 0h1.2v1.2h-1.2zm2.3 .3h1.2v1.2h-1.2zm.1-.6h1.2v1.2h-1.2zm0 .4h1.2v1.2h-1.2zm0-.1h1.2v1.2h-1.2zm.6 .2h1.2v1.2h-1.2zm.2-.2h1.2v1.2h-1.2zm.1-.3h1.2v1.2h-1.2zm.4 .9h1.2v1.2h-1.2zm.3-.7h1.2v1.2h-1.2zm1.5 0h1.2v1.2h-1.2zm.7 .2h1.2v1.2h-1.2zm.5-.4h1.2v1.2h-1.2zm.4 .3h1.2v1.2h-1.2zm-47.2 1.6h1.2v1.2h-1.2zm3.5-.6h1.2v1.2h-1.2zm1 .1h1.2v1.2h-1.2zm2.6 .5h1.2v1.2h-1.2zm.1-.5h1.2v1.2h-1.2zm.1 .2h1.2v1.2h-1.2zm.3-.5h1.2v1.2h-1.2zm1 .3h1.2v1.2h-1.2zm.4-.3h1.2v1.2h-1.2zm.2 .2h1.2v1.2h-1.2zm0 .4h1.2v1.2h-1.2zm.6 0h1.2v1.2h-1.2zm.1-.6h1.2v1.2h-1.2zm0 0h1.2v1.2h-1.2zm.5 .2h1.2v1.2h-1.2zm.3 .2h1.2v1.2h-1.2zm.4 0h1.2v1.2h-1.2zm0-.2h1.2v1.2h-1.2zm0 0h1.2v1.2h-1.2zm.6-.2h1.2v1.2h-1.2zm.9 .2h1.2v1.2h-1.2zm.9 .2h1.2v1.2h-1.2zm.8 .2h1.2v1.2h-1.2zm.3-.4h1.2v1.2h-1.2zm.2 .4h1.2v1.2h-1.2zm0-.5h1.2v1.2h-1.2zm.5-.1h1.2v1.2h-1.2zm.1 0h1.2v1.2h-1.2zm.6 .8h1.2v1.2h-1.2zm.1-.4h1.2v1.2h-1.2zm.1-.4h1.2v1.2h-1.2zm.4 .6h1.2v1.2h-1.2zm.2 0h1.2v1.2h-1.2zm.4-.1h1.2v1.2h-1.2zm.1-.3h1.2v1.2h-1.2zm.1 .3h1.2v1.2h-1.2zm.4-.5h1.2v1.2h-1.2zm.3 .6h1.2v1.2h-1.2zm1.7 0h1.2v1.2h-1.2zm.8-.1h1.2v1.2h-1.2zm.8 .1h1.2v1.2h-1.2zm1-.3h1.2v1.2h-1.2zm.7-.1h1.2v1.2h-1.2zm1.2 .2h1.2v1.2h-1.2zm3.4 .1h1.2v1.2h-1.2zm1.2-.3h1.2v1.2h-1.2zm.5 .5h1.2v1.2h-1.2zm3.7 .1h1.2v1.2h-1.2zm1.1-.5h1.2v1.2h-1.2zm.5 .2h1.2v1.2h-1.2zm2.1-.2h1.2v1.2h-1.2zm2.2 .1h1.2v1.2h-1.2zm1.1-.3h1.2v1.2h-1.2zm.2 .7h1.2v1.2h-1.2zm1.6-.8h1.2v1.2h-1.2zm.2 .3h1.2v1.2h-1.2zm.3 .1h1.2v1.2h-1.2zm.9 .4h1.2v1.2h-1.2zm.1-.6h1.2v1.2h-1.2zm.4 .4h1.2v1.2h-1.2zm1.6-.5h1.2v1.2h-1.2zm1.2 .1h1.2v1.2h-1.2zm-48 1.3h1.2v1.2h-1.2zm1 .4h1.2v1.2h-1.2zm2.6-.3h1.2v1.2h-1.2zm3.4 .2h1.2v1.2h-1.2zm.6-.4h1.2v1.2h-1.2zm.6 .2h1.2v1.2h-1.2zm.2-.1h1.2v1.2h-1.2zm1 .3h1.2v1.2h-1.2zm1.6-.4h1.2v1.2h-1.2zm.4 .2h1.2v1.2h-1.2zm.4-.2h1.2v1.2h-1.2zm.1-.3h1.2v1.2h-1.2zm.7 .3h1.2v1.2h-1.2zm.9 .2h1.2v1.2h-1.2zm.3-.3h1.2v1.2h-1.2zm.4 .2h1.2v1.2h-1.2zm0-.4h1.2v1.2h-1.2zm1.5 .7h1.2v1.2h-1.2zm.5-.1h1.2v1.2h-1.2zm.2 .1h1.2v1.2h-1.2zm0-.8h1.2v1.2h-1.2zm.1 0h1.2v1.2h-1.2zm.4 .8h1.2v1.2h-1.2zm.2-.9h1.2v1.2h-1.2zm.1 0h1.2v1.2h-1.2zm.2 .5h1.2v1.2h-1.2zm.2-.5h1.2v1.2h-1.2zm.3 .2h1.2v1.2h-1.2zm0 .5h1.2v1.2h-1.2zm.2-.4h1.2v1.2h-1.2zm.1-.2h1.2v1.2h-1.2zm.3 .5h1.2v1.2h-1.2zm1.1-.1h1.2v1.2h-1.2zm1.1 .2h1.2v1.2h-1.2zm1.5-.1h1.2v1.2h-1.2zm.5-.1h1.2v1.2h-1.2zm.6-.3h1.2v1.2h-1.2zm1.5 .1h1.2v1.2h-1.2zm1.1 .3h1.2v1.2h-1.2zm4.3-.6h1.2v1.2h-1.2zm.8 .9h1.2v1.2h-1.2zm.3 .1h1.2v1.2h-1.2zm.2-.8h1.2v1.2h-1.2zm.7 .6h1.2v1.2h-1.2zm1.4-.1h1.2v1.2h-1.2zm.4 .1h1.2v1.2h-1.2zm1.5-.3h1.2v1.2h-1.2zm2.8 .3h1.2v1.2h-1.2zm.7 .2h1.2v1.2h-1.2zm1.4 0h1.2v1.2h-1.2zm.9 0h1.2v1.2h-1.2zm.9-.5h1.2v1.2h-1.2zm.1-.1h1.2v1.2h-1.2zm1.9-.2h1.2v1.2h-1.2zm.1 0h1.2v1.2h-1.2zm1.9-.1h1.2v1.2h-1.2zm.4-.1h1.2v1.2h-1.2zm.1 0h1.2v1.2h-1.2zm.5 .8h1.2v1.2h-1.2zm2.6-.5h1.2v1.2h-1.2zm.2 0h1.2v1.2h-1.2zm-47.3 1.4h1.2v1.2h-1.2zm2.2-.5h1.2v1.2h-1.2zm.4-.1h1.2v1.2h-1.2zm.9 .8h1.2v1.2h-1.2zm2.1-.8h1.2v1.2h-1.2zm.5 .2h1.2v1.2h-1.2zm2.5 0h1.2v1.2h-1.2zm.1 .6h1.2v1.2h-1.2zm.1-.2h1.2v1.2h-1.2zm.4 .2h1.2v1.2h-1.2zm.5-.2h1.2v1.2h-1.2zm.6-.6h1.2v1.2h-1.2zm.2 .4h1.2v1.2h-1.2zm.9 .4h1.2v1.2h-1.2zm.4-.5h1.2v1.2h-1.2zm.2 .2h1.2v1.2h-1.2zm0 .2h1.2v1.2h-1.2zm.5 .1h1.2v1.2h-1.2zm.8-.6h1.2v1.2h-1.2zm.2 0h1.2v1.2h-1.2zm.8-.1h1.2v1.2h-1.2zm.5 .4h1.2v1.2h-1.2zm.1-.2h1.2v1.2h-1.2zm1.1-.2h1.2v1.2h-1.2zm1 .6h1.2v1.2h-1.2zm0-.6h1.2v1.2h-1.2zm.4 .1h1.2v1.2h-1.2zm3.4-.1h1.2v1.2h-1.2zm.2-.1h1.2v1.2h-1.2zm.9 .7h1.2v1.2h-1.2zm1.8 .1h1.2v1.2h-1.2zm1.6 0h1.2v1.2h-1.2zm0 0h1.2v1.2h-1.2zm3.5-.6h1.2v1.2h-1.2zm3.7 .4h1.2v1.2h-1.2zm.8-.1h1.2v1.2h-1.2zm.3-.3h1.2v1.2h-1.2zm2.1-.2h1.2v1.2h-1.2zm5.1 .3h1.2v1.2h-1.2zm2.7 .5h1.2v1.2h-1.2zm0-.7h1.2v1.2h-1.2zm.4 .2h1.2v1.2h-1.2zm.6 .4h1.2v1.2h-1.2zm.4-.2h1.2v1.2h-1.2zm-47.3 .6h1.2v1.2h-1.2zm1.2 .8h1.2v1.2h-1.2zm.5 0h1.2v1.2h-1.2zm.4-.7h1.2v1.2h-1.2zm.1 .7h1.2v1.2h-1.2zm2.2-1h1.2v1.2h-1.2zm1.3 .9h1.2v1.2h-1.2zm1.8 0h1.2v1.2h-1.2zm.6 .1h1.2v1.2h-1.2zm.9-.3h1.2v1.2h-1.2zm.2-.3h1.2v1.2h-1.2zm.4-.4h1.2v1.2h-1.2zm0 0h1.2v1.2h-1.2zm.1 .5h1.2v1.2h-1.2zm.4-.4h1.2v1.2h-1.2zm1.1 .8h1.2v1.2h-1.2zm.2-.1h1.2v1.2h-1.2zm.4-.6h1.2v1.2h-1.2zm.3 .8h1.2v1.2h-1.2zm0-.3h1.2v1.2h-1.2zm.1-.2h1.2v1.2h-1.2zm1.9 .4h1.2v1.2h-1.2zm.1 .1h1.2v1.2h-1.2zm.7-.1h1.2v1.2h-1.2zm.1 .1h1.2v1.2h-1.2zm.2-.7h1.2v1.2h-1.2zm.5 .7h1.2v1.2h-1.2zm.7-1h1.2v1.2h-1.2zm.2 1h1.2v1.2h-1.2zm.1-.4h1.2v1.2h-1.2zm.6-.5h1.2v1.2h-1.2zm.8 .8h1.2v1.2h-1.2zm.4-.1h1.2v1.2h-1.2zm.2-.2h1.2v1.2h-1.2zm.2-.2h1.2v1.2h-1.2zm.3 .3h1.2v1.2h-1.2zm.5-.4h1.2v1.2h-1.2zm.1 .6h1.2v1.2h-1.2zm1.5-.4h1.2v1.2h-1.2zm.8-.1h1.2v1.2h-1.2zm.4 .6h1.2v1.2h-1.2zm1.2-.9h1.2v1.2h-1.2zm1.2 .5h1.2v1.2h-1.2zm1.3 .2h1.2v1.2h-1.2zm2.9 .2h1.2v1.2h-1.2zm.1-.2h1.2v1.2h-1.2zm.3-.1h1.2v1.2h-1.2zm1.4 0h1.2v1.2h-1.2zm.8 .1h1.2v1.2h-1.2zm.1 0h1.2v1.2h-1.2zm.6 .1h1.2v1.2h-1.2zm1.2-.4h1.2v1.2h-1.2zm.3 .2h1.2v1.2h-1.2zm.2-.6h1.2v1.2h-1.2zm.5 .4h1.2v1.2h-1.2zm.4-.5h1.2v1.2h-1.2zm1.1 .9h1.2v1.2h-1.2zm1.5-.9h1.2v1.2h-1.2zm.7 .7h1.2v1.2h-1.2zm.4-.5h1.2v1.2h-1.2zm1.5-.2h1.2v1.2h-1.2zm1.1 .9h1.2v1.2h-1.2zm1.3-.1h1.2v1.2h-1.2zm2.2-.4h1.2v1.2h-1.2zm.2-.4h1.2v1.2h-1.2zm0 .2h1.2v1.2h-1.2zm.2 .8h1.2v1.2h-1.2zm.8-.9h1.2v1.2h-1.2zm2.1 .6h1.2v1.2h-1.2zm-48.7 1h1.2v1.2h-1.2zm1.3-.4h1.2v1.2h-1.2zm4.4 .3h1.2v1.2h-1.2zm1.7 0h1.2v1.2h-1.2zm1.2-.2h1.2v1.2h-1.2zm1.2 .2h1.2v1.2h-1.2zm1.5 .2h1.2v1.2h-1.2zm1-.6h1.2v1.2h-1.2zm.9 .2h1.2v1.2h-1.2zm0 .1h1.2v1.2h-1.2zm.9 .1h1.2v1.2h-1.2zm.4 .3h1.2v1.2h-1.2zm.6-.7h1.2v1.2h-1.2zm.4 .4h1.2v1.2h-1.2zm1.9-.4h1.2v1.2h-1.2zm.4-.1h1.2v1.2h-1.2zm.6 .5h1.2v1.2h-1.2zm.1-.4h1.2v1.2h-1.2zm.7 .6h1.2v1.2h-1.2zm3.9-.5h1.2v1.2h-1.2zm.6 .1h1.2v1.2h-1.2zm1.6 .4h1.2v1.2h-1.2zm1.6-.2h1.2v1.2h-1.2zm2.9 .3h1.2v1.2h-1.2zm3.1-.2h1.2v1.2h-1.2zm.1 .2h1.2v1.2h-1.2zm.3-.1h1.2v1.2h-1.2zm1.4 .1h1.2v1.2h-1.2zm1.8-.3h1.2v1.2h-1.2zm0-.1h1.2v1.2h-1.2zm.7 .1h1.2v1.2h-1.2zm4 0h1.2v1.2h-1.2zm5.3 0h1.2v1.2h-1.2zm1.8-.1h1.2v1.2h-1.2zm0 .2h1.2v1.2h-1.2zm-48.8 .3h1.2v1.2h-1.2zm1.6 0h1.2v1.2h-1.2zm3.9 .7h1.2v1.2h-1.2zm.8-.1h1.2v1.2h-1.2zm1.9-.2h1.2v1.2h-1.2zm3.3-.3h1.2v1.2h-1.2zm1 .2h1.2v1.2h-1.2zm.7 .2h1.2v1.2h-1.2zm.2 .3h1.2v1.2h-1.2zm.2-.2h1.2v1.2h-1.2zm.4 .1h1.2v1.2h-1.2zm1.3-.4h1.2v1.2h-1.2zm.2-.3h1.2v1.2h-1.2zm.2 .5h1.2v1.2h-1.2zm.5-.4h1.2v1.2h-1.2zm.5 .8h1.2v1.2h-1.2zm.4 .1h1.2v1.2h-1.2zm1.3-.9h1.2v1.2h-1.2zm1.6 .7h1.2v1.2h-1.2zm.5 .1h1.2v1.2h-1.2zm0-.2h1.2v1.2h-1.2zm0-.6h1.2v1.2h-1.2zm.6-.1h1.2v1.2h-1.2zm.2 .5h1.2v1.2h-1.2zm.5-.3h1.2v1.2h-1.2zm.8 .1h1.2v1.2h-1.2zm.8-.2h1.2v1.2h-1.2zm.2 .1h1.2v1.2h-1.2zm.9 .8h1.2v1.2h-1.2zm.6-.8h1.2v1.2h-1.2zm1.3 0h1.2v1.2h-1.2zm.3-.1h1.2v1.2h-1.2zm1.6 .1h1.2v1.2h-1.2zm1.3 0h1.2v1.2h-1.2zm2.6 .4h1.2v1.2h-1.2zm2.1 .1h1.2v1.2h-1.2zm1.1-.6h1.2v1.2h-1.2zm.1 .5h1.2v1.2h-1.2zm.4-.6h1.2v1.2h-1.2zm6.5 .5h1.2v1.2h-1.2zm4.5 .1h1.2v1.2h-1.2zm.7-.5h1.2v1.2h-1.2zm-42.2 1.3h1.2v1.2h-1.2zm4.9 .4h1.2v1.2h-1.2zm1.4-.4h1.2v1.2h-1.2zm.8-.1h1.2v1.2h-1.2zm2.4 .4h1.2v1.2h-1.2zm1.6-.5h1.2v1.2h-1.2zm3.2 .1h1.2v1.2h-1.2zm.2-.2h1.2v1.2h-1.2zm7.8 .8h1.2v1.2h-1.2zm1.4-.2h1.2v1.2h-1.2zm1.6-.1h1.2v1.2h-1.2zm2.3-.4h1.2v1.2h-1.2zm4.4 .6h1.2v1.2h-1.2zm1.9-.2h1.2v1.2h-1.2zm2.9-.1h1.2v1.2h-1.2zm5 .1h1.2v1.2h-1.2zm3.1-.3h1.2v1.2h-1.2zm1.8 0h1.2v1.2h-1.2zm-51.3 .9h1.2v1.2h-1.2zm.6 0h1.2v1.2h-1.2zm.1 .4h1.2v1.2h-1.2zm2.6-.5h1.2v1.2h-1.2zm1.2 .2h1.2v1.2h-1.2zm1.9 .3h1.2v1.2h-1.2zm.9-.6h1.2v1.2h-1.2zm.3 0h1.2v1.2h-1.2zm4.4 .9h1.2v1.2h-1.2zm.6 .1h1.2v1.2h-1.2zm.1-.7h1.2v1.2h-1.2zm.1-.3h1.2v1.2h-1.2zm.5 .5h1.2v1.2h-1.2zm.2-.2h1.2v1.2h-1.2zm.5 .6h1.2v1.2h-1.2zm.3-.7h1.2v1.2h-1.2zm.1-.1h1.2v1.2h-1.2zm.3 .2h1.2v1.2h-1.2zm.6 .7h1.2v1.2h-1.2zm1.1-.4h1.2v1.2h-1.2zm.4-.1h1.2v1.2h-1.2zm.5-.5h1.2v1.2h-1.2zm.8 .5h1.2v1.2h-1.2zm.4-.5h1.2v1.2h-1.2zm.2 .1h1.2v1.2h-1.2zm2 .7h1.2v1.2h-1.2zm.3-.8h1.2v1.2h-1.2zm1.9 .6h1.2v1.2h-1.2zm2.2 .4h1.2v1.2h-1.2zm.2-.5h1.2v1.2h-1.2zm.3 .4h1.2v1.2h-1.2zm4.4 .1h1.2v1.2h-1.2zm3.1-.5h1.2v1.2h-1.2zm.4 .3h1.2v1.2h-1.2zm0-.1h1.2v1.2h-1.2zm.7 .1h1.2v1.2h-1.2zm3.3-.5h1.2v1.2h-1.2zm1.5 .1h1.2v1.2h-1.2zm.3 0h1.2v1.2h-1.2zm1.7-.4h1.2v1.2h-1.2zm3.1 .4h1.2v1.2h-1.2zm1.4 .6h1.2v1.2h-1.2zm.8-.7h1.2v1.2h-1.2zm.8 .6h1.2v1.2h-1.2zm5.1-.6h1.2v1.2h-1.2zm-46.2 1h1.2v1.2h-1.2zm.6 .5h1.2v1.2h-1.2zm2.9-.1h1.2v1.2h-1.2zm2-.2h1.2v1.2h-1.2zm1.6-.1h1.2v1.2h-1.2zm0-.2h1.2v1.2h-1.2zm1.9 .5h1.2v1.2h-1.2zm3.3 .1h1.2v1.2h-1.2zm.5 0h1.2v1.2h-1.2zm.5-.4h1.2v1.2h-1.2zm.6 .3h1.2v1.2h-1.2zm1.9-.6h1.2v1.2h-1.2zm.2 .8h1.2v1.2h-1.2zm1.4-.3h1.2v1.2h-1.2zm.7-.2h1.2v1.2h-1.2zm.5-.1h1.2v1.2h-1.2zm.2 0h1.2v1.2h-1.2zm1 .1h1.2v1.2h-1.2zm4.9 .5h1.2v1.2h-1.2zm.5-.2h1.2v1.2h-1.2zm.5-.1h1.2v1.2h-1.2zm2.3-.3h1.2v1.2h-1.2zm.5 .5h1.2v1.2h-1.2zm2-.6h1.2v1.2h-1.2zm.9 .4h1.2v1.2h-1.2zm2.9-.1h1.2v1.2h-1.2zm4.3-.1h1.2v1.2h-1.2zm.8 .1h1.2v1.2h-1.2zm.6-.3h1.2v1.2h-1.2zm2.1 .7h1.2v1.2h-1.2zm.2-.5h1.2v1.2h-1.2zm1 .3h1.2v1.2h-1.2zm.1 .2h1.2v1.2h-1.2zm.3-.2h1.2v1.2h-1.2zm0-.6h1.2v1.2h-1.2zm.2 .7h1.2v1.2h-1.2zm.7-.4h1.2v1.2h-1.2zm-47.8 1.2h1.2v1.2h-1.2zm6.7-.5h1.2v1.2h-1.2zm1 .2h1.2v1.2h-1.2zm1.5 .6h1.2v1.2h-1.2zm.3-.8h1.2v1.2h-1.2zm.4 .1h1.2v1.2h-1.2zm3.8 .4h1.2v1.2h-1.2zm1.1 .1h1.2v1.2h-1.2zm1.6 .3h1.2v1.2h-1.2zm.3-.2h1.2v1.2h-1.2zm.9-.5h1.2v1.2h-1.2zm.7-.1h1.2v1.2h-1.2zm1.2 .2h1.2v1.2h-1.2zm1.3-.4h1.2v1.2h-1.2zm1.2 .5h1.2v1.2h-1.2zm2.8 .3h1.2v1.2h-1.2zm.9 0h1.2v1.2h-1.2zm3 .1h1.2v1.2h-1.2zm.9-.8h1.2v1.2h-1.2zm1.5 .5h1.2v1.2h-1.2zm.4-.4h1.2v1.2h-1.2zm1.6 .8h1.2v1.2h-1.2zm1.6-.2h1.2v1.2h-1.2zm.4-.7h1.2v1.2h-1.2zm6.2-.1h1.2v1.2h-1.2zm.1 0h1.2v1.2h-1.2zm1.4 .4h1.2v1.2h-1.2zm0 .6h1.2v1.2h-1.2zm.7-.8h1.2v1.2h-1.2zm.1 .6h1.2v1.2h-1.2zm.3-.1h1.2v1.2h-1.2zm.1-.6h1.2v1.2h-1.2zm.1 0h1.2v1.2h-1.2zm.1 .4h1.2v1.2h-1.2zm.2 .2h1.2v1.2h-1.2zm.3 .3h1.2v1.2h-1.2zm0-.6h1.2v1.2h-1.2zm.1-.2h1.2v1.2h-1.2zm.4 .5h1.2v1.2h-1.2zm0 0h1.2v1.2h-1.2zm.5 0h1.2v1.2h-1.2zm.3 .3h1.2v1.2h-1.2zm.3-.9h1.2v1.2h-1.2zm.2 .9h1.2v1.2h-1.2zm.3-.5h1.2v1.2h-1.2zm.6 .4h1.2v1.2h-1.2zm.5-.4h1.2v1.2h-1.2zm1.2-.1h1.2v1.2h-1.2zm-46.3 .8h1.2v1.2h-1.2zm1.9 0h1.2v1.2h-1.2zm4.5 .2h1.2v1.2h-1.2zm.3-.1h1.2v1.2h-1.2zm3.7-.2h1.2v1.2h-1.2zm4.9 .1h1.2v1.2h-1.2zm.3-.1h1.2v1.2h-1.2zm2.7 .7h1.2v1.2h-1.2zm.9-.5h1.2v1.2h-1.2zm.2 .5h1.2v1.2h-1.2zm.9-.1h1.2v1.2h-1.2zm3.3-.3h1.2v1.2h-1.2zm.7 .2h1.2v1.2h-1.2zm3.8 .3h1.2v1.2h-1.2zm3.8-.1h1.2v1.2h-1.2zm4.2-.6h1.2v1.2h-1.2zm1.1 .2h1.2v1.2h-1.2zm2 .1h1.2v1.2h-1.2zm1.2-.3h1.2v1.2h-1.2zm.7 0h1.2v1.2h-1.2zm.1 .3h1.2v1.2h-1.2zm.6 .2h1.2v1.2h-1.2zm.5-.2h1.2v1.2h-1.2zm.5-.1h1.2v1.2h-1.2zm.2 .1h1.2v1.2h-1.2zm.1-.3h1.2v1.2h-1.2zm.6 .3h1.2v1.2h-1.2zm.8-.3h1.2v1.2h-1.2zm1.3 .7h1.2v1.2h-1.2zm0-.4h1.2v1.2h-1.2zm.5 .2h1.2v1.2h-1.2zm-55.4 .5h1.2v1.2h-1.2zm10.5 .1h1.2v1.2h-1.2zm2.1-.2h1.2v1.2h-1.2zm9.5 .8h1.2v1.2h-1.2zm5.6-.6h1.2v1.2h-1.2zm.8 0h1.2v1.2h-1.2zm.7-.2h1.2v1.2h-1.2zm.4 .3h1.2v1.2h-1.2zm.2-.3h1.2v1.2h-1.2zm2.4 .5h1.2v1.2h-1.2zm6.5 .2h1.2v1.2h-1.2zm8.2 0h1.2v1.2h-1.2zm.3 .1h1.2v1.2h-1.2zm.4 .1h1.2v1.2h-1.2zm.2-.3h1.2v1.2h-1.2zm.3 .1h1.2v1.2h-1.2zm.9-.7h1.2v1.2h-1.2zm.1 0h1.2v1.2h-1.2zm.3 .5h1.2v1.2h-1.2zm.9 .4h1.2v1.2h-1.2zm.2-.3h1.2v1.2h-1.2zm.7 0h1.2v1.2h-1.2zm.4-.6h1.2v1.2h-1.2zm0 .5h1.2v1.2h-1.2zm1 0h1.2v1.2h-1.2zm0-.3h1.2v1.2h-1.2zm0 .7h1.2v1.2h-1.2zm.4-.4h1.2v1.2h-1.2zm.5-.5h1.2v1.2h-1.2zm.7 .5h1.2v1.2h-1.2zm.3-.6h1.2v1.2h-1.2zm.2 1h1.2v1.2h-1.2zm1.2-.8h1.2v1.2h-1.2zm-26.8 1.1h1.2v1.2h-1.2zm.5 .2h1.2v1.2h-1.2zm1.6 0h1.2v1.2h-1.2zm1.6 .4h1.2v1.2h-1.2zm15.6-.6h1.2v1.2h-1.2zm.7-.2h1.2v1.2h-1.2zm.2 .3h1.2v1.2h-1.2zm1.6 .3h1.2v1.2h-1.2zm.2-.5h1.2v1.2h-1.2zm.3 .2h1.2v1.2h-1.2zm0 .1h1.2v1.2h-1.2zm2.3 .1h1.2v1.2h-1.2zm.4 0h1.2v1.2h-1.2zm.5 .3h1.2v1.2h-1.2zm.4-.4h1.2v1.2h-1.2zm-43.5 1.3h1.2v1.2h-1.2zm7.1-.4h1.2v1.2h-1.2zm2.2 .6h1.2v1.2h-1.2zm5.6-.8h1.2v1.2h-1.2zm3.9-.2h1.2v1.2h-1.2zm.2 1h1.2v1.2h-1.2zm.3-.5h1.2v1.2h-1.2zm2.6-.1h1.2v1.2h-1.2zm.6 .1h1.2v1.2h-1.2zm12.2-.2h1.2v1.2h-1.2zm1.6 .2h1.2v1.2h-1.2zm2-.2h1.2v1.2h-1.2zm.3-.2h1.2v1.2h-1.2zm1.3 .4h1.2v1.2h-1.2zm.1-.3h1.2v1.2h-1.2zm.2-.1h1.2v1.2h-1.2zm.2 .7h1.2v1.2h-1.2zm-27.2 .4h1.2v1.2h-1.2zm3 .2h1.2v1.2h-1.2zm.2 .1h1.2v1.2h-1.2zm1.2 .3h1.2v1.2h-1.2zm1.9-.3h1.2v1.2h-1.2zm.2 .1h1.2v1.2h-1.2zm3.3-.4h1.2v1.2h-1.2zm15.2 .5h1.2v1.2h-1.2zm.5-.4h1.2v1.2h-1.2zm.3 0h1.2v1.2h-1.2zm.7-.1h1.2v1.2h-1.2zm.2 .7h1.2v1.2h-1.2zm-44.8 1h1.2v1.2h-1.2zm7.3-.2h1.2v1.2h-1.2zm7.5-.6h1.2v1.2h-1.2zm4.1 .3h1.2v1.2h-1.2zm.3 .5h1.2v1.2h-1.2zm5-.3h1.2v1.2h-1.2zm5.6 0h1.2v1.2h-1.2zm8.9-.6h1.2v1.2h-1.2zm5.4 .9h1.2v1.2h-1.2zm-43.3 .2h1.2v1.2h-1.2zm24.1 .7h1.2v1.2h-1.2zm1.2-.5h1.2v1.2h-1.2zm3.4-.1h1.2v1.2h-1.2zm-11.4 1.7h1.2v1.2h-1.2zm3 .1h1.2v1.2h-1.2zm1.6-.9h1.2v1.2h-1.2zm1.3 .3h1.2v1.2h-1.2zm1.3 .1h1.2v1.2h-1.2zm4.6 .1h1.2v1.2h-1.2zm-12.1 .7h1.2v1.2h-1.2zm.8 .5h1.2v1.2h-1.2zm9.5-.4h1.2v1.2h-1.2zm-34.8 1.6h1.2v1.2h-1.2zm18.3-.6h1.2v1.2h-1.2zm1.6 .3h1.2v1.2h-1.2zm4.5 0h1.2v1.2h-1.2zm24.4 .6h1.2v1.2h-1.2zm-32.2 1.6h1.2v1.2h-1.2zm3.4-.4h1.2v1.2h-1.2zm.6-.2h1.2v1.2h-1.2zm-4.5 .9h1.2v1.2h-1.2zm.7 .7h1.2v1.2h-1.2zm.2-.2h1.2v1.2h-1.2zm11-.2h1.2v1.2h-1.2zm7.9-.3h1.2v1.2h-1.2zm-22.4 1.3h1.2v1.2h-1.2zm1.6 .5h1.2v1.2h-1.2zm2.8-1h1.2v1.2h-1.2zm.1 .1h1.2v1.2h-1.2zm-3.7 1.2h1.2v1.2h-1.2zm1.8 .5h1.2v1.2h-1.2zm.7-.5h1.2v1.2h-1.2zm-3.5 1.1h1.2v1.2h-1.2zm.8 .5h1.2v1.2h-1.2zm.3-.4h1.2v1.2h-1.2zm.4 .1h1.2v1.2h-1.2zm.8 .1h1.2v1.2h-1.2zm.3-.1h1.2v1.2h-1.2zm0-.3h1.2v1.2h-1.2zm.8 .6h1.2v1.2h-1.2zm.6-.6h1.2v1.2h-1.2zm1.5-.1h1.2v1.2h-1.2zm.3 .1h1.2v1.2h-1.2zm0 .5h1.2v1.2h-1.2zm.7-.3h1.2v1.2h-1.2zm-4.8 .8h1.2v1.2h-1.2zm.4 .6h1.2v1.2h-1.2zm2.1-.3h1.2v1.2h-1.2zm-4.2 .8h1.2v1.2h-1.2zm1.3-.3h1.2v1.2h-1.2zm.9 .5h1.2v1.2h-1.2zm.7-.3h1.2v1.2h-1.2zm1.8-.3h1.2v1.2h-1.2zm.3 .2h1.2v1.2h-1.2zm.2 .3h1.2v1.2h-1.2zm2 .3h1.2v1.2h-1.2zm17.5-.8h1.2v1.2h-1.2zm-31.6 1.7h1.2v1.2h-1.2zm2.8 .2h1.2v1.2h-1.2zm9.3-.4h1.2v1.2h-1.2zm-4.7 .8h1.2v1.2h-1.2zm1.7 .2h1.2v1.2h-1.2zm.8 2.4h1.2v1.2h-1.2zm1.7 1.7h1.2v1.2h-1.2zm31.1-.6h1.2v1.2h-1.2zm-6.7 2.3h1.2v1.2h-1.2z"/>
<line x1="445.6" y1="434.2" x2="445.6" y2="417.2" stroke="#111" stroke-width="0.7"/>
<line x1="445.6" y1="434.2" x2="464.6" y2="434.2" stroke="#111" stroke-width="0.7"/>
<polygon points="445.60,416.72 446.68,419.12 444.52,419.12" fill="#111"/>
<polygon points="465.08,434.20 462.68,435.28 462.68,433.12" fill="#111"/>
<text x="520.9" y="307.5" font-size="14" font-weight="bold" fill="#000">G</text>
<line x1="550.5" y1="308" x2="550.5" y2="357" stroke="#ececec" stroke-width="0.5"/>
<line x1="565.6" y1="308" x2="565.6" y2="357" stroke="#ececec" stroke-width="0.5"/>
<line x1="580.7" y1="308" x2="580.7" y2="357" stroke="#ececec" stroke-width="0.5"/>
<line x1="595.8" y1="308" x2="595.8" y2="357" stroke="#ececec" stroke-width="0.5"/>
<line x1="536" y1="312.7" x2="604" y2="312.7" stroke="#ececec" stroke-width="0.5"/>
<line x1="536" y1="322.6" x2="604" y2="322.6" stroke="#ececec" stroke-width="0.5"/>
<line x1="536" y1="332.4" x2="604" y2="332.4" stroke="#ececec" stroke-width="0.5"/>
<line x1="536" y1="342.3" x2="604" y2="342.3" stroke="#ececec" stroke-width="0.5"/>
<line x1="536" y1="351.5" x2="604" y2="351.5" stroke="#ececec" stroke-width="0.5"/>
<path d="M541.3,341.0 C541.2,340.2 541.9,339.8 543.2,339.4 C544.5,339.0 546.9,338.9 549.2,338.8 C551.5,338.7 554.8,338.4 557.0,338.6 C559.2,338.9 560.5,339.9 562.3,340.3 C564.1,340.7 565.9,341.2 567.6,341.0 C569.4,340.8 571.0,339.9 572.8,339.0 C574.5,338.1 576.5,336.8 578.1,335.7 C579.8,334.6 581.6,333.2 582.7,332.4 C583.8,331.6 584.5,330.8 584.6,331.1 C584.7,331.4 584.4,332.5 583.3,334.4 C582.2,336.3 579.9,339.9 578.1,342.3 C576.4,344.7 574.5,346.8 572.8,348.9 C571.0,351.0 568.8,354.1 567.6,355.2 C566.4,356.3 566.9,355.9 565.6,355.7 C564.3,355.5 561.8,354.4 559.7,353.9 C557.6,353.4 555.1,353.4 553.1,352.5 C551.1,351.6 549.3,349.6 547.8,348.2 C546.3,346.8 545.0,345.5 543.9,344.3 C542.8,343.1 541.4,341.8 541.3,341.0 Z" fill="#a8a8a8"/>
<path fill="#c0a0b8" d="M555.3 339.8h.8v.8h-.8zm.7 0h.8v.8h-.8zm2.6 .7h.8v.8h-.8zm3.2-.2h.8v.8h-.8zm-6.9 .6h.8v.8h-.8zm9 .5h.8v.8h-.8zm2.5-.4h.8v.8h-.8zm.2-.1h.8v.8h-.8zm-14 .9h.8v.8h-.8zm2.5 .1h.8v.8h-.8zm4.5-.1h.8v.8h-.8zm5.3 .3h.8v.8h-.8zm-10.8 1h.8v.8h-.8zm.3 0h.8v.8h-.8zm2 .2h.8v.8h-.8zm3.5-.5h.8v.8h-.8zm2.2 .2h.8v.8h-.8zm3.5 .3h.8v.8h-.8zm-6.8 .5h.8v.8h-.8zm.2 .5h.8v.8h-.8zm5.8 .2h.8v.8h-.8zm6.5-.8h.8v.8h-.8zm-18.9 1h.8v.8h-.8zm4 .5h.8v.8h-.8zm.3 0h.8v.8h-.8zm1.1-.2h.8v.8h-.8zm3.6-.4h.8v.8h-.8zm.3 .6h.8v.8h-.8zm3.7-.5h.8v.8h-.8zm5.2 .6h.8v.8h-.8zm-15.7 .5h.8v.8h-.8zm2.5 .4h.8v.8h-.8zm3-.5h.8v.8h-.8zm.4-.1h.8v.8h-.8zm4.7 .5h.8v.8h-.8zm-8.5 .9h.8v.8h-.8zm13.7-.4h.8v.8h-.8zm-14.1 1.5h.8v.8h-.8zm1.5-.3h.8v.8h-.8zm.2 .1h.8v.8h-.8zm6.8-.2h.8v.8h-.8zm1.5 .1h.8v.8h-.8zm-11.2 1.1h.8v.8h-.8zm3.5 .5h.8v.8h-.8zm.3-.6h.8v.8h-.8zm.5-.2h.8v.8h-.8zm5.5 .2h.8v.8h-.8zm.3-.1h.8v.8h-.8zm-11.5 1h.8v.8h-.8zm.6 .5h.8v.8h-.8zm3.5 .1h.8v.8h-.8zm2.5 .2h.8v.8h-.8zm.8 0h.8v.8h-.8zm7.6-.9h.8v.8h-.8zm-11.4 1.8h.8v.8h-.8zm1-.2h.8v.8h-.8zm5.8 0h.8v.8h-.8zm-9.7 1.3h.8v.8h-.8zm.1-.7h.8v.8h-.8zm1.5 .4h.8v.8h-.8zm1.3-.7h.8v.8h-.8zm2.3 1.7h.8v.8h-.8zm2.1 .2h.8v.8h-.8zm1.1-.3h.8v.8h-.8zm2.4 .7h.8v.8h-.8z"/>
<path fill="#9c9c9c" d="M550.4 338.9h.8v.8h-.8zm-7.9 1.6h.8v.8h-.8zm.4-.7h.8v.8h-.8zm5.9-.2h.8v.8h-.8zm.8 .5h.8v.8h-.8zm1.9-.4h.8v.8h-.8zm-6.2 1.4h.8v.8h-.8zm3.4 .2h.8v.8h-.8zm-1.9 1.7h.8v.8h-.8zm2.7 .3h.8v.8h-.8zm1.4-.5h.8v.8h-.8zm-7 .8h.8v.8h-.8zm1.4 .4h.8v.8h-.8zm.2 .1h.8v.8h-.8zm3.6-.6h.8v.8h-.8zm.9 .8h.8v.8h-.8zm-3.6 .5h.8v.8h-.8zm.7 .4h.8v.8h-.8zm-.5 1.2h.8v.8h-.8zm.7-.7h.8v.8h-.8zm.1 .6h.8v.8h-.8zm3.9 3.4h.8v.8h-.8z"/>
<path fill="#b87aae" d="M581.6 333.4h.8v.8h-.8zm.8 0h.8v.8h-.8zm.1-.4h.8v.8h-.8zm.1 .1h.8v.8h-.8zm.9 .2h.8v.8h-.8zm-2.5 1h.8v.8h-.8zm.2 .1h.8v.8h-.8zm0 0h.8v.8h-.8zm.7-.9h.8v.8h-.8zm.2 1h.8v.8h-.8zm.9-.2h.8v.8h-.8zm.5-.6h.8v.8h-.8zm-4 1.7h.8v.8h-.8zm.8-.4h.8v.8h-.8zm.2 .3h.8v.8h-.8zm2-.3h.8v.8h-.8zm.2-.4h.8v.8h-.8zm-4.5 1.1h.8v.8h-.8zm.6 .5h.8v.8h-.8zm.1-.6h.8v.8h-.8zm1.9 .8h.8v.8h-.8zm-4.3 .4h.8v.8h-.8zm.1-.1h.8v.8h-.8zm.8 .6h.8v.8h-.8zm.2 .1h.8v.8h-.8zm.4 0h.8v.8h-.8zm.4 0h.8v.8h-.8zm.7-.7h.8v.8h-.8zm.1 .6h.8v.8h-.8zm0-.6h.8v.8h-.8zm0 .7h.8v.8h-.8zm.6-.4h.8v.8h-.8zm.6 .2h.8v.8h-.8zm.1 .2h.8v.8h-.8zm-6.4 1.1h.8v.8h-.8zm.8-.2h.8v.8h-.8zm.3-.3h.8v.8h-.8zm.2 .5h.8v.8h-.8zm.2-.6h.8v.8h-.8zm0-.3h.8v.8h-.8zm.8-.1h.8v.8h-.8zm.4 .9h.8v.8h-.8zm0-.1h.8v.8h-.8zm.8 .1h.8v.8h-.8zm1.2-.8h.8v.8h-.8zm0 .5h.8v.8h-.8zm.4-.4h.8v.8h-.8zm.6 .4h.8v.8h-.8zm-7 1.3h.8v.8h-.8zm1.1 0h.8v.8h-.8zm0-.2h.8v.8h-.8zm1.6-.6h.8v.8h-.8zm0 .1h.8v.8h-.8zm.1-.1h.8v.8h-.8zm.1 .4h.8v.8h-.8zm1.8-.1h.8v.8h-.8zm.3-.1h.8v.8h-.8zm1.4 .4h.8v.8h-.8zm-9.3 1.3h.8v.8h-.8zm0-.2h.8v.8h-.8zm1.7-.2h.8v.8h-.8zm1 .2h.8v.8h-.8zm.3 .1h.8v.8h-.8zm.3-.9h.8v.8h-.8zm.3 .7h.8v.8h-.8zm.4-.3h.8v.8h-.8zm.4-.4h.8v.8h-.8zm.3 .2h.8v.8h-.8zm2.1 .3h.8v.8h-.8zm.2 .5h.8v.8h-.8zm.3-.8h.8v.8h-.8zm.4 .2h.8v.8h-.8zm.2 0h.8v.8h-.8zm.2-.2h.8v.8h-.8zm.7 .2h.8v.8h-.8zm.6 0h.8v.8h-.8zm-21.3 1.2h.8v.8h-.8zm1.3-.2h.8v.8h-.8zm3.6 .3h.8v.8h-.8zm.6-.2h.8v.8h-.8zm1.4 .2h.8v.8h-.8zm5-.6h.8v.8h-.8zm.4 .3h.8v.8h-.8zm.8 .1h.8v.8h-.8zm.4 .2h.8v.8h-.8zm1.1-.4h.8v.8h-.8zm.5 .3h.8v.8h-.8zm.1-.3h.8v.8h-.8zm1 .1h.8v.8h-.8zm1.8 .3h.8v.8h-.8zm.6-.6h.8v.8h-.8zm1.8 .8h.8v.8h-.8zm0-.8h.8v.8h-.8zm.1 0h.8v.8h-.8zm0 0h.8v.8h-.8zm.1 .4h.8v.8h-.8zm-19.1 .5h.8v.8h-.8zm1.5 .8h.8v.8h-.8zm3.5-.2h.8v.8h-.8zm4-.6h.8v.8h-.8zm1.3 .9h.8v.8h-.8zm1.8-.5h.8v.8h-.8zm.7 .1h.8v.8h-.8zm.4 .4h.8v.8h-.8zm.2-.2h.8v.8h-.8zm0-.2h.8v.8h-.8zm1.1 .3h.8v.8h-.8zm.5-.2h.8v.8h-.8zm.9-.6h.8v.8h-.8zm.6 0h.8v.8h-.8zm.9 .7h.8v.8h-.8zm.4 .3h.8v.8h-.8zm.9-.5h.8v.8h-.8zm.2-.4h.8v.8h-.8zm-18 1.5h.8v.8h-.8zm.2-.1h.8v.8h-.8zm2.1 .2h.8v.8h-.8zm1.6-.4h.8v.8h-.8zm.3 .4h.8v.8h-.8zm2.6-.3h.8v.8h-.8zm.4 .1h.8v.8h-.8zm.8-.1h.8v.8h-.8zm1.3-.1h.8v.8h-.8zm.6 .3h.8v.8h-.8zm1.2 .2h.8v.8h-.8zm.8-.7h.8v.8h-.8zm1.4 .4h.8v.8h-.8zm1.1-.2h.8v.8h-.8zm.2 0h.8v.8h-.8zm.5-.1h.8v.8h-.8zm1.1 .6h.8v.8h-.8zm.4-.6h.8v.8h-.8zm-14.4 1.8h.8v.8h-.8zm3.7-.5h.8v.8h-.8zm2 .5h.8v.8h-.8zm2.2-1h.8v.8h-.8zm.5 .1h.8v.8h-.8zm.5 .7h.8v.8h-.8zm0-.6h.8v.8h-.8zm.5 .5h.8v.8h-.8zm.5-.7h.8v.8h-.8zm.3 .3h.8v.8h-.8zm.2-.3h.8v.8h-.8zm1 .1h.8v.8h-.8zm.2 .2h.8v.8h-.8zm1.2-.3h.8v.8h-.8zm.2 0h.8v.8h-.8zm.3 .9h.8v.8h-.8zm.8-.9h.8v.8h-.8zm-17.9 1.4h.8v.8h-.8zm.8 0h.8v.8h-.8zm1-.1h.8v.8h-.8zm1.6 0h.8v.8h-.8zm2.2 .1h.8v.8h-.8zm0 .4h.8v.8h-.8zm2.6-.6h.8v.8h-.8zm2.8 0h.8v.8h-.8zm.2 .1h.8v.8h-.8zm1.2 .6h.8v.8h-.8zm1.8-.5h.8v.8h-.8zm.8-.1h.8v.8h-.8zm.3-.1h.8v.8h-.8zm1.3 .3h.8v.8h-.8zm-15.8 1.5h.8v.8h-.8zm3.3-1h.8v.8h-.8zm4.4 .7h.8v.8h-.8zm0-.1h.8v.8h-.8zm1 0h.8v.8h-.8zm1.2 .1h.8v.8h-.8zm.4-.2h.8v.8h-.8zm.1-.4h.8v.8h-.8zm.2-.1h.8v.8h-.8zm.2 .6h.8v.8h-.8zm.4 .1h.8v.8h-.8zm.6 .3h.8v.8h-.8zm.5-.4h.8v.8h-.8zm.5 .1h.8v.8h-.8zm.1 .2h.8v.8h-.8zm.7-.9h.8v.8h-.8zm.1 .4h.8v.8h-.8zm.2 .1h.8v.8h-.8zm0-.2h.8v.8h-.8zm.8 0h.8v.8h-.8zm-13.6 1h.8v.8h-.8zm1.4 .2h.8v.8h-.8zm2.7 .4h.8v.8h-.8zm.1-.6h.8v.8h-.8zm.8 .2h.8v.8h-.8zm1.3 .1h.8v.8h-.8zm.4 .3h.8v.8h-.8zm.5-.2h.8v.8h-.8zm.3 .1h.8v.8h-.8zm.3-.1h.8v.8h-.8zm.1 0h.8v.8h-.8zm1.1-.4h.8v.8h-.8zm.9 .4h.8v.8h-.8zm.6-.1h.8v.8h-.8zm.2 0h.8v.8h-.8zm.8 .3h.8v.8h-.8zm1.2 0h.8v.8h-.8zm0-.7h.8v.8h-.8zm-11.7 1.3h.8v.8h-.8zm3.6 .5h.8v.8h-.8zm.7-.7h.8v.8h-.8zm.5 .4h.8v.8h-.8zm2.3 0h.8v.8h-.8zm.8-.6h.8v.8h-.8zm1.1 .5h.8v.8h-.8zm.3 .3h.8v.8h-.8zm2 .1h.8v.8h-.8zm-13.1 .7h.8v.8h-.8zm1.8 0h.8v.8h-.8zm1.2 .2h.8v.8h-.8zm1.2-.3h.8v.8h-.8zm1.3-.4h.8v.8h-.8zm1.8 .4h.8v.8h-.8zm2.4-.3h.8v.8h-.8zm.2 .6h.8v.8h-.8zm.2-.5h.8v.8h-.8zm.2 .3h.8v.8h-.8zm1.5 .1h.8v.8h-.8zm.2 0h.8v.8h-.8zm.3-.5h.8v.8h-.8zm-9.7 1.5h.8v.8h-.8zm.5-.8h.8v.8h-.8zm1 .7h.8v.8h-.8zm.2 .2h.8v.8h-.8zm1.2 0h.8v.8h-.8zm1 .1h.8v.8h-.8zm.5-.5h.8v.8h-.8zm.5 .1h.8v.8h-.8zm.9 .2h.8v.8h-.8zm.2-.7h.8v.8h-.8zm1.6 .6h.8v.8h-.8zm1.4-.1h.8v.8h-.8zm.5-.3h.8v.8h-.8zm-15.6 .8h.8v.8h-.8zm4.1 .2h.8v.8h-.8zm3.1-.1h.8v.8h-.8zm7.2 .3h.8v.8h-.8zm-9.9 .5h.8v.8h-.8zm2.3 .4h.8v.8h-.8zm.5 .6h.8v.8h-.8zm.1-.3h.8v.8h-.8zm1.2-.4h.8v.8h-.8zm1.2 0h.8v.8h-.8zm.4 .3h.8v.8h-.8zm.2-.6h.8v.8h-.8zm.7 .4h.8v.8h-.8zm1.7 .6h.8v.8h-.8zm.3-.9h.8v.8h-.8zm-9.8 1.3h.8v.8h-.8zm5-.1h.8v.8h-.8zm0 .1h.8v.8h-.8zm2.2-.1h.8v.8h-.8zm.5-.1h.8v.8h-.8zm.1 .5h.8v.8h-.8zm.4-.1h.8v.8h-.8zm-7.7 .5h.8v.8h-.8zm2.2-.1h.8v.8h-.8zm1 .6h.8v.8h-.8zm2.4-.4h.8v.8h-.8zm2.1 .4h.8v.8h-.8zm.9-.5h.8v.8h-.8zm-3.2 1.6h.8v.8h-.8zm.3 0h.8v.8h-.8zm1.5-.6h.8v.8h-.8zm.2 .3h.8v.8h-.8z"/>
<line x1="584" y1="331.5" x2="599.5" y2="309.5" stroke="#b87aae" stroke-width="1.0"/>
<path fill="#b87aae" d="M600 309.4h.7v.7h-.7zm-1.3 1h.7v.7h-.7zm.5-.4h.7v.7h-.7zm.4 .5h.7v.7h-.7zm-.4 .6h.7v.7h-.7zm-2.4 1.3h.7v.7h-.7zm1.9-.5h.7v.7h-.7zm-3 2.5h.7v.7h-.7zm.1 .7h.7v.7h-.7zm-1.4 1.4h.7v.7h-.7zm.1-.4h.7v.7h-.7zm.3 .4h.7v.7h-.7zm.3 0h.7v.7h-.7zm-.5 .5h.7v.7h-.7zm-2.3 2.5h.7v.7h-.7zm.1 .6h.7v.7h-.7zm-1.7 1.1h.7v.7h-.7zm.4-.3h.7v.7h-.7zm-.2 1.5h.7v.7h-.7zm.4-.6h.7v.7h-.7zm-1.2 1.3h.7v.7h-.7zm.5-.5h.7v.7h-.7zm-.3 1.1h.7v.7h-.7zm-2.8 2.5h.7v.7h-.7zm.4-.2h.7v.7h-.7zm-.9 1.3h.7v.7h-.7zm-.5 .5h.7v.7h-.7zm-1 1.7h.7v.7h-.7zm0 .4h.7v.7h-.7zm-1.5 1.5h.7v.7h-.7z"/>
<text x="538.4" y="328.9" font-size="6.0" fill="#8c8c8c">T<tspan font-size="3.5" baseline-shift="-1.5">H</tspan>2</text>
<text x="538.4" y="336.8" font-size="6.0" fill="#8c8c8c">(Cluster 16)</text>
<text x="577.2" y="350.5" font-size="8.2" fill="#b07aa6" transform="rotate(-51 577.2 350.5)">TH2-like T<tspan font-size="4.2" baseline-shift="-2.5">regs</tspan></text>
<text x="584" y="356.5" font-size="8.2" fill="#b07aa6" transform="rotate(-51 584 356.5)">(T<tspan font-size="4.2" baseline-shift="-2.5">regs</tspan> 7)</text>
<line x1="538.6" y1="358.7" x2="538.6" y2="345.7" stroke="#000" stroke-width="1.3"/>
<polygon points="538.60,342.20 540.60,346.40 536.60,346.40" fill="#000"/>
<line x1="538.6" y1="358.7" x2="555.1" y2="358.7" stroke="#000" stroke-width="1.3"/>
<polygon points="559.00,358.70 554.70,360.75 554.70,356.65" fill="#000"/>
<text x="532.5" y="340.6" font-size="7.8" text-anchor="middle" fill="#111" transform="rotate(-90 532.5 340.6)">PHATE 2</text>
<text x="557.4" y="368.1" font-size="7.8" text-anchor="middle" fill="#111">PHATE 1</text>
<line x1="624.1" y1="308" x2="624.1" y2="357" stroke="#ececec" stroke-width="0.5"/>
<line x1="639.2" y1="308" x2="639.2" y2="357" stroke="#ececec" stroke-width="0.5"/>
<line x1="654.3000000000001" y1="308" x2="654.3000000000001" y2="357" stroke="#ececec" stroke-width="0.5"/>
<line x1="669.4" y1="308" x2="669.4" y2="357" stroke="#ececec" stroke-width="0.5"/>
<line x1="609.6" y1="312.7" x2="677.6" y2="312.7" stroke="#ececec" stroke-width="0.5"/>
<line x1="609.6" y1="322.6" x2="677.6" y2="322.6" stroke="#ececec" stroke-width="0.5"/>
<line x1="609.6" y1="332.4" x2="677.6" y2="332.4" stroke="#ececec" stroke-width="0.5"/>
<line x1="609.6" y1="342.3" x2="677.6" y2="342.3" stroke="#ececec" stroke-width="0.5"/>
<line x1="609.6" y1="351.5" x2="677.6" y2="351.5" stroke="#ececec" stroke-width="0.5"/>
<path d="M614.9,341.0 C614.8,340.2 615.5,339.8 616.8,339.4 C618.1,339.0 620.5,338.9 622.8,338.8 C625.1,338.7 628.4,338.4 630.6,338.6 C632.8,338.9 634.1,339.9 635.9,340.3 C637.7,340.7 639.5,341.2 641.2,341.0 C643.0,340.8 644.6,339.9 646.4,339.0 C648.1,338.1 650.1,336.8 651.7,335.7 C653.4,334.6 655.2,333.2 656.3,332.4 C657.4,331.6 658.1,330.8 658.2,331.1 C658.3,331.4 658.0,332.5 656.9,334.4 C655.8,336.3 653.5,339.9 651.7,342.3 C650.0,344.7 648.1,346.8 646.4,348.9 C644.6,351.0 642.4,354.1 641.2,355.2 C640.0,356.3 640.5,355.9 639.2,355.7 C637.9,355.5 635.4,354.4 633.3,353.9 C631.2,353.4 628.7,353.4 626.7,352.5 C624.7,351.6 622.9,349.6 621.4,348.2 C619.9,346.8 618.6,345.5 617.5,344.3 C616.4,343.1 615.0,341.8 614.9,341.0 Z" fill="#cfe2ee"/>
<path fill="#6a9fcc" d="M619.4 339.3h.8v.8h-.8zm11.2 0h.8v.8h-.8zm-7.1 .7h.8v.8h-.8zm.1 1.1h.8v.8h-.8zm1.5-.4h.8v.8h-.8zm1.4 .7h.8v.8h-.8zm9.7-.6h.8v.8h-.8zm3.3 .2h.8v.8h-.8zm-16.7 1.4h.8v.8h-.8zm3.2-.3h.8v.8h-.8zm9.6 0h.8v.8h-.8zm.4-.2h.8v.8h-.8zm9.1 .4h.8v.8h-.8zm-28.6 .5h.8v.8h-.8zm9.1-.1h.8v.8h-.8zm4.1 0h.8v.8h-.8zm3.4 .2h.8v.8h-.8zm2.3 .5h.8v.8h-.8zm4.8 0h.8v.8h-.8zm3.5-.8h.8v.8h-.8zm-26.2 1.5h.8v.8h-.8zm2.9 .1h.8v.8h-.8zm3.6-.2h.8v.8h-.8zm.3 .2h.8v.8h-.8zm4.6-.3h.8v.8h-.8zm.5 .2h.8v.8h-.8zm.3-.4h.8v.8h-.8zm3.2 .7h.8v.8h-.8zm.9 .1h.8v.8h-.8zm1-.7h.8v.8h-.8zm-10.2 .9h.8v.8h-.8zm6.5 .7h.8v.8h-.8zm10.7-.6h.8v.8h-.8zm-19.2 1.3h.8v.8h-.8zm16.9-.3h.8v.8h-.8zm-7.1 1.5h.8v.8h-.8zm-6.3 .8h.8v.8h-.8zm4 .1h.8v.8h-.8zm9.1-.1h.8v.8h-.8zm.7 0h.8v.8h-.8zm-14 .9h.8v.8h-.8zm10 .2h.8v.8h-.8zm5-.4h.8v.8h-.8zm-14.4 .7h.8v.8h-.8zm2.8 .8h.8v.8h-.8zm1.8 .2h.8v.8h-.8zm.7-.4h.8v.8h-.8zm6-.2h.8v.8h-.8zm2.8-.1h.8v.8h-.8zm3.8 .4h.8v.8h-.8zm-17 .9h.8v.8h-.8zm.7-.2h.8v.8h-.8zm8.6 0h.8v.8h-.8zm4.8 .2h.8v.8h-.8zm-14.4 .4h.8v.8h-.8zm7.8 1h.8v.8h-.8zm1.5-.1h.8v.8h-.8zm1.3-.4h.8v.8h-.8zm-9.3 .7h.8v.8h-.8zm1.1 .1h.8v.8h-.8zm7.7 .4h.8v.8h-.8zm3-.2h.8v.8h-.8zm-.9 1.5h.8v.8h-.8zm1.3-.7h.8v.8h-.8zm-3.5 .9h.8v.8h-.8z"/>
<path fill="#e0f3f8" d="M657.1 332.7h.8v.8h-.8zm-1.8 1.4h.8v.8h-.8zm0-.3h.8v.8h-.8zm-1.7 2.5h.8v.8h-.8zm-.3 .3h.8v.8h-.8zm-5.8 1.8h.8v.8h-.8zm5.3-.6h.8v.8h-.8zm-23.2 .8h.8v.8h-.8zm20.7 .5h.8v.8h-.8zm-32.6 .7h.8v.8h-.8zm2.1 .6h.8v.8h-.8zm2.9-.4h.8v.8h-.8zm.9-.4h.8v.8h-.8zm.9 .5h.8v.8h-.8zm.7 .3h.8v.8h-.8zm8.1-.5h.8v.8h-.8zm.9 .5h.8v.8h-.8zm.8-.2h.8v.8h-.8zm10.3-.1h.8v.8h-.8zm4.2-.2h.8v.8h-.8zm3.1-.2h.8v.8h-.8zm-28.1 1.3h.8v.8h-.8zm3-.1h.8v.8h-.8zm2.3 .2h.8v.8h-.8zm1.8 .1h.8v.8h-.8zm4.5-.2h.8v.8h-.8zm1.5 .2h.8v.8h-.8zm4.5-.5h.8v.8h-.8zm2 .5h.8v.8h-.8zm3.3-.4h.8v.8h-.8zm.1 .4h.8v.8h-.8zm.2 0h.8v.8h-.8zm4.5-.1h.8v.8h-.8zm-33 .5h.8v.8h-.8zm3.1 .9h.8v.8h-.8zm.1-.1h.8v.8h-.8zm10.5-.2h.8v.8h-.8zm1.4-.6h.8v.8h-.8zm.9 .4h.8v.8h-.8zm.5-.2h.8v.8h-.8zm1.5 .6h.8v.8h-.8zm2.3-.2h.8v.8h-.8zm.4-.4h.8v.8h-.8zm2.9-.2h.8v.8h-.8zm1.1 .4h.8v.8h-.8zm3.3-.2h.8v.8h-.8zm2.2 .3h.8v.8h-.8zm.3-.1h.8v.8h-.8zm-25.2 1.2h.8v.8h-.8zm.5-.6h.8v.8h-.8zm7.5 .6h.8v.8h-.8zm1.7-.6h.8v.8h-.8zm4.2 .1h.8v.8h-.8zm-19.9 .9h.8v.8h-.8zm3 0h.8v.8h-.8zm6.6-.1h.8v.8h-.8zm.2 .1h.8v.8h-.8zm.1 .4h.8v.8h-.8zm1 .1h.8v.8h-.8zm3 .4h.8v.8h-.8zm.4-.5h.8v.8h-.8zm3-.1h.8v.8h-.8zm2.5-.4h.8v.8h-.8zm.5 0h.8v.8h-.8zm2.6 .3h.8v.8h-.8zm3.2 .6h.8v.8h-.8zm4 0h.8v.8h-.8zm-28.2 .6h.8v.8h-.8zm4.2 .3h.8v.8h-.8zm7.7-.5h.8v.8h-.8zm10.2 .1h.8v.8h-.8zm2.2 .1h.8v.8h-.8zm1.1-.3h.8v.8h-.8zm3 .6h.8v.8h-.8zm.5-.6h.8v.8h-.8zm-29.5 1.7h.8v.8h-.8zm1.8 .1h.8v.8h-.8zm.7-1h.8v.8h-.8zm1.5 .3h.8v.8h-.8zm1.8-.2h.8v.8h-.8zm10.4-.1h.8v.8h-.8zm0 .6h.8v.8h-.8zm2.5 .1h.8v.8h-.8zm.1-.4h.8v.8h-.8zm2.9-.1h.8v.8h-.8zm1.3 .2h.8v.8h-.8zm1 .2h.8v.8h-.8zm1.7 .3h.8v.8h-.8zm-24 .4h.8v.8h-.8zm.6 0h.8v.8h-.8zm4.1 .6h.8v.8h-.8zm6.3-.5h.8v.8h-.8zm.2-.3h.8v.8h-.8zm11.1 .2h.8v.8h-.8zm-19.8 .9h.8v.8h-.8zm5.6-.1h.8v.8h-.8zm.6 .9h.8v.8h-.8zm2.5-.9h.8v.8h-.8zm2.4 .5h.8v.8h-.8zm2.5-.4h.8v.8h-.8zm.4 .7h.8v.8h-.8zm4.5-.1h.8v.8h-.8zm.6-.6h.8v.8h-.8zm3.4-.2h.8v.8h-.8zm-22.5 1.3h.8v.8h-.8zm6.9 .4h.8v.8h-.8zm2 0h.8v.8h-.8zm11.9-.2h.8v.8h-.8zm.3 .1h.8v.8h-.8zm-14.8 .9h.8v.8h-.8zm.8-.3h.8v.8h-.8zm.3 .1h.8v.8h-.8zm2.1 0h.8v.8h-.8zm1.4 .5h.8v.8h-.8zm.7-.6h.8v.8h-.8zm.3 0h.8v.8h-.8zm7.8 0h.8v.8h-.8zm-11.5 1.2h.8v.8h-.8zm1.1 .5h.8v.8h-.8zm10-.1h.8v.8h-.8zm.6-.2h.8v.8h-.8zm-17.1 .9h.8v.8h-.8zm.1 .1h.8v.8h-.8zm0-.2h.8v.8h-.8zm3-.3h.8v.8h-.8zm.8 .3h.8v.8h-.8zm1.3 .5h.8v.8h-.8zm9.4-.9h.8v.8h-.8zm-11.2 1.6h.8v.8h-.8zm1.1-.2h.8v.8h-.8zm.3 .2h.8v.8h-.8zm5.3 .3h.8v.8h-.8zm.1-.3h.8v.8h-.8zm2.8-.1h.8v.8h-.8zm-4.3 .7h.8v.8h-.8zm3.5 .4h.8v.8h-.8zm2.8 .1h.8v.8h-.8zm-4.2 .5h.8v.8h-.8zm1.5 .3h.8v.8h-.8zm.3-.2h.8v.8h-.8z"/>
<path fill="#fee090" d="M657.2 331.9h.8v.8h-.8zm-.6 1.8h.8v.8h-.8zm-4.8 3.7h.8v.8h-.8zm.3-.6h.8v.8h-.8zm1.2 .2h.8v.8h-.8zm-.8 1.3h.8v.8h-.8zm-33.4 1h.8v.8h-.8zm5.3-.1h.8v.8h-.8zm24.2 0h.8v.8h-.8zm-25 1.3h.8v.8h-.8zm2.1-.1h.8v.8h-.8zm21.7-.3h.8v.8h-.8zm-20.8 .5h.8v.8h-.8zm3.2 .5h.8v.8h-.8zm.6-.5h.8v.8h-.8zm4.8 .7h.8v.8h-.8zm2.8-.2h.8v.8h-.8zm8-.4h.8v.8h-.8zm2.7 0h.8v.8h-.8zm-28 1.7h.8v.8h-.8zm15.2-.2h.8v.8h-.8zm2.3 .1h.8v.8h-.8zm3.3-.4h.8v.8h-.8zm1.8 .4h.8v.8h-.8zm2.9-.7h.8v.8h-.8zm5.7 .1h.8v.8h-.8zm-35.5 .9h.8v.8h-.8zm4.1 .8h.8v.8h-.8zm11.8-.3h.8v.8h-.8zm7.7-.4h.8v.8h-.8zm2.8 .5h.8v.8h-.8zm2.4-.6h.8v.8h-.8zm4.3 .4h.8v.8h-.8zm-31.6 1.5h.8v.8h-.8zm1.7-.7h.8v.8h-.8zm.4 .7h.8v.8h-.8zm.1-.7h.8v.8h-.8zm10.4-.1h.8v.8h-.8zm3.6 .2h.8v.8h-.8zm.4 .4h.8v.8h-.8zm2.3-.7h.8v.8h-.8zm.6 .1h.8v.8h-.8zm4 .1h.8v.8h-.8zm2-.3h.8v.8h-.8zm6.5 0h.8v.8h-.8zm-16.7 1.8h.8v.8h-.8zm2.6-.4h.8v.8h-.8zm.9-.1h.8v.8h-.8zm1.3 .2h.8v.8h-.8zm1.5-.1h.8v.8h-.8zm3.8 .4h.8v.8h-.8zm2 0h.8v.8h-.8zm-21.3 .9h.8v.8h-.8zm.8 .2h.8v.8h-.8zm10-.7h.8v.8h-.8zm0 .8h.8v.8h-.8zm.6-.1h.8v.8h-.8zm-7.6 .4h.8v.8h-.8zm3.3 .6h.8v.8h-.8zm1.3-.1h.8v.8h-.8zm7.4-.3h.8v.8h-.8zm1.1 0h.8v.8h-.8zm-13.7 1.1h.8v.8h-.8zm.9-.1h.8v.8h-.8zm3.8-.2h.8v.8h-.8zm4 .2h.8v.8h-.8zm1.8 .5h.8v.8h-.8zm3.2-.9h.8v.8h-.8zm5 0h.8v.8h-.8zm.2 .3h.8v.8h-.8zm.5-.2h.8v.8h-.8zm-19.1 1.6h.8v.8h-.8zm3.1-.1h.8v.8h-.8zm.5-.2h.8v.8h-.8zm2.7 .1h.8v.8h-.8zm10.5-.2h.8v.8h-.8zm-20 .8h.8v.8h-.8zm14.2 .8h.8v.8h-.8zm1.4-.2h.8v.8h-.8zm-11.9 .4h.8v.8h-.8zm-1.1 .8h.8v.8h-.8zm2.1 .9h.8v.8h-.8zm2.8-.5h.8v.8h-.8zm3.1 .5h.8v.8h-.8zm3 0h.8v.8h-.8zm.1-.8h.8v.8h-.8zm1.4-.1h.8v.8h-.8zm2.3 .8h.8v.8h-.8zm-8.2 .8h.8v.8h-.8zm4.8-.3h.8v.8h-.8zm.4 .3h.8v.8h-.8zm.5-.3h.8v.8h-.8zm1.2 1.5h.8v.8h-.8z"/>
<path fill="#fdd49e" d="M657.3 332.4h.8v.8h-.8zm.1 .4h.8v.8h-.8zm-2.7 1.4h.8v.8h-.8zm.8 1.1h.8v.8h-.8zm-4.2 1.1h.8v.8h-.8zm1.4-.6h.8v.8h-.8zm3.3-.3h.8v.8h-.8zm-2.6 1.6h.8v.8h-.8zm1.4-.3h.8v.8h-.8zm-.9 1.3h.8v.8h-.8zm-4.2 .9h.8v.8h-.8zm3.4-.4h.8v.8h-.8zm-4.2 2.7h.8v.8h-.8zm-2.2 .8h.8v.8h-.8zm.5 .7h.8v.8h-.8zm2.5-.2h.8v.8h-.8zm-.4 1.3h.8v.8h-.8zm-2 2.1h.8v.8h-.8zm1.4 0h.8v.8h-.8zm-1.1 .9h.8v.8h-.8z"/>
<path fill="#ffffbf" d="M652.3 335.4h.8v.8h-.8zm-.3 .2h.8v.8h-.8zm3.5 .8h.8v.8h-.8zm-5.7 .9h.8v.8h-.8zm.4-.6h.8v.8h-.8zm-.8 1.3h.8v.8h-.8zm2.2 .5h.8v.8h-.8zm2.9-1h.8v.8h-.8zm-3.7 1.6h.8v.8h-.8zm-4.8 1.2h.8v.8h-.8zm2.5-.6h.8v.8h-.8zm-2.1 .9h.8v.8h-.8zm4.5 .2h.8v.8h-.8zm1.2 .2h.8v.8h-.8zm-3.8 1.9h.8v.8h-.8zm-2.5 1.5h.8v.8h-.8zm2.4 .1h.8v.8h-.8zm.6-1h.8v.8h-.8zm-2.6 3.3h.8v.8h-.8zm.4 .1h.8v.8h-.8z"/>
<path fill="#abd9e9" d="M656.6 332.3h.8v.8h-.8zm.9 .2h.8v.8h-.8zm-2.2 1.9h.8v.8h-.8zm-2.7 1.5h.8v.8h-.8zm-29 3.3h.8v.8h-.8zm2.8-.2h.8v.8h-.8zm.8 .3h.8v.8h-.8zm22.6-.7h.8v.8h-.8zm-17.9 1.3h.8v.8h-.8zm-10 1.3h.8v.8h-.8zm26.5-.2h.8v.8h-.8zm.3 .3h.8v.8h-.8zm1.6-.5h.8v.8h-.8zm-27.5 1.4h.8v.8h-.8zm7.9 .3h.8v.8h-.8zm5.7-.4h.8v.8h-.8zm9.1 0h.8v.8h-.8zm-27.6 .5h.8v.8h-.8zm5.6 .3h.8v.8h-.8zm.6 0h.8v.8h-.8zm26.8-.3h.8v.8h-.8zm-32.4 1.8h.8v.8h-.8zm2.9-.3h.8v.8h-.8zm1.5 .3h.8v.8h-.8zm3.8-.1h.8v.8h-.8zm5.6-.1h.8v.8h-.8zm12.3 0h.8v.8h-.8zm1.2-.1h.8v.8h-.8zm.1 0h.8v.8h-.8zm-16.6 .6h.8v.8h-.8zm14.5 .4h.8v.8h-.8zm2.2-.4h.8v.8h-.8zm-22.9 1.8h.8v.8h-.8zm0-.9h.8v.8h-.8zm3.2 .9h.8v.8h-.8zm.1-.6h.8v.8h-.8zm2.8-.4h.8v.8h-.8zm.6 1.7h.8v.8h-.8zm1.7-.6h.8v.8h-.8zm-7.5 1.8h.8v.8h-.8zm8.1 0h.8v.8h-.8zm1.3-.4h.8v.8h-.8zm4.4-.3h.8v.8h-.8zm.3 .8h.8v.8h-.8zm.6-1h.8v.8h-.8zm3.8 .8h.8v.8h-.8zm2.2-.5h.8v.8h-.8zm-19.2 1.3h.8v.8h-.8zm3.2-.2h.8v.8h-.8zm.3 .1h.8v.8h-.8zm2.2-.2h.8v.8h-.8zm3.4-.2h.8v.8h-.8zm6.1 .2h.8v.8h-.8zm4 .4h.8v.8h-.8zm-20.9 .4h.8v.8h-.8zm1.1 .7h.8v.8h-.8zm19-.7h.8v.8h-.8zm1.2 .2h.8v.8h-.8zm-9.9 1.5h.8v.8h-.8zm7.9 0h.8v.8h-.8zm-14.3 .6h.8v.8h-.8zm12.8 2.4h.8v.8h-.8z"/>
<path fill="#4575b4" d="M621.1 339.8h.8v.8h-.8zm9.8-.3h.8v.8h-.8zm1.3 .6h.8v.8h-.8zm13.1-.5h.8v.8h-.8zm-26.2 1.1h.8v.8h-.8zm11 .7h.8v.8h-.8zm13.6-.7h.8v.8h-.8zm-22.4 .8h.8v.8h-.8zm1.8 .5h.8v.8h-.8zm6 .1h.8v.8h-.8zm7.1 .2h.8v.8h-.8zm3.8-.7h.8v.8h-.8zm-17.2 1.2h.8v.8h-.8zm8.7 0h.8v.8h-.8zm1.1-.1h.8v.8h-.8zm4.2 .3h.8v.8h-.8zm-19.1 1.3h.8v.8h-.8zm10.7 .1h.8v.8h-.8zm.3 .1h.8v.8h-.8zm0 0h.8v.8h-.8zm6.4-.2h.8v.8h-.8zm.7 0h.8v.8h-.8zm4.3 .1h.8v.8h-.8zm3.2-.2h.8v.8h-.8zm-24 .8h.8v.8h-.8zm1.3 0h.8v.8h-.8zm11.1-.4h.8v.8h-.8zm2.1 .6h.8v.8h-.8zm2.7 0h.8v.8h-.8zm3-.4h.8v.8h-.8zm3.1-.2h.8v.8h-.8zm1.6 .8h.8v.8h-.8zm-18.4 .2h.8v.8h-.8zm3.6 .9h.8v.8h-.8zm2.3-.3h.8v.8h-.8zm6.1-.3h.8v.8h-.8zm3.9 .4h.8v.8h-.8zm-20.4 .9h.8v.8h-.8zm6.3-.6h.8v.8h-.8zm13.7 .1h.8v.8h-.8zm2.2-.1h.8v.8h-.8zm.9 0h.8v.8h-.8zm.2 .5h.8v.8h-.8zm-14.9 1h.8v.8h-.8zm1.2-.5h.8v.8h-.8zm2.2 .5h.8v.8h-.8zm.4-.5h.8v.8h-.8zm.8 .1h.8v.8h-.8zm1.8 .7h.8v.8h-.8zm5.4-.4h.8v.8h-.8zm1 .1h.8v.8h-.8zm-18.1 .5h.8v.8h-.8zm19.1 .7h.8v.8h-.8zm-18.5 .7h.8v.8h-.8zm4.6-.3h.8v.8h-.8zm.6 .6h.8v.8h-.8zm12.8-.2h.8v.8h-.8zm-16.7 .5h.8v.8h-.8zm7.1 .5h.8v.8h-.8zm-6.1 1.2h.8v.8h-.8zm5.8 .6h.8v.8h-.8zm.5 .9h.8v.8h-.8zm2.1-.3h.8v.8h-.8zm5.7 .3h.8v.8h-.8zm-2.2 1.5h.8v.8h-.8z"/>
<path fill="#74add1" d="M623.4 339.3h.8v.8h-.8zm2.1-.3h.8v.8h-.8zm1.6-.1h.8v.8h-.8zm.5-.2h.8v.8h-.8zm-9.6 1.1h.8v.8h-.8zm.4 0h.8v.8h-.8zm14 0h.8v.8h-.8zm.1 .3h.8v.8h-.8zm2.4-.1h.8v.8h-.8zm-19.8 1.1h.8v.8h-.8zm2.9-.4h.8v.8h-.8zm1.5 .3h.8v.8h-.8zm8.3-.4h.8v.8h-.8zm1.1 .5h.8v.8h-.8zm3.6 .2h.8v.8h-.8zm.6-.5h.8v.8h-.8zm-17.4 1.2h.8v.8h-.8zm.4 .1h.8v.8h-.8zm6.9 .2h.8v.8h-.8zm3.9-.5h.8v.8h-.8zm4.3 .1h.8v.8h-.8zm.9 .1h.8v.8h-.8zm1.6 .4h.8v.8h-.8zm9.6-.9h.8v.8h-.8zm-18.6 1.1h.8v.8h-.8zm0 .2h.8v.8h-.8zm10.4 .3h.8v.8h-.8zm-15.6 1.3h.8v.8h-.8zm2-.6h.8v.8h-.8zm1.5-.2h.8v.8h-.8zm7.1 .8h.8v.8h-.8zm2.9-.1h.8v.8h-.8zm-6.7 .9h.8v.8h-.8zm9.6-.6h.8v.8h-.8zm.4 0h.8v.8h-.8zm7.1 .2h.8v.8h-.8zm-12.8 .8h.8v.8h-.8zm4.1 .4h.8v.8h-.8zm.4-.5h.8v.8h-.8zm3.2 .9h.8v.8h-.8zm2.5 .1h.8v.8h-.8zm-12 .3h.8v.8h-.8zm1.5 .1h.8v.8h-.8zm4 0h.8v.8h-.8zm-5.6 .6h.8v.8h-.8zm.2 .2h.8v.8h-.8zm14.9 .5h.8v.8h-.8zm-16.5 .8h.8v.8h-.8zm4.1 0h.8v.8h-.8zm2.6-.2h.8v.8h-.8zm2.4 .6h.8v.8h-.8zm9.1-.2h.8v.8h-.8zm-15 .5h.8v.8h-.8zm6.2 .7h.8v.8h-.8zm3-.6h.8v.8h-.8zm3.7 .1h.8v.8h-.8zm-8.9 .9h.8v.8h-.8zm-8.8 .7h.8v.8h-.8zm4 0h.8v.8h-.8zm2 1.6h.8v.8h-.8zm.3 0h.8v.8h-.8zm9.4 .3h.8v.8h-.8zm-3 .6h.8v.8h-.8zm.8 .3h.8v.8h-.8z"/>
<path fill="#ffffbf" d="M671.6 311.6h.8v.8h-.8zm-1 1.2h.8v.8h-.8zm-1.4 1.6h.8v.8h-.8zm-.3 .3h.8v.8h-.8zm-1.8 2.7h.8v.8h-.8zm-.2 1.8h.8v.8h-.8zm-1.6 1.5h.8v.8h-.8zm-2.2 3.8h.8v.8h-.8zm-4.7 5.8h.8v.8h-.8zm1-.6h.8v.8h-.8z"/>
<path fill="#fee090" d="M671 312.1h.8v.8h-.8zm-3.9 5.3h.8v.8h-.8zm-.8 1h.8v.8h-.8zm-1.3 1.7h.8v.8h-.8zm-2.5 4.3h.8v.8h-.8zm-.8 1.2h.8v.8h-.8z"/>
<path fill="#abd9e9" d="M672.1 310.7h.8v.8h-.8zm-5.1 7.7h.8v.8h-.8zm-.6 1.6h.8v.8h-.8zm-1.6 .9h.8v.8h-.8zm-1.8 3.6h.8v.8h-.8zm-1.7 2h.8v.8h-.8zm-2.2 2.3h.8v.8h-.8z"/>
<path fill="#fdd49e" d="M671.1 311.7h.8v.8h-.8zm-.7 2.5h.8v.8h-.8zm.1-.7h.8v.8h-.8zm-2.8 4.2h.8v.8h-.8zm-2.1 2.5h.8v.8h-.8zm-1.4 2.3h.8v.8h-.8zm-.4 .7h.8v.8h-.8zm-2 1.7h.8v.8h-.8zm-3.1 4.2h.8v.8h-.8z"/>
<path fill="#e0f3f8" d="M671 313.2h.8v.8h-.8zm-1.9 1.4h.8v.8h-.8zm-2.6 4h.8v.8h-.8zm-1.2 2.9h.8v.8h-.8zm-6.4 6.8h.8v.8h-.8zm-.3 1.2h.8v.8h-.8zm1.1 .3h.8v.8h-.8zm-1.8 1.2h.8v.8h-.8z"/>
<line x1="612.2" y1="358.7" x2="612.2" y2="345.7" stroke="#000" stroke-width="1.3"/>
<polygon points="612.20,342.20 614.20,346.40 610.20,346.40" fill="#000"/>
<line x1="612.2" y1="358.7" x2="628.7" y2="358.7" stroke="#000" stroke-width="1.3"/>
<polygon points="632.60,358.70 628.30,360.75 628.30,356.65" fill="#000"/>
<text x="644.3" y="306.4" font-size="9.0" text-anchor="middle" fill="#111">Foxp3</text>
<line x1="549.8" y1="382.6" x2="549.8" y2="431.6" stroke="#ececec" stroke-width="0.5"/>
<line x1="564.9" y1="382.6" x2="564.9" y2="431.6" stroke="#ececec" stroke-width="0.5"/>
<line x1="580.0" y1="382.6" x2="580.0" y2="431.6" stroke="#ececec" stroke-width="0.5"/>
<line x1="595.0999999999999" y1="382.6" x2="595.0999999999999" y2="431.6" stroke="#ececec" stroke-width="0.5"/>
<line x1="535.3" y1="387.29999999999995" x2="603.3" y2="387.29999999999995" stroke="#ececec" stroke-width="0.5"/>
<line x1="535.3" y1="397.20000000000005" x2="603.3" y2="397.20000000000005" stroke="#ececec" stroke-width="0.5"/>
<line x1="535.3" y1="407.0" x2="603.3" y2="407.0" stroke="#ececec" stroke-width="0.5"/>
<line x1="535.3" y1="416.9" x2="603.3" y2="416.9" stroke="#ececec" stroke-width="0.5"/>
<line x1="535.3" y1="426.1" x2="603.3" y2="426.1" stroke="#ececec" stroke-width="0.5"/>
<path d="M540.6,415.6 C540.5,414.8 541.2,414.4 542.5,414.0 C543.8,413.6 546.2,413.5 548.5,413.4 C550.8,413.3 554.1,413.0 556.3,413.2 C558.5,413.5 559.8,414.5 561.6,414.9 C563.4,415.3 565.1,415.8 566.9,415.6 C568.6,415.4 570.3,414.5 572.1,413.6 C573.8,412.7 575.8,411.4 577.4,410.3 C579.0,409.2 580.9,407.8 582.0,407.0 C583.1,406.2 583.8,405.4 583.9,405.7 C584.0,406.0 583.7,407.1 582.6,409.0 C581.5,410.9 579.1,414.5 577.4,416.9 C575.6,419.3 573.8,421.4 572.1,423.5 C570.3,425.6 568.1,428.7 566.9,429.8 C565.7,430.9 566.2,430.5 564.9,430.3 C563.6,430.1 561.1,429.0 559.0,428.5 C556.9,428.0 554.4,428.1 552.4,427.1 C550.4,426.2 548.6,424.2 547.1,422.8 C545.6,421.4 544.3,420.1 543.2,418.9 C542.1,417.7 540.7,416.4 540.6,415.6 Z" fill="#fde0a0"/>
<path fill="#fdae61" d="M581.7 407.8h.8v.8h-.8zm1.1 .4h.8v.8h-.8zm-3.5 .9h.8v.8h-.8zm1.7-.2h.8v.8h-.8zm.9 .3h.8v.8h-.8zm-3.5 1.1h.8v.8h-.8zm.4-.8h.8v.8h-.8zm.9 1h.8v.8h-.8zm.4-.5h.8v.8h-.8zm.2 .2h.8v.8h-.8zm1.3-.4h.8v.8h-.8zm-.6 .8h.8v.8h-.8zm.1 .6h.8v.8h-.8zm-5.6 .4h.8v.8h-.8zm-1.5 1.4h.8v.8h-.8zm.6-.3h.8v.8h-.8zm2.8 .4h.8v.8h-.8zm-25 .5h.8v.8h-.8zm1.7 .1h.8v.8h-.8zm4.7 .4h.8v.8h-.8zm15.4 .2h.8v.8h-.8zm.9-.2h.8v.8h-.8zm1.4-.1h.8v.8h-.8zm1.9-.1h.8v.8h-.8zm-33.6 1h.8v.8h-.8zm.4 .2h.8v.8h-.8zm29 0h.8v.8h-.8zm2.5 .2h.8v.8h-.8zm0 0h.8v.8h-.8zm1.9-.6h.8v.8h-.8zm.1 .1h.8v.8h-.8zm-34.4 1.5h.8v.8h-.8zm.6-.7h.8v.8h-.8zm4.3 0h.8v.8h-.8zm3.8 .7h.8v.8h-.8zm.1-.6h.8v.8h-.8zm.9 .8h.8v.8h-.8zm.5-.6h.8v.8h-.8zm1.1-.4h.8v.8h-.8zm5.4 .2h.8v.8h-.8zm7.7 .8h.8v.8h-.8zm.6-.9h.8v.8h-.8zm.7 .9h.8v.8h-.8zm3.7-.7h.8v.8h-.8zm4.2-.2h.8v.8h-.8zm-34.5 1.1h.8v.8h-.8zm1.8 .1h.8v.8h-.8zm2.2-.2h.8v.8h-.8zm3.8 .8h.8v.8h-.8zm3.6-.5h.8v.8h-.8zm2.3 0h.8v.8h-.8zm3.1 .2h.8v.8h-.8zm5.6 .2h.8v.8h-.8zm4.9-.2h.8v.8h-.8zm2.8 .1h.8v.8h-.8zm0-.6h.8v.8h-.8zm-29.2 1.1h.8v.8h-.8zm1.2 .3h.8v.8h-.8zm1.8-.4h.8v.8h-.8zm6.3 .2h.8v.8h-.8zm1.2 .7h.8v.8h-.8zm.4-.6h.8v.8h-.8zm.6 .3h.8v.8h-.8zm3.8 .2h.8v.8h-.8zm2.7-.6h.8v.8h-.8zm5.5 .1h.8v.8h-.8zm1.5-.2h.8v.8h-.8zm5.5 .5h.8v.8h-.8zm-30.5 1.2h.8v.8h-.8zm1.1-.8h.8v.8h-.8zm10.4 .8h.8v.8h-.8zm1.2-.3h.8v.8h-.8zm5.9 .2h.8v.8h-.8zm.5-.6h.8v.8h-.8zm1.3 .5h.8v.8h-.8zm1-.2h.8v.8h-.8zm6.6 .1h.8v.8h-.8zm.6-.1h.8v.8h-.8zm0 .4h.8v.8h-.8zm.1-.3h.8v.8h-.8zm.6-.1h.8v.8h-.8zm-28.5 .8h.8v.8h-.8zm1.9 .5h.8v.8h-.8zm1.2 0h.8v.8h-.8zm.9 .2h.8v.8h-.8zm2-.3h.8v.8h-.8zm.2 .1h.8v.8h-.8zm3.4-.2h.8v.8h-.8zm.8-.5h.8v.8h-.8zm3.3 .5h.8v.8h-.8zm.4 0h.8v.8h-.8zm3.1 .1h.8v.8h-.8zm2.3 .2h.8v.8h-.8zm.5-.4h.8v.8h-.8zm.4-.1h.8v.8h-.8zm.5-.4h.8v.8h-.8zm1.7 .8h.8v.8h-.8zm1.9-.7h.8v.8h-.8zm1.4 .2h.8v.8h-.8zm3 .4h.8v.8h-.8zm.4-.1h.8v.8h-.8zm-28.3 1h.8v.8h-.8zm7.4-.3h.8v.8h-.8zm.3 .2h.8v.8h-.8zm2.8-.4h.8v.8h-.8zm3.6 0h.8v.8h-.8zm3.1 .1h.8v.8h-.8zm4.9 .3h.8v.8h-.8zm4.2 .3h.8v.8h-.8zm-21 .2h.8v.8h-.8zm8.7 .9h.8v.8h-.8zm2.1-.6h.8v.8h-.8zm.4 .3h.8v.8h-.8zm4.2 .3h.8v.8h-.8zm.6-.3h.8v.8h-.8zm4.1-.3h.8v.8h-.8zm.4 .1h.8v.8h-.8zm.6 .4h.8v.8h-.8zm-19.8 .7h.8v.8h-.8zm4.4 0h.8v.8h-.8zm.7 .3h.8v.8h-.8zm.7 0h.8v.8h-.8zm2-.6h.8v.8h-.8zm8.6 .7h.8v.8h-.8zm-19.2 1.1h.8v.8h-.8zm5.6-.8h.8v.8h-.8zm1.7 0h.8v.8h-.8zm1.8 .4h.8v.8h-.8zm.4-.5h.8v.8h-.8zm1.2 .1h.8v.8h-.8zm7.1 .7h.8v.8h-.8zm1.3-.3h.8v.8h-.8zm1.8-.6h.8v.8h-.8zm-17.2 1.5h.8v.8h-.8zm.6 .4h.8v.8h-.8zm6.2 0h.8v.8h-.8zm3.7-.2h.8v.8h-.8zm3.8 .2h.8v.8h-.8zm.3-.2h.8v.8h-.8zm-8.7 .5h.8v.8h-.8zm3.8 .6h.8v.8h-.8zm2.6-.4h.8v.8h-.8zm1.8 .5h.8v.8h-.8zm1.3-.2h.8v.8h-.8zm.8-.7h.8v.8h-.8zm-10 1.4h.8v.8h-.8zm8.9-.2h.8v.8h-.8zm.2 .6h.8v.8h-.8zm-12.4 .6h.8v.8h-.8zm9.8 .3h.8v.8h-.8zm.2-.6h.8v.8h-.8zm-6.1 1h.8v.8h-.8zm5 .5h.8v.8h-.8zm-1.9 .7h.8v.8h-.8z"/>
<path fill="#fee090" d="M581.3 408.5h.8v.8h-.8zm-1.1 .1h.8v.8h-.8zm.9 2.1h.8v.8h-.8zm-28.5 2.6h.8v.8h-.8zm22.8-.5h.8v.8h-.8zm.7-.1h.8v.8h-.8zm1.1 .3h.8v.8h-.8zm-30.9 1.5h.8v.8h-.8zm5.4-.7h.8v.8h-.8zm.2 .7h.8v.8h-.8zm3.8-.4h.8v.8h-.8zm2.6-.1h.8v.8h-.8zm15.6 .1h.8v.8h-.8zm.6-.4h.8v.8h-.8zm.9 .1h.8v.8h-.8zm-32.8 1.6h.8v.8h-.8zm.2-.4h.8v.8h-.8zm13.7 .1h.8v.8h-.8zm3.6-.3h.8v.8h-.8zm-15.7 1.3h.8v.8h-.8zm9.6 .4h.8v.8h-.8zm2.1-.2h.8v.8h-.8zm.3-.7h.8v.8h-.8zm.3 .3h.8v.8h-.8zm2.9-.1h.8v.8h-.8zm11.9-.3h.8v.8h-.8zm2.4 .1h.8v.8h-.8zm-23.8 1.3h.8v.8h-.8zm9.3 0h.8v.8h-.8zm1.3-.3h.8v.8h-.8zm2.4 0h.8v.8h-.8zm3.2 .1h.8v.8h-.8zm-22.9 1.1h.8v.8h-.8zm1.1 .5h.8v.8h-.8zm3.3-.7h.8v.8h-.8zm2.7 .6h.8v.8h-.8zm3.2 .2h.8v.8h-.8zm3-.3h.8v.8h-.8zm2.8 .4h.8v.8h-.8zm.8-.8h.8v.8h-.8zm16 .2h.8v.8h-.8zm-32.8 .7h.8v.8h-.8zm1.6 .1h.8v.8h-.8zm3.5 .2h.8v.8h-.8zm1.2 .1h.8v.8h-.8zm1.5 .4h.8v.8h-.8zm6.9-.5h.8v.8h-.8zm1.4 .1h.8v.8h-.8zm2.6-.1h.8v.8h-.8zm6.1 .5h.8v.8h-.8zm1.2-.8h.8v.8h-.8zm.6 .3h.8v.8h-.8zm1.2 .3h.8v.8h-.8zm.6-.3h.8v.8h-.8zm-27.9 .7h.8v.8h-.8zm.5 .2h.8v.8h-.8zm5.2 0h.8v.8h-.8zm.4 .4h.8v.8h-.8zm.5-.5h.8v.8h-.8zm3 .8h.8v.8h-.8zm2.2-.6h.8v.8h-.8zm8.8 .2h.8v.8h-.8zm.4-.5h.8v.8h-.8zm5.6 0h.8v.8h-.8zm-24.1 1.2h.8v.8h-.8zm3.3 .6h.8v.8h-.8zm20.7 0h.8v.8h-.8zm-23.5 1h.8v.8h-.8zm1.2-.4h.8v.8h-.8zm2.3 .3h.8v.8h-.8zm.6-.1h.8v.8h-.8zm.1-.4h.8v.8h-.8zm.1-.2h.8v.8h-.8zm4.7 0h.8v.8h-.8zm-4.6 1.6h.8v.8h-.8zm2.4-.2h.8v.8h-.8zm4.6-.4h.8v.8h-.8zm.5 .3h.8v.8h-.8zm6.5 0h.8v.8h-.8zm.2 .1h.8v.8h-.8zm-14 1.2h.8v.8h-.8zm2.1-.7h.8v.8h-.8zm1.7 1h.8v.8h-.8zm10.2-.1h.8v.8h-.8zm2.4-.5h.8v.8h-.8zm-17.4 1.5h.8v.8h-.8zm1.5-.2h.8v.8h-.8zm4.3 0h.8v.8h-.8zm2.1-.3h.8v.8h-.8zm5-.3h.8v.8h-.8zm3.4 .6h.8v.8h-.8zm-14.8 .6h.8v.8h-.8zm8-.2h.8v.8h-.8zm.8 .8h.8v.8h-.8zm2.7-.4h.8v.8h-.8zm2.6 .1h.8v.8h-.8zm-13.2 .8h.8v.8h-.8zm4.7-.2h.8v.8h-.8zm.7 .3h.8v.8h-.8zm10.7-.4h.8v.8h-.8zm-9.8 1.5h.8v.8h-.8zm1-.6h.8v.8h-.8zm3.4 .5h.8v.8h-.8zm1.2 .2h.8v.8h-.8zm2.9-.7h.8v.8h-.8zm-5.4 1.5h.8v.8h-.8zm2.4 .3h.8v.8h-.8zm.9-.1h.8v.8h-.8zm-3.2 .3h.8v.8h-.8z"/>
<path fill="#f46d43" d="M582.8 407.8h.8v.8h-.8zm-1.5 1.2h.8v.8h-.8zm-6.9 3.3h.8v.8h-.8zm.6 .1h.8v.8h-.8zm.5 0h.8v.8h-.8zm.2-.1h.8v.8h-.8zm-21.4 1h.8v.8h-.8zm19.8 0h.8v.8h-.8zm1.9-.2h.8v.8h-.8zm2.4-.3h.8v.8h-.8zm-35.8 1.4h.8v.8h-.8zm28 .1h.8v.8h-.8zm7.5-.4h.8v.8h-.8zm-37.2 1.5h.8v.8h-.8zm2.6-.2h.8v.8h-.8zm8.6-.5h.8v.8h-.8zm.7 .4h.8v.8h-.8zm1.4 .2h.8v.8h-.8zm3.6-.4h.8v.8h-.8zm4.3 .2h.8v.8h-.8zm9.8 .3h.8v.8h-.8zm4-.6h.8v.8h-.8zm.1 .6h.8v.8h-.8zm.2-.7h.8v.8h-.8zm-31.8 1.6h.8v.8h-.8zm.4 0h.8v.8h-.8zm1.3-.3h.8v.8h-.8zm0 .1h.8v.8h-.8zm26.8 .3h.8v.8h-.8zm3.1 .1h.8v.8h-.8zm-20.7 .4h.8v.8h-.8zm2.2 .4h.8v.8h-.8zm13.9-.7h.8v.8h-.8zm-23.4 1.4h.8v.8h-.8zm4.4-.4h.8v.8h-.8zm5.6 .6h.8v.8h-.8zm.8-.4h.8v.8h-.8zm1.3 .5h.8v.8h-.8zm7.6-.8h.8v.8h-.8zm.9 .3h.8v.8h-.8zm-17.4 1.5h.8v.8h-.8zm5.4 0h.8v.8h-.8zm8.8-.2h.8v.8h-.8zm6.9 .1h.8v.8h-.8zm-25.5 1.3h.8v.8h-.8zm2.3-.2h.8v.8h-.8zm4.4-.1h.8v.8h-.8zm3.9 .2h.8v.8h-.8zm7.2-.3h.8v.8h-.8zm.9-.3h.8v.8h-.8zm1.2-.3h.8v.8h-.8zm3.4 .9h.8v.8h-.8zm2.8-.5h.8v.8h-.8zm-24.9 1.3h.8v.8h-.8zm4.1-.2h.8v.8h-.8zm10.4 .4h.8v.8h-.8zm4.3-.6h.8v.8h-.8zm.3 .6h.8v.8h-.8zm2.1-.6h.8v.8h-.8zm.1 .1h.8v.8h-.8zm-20.6 1h.8v.8h-.8zm1.6 0h.8v.8h-.8zm3.2 .4h.8v.8h-.8zm.5-.5h.8v.8h-.8zm1.2 .6h.8v.8h-.8zm4.1-.6h.8v.8h-.8zm.9 .4h.8v.8h-.8zm4.8-.6h.8v.8h-.8zm5 .4h.8v.8h-.8zm1 .5h.8v.8h-.8zm2.2-.4h.8v.8h-.8zm-26 .6h.8v.8h-.8zm6 .4h.8v.8h-.8zm2.6 .1h.8v.8h-.8zm11.3 .2h.8v.8h-.8zm1-.5h.8v.8h-.8zm0-.1h.8v.8h-.8zm2.5 .3h.8v.8h-.8zm-10.5 1.1h.8v.8h-.8zm5.9-.6h.8v.8h-.8zm2.2 .6h.8v.8h-.8zm-9.9 .4h.8v.8h-.8zm9.6 .8h.8v.8h-.8zm.9-.5h.8v.8h-.8zm.4-.2h.8v.8h-.8zm-18 .9h.8v.8h-.8zm.5 .6h.8v.8h-.8zm12.9 .2h.8v.8h-.8zm.8-.5h.8v.8h-.8zm2.3 .4h.8v.8h-.8zm.4-.2h.8v.8h-.8zm-10.9 .7h.8v.8h-.8zm10.2 .2h.8v.8h-.8zm1.5-.2h.8v.8h-.8zm-3.4 1.2h.8v.8h-.8zm2.3-.1h.8v.8h-.8zm-4 1.7h.8v.8h-.8zm1.7 .3h.8v.8h-.8z"/>
<path fill="#e0f3f8" d="M543.2 414.3h.8v.8h-.8zm4.4 .1h.8v.8h-.8zm2.1-.3h.8v.8h-.8zm5.7 .3h.8v.8h-.8zm-10.3 .3h.8v.8h-.8zm5.8 .7h.8v.8h-.8zm3.5 0h.8v.8h-.8zm-.5 .3h.8v.8h-.8zm9.6-.2h.8v.8h-.8zm-19.9 1.6h.8v.8h-.8zm3.2-.1h.8v.8h-.8zm.8 0h.8v.8h-.8zm8.2-.1h.8v.8h-.8zm1.5-.1h.8v.8h-.8zm2.1 .1h.8v.8h-.8zm.2 .3h.8v.8h-.8zm6.8 0h.8v.8h-.8zm-11.5 1.1h.8v.8h-.8zm7.2-.4h.8v.8h-.8zm-12.8 1h.8v.8h-.8zm10.3 .2h.8v.8h-.8zm5.4 .3h.8v.8h-.8zm1.3-.7h.8v.8h-.8zm-17 .9h.8v.8h-.8zm4.8 .3h.8v.8h-.8zm3 .5h.8v.8h-.8zm4.7-.5h.8v.8h-.8zm2.8 .6h.8v.8h-.8zm-13.1 .8h.8v.8h-.8zm10.7-.2h.8v.8h-.8zm-11.1 1.8h.8v.8h-.8zm3.8-.1h.8v.8h-.8zm-6 1.1h.8v.8h-.8zm4 .6h.8v.8h-.8zm1-.4h.8v.8h-.8zm2.7 0h.8v.8h-.8zm2.9-.3h.8v.8h-.8zm-4.2 1.3h.8v.8h-.8zm5.4 .9h.8v.8h-.8zm2.7-.2h.8v.8h-.8zm-9.2 .8h.8v.8h-.8zm.6 .4h.8v.8h-.8zm6.2 .7h.8v.8h-.8zm.3 1.2h.8v.8h-.8zm4.2 1.2h.8v.8h-.8z"/>
<path fill="#d73027" d="M581.6 407.5h.8v.8h-.8zm.4 .1h.8v.8h-.8zm-4 4.9h.8v.8h-.8zm-.9 .8h.8v.8h-.8zm1.4 .1h.8v.8h-.8zm-6 .5h.8v.8h-.8zm2 .3h.8v.8h-.8zm.1-.7h.8v.8h-.8zm3.7 .9h.8v.8h-.8zm-6.6 .7h.8v.8h-.8zm1.9-.1h.8v.8h-.8zm.6 .1h.8v.8h-.8zm-6.5 1.1h.8v.8h-.8zm1.9-.4h.8v.8h-.8zm4.2 .3h.8v.8h-.8zm1.3-.6h.8v.8h-.8zm.1 .9h.8v.8h-.8zm-1.9 .9h.8v.8h-.8zm-2.8 .4h.8v.8h-.8zm2 .3h.8v.8h-.8zm-2.2 .6h.8v.8h-.8zm1.4 0h.8v.8h-.8zm.3 .8h.8v.8h-.8zm.7-.1h.8v.8h-.8zm-1.8 .9h.8v.8h-.8zm2.3 0h.8v.8h-.8zm.4-.4h.8v.8h-.8zm-5 1.5h.8v.8h-.8zm1.3 1h.8v.8h-.8zm.2 1h.8v.8h-.8zm.6-.3h.8v.8h-.8zm-2.9 2.2h.8v.8h-.8zm.3-.2h.8v.8h-.8zm1.4 .6h.8v.8h-.8zm-.3 1.4h.8v.8h-.8zm-.9 .5h.8v.8h-.8z"/>
<path fill="#ffffbf" d="M546.5 413.9h.8v.8h-.8zm3.1-.2h.8v.8h-.8zm5.7 .2h.8v.8h-.8zm1.8-.4h.8v.8h-.8zm-15.1 1.3h.8v.8h-.8zm.6-.1h.8v.8h-.8zm2 .3h.8v.8h-.8zm5.6-.1h.8v.8h-.8zm6.5 .2h.8v.8h-.8zm1.7 0h.8v.8h-.8zm.5-.1h.8v.8h-.8zm-15.7 1.5h.8v.8h-.8zm1-.3h.8v.8h-.8zm9.2-.4h.8v.8h-.8zm.9 .7h.8v.8h-.8zm1.5-.2h.8v.8h-.8zm3.8-.3h.8v.8h-.8zm.2 .1h.8v.8h-.8zm1.1 .4h.8v.8h-.8zm1.2-.2h.8v.8h-.8zm4.6-.1h.8v.8h-.8zm-12.2 1.2h.8v.8h-.8zm8.9-.5h.8v.8h-.8zm1.9 .4h.8v.8h-.8zm.1-.1h.8v.8h-.8zm-22.5 1.3h.8v.8h-.8zm.2-.3h.8v.8h-.8zm13.1-.2h.8v.8h-.8zm2.1-.2h.8v.8h-.8zm.6-.1h.8v.8h-.8zm1.3 .6h.8v.8h-.8zm3.5-.2h.8v.8h-.8zm.2 0h.8v.8h-.8zm.2-.2h.8v.8h-.8zm.5-.2h.8v.8h-.8zm1.7 .5h.8v.8h-.8zm.9 0h.8v.8h-.8zm-23 .7h.8v.8h-.8zm.3 .2h.8v.8h-.8zm3.8-.2h.8v.8h-.8zm.6 0h.8v.8h-.8zm.5 0h.8v.8h-.8zm1.6 .4h.8v.8h-.8zm5.1-.2h.8v.8h-.8zm2.7 0h.8v.8h-.8zm.2 0h.8v.8h-.8zm5.5 0h.8v.8h-.8zm-15.6 1.3h.8v.8h-.8zm1.3-.8h.8v.8h-.8zm2.6 .8h.8v.8h-.8zm4.4-.9h.8v.8h-.8zm6.4 .1h.8v.8h-.8zm.9 .6h.8v.8h-.8zm.2 .1h.8v.8h-.8zm1.5-.3h.8v.8h-.8zm-14.9 1.4h.8v.8h-.8zm3.7-.6h.8v.8h-.8zm7.3-.1h.8v.8h-.8zm-14.9 1.1h.8v.8h-.8zm2.3 .1h.8v.8h-.8zm2.9-.1h.8v.8h-.8zm4.3 .7h.8v.8h-.8zm.4-.5h.8v.8h-.8zm1.1-.2h.8v.8h-.8zm2.1 .3h.8v.8h-.8zm-12.6 1.3h.8v.8h-.8zm2.7-.3h.8v.8h-.8zm3.3-.5h.8v.8h-.8zm2.9 .4h.8v.8h-.8zm7.8-.1h.8v.8h-.8zm1 .5h.8v.8h-.8zm1.5-.6h.8v.8h-.8zm-13.7 1.3h.8v.8h-.8zm.6-.2h.8v.8h-.8zm1 .4h.8v.8h-.8zm1.7 .2h.8v.8h-.8zm3.7-.5h.8v.8h-.8zm1.4 .4h.8v.8h-.8zm.2-.1h.8v.8h-.8zm1.8 .1h.8v.8h-.8zm-7.5 1h.8v.8h-.8zm2.5-.2h.8v.8h-.8zm3.9 0h.8v.8h-.8zm2.9 .2h.8v.8h-.8zm-13.9 .6h.8v.8h-.8zm0-.1h.8v.8h-.8zm1.3 .2h.8v.8h-.8zm3 .2h.8v.8h-.8zm3.2-.3h.8v.8h-.8zm1.4-.5h.8v.8h-.8zm3.6 .2h.8v.8h-.8zm1.2 .7h.8v.8h-.8zm-9.2 1h.8v.8h-.8zm4.6-.1h.8v.8h-.8zm1.6-.6h.8v.8h-.8zm2.1 .1h.8v.8h-.8zm-9.1 .7h.8v.8h-.8zm1.3 .4h.8v.8h-.8zm.1-.3h.8v.8h-.8zm.9 .6h.8v.8h-.8zm.8-.5h.8v.8h-.8zm3.8 .2h.8v.8h-.8zm5 .4h.8v.8h-.8zm-2.3 1.2h.8v.8h-.8z"/>
<path fill="#d73027" d="M597.3 387h.8v.8h-.8zm-1.2 1.9h.8v.8h-.8zm-1.5 1.7h.8v.8h-.8zm-.7 1h.8v.8h-.8zm-2 2h.8v.8h-.8zm-1.4 2.6h.8v.8h-.8zm-1.9 2.1h.8v.8h-.8z"/>
<path fill="#f46d43" d="M597.1 385.6h.8v.8h-.8zm-.6 1.8h.8v.8h-.8zm-.9 1.9h.8v.8h-.8zm-1.8 2.3h.8v.8h-.8zm-2.1 2h.8v.8h-.8zm-1.8 3.4h.8v.8h-.8zm-1.1 1.3h.8v.8h-.8zm-1 1.3h.8v.8h-.8zm-.8 1h.8v.8h-.8zm-1.9 1.9h.8v.8h-.8zm.8 0h.8v.8h-.8zm0-.6h.8v.8h-.8zm.3 .2h.8v.8h-.8z"/>
<path fill="#fdae61" d="M596.2 386.2h.8v.8h-.8zm.9-.5h.8v.8h-.8zm-1.6 3.5h.8v.8h-.8zm.1-.4h.8v.8h-.8zm-5 6.3h.8v.8h-.8zm-3.6 5.4h.8v.8h-.8zm.5-.5h.8v.8h-.8zm-1.2 .9h.8v.8h-.8zm.2 .9h.8v.8h-.8z"/>
<path fill="#fee090" d="M596 387.9h.8v.8h-.8zm.6-.1h.8v.8h-.8zm-2.9 2.7h.8v.8h-.8zm1.7-.6h.8v.8h-.8zm-2.3 3.3h.8v.8h-.8zm-2.5 2.6h.8v.8h-.8zm-1 1.2h.8v.8h-.8zm.2 .6h.8v.8h-.8zm-3.8 3h.8v.8h-.8zm.4 1.2h.8v.8h-.8zm-.6 1.3h.8v.8h-.8z"/>
<line x1="537.9" y1="433.29999999999995" x2="537.9" y2="420.29999999999995" stroke="#000" stroke-width="1.3"/>
<polygon points="537.90,416.80 539.90,421.00 535.90,421.00" fill="#000"/>
<line x1="537.9" y1="433.29999999999995" x2="554.4" y2="433.29999999999995" stroke="#000" stroke-width="1.3"/>
<polygon points="558.30,433.30 554.00,435.35 554.00,431.25" fill="#000"/>
<text x="570.4" y="381.3" font-size="9.0" text-anchor="middle" fill="#111">CRTH2</text>
<line x1="623.4" y1="382.6" x2="623.4" y2="431.6" stroke="#ececec" stroke-width="0.5"/>
<line x1="638.5" y1="382.6" x2="638.5" y2="431.6" stroke="#ececec" stroke-width="0.5"/>
<line x1="653.6" y1="382.6" x2="653.6" y2="431.6" stroke="#ececec" stroke-width="0.5"/>
<line x1="668.6999999999999" y1="382.6" x2="668.6999999999999" y2="431.6" stroke="#ececec" stroke-width="0.5"/>
<line x1="608.9" y1="387.29999999999995" x2="676.9" y2="387.29999999999995" stroke="#ececec" stroke-width="0.5"/>
<line x1="608.9" y1="397.20000000000005" x2="676.9" y2="397.20000000000005" stroke="#ececec" stroke-width="0.5"/>
<line x1="608.9" y1="407.0" x2="676.9" y2="407.0" stroke="#ececec" stroke-width="0.5"/>
<line x1="608.9" y1="416.9" x2="676.9" y2="416.9" stroke="#ececec" stroke-width="0.5"/>
<line x1="608.9" y1="426.1" x2="676.9" y2="426.1" stroke="#ececec" stroke-width="0.5"/>
<path d="M614.2,415.6 C614.1,414.8 614.8,414.4 616.1,414.0 C617.4,413.6 619.8,413.5 622.1,413.4 C624.4,413.3 627.7,413.0 629.9,413.2 C632.1,413.5 633.4,414.5 635.2,414.9 C637.0,415.3 638.8,415.8 640.5,415.6 C642.2,415.4 643.9,414.5 645.7,413.6 C647.4,412.7 649.4,411.4 651.0,410.3 C652.6,409.2 654.5,407.8 655.6,407.0 C656.7,406.2 657.4,405.4 657.5,405.7 C657.6,406.0 657.3,407.1 656.2,409.0 C655.1,410.9 652.8,414.5 651.0,416.9 C649.2,419.3 647.4,421.4 645.7,423.5 C643.9,425.6 641.7,428.7 640.5,429.8 C639.3,430.9 639.8,430.5 638.5,430.3 C637.2,430.1 634.7,429.0 632.6,428.5 C630.5,428.0 628.0,428.1 626.0,427.1 C624.0,426.2 622.2,424.2 620.7,422.8 C619.2,421.4 617.9,420.1 616.8,418.9 C615.7,417.7 614.3,416.4 614.2,415.6 Z" fill="#5d8fc4"/>
<path fill="#4575b4" d="M624.8 413.4h.8v.8h-.8zm4.8-.1h.8v.8h-.8zm-11.8 .5h.8v.8h-.8zm10.3 .1h.8v.8h-.8zm1.7 .1h.8v.8h-.8zm.4 .3h.8v.8h-.8zm-9.2 .9h.8v.8h-.8zm3.8-.2h.8v.8h-.8zm1.5 .1h.8v.8h-.8zm.2-.5h.8v.8h-.8zm3 .3h.8v.8h-.8zm.3-.2h.8v.8h-.8zm.4 .4h.8v.8h-.8zm1.7 .3h.8v.8h-.8zm1.7-.1h.8v.8h-.8zm.6-.4h.8v.8h-.8zm.3 .3h.8v.8h-.8zm8.4 .2h.8v.8h-.8zm-26.5 .6h.8v.8h-.8zm1-.2h.8v.8h-.8zm1.7 .5h.8v.8h-.8zm4.4-.4h.8v.8h-.8zm.9-.4h.8v.8h-.8zm1.7 0h.8v.8h-.8zm.8 .8h.8v.8h-.8zm1.2-.2h.8v.8h-.8zm.2-.6h.8v.8h-.8zm4.3 .8h.8v.8h-.8zm3.5-.8h.8v.8h-.8zm.2 .2h.8v.8h-.8zm0-.1h.8v.8h-.8zm2.6 .6h.8v.8h-.8zm2.5 .2h.8v.8h-.8zm1.1 .1h.8v.8h-.8zm.9-.3h.8v.8h-.8zm-27.9 .5h.8v.8h-.8zm1.4 .4h.8v.8h-.8zm3.5 0h.8v.8h-.8zm3.5-.1h.8v.8h-.8zm.7 .3h.8v.8h-.8zm4.4-.6h.8v.8h-.8zm.3 .6h.8v.8h-.8zm1.5-.7h.8v.8h-.8zm1.4 .6h.8v.8h-.8zm1.2-.1h.8v.8h-.8zm-15.5 1.3h.8v.8h-.8zm.4-.7h.8v.8h-.8zm5.5-.1h.8v.8h-.8zm3.1 .7h.8v.8h-.8zm1.3-.5h.8v.8h-.8zm.9 .7h.8v.8h-.8zm4.7-.5h.8v.8h-.8zm.8-.4h.8v.8h-.8zm1.9 .1h.8v.8h-.8zm5.2 .4h.8v.8h-.8zm1.5-.6h.8v.8h-.8zm.2 .2h.8v.8h-.8zm.4-.2h.8v.8h-.8zm-26.7 1.5h.8v.8h-.8zm4-.2h.8v.8h-.8zm3.1-.1h.8v.8h-.8zm4.9 0h.8v.8h-.8zm.1 .6h.8v.8h-.8zm4.6-.1h.8v.8h-.8zm1.9-.4h.8v.8h-.8zm4.5 .1h.8v.8h-.8zm.7-.1h.8v.8h-.8zm.2 .2h.8v.8h-.8zm.3 .1h.8v.8h-.8zm-22.5 .8h.8v.8h-.8zm.2-.4h.8v.8h-.8zm2.2 .7h.8v.8h-.8zm4-.6h.8v.8h-.8zm.1 .9h.8v.8h-.8zm1.7-.2h.8v.8h-.8zm10.3-.5h.8v.8h-.8zm2.5-.3h.8v.8h-.8zm.5 .6h.8v.8h-.8zm.9-.4h.8v.8h-.8zm.3 0h.8v.8h-.8zm2 0h.8v.8h-.8zm-24.4 1.2h.8v.8h-.8zm.1-.3h.8v.8h-.8zm.3 .4h.8v.8h-.8zm.2-.1h.8v.8h-.8zm1.3-.2h.8v.8h-.8zm.7 .4h.8v.8h-.8zm.4 .1h.8v.8h-.8zm3.2-.1h.8v.8h-.8zm3.9 0h.8v.8h-.8zm4.9-.1h.8v.8h-.8zm3.7-.3h.8v.8h-.8zm1.9 .3h.8v.8h-.8zm.9 .2h.8v.8h-.8zm-20.6 .6h.8v.8h-.8zm2.8 .6h.8v.8h-.8zm3.1-.6h.8v.8h-.8zm.5-.2h.8v.8h-.8zm.1 .5h.8v.8h-.8zm.8-.6h.8v.8h-.8zm5.3 .8h.8v.8h-.8zm.4-.2h.8v.8h-.8zm3.7 .3h.8v.8h-.8zm4.1-.1h.8v.8h-.8zm1.6-.6h.8v.8h-.8zm1.6 .7h.8v.8h-.8zm.1-.7h.8v.8h-.8zm-23 .9h.8v.8h-.8zm1.2 .8h.8v.8h-.8zm.1-.4h.8v.8h-.8zm1.8-.3h.8v.8h-.8zm2.9 .5h.8v.8h-.8zm2.2-.1h.8v.8h-.8zm1.5 .1h.8v.8h-.8zm4.7-.4h.8v.8h-.8zm1.2 .4h.8v.8h-.8zm.1-.5h.8v.8h-.8zm2.2 0h.8v.8h-.8zm.6 .1h.8v.8h-.8zm1.6 0h.8v.8h-.8zm.1 .4h.8v.8h-.8zm-17.4 .5h.8v.8h-.8zm4.2 .2h.8v.8h-.8zm.5-.2h.8v.8h-.8zm.7 .3h.8v.8h-.8zm1.2-.1h.8v.8h-.8zm2.9 .4h.8v.8h-.8zm.2-.2h.8v.8h-.8zm5.3 .3h.8v.8h-.8zm.3-.7h.8v.8h-.8zm1.3 0h.8v.8h-.8zm3.5-.2h.8v.8h-.8zm-18.8 1.1h.8v.8h-.8zm.6 .7h.8v.8h-.8zm.7-.7h.8v.8h-.8zm.8 .2h.8v.8h-.8zm9 0h.8v.8h-.8zm.9 .1h.8v.8h-.8zm.2 .1h.8v.8h-.8zm1.1-.2h.8v.8h-.8zm1.1-.1h.8v.8h-.8zm.1 .1h.8v.8h-.8zm2.3 .6h.8v.8h-.8zm-16.5 .3h.8v.8h-.8zm5.5 .5h.8v.8h-.8zm3.1-.1h.8v.8h-.8zm.5 .1h.8v.8h-.8zm.1 .2h.8v.8h-.8zm.9-.9h.8v.8h-.8zm.7 .6h.8v.8h-.8zm.3 .3h.8v.8h-.8zm.7-.1h.8v.8h-.8zm.6-.7h.8v.8h-.8zm.9 0h.8v.8h-.8zm.6 .5h.8v.8h-.8zm.1 .3h.8v.8h-.8zm2.6-.4h.8v.8h-.8zm.5 .2h.8v.8h-.8zm.1 .2h.8v.8h-.8zm.3-.8h.8v.8h-.8zm-16.9 1.5h.8v.8h-.8zm2.3-.4h.8v.8h-.8zm3.4 .6h.8v.8h-.8zm3.3 .1h.8v.8h-.8zm1.7-.2h.8v.8h-.8zm.3 0h.8v.8h-.8zm0-.2h.8v.8h-.8zm1.7 .4h.8v.8h-.8zm1.3-.5h.8v.8h-.8zm1.7-.3h.8v.8h-.8zm-12.9 1h.8v.8h-.8zm.2-.1h.8v.8h-.8zm2.2 .2h.8v.8h-.8zm3-.1h.8v.8h-.8zm.1 .7h.8v.8h-.8zm.3 .1h.8v.8h-.8zm1.1-.2h.8v.8h-.8zm1.6-.5h.8v.8h-.8zm1.7 0h.8v.8h-.8zm2.4-.1h.8v.8h-.8zm-6.7 1.1h.8v.8h-.8zm1.4 .4h.8v.8h-.8zm.2-.2h.8v.8h-.8zm1.4 0h.8v.8h-.8zm.8 .3h.8v.8h-.8zm.8-.3h.8v.8h-.8zm-1.1 .6h.8v.8h-.8z"/>
<path fill="#abd9e9" d="M651 410.4h.8v.8h-.8zm1.8-.2h.8v.8h-.8zm-2.2 .4h.8v.8h-.8zm-1.4 1.6h.8v.8h-.8zm1.9 1h.8v.8h-.8zm-31.9 .7h.8v.8h-.8zm6.4 .6h.8v.8h-.8zm23.8-.3h.8v.8h-.8zm.3 .2h.8v.8h-.8zm-30.6 .3h.8v.8h-.8zm.7 .5h.8v.8h-.8zm11.6-.3h.8v.8h-.8zm19.4-.2h.8v.8h-.8zm-33.7 1.4h.8v.8h-.8zm5.7-.1h.8v.8h-.8zm4.1 .1h.8v.8h-.8zm8.3 0h.8v.8h-.8zm2.6-.6h.8v.8h-.8zm.4 .8h.8v.8h-.8zm1.2-.3h.8v.8h-.8zm2.2-.1h.8v.8h-.8zm6.7 .1h.8v.8h-.8zm1.7-.4h.8v.8h-.8zm-30.1 1.7h.8v.8h-.8zm.1-.5h.8v.8h-.8zm.1 .6h.8v.8h-.8zm.3-.1h.8v.8h-.8zm.5 0h.8v.8h-.8zm7.1 .1h.8v.8h-.8zm14.9-.4h.8v.8h-.8zm-24.6 1.3h.8v.8h-.8zm7.2-.3h.8v.8h-.8zm.9 .1h.8v.8h-.8zm.9 0h.8v.8h-.8zm3.2-.4h.8v.8h-.8zm.2-.2h.8v.8h-.8zm3.1 .1h.8v.8h-.8zm.3 .5h.8v.8h-.8zm4.4 0h.8v.8h-.8zm7 .3h.8v.8h-.8zm.1-.6h.8v.8h-.8zm.9 .2h.8v.8h-.8zm-18.8 .9h.8v.8h-.8zm1 .2h.8v.8h-.8zm2.1 .1h.8v.8h-.8zm9.2-.3h.8v.8h-.8zm6.3-.1h.8v.8h-.8zm-28 .9h.8v.8h-.8zm.9 .4h.8v.8h-.8zm4.3 .1h.8v.8h-.8zm1.1 .1h.8v.8h-.8zm1-.5h.8v.8h-.8zm.1-.1h.8v.8h-.8zm.3 .2h.8v.8h-.8zm6.7 .3h.8v.8h-.8zm.5 .2h.8v.8h-.8zm1.8-.5h.8v.8h-.8zm.2-.1h.8v.8h-.8zm.3-.1h.8v.8h-.8zm1 .2h.8v.8h-.8zm3.7 .1h.8v.8h-.8zm1.3-.5h.8v.8h-.8zm2.3 .8h.8v.8h-.8zm1.2 0h.8v.8h-.8zm-25.4 1.1h.8v.8h-.8zm1.5 0h.8v.8h-.8zm.7-.1h.8v.8h-.8zm.5-.7h.8v.8h-.8zm9.8 .8h.8v.8h-.8zm.1 0h.8v.8h-.8zm2.3-.4h.8v.8h-.8zm4-.1h.8v.8h-.8zm-18.4 .7h.8v.8h-.8zm2.9 .3h.8v.8h-.8zm1 .5h.8v.8h-.8zm1.8 0h.8v.8h-.8zm8.1-.6h.8v.8h-.8zm2 .4h.8v.8h-.8zm7.7-.3h.8v.8h-.8zm.4-.4h.8v.8h-.8zm2.5 .1h.8v.8h-.8zm-24 1.7h.8v.8h-.8zm1.7-.6h.8v.8h-.8zm10.5 .5h.8v.8h-.8zm1.5-.1h.8v.8h-.8zm3.7-.4h.8v.8h-.8zm.9 .4h.8v.8h-.8zm3.3-.3h.8v.8h-.8zm-21.4 1h.8v.8h-.8zm4 .5h.8v.8h-.8zm.1-.3h.8v.8h-.8zm1-.1h.8v.8h-.8zm.7 .1h.8v.8h-.8zm.4 .4h.8v.8h-.8zm8.1-.9h.8v.8h-.8zm2.2 0h.8v.8h-.8zm.6 .5h.8v.8h-.8zm.8-.3h.8v.8h-.8zm.8 .6h.8v.8h-.8zm-17.7 .3h.8v.8h-.8zm7.6 .3h.8v.8h-.8zm4.8 .4h.8v.8h-.8zm1.6-.3h.8v.8h-.8zm5.8-.3h.8v.8h-.8zm-18 .8h.8v.8h-.8zm5.2 .1h.8v.8h-.8zm1.2 .7h.8v.8h-.8zm2.9-.5h.8v.8h-.8zm1.3 .4h.8v.8h-.8zm2.4-.6h.8v.8h-.8zm3.4 .3h.8v.8h-.8zm-16.4 .7h.8v.8h-.8zm3.8 .7h.8v.8h-.8zm2.1-.2h.8v.8h-.8zm3.1 .3h.8v.8h-.8zm4.6-.5h.8v.8h-.8zm1.3 .2h.8v.8h-.8zm2.1-.3h.8v.8h-.8zm-4.6 1.6h.8v.8h-.8zm.5-.9h.8v.8h-.8zm1.2 .2h.8v.8h-.8z"/>
<path fill="#fee090" d="M655.1 409.5h.8v.8h-.8zm-5.9 2.2h.8v.8h-.8zm-2.9 1.7h.8v.8h-.8zm.9 1.4h.8v.8h-.8zm1 0h.8v.8h-.8zm-2.2 .7h.8v.8h-.8zm.1 .3h.8v.8h-.8zm.8 .6h.8v.8h-.8zm2.5-.3h.8v.8h-.8zm.3 .4h.8v.8h-.8zm-1.4 2.2h.8v.8h-.8zm-3.1 2.9h.8v.8h-.8zm.3 .9h.8v.8h-.8zm.2-.6h.8v.8h-.8zm.8 .5h.8v.8h-.8zm-1.4 1h.8v.8h-.8z"/>
<path fill="#3a68ac" d="M621.8 413.4h.8v.8h-.8zm-3 1.1h.8v.8h-.8zm5-.3h.8v.8h-.8zm.1 .2h.8v.8h-.8zm.2-.5h.8v.8h-.8zm3.3-.3h.8v.8h-.8zm.9 .1h.8v.8h-.8zm-8.1 1.2h.8v.8h-.8zm3.4 .2h.8v.8h-.8zm.9 .2h.8v.8h-.8zm1.5 .1h.8v.8h-.8zm2-.4h.8v.8h-.8zm3.2 0h.8v.8h-.8zm3-.1h.8v.8h-.8zm-18.5 1h.8v.8h-.8zm1.4-.2h.8v.8h-.8zm.9 .6h.8v.8h-.8zm.2 .2h.8v.8h-.8zm.7-.4h.8v.8h-.8zm2.2-.3h.8v.8h-.8zm8.6 .4h.8v.8h-.8zm.2 .2h.8v.8h-.8zm.7-.6h.8v.8h-.8zm.8 .1h.8v.8h-.8zm1 .4h.8v.8h-.8zm.8-.7h.8v.8h-.8zm2 .9h.8v.8h-.8zm1.3-.6h.8v.8h-.8zm3.6 .6h.8v.8h-.8zm.5-.3h.8v.8h-.8zm-5.9 1.2h.8v.8h-.8zm6.2-.8h.8v.8h-.8zm-20.6 1.9h.8v.8h-.8zm3.5-.5h.8v.8h-.8zm3.3-.5h.8v.8h-.8zm1.4 .9h.8v.8h-.8zm1.4-.5h.8v.8h-.8zm6.8 .5h.8v.8h-.8zm4.4 .1h.8v.8h-.8zm3.4-.1h.8v.8h-.8zm-25.6 .5h.8v.8h-.8zm2.9 .4h.8v.8h-.8zm2 0h.8v.8h-.8zm4.7-.6h.8v.8h-.8zm2.9 0h.8v.8h-.8zm.3 .2h.8v.8h-.8zm3.9 .5h.8v.8h-.8zm4.1-.7h.8v.8h-.8zm3.4 .4h.8v.8h-.8zm.3 .3h.8v.8h-.8zm-24.8 .1h.8v.8h-.8zm2.1 .2h.8v.8h-.8zm.6 .6h.8v.8h-.8zm1.4 .1h.8v.8h-.8zm4.5-.7h.8v.8h-.8zm1.1-.1h.8v.8h-.8zm.1 .5h.8v.8h-.8zm3.1-.2h.8v.8h-.8zm.3 .1h.8v.8h-.8zm3.7-.2h.8v.8h-.8zm2.3-.2h.8v.8h-.8zm5.6 .7h.8v.8h-.8zm0-.7h.8v.8h-.8zm-14.6 1h.8v.8h-.8zm3 .6h.8v.8h-.8zm5.4 .2h.8v.8h-.8zm1.2 0h.8v.8h-.8zm2.1-.8h.8v.8h-.8zm-20.3 1.5h.8v.8h-.8zm7.5-.3h.8v.8h-.8zm7.8 .1h.8v.8h-.8zm-10.3 1h.8v.8h-.8zm1.5-.1h.8v.8h-.8zm-2.8 1h.8v.8h-.8zm4.9-.2h.8v.8h-.8zm1.5 .9h.8v.8h-.8zm5.4-.7h.8v.8h-.8zm3.9 .5h.8v.8h-.8zm-9.8 .9h.8v.8h-.8zm3.6-.1h.8v.8h-.8zm2.3-.2h.8v.8h-.8zm8.2 .5h.8v.8h-.8zm-16.4 .3h.8v.8h-.8zm.9 .3h.8v.8h-.8zm9.7 0h.8v.8h-.8zm-5.9 .9h.8v.8h-.8zm7.1 .3h.8v.8h-.8zm-8.8 .8h.8v.8h-.8zm3.6-.4h.8v.8h-.8zm4 .7h.8v.8h-.8z"/>
<path fill="#74add1" d="M650.5 411.3h.8v.8h-.8zm.2-.5h.8v.8h-.8zm-1.6 1.2h.8v.8h-.8zm.9-.4h.8v.8h-.8zm1.9 .4h.8v.8h-.8zm-4.4 .7h.8v.8h-.8zm2.8 .6h.8v.8h-.8zm2.6-.1h.8v.8h-.8zm-37 1h.8v.8h-.8zm4.3-.1h.8v.8h-.8zm1.1 0h.8v.8h-.8zm5.4-.3h.8v.8h-.8zm.8 .1h.8v.8h-.8zm19.5 .6h.8v.8h-.8zm3.8-.7h.8v.8h-.8zm1.7-.2h.8v.8h-.8zm-23.5 1.3h.8v.8h-.8zm1.5 0h.8v.8h-.8zm6.3 .3h.8v.8h-.8zm8.5-.3h.8v.8h-.8zm5.6 .3h.8v.8h-.8zm-27.8 .9h.8v.8h-.8zm3.8 .2h.8v.8h-.8zm3.4 0h.8v.8h-.8zm.2-.3h.8v.8h-.8zm6.3-.5h.8v.8h-.8zm3.1 .3h.8v.8h-.8zm.7-.2h.8v.8h-.8zm8.9 .2h.8v.8h-.8zm.4-.1h.8v.8h-.8zm.5 .2h.8v.8h-.8zm-34.5 1h.8v.8h-.8zm1.1 .1h.8v.8h-.8zm19.9 .3h.8v.8h-.8zm3.2-.5h.8v.8h-.8zm3.8-.2h.8v.8h-.8zm.4 .3h.8v.8h-.8zm-25.8 .9h.8v.8h-.8zm2 .3h.8v.8h-.8zm1.2 .3h.8v.8h-.8zm.4 0h.8v.8h-.8zm2.2 0h.8v.8h-.8zm2.8-.6h.8v.8h-.8zm3.5 .4h.8v.8h-.8zm.5-.3h.8v.8h-.8zm2.1 0h.8v.8h-.8zm.7 .6h.8v.8h-.8zm4.2 0h.8v.8h-.8zm.6-.9h.8v.8h-.8zm1.2 .8h.8v.8h-.8zm2.2-.8h.8v.8h-.8zm-24.1 1.8h.8v.8h-.8zm1.3-.6h.8v.8h-.8zm10.9 .2h.8v.8h-.8zm1.6 .3h.8v.8h-.8zm2.1-.6h.8v.8h-.8zm2.6-.1h.8v.8h-.8zm4.2 .8h.8v.8h-.8zm.9 0h.8v.8h-.8zm-22.6 .5h.8v.8h-.8zm5.3 .5h.8v.8h-.8zm1.8-.1h.8v.8h-.8zm2.4-.6h.8v.8h-.8zm.4 .4h.8v.8h-.8zm.9-.6h.8v.8h-.8zm.1 .6h.8v.8h-.8zm5.7 0h.8v.8h-.8zm1.1-.1h.8v.8h-.8zm.9-.2h.8v.8h-.8zm7.6 .6h.8v.8h-.8zm1 0h.8v.8h-.8zm1.1-.8h.8v.8h-.8zm.6 .5h.8v.8h-.8zm-19.2 .6h.8v.8h-.8zm4.4 .3h.8v.8h-.8zm1.1-.3h.8v.8h-.8zm.5 .4h.8v.8h-.8zm-13 1.1h.8v.8h-.8zm.9-.3h.8v.8h-.8zm4.5 .4h.8v.8h-.8zm1.1-.6h.8v.8h-.8zm2.1-.1h.8v.8h-.8zm7.8 .2h.8v.8h-.8zm3.1 .7h.8v.8h-.8zm-19.5 .8h.8v.8h-.8zm2.3 .1h.8v.8h-.8zm1.2-.1h.8v.8h-.8zm2.4-.7h.8v.8h-.8zm5.6 .4h.8v.8h-.8zm.7 0h.8v.8h-.8zm7.6-.1h.8v.8h-.8zm-16.4 1.3h.8v.8h-.8zm3.5-.6h.8v.8h-.8zm3.2 .1h.8v.8h-.8zm2 .3h.8v.8h-.8zm4.9 .4h.8v.8h-.8zm2.7-.8h.8v.8h-.8zm1.5 .5h.8v.8h-.8zm1 .4h.8v.8h-.8zm-20.2 .2h.8v.8h-.8zm1.5 .5h.8v.8h-.8zm2.8-.5h.8v.8h-.8zm.5 .4h.8v.8h-.8zm5.3-.1h.8v.8h-.8zm.6-.3h.8v.8h-.8zm6.1 .5h.8v.8h-.8zm-15.7 .6h.8v.8h-.8zm1.1-.3h.8v.8h-.8zm.3 0h.8v.8h-.8zm3.6 .1h.8v.8h-.8zm.2 .4h.8v.8h-.8zm2.2-.4h.8v.8h-.8zm6.9 .7h.8v.8h-.8zm-10.6 .9h.8v.8h-.8zm.1-.5h.8v.8h-.8zm1.5 .1h.8v.8h-.8zm4.5 0h.8v.8h-.8zm-3 1.3h.8v.8h-.8zm3.9-.4h.8v.8h-.8zm2.7 .1h.8v.8h-.8zm-.5 .8h.8v.8h-.8zm.5 .8h.8v.8h-.8zm.5-.8h.8v.8h-.8zm.2 .8h.8v.8h-.8zm.8-.8h.8v.8h-.8zm.1 .7h.8v.8h-.8z"/>
<path fill="#fdae61" d="M656.5 407h.8v.8h-.8zm-3.7 3.8h.8v.8h-.8zm-3.4 1.7h.8v.8h-.8zm-1.5 .2h.8v.8h-.8zm2.9 .5h.8v.8h-.8zm2.5-.1h.8v.8h-.8zm-4.1 1.3h.8v.8h-.8zm.2 1h.8v.8h-.8zm.3 1h.8v.8h-.8zm1.3-.1h.8v.8h-.8zm-4.8 .3h.8v.8h-.8zm4.1 .3h.8v.8h-.8zm-3.8 .8h.8v.8h-.8zm-.3 1.3h.8v.8h-.8zm.7 .2h.8v.8h-.8zm-1.9 .9h.8v.8h-.8zm1.7 2.1h.8v.8h-.8z"/>
<path fill="#d73027" d="M656.4 406.8h.8v.8h-.8z"/>
<path fill="#fee090" d="M671.5 384.3h.8v.8h-.8zm.5 .2h.8v.8h-.8zm-.4 .1h.8v.8h-.8zm-.7 1.1h.8v.8h-.8zm-2.1 2.1h.8v.8h-.8zm-1.8 3.8h.8v.8h-.8zm-2.4 3.7h.8v.8h-.8zm-.6 .8h.8v.8h-.8zm-.9 1h.8v.8h-.8zm-2.3 3.6h.8v.8h-.8zm-1.3 1.6h.8v.8h-.8zm-1.5 1.8h.8v.8h-.8zm-.7 .5h.8v.8h-.8z"/>
<path fill="#d73027" d="M669.7 388.9h.8v.8h-.8zm-3.8 4.6h.8v.8h-.8zm-.8 1.5h.8v.8h-.8zm.3 0h.8v.8h-.8zm.9 .5h.8v.8h-.8zm-3.7 2.4h.8v.8h-.8zm-1 1.3h.8v.8h-.8zm-2.5 3.8h.8v.8h-.8z"/>
<path fill="#f46d43" d="M670.3 385.6h.8v.8h-.8zm.1 .4h.8v.8h-.8zm-5.1 8.5h.8v.8h-.8zm.4-.5h.8v.8h-.8zm-.8 .9h.8v.8h-.8zm.7-.3h.8v.8h-.8zm-2.4 4.1h.8v.8h-.8zm-2 .9h.8v.8h-.8zm-3.2 3.7h.8v.8h-.8zm-.6 2h.8v.8h-.8z"/>
<path fill="#fdae61" d="M668.5 389.3h.8v.8h-.8zm-.3 1.3h.8v.8h-.8zm-1.4 1.2h.8v.8h-.8zm-1.8 3.5h.8v.8h-.8zm-3.2 3.2h.8v.8h-.8zm-3.1 4.5h.8v.8h-.8zm.1 .1h.8v.8h-.8zm.4 .4h.8v.8h-.8zm-1.8 2h.8v.8h-.8z"/>
<line x1="611.5" y1="433.29999999999995" x2="611.5" y2="420.29999999999995" stroke="#000" stroke-width="1.3"/>
<polygon points="611.50,416.80 613.50,421.00 609.50,421.00" fill="#000"/>
<line x1="611.5" y1="433.29999999999995" x2="628.0" y2="433.29999999999995" stroke="#000" stroke-width="1.3"/>
<polygon points="631.90,433.30 627.60,435.35 627.60,431.25" fill="#000"/>
<text x="644.6" y="381.3" font-size="9.0" text-anchor="middle" fill="#111">CD38</text>
<text x="662.9" y="434" font-size="7.3" text-anchor="middle" fill="#111">Expression</text>
<defs><linearGradient id="gexp" x1="0" x2="1"><stop offset="0" stop-color="#4575b4"/><stop offset="0.25" stop-color="#abd9e9"/><stop offset="0.5" stop-color="#ffffbf"/><stop offset="0.75" stop-color="#fdae61"/><stop offset="1" stop-color="#d73027"/></linearGradient></defs>
<rect x="640.9" y="436.3" width="43" height="2.9" fill="url(#gexp)"/>
<text x="641" y="444.2" font-size="7.0" fill="#111">min</text>
<text x="671.4" y="444.2" font-size="7.0" fill="#111">max</text>
<text x="7.7" y="480" font-size="14" font-weight="bold" fill="#000">H</text>
<text x="35" y="480" font-size="8.2" fill="#111">Resting (CD45RA<tspan font-size="4.6" baseline-shift="3.2">+</tspan>) T<tspan font-size="4.6" baseline-shift="-2">regs</tspan></text>
<line x1="34.8" y1="485.7" x2="34.8" y2="587.2" stroke="#000" stroke-width="1.5"/>
<line x1="34.8" y1="587.2" x2="201" y2="587.2" stroke="#000" stroke-width="1.5"/>
<line x1="32.3" y1="500.2" x2="34.8" y2="500.2" stroke="#000" stroke-width="1.1"/>
<text x="31.6" y="503.2" font-size="8.6" text-anchor="end" fill="#222">50</text>
<line x1="32.3" y1="520.98" x2="34.8" y2="520.98" stroke="#000" stroke-width="1.1"/>
<text x="31.6" y="523.98" font-size="8.6" text-anchor="end" fill="#222">40</text>
<line x1="32.3" y1="541.76" x2="34.8" y2="541.76" stroke="#000" stroke-width="1.1"/>
<text x="31.6" y="544.76" font-size="8.6" text-anchor="end" fill="#222">30</text>
<line x1="32.3" y1="562.54" x2="34.8" y2="562.54" stroke="#000" stroke-width="1.1"/>
<text x="31.6" y="565.54" font-size="8.6" text-anchor="end" fill="#222">20</text>
<line x1="32.3" y1="583.3199999999999" x2="34.8" y2="583.3199999999999" stroke="#000" stroke-width="1.1"/>
<text x="31.6" y="586.3199999999999" font-size="8.6" text-anchor="end" fill="#222">10</text>
<text x="17.4" y="538" font-size="9.8" text-anchor="middle" fill="#222" transform="rotate(-90 17.4 538)">% of T<tspan font-size="5.2" baseline-shift="-2.2">regs</tspan></text>
<line x1="45.2" y1="587.2" x2="45.2" y2="589.7" stroke="#000" stroke-width="1.1"/>
<line x1="63.4" y1="587.2" x2="63.4" y2="589.7" stroke="#000" stroke-width="1.1"/>
<line x1="81.6" y1="587.2" x2="81.6" y2="589.7" stroke="#000" stroke-width="1.1"/>
<line x1="99.6" y1="587.2" x2="99.6" y2="589.7" stroke="#000" stroke-width="1.1"/>
<line x1="117.8" y1="587.2" x2="117.8" y2="589.7" stroke="#000" stroke-width="1.1"/>
<line x1="135.6" y1="587.2" x2="135.6" y2="589.7" stroke="#000" stroke-width="1.1"/>
<line x1="154.0" y1="587.2" x2="154.0" y2="589.7" stroke="#000" stroke-width="1.1"/>
<line x1="171.9" y1="587.2" x2="171.9" y2="589.7" stroke="#000" stroke-width="1.1"/>
<line x1="190.3" y1="587.2" x2="190.3" y2="589.7" stroke="#000" stroke-width="1.1"/>
<text x="45.2" y="597.6" font-size="8.9" text-anchor="middle" fill="#222">0</text>
<text x="58.9" y="597.6" font-size="8.9" text-anchor="middle" fill="#222">4</text>
<text x="81.5" y="597.6" font-size="8.9" text-anchor="middle" fill="#222">8</text>
<text x="98.8" y="597.6" font-size="8.9" text-anchor="middle" fill="#222">12</text>
<text x="115.4" y="597.6" font-size="8.9" text-anchor="middle" fill="#222">28</text>
<text x="135.1" y="597.6" font-size="8.9" text-anchor="middle" fill="#222">52</text>
<text x="154.0" y="597.6" font-size="8.9" text-anchor="middle" fill="#222">104</text>
<text x="171.9" y="597.6" font-size="8.8" text-anchor="middle" fill="#222">HW<tspan font-size="4.6" baseline-shift="3.2">+</tspan></text>
<text x="193.0" y="597.6" font-size="8.8" text-anchor="middle" fill="#222">HW<tspan font-size="4.6" baseline-shift="3.2">−</tspan></text>
<text x="100.4" y="604.8" font-size="8.8" text-anchor="middle" fill="#222">WPI</text>
<line x1="46.3" y1="607.4" x2="158.7" y2="607.4" stroke="#777" stroke-width="1.0"/>
<line x1="170" y1="607.4" x2="195" y2="607.4" stroke="#777" stroke-width="1.0"/>
<text x="99.6" y="614.2" font-size="8.0" font-weight="bold" text-anchor="middle" fill="#000">CHHIL</text>
<text x="183" y="614.2" font-size="8.0" font-weight="bold" text-anchor="middle" fill="#000">Flores</text>
<line x1="164" y1="488" x2="164" y2="587.2" stroke="#222" stroke-width="1.3" stroke-dasharray="3.8,2.2"/>
<polyline points="45.2,566.2 63.4,548.8 81.6,553.0 99.6,553.6 117.8,544.4 135.6,547.8 154.0,547.0" fill="none" stroke="#e69f00" stroke-width="1.5" stroke-linejoin="round"/>
<circle cx="45.2" cy="566.2" r="2.71" fill="#e69f00"/>
<circle cx="63.4" cy="548.8" r="2.71" fill="#e69f00"/>
<circle cx="81.6" cy="553.0" r="2.71" fill="#e69f00"/>
<circle cx="99.6" cy="553.6" r="2.71" fill="#e69f00"/>
<circle cx="117.8" cy="544.4" r="2.71" fill="#e69f00"/>
<circle cx="135.6" cy="547.8" r="2.71" fill="#e69f00"/>
<circle cx="154.0" cy="547.0" r="2.71" fill="#e69f00"/>
<polyline points="45.2,560.7 63.4,545.2 81.6,543.1 99.6,539.6 117.8,531.2 135.6,528.1 154.0,530.4" fill="none" stroke="#009e73" stroke-width="1.5" stroke-linejoin="round"/>
<rect x="42.8" y="558.3" width="4.8" height="4.8" fill="#009e73"/>
<rect x="61.0" y="542.8" width="4.8" height="4.8" fill="#009e73"/>
<rect x="79.2" y="540.7" width="4.8" height="4.8" fill="#009e73"/>
<rect x="97.2" y="537.2" width="4.8" height="4.8" fill="#009e73"/>
<rect x="115.4" y="528.8" width="4.8" height="4.8" fill="#009e73"/>
<rect x="133.2" y="525.7" width="4.8" height="4.8" fill="#009e73"/>
<rect x="151.6" y="528.0" width="4.8" height="4.8" fill="#009e73"/>
<polyline points="45.2,549.1 63.4,536.0 81.6,540.4 99.6,537.8 117.8,542.3 135.6,537.3 154.0,544.4" fill="none" stroke="#56b4e9" stroke-width="1.5" stroke-linejoin="round"/>
<polygon points="45.2,545.9 41.9,551.0 48.5,551.0" fill="#56b4e9"/>
<polygon points="63.4,532.8 60.1,537.9 66.7,537.9" fill="#56b4e9"/>
<polygon points="81.6,537.2 78.3,542.3 84.9,542.3" fill="#56b4e9"/>
<polygon points="99.6,534.6 96.3,539.7 102.9,539.7" fill="#56b4e9"/>
<polygon points="117.8,539.1 114.5,544.2 121.1,544.2" fill="#56b4e9"/>
<polygon points="135.6,534.1 132.3,539.2 138.9,539.2" fill="#56b4e9"/>
<polygon points="154.0,541.2 150.7,546.3 157.3,546.3" fill="#56b4e9"/>
<polyline points="45.2,538.3 63.4,521.3 81.6,518.1 99.6,515.5 117.8,509.4 135.6,515.0 154.0,491.3" fill="none" stroke="#d55e00" stroke-width="1.5" stroke-linejoin="round"/>
<line x1="40.925000000000004" y1="538.3" x2="49.475" y2="538.3" stroke="#d55e00" stroke-width="1.0"/>
<line x1="45.2" y1="534.025" x2="45.2" y2="542.5749999999999" stroke="#d55e00" stroke-width="1.0"/>
<line x1="59.125" y1="521.3" x2="67.675" y2="521.3" stroke="#d55e00" stroke-width="1.0"/>
<line x1="63.4" y1="517.025" x2="63.4" y2="525.5749999999999" stroke="#d55e00" stroke-width="1.0"/>
<line x1="77.32499999999999" y1="518.1" x2="85.875" y2="518.1" stroke="#d55e00" stroke-width="1.0"/>
<line x1="81.6" y1="513.825" x2="81.6" y2="522.375" stroke="#d55e00" stroke-width="1.0"/>
<line x1="95.32499999999999" y1="515.5" x2="103.875" y2="515.5" stroke="#d55e00" stroke-width="1.0"/>
<line x1="99.6" y1="511.225" x2="99.6" y2="519.775" stroke="#d55e00" stroke-width="1.0"/>
<line x1="113.52499999999999" y1="509.4" x2="122.075" y2="509.4" stroke="#d55e00" stroke-width="1.0"/>
<line x1="117.8" y1="505.125" x2="117.8" y2="513.675" stroke="#d55e00" stroke-width="1.0"/>
<line x1="131.325" y1="515" x2="139.875" y2="515" stroke="#d55e00" stroke-width="1.0"/>
<line x1="135.6" y1="510.725" x2="135.6" y2="519.275" stroke="#d55e00" stroke-width="1.0"/>
<line x1="149.725" y1="491.3" x2="158.275" y2="491.3" stroke="#d55e00" stroke-width="1.0"/>
<line x1="154.0" y1="487.02500000000003" x2="154.0" y2="495.575" stroke="#d55e00" stroke-width="1.0"/>
<text x="62.8" y="516.5" font-size="7.5" text-anchor="middle" fill="#222">***</text>
<text x="81.5" y="515.2" font-size="7.5" text-anchor="middle" fill="#222">***</text>
<text x="99.6" y="512" font-size="7.5" text-anchor="middle" fill="#222">***</text>
<text x="117.8" y="506.5" font-size="7.5" text-anchor="middle" fill="#222">***</text>
<text x="135.6" y="510" font-size="7.5" text-anchor="middle" fill="#222">***</text>
<text x="154" y="488.2" font-size="7.5" text-anchor="middle" fill="#222">***</text>
<line x1="171.8" y1="511" x2="189.8" y2="514.9" stroke="#cc79a7" stroke-width="1.3"/>
<polygon points="171.8,508.8 174.0,511.0 171.8,513.2 169.6,511.0" fill="#cc79a7"/>
<polygon points="189.8,512.7 192.0,514.9 189.8,517.1 187.6,514.9" fill="#cc79a7"/>
<line x1="171.8" y1="527.6" x2="189.8" y2="544" stroke="#cc79a7" stroke-width="1.3"/>
<polygon points="171.8,525.4 174.0,527.6 171.8,529.8 169.6,527.6" fill="#cc79a7"/>
<polygon points="189.8,541.8 192.0,544.0 189.8,546.2 187.6,544.0" fill="#cc79a7"/>
<line x1="171.8" y1="536.4" x2="189.8" y2="561.4" stroke="#cc79a7" stroke-width="1.3"/>
<polygon points="171.8,534.2 174.0,536.4 171.8,538.6 169.6,536.4" fill="#cc79a7"/>
<polygon points="189.8,559.2 192.0,561.4 189.8,563.6 187.6,561.4" fill="#cc79a7"/>
<line x1="171.8" y1="544" x2="189.8" y2="553.6" stroke="#cc79a7" stroke-width="1.3"/>
<polygon points="171.8,541.8 174.0,544.0 171.8,546.2 169.6,544.0" fill="#cc79a7"/>
<polygon points="189.8,551.4 192.0,553.6 189.8,555.8 187.6,553.6" fill="#cc79a7"/>
<line x1="171.8" y1="562.7" x2="189.8" y2="565" stroke="#cc79a7" stroke-width="1.3"/>
<polygon points="171.8,560.5 174.0,562.7 171.8,564.9 169.6,562.7" fill="#cc79a7"/>
<polygon points="189.8,562.8 192.0,565.0 189.8,567.2 187.6,565.0" fill="#cc79a7"/>
<line x1="171.8" y1="570.7" x2="189.8" y2="580.2" stroke="#cc79a7" stroke-width="1.3"/>
<polygon points="171.8,568.5 174.0,570.7 171.8,572.9 169.6,570.7" fill="#cc79a7"/>
<polygon points="189.8,578.0 192.0,580.2 189.8,582.4 187.6,580.2" fill="#cc79a7"/>
<line x1="171.8" y1="573.1" x2="189.8" y2="570" stroke="#cc79a7" stroke-width="1.3"/>
<polygon points="171.8,570.9 174.0,573.1 171.8,575.3 169.6,573.1" fill="#cc79a7"/>
<polygon points="189.8,567.8 192.0,570.0 189.8,572.2 187.6,570.0" fill="#cc79a7"/>
<line x1="171.8" y1="579.8" x2="189.8" y2="583" stroke="#cc79a7" stroke-width="1.3"/>
<polygon points="171.8,577.6 174.0,579.8 171.8,582.0 169.6,579.8" fill="#cc79a7"/>
<polygon points="189.8,580.8 192.0,583.0 189.8,585.2 187.6,583.0" fill="#cc79a7"/>
<text x="180.4" y="504.2" font-size="8.2" text-anchor="middle" fill="#222">0.003</text>
<line x1="170.2" y1="506.4" x2="190.5" y2="506.4" stroke="#222" stroke-width="0.9"/>
<text x="1" y="636" font-size="14" font-weight="bold" fill="#000">I</text>
<text x="33.7" y="636" font-size="8.2" fill="#111">T<tspan font-size="4.6" baseline-shift="-2">regs</tspan>4: CTLA4<tspan font-size="4.6" baseline-shift="3.2">+</tspan>CCR7<tspan font-size="4.6" baseline-shift="3.2">+</tspan>CD38<tspan font-size="4.6" baseline-shift="3.2">hi</tspan>ICOS<tspan font-size="4.6" baseline-shift="3.2">+</tspan></text>
<line x1="35.8" y1="641.7" x2="35.8" y2="742.5" stroke="#000" stroke-width="1.5"/>
<line x1="35.8" y1="742.5" x2="202" y2="742.5" stroke="#000" stroke-width="1.5"/>
<line x1="33.3" y1="647.0" x2="35.8" y2="647.0" stroke="#000" stroke-width="1.1"/>
<text x="32" y="650.0" font-size="8.6" text-anchor="end" fill="#222">1.0</text>
<line x1="33.3" y1="670.1" x2="35.8" y2="670.1" stroke="#000" stroke-width="1.1"/>
<text x="32" y="673.1" font-size="8.6" text-anchor="end" fill="#222">0.8</text>
<line x1="33.3" y1="693.2" x2="35.8" y2="693.2" stroke="#000" stroke-width="1.1"/>
<text x="32" y="696.2" font-size="8.6" text-anchor="end" fill="#222">0.6</text>
<line x1="33.3" y1="716.3" x2="35.8" y2="716.3" stroke="#000" stroke-width="1.1"/>
<text x="32" y="719.3" font-size="8.6" text-anchor="end" fill="#222">0.4</text>
<line x1="33.3" y1="739.4" x2="35.8" y2="739.4" stroke="#000" stroke-width="1.1"/>
<text x="32" y="742.4" font-size="8.6" text-anchor="end" fill="#222">0.2</text>
<text x="16.4" y="694.5" font-size="9.6" text-anchor="middle" fill="#222" transform="rotate(-90 16.4 694.5)">% of CD4<tspan font-size="5" baseline-shift="3.4">+</tspan>T</text>
<line x1="46.6" y1="742.5" x2="46.6" y2="745.0" stroke="#000" stroke-width="1.1"/>
<line x1="64.7" y1="742.5" x2="64.7" y2="745.0" stroke="#000" stroke-width="1.1"/>
<line x1="83.1" y1="742.5" x2="83.1" y2="745.0" stroke="#000" stroke-width="1.1"/>
<line x1="101" y1="742.5" x2="101" y2="745.0" stroke="#000" stroke-width="1.1"/>
<line x1="119.3" y1="742.5" x2="119.3" y2="745.0" stroke="#000" stroke-width="1.1"/>
<line x1="137.2" y1="742.5" x2="137.2" y2="745.0" stroke="#000" stroke-width="1.1"/>
<line x1="155.3" y1="742.5" x2="155.3" y2="745.0" stroke="#000" stroke-width="1.1"/>
<line x1="173.2" y1="742.5" x2="173.2" y2="745.0" stroke="#000" stroke-width="1.1"/>
<line x1="190.8" y1="742.5" x2="190.8" y2="745.0" stroke="#000" stroke-width="1.1"/>
<text x="46.6" y="753.6" font-size="8.9" text-anchor="middle" fill="#222">0</text>
<text x="60.2" y="753.6" font-size="8.9" text-anchor="middle" fill="#222">4</text>
<text x="83.0" y="753.6" font-size="8.9" text-anchor="middle" fill="#222">8</text>
<text x="99.6" y="753.6" font-size="8.9" text-anchor="middle" fill="#222">12</text>
<text x="116.7" y="753.6" font-size="8.9" text-anchor="middle" fill="#222">28</text>
<text x="135.9" y="753.6" font-size="8.9" text-anchor="middle" fill="#222">52</text>
<text x="154.8" y="753.6" font-size="8.9" text-anchor="middle" fill="#222">104</text>
<text x="173.2" y="753.6" font-size="8.8" text-anchor="middle" fill="#222">HW<tspan font-size="4.6" baseline-shift="3.2">+</tspan></text>
<text x="194.7" y="753.6" font-size="8.8" text-anchor="middle" fill="#222">HW<tspan font-size="4.6" baseline-shift="3.2">−</tspan></text>
<text x="101" y="762.3" font-size="8.8" text-anchor="middle" fill="#222">WPI</text>
<line x1="47" y1="764" x2="160" y2="764" stroke="#888" stroke-width="0.9"/>
<line x1="171.4" y1="764" x2="196.8" y2="764" stroke="#888" stroke-width="0.9"/>
<text x="101" y="770.6" font-size="8.0" font-weight="bold" text-anchor="middle" fill="#000">CHHIL</text>
<text x="184" y="770.6" font-size="8.0" font-weight="bold" text-anchor="middle" fill="#000">Flores</text>
<line x1="164.5" y1="656.3" x2="164.5" y2="742.5" stroke="#555" stroke-width="1.0" stroke-dasharray="3.5,2.2"/>
<polyline points="46.6,728.5 64.7,707.8 83.1,706.5 101.0,714.0 119.3,726.2 137.2,730.1 155.3,730.6" fill="none" stroke="#e69f00" stroke-width="1.5" stroke-linejoin="round"/>
<circle cx="46.6" cy="728.5" r="2.71" fill="#e69f00"/>
<circle cx="64.7" cy="707.8" r="2.71" fill="#e69f00"/>
<circle cx="83.1" cy="706.5" r="2.71" fill="#e69f00"/>
<circle cx="101.0" cy="714.0" r="2.71" fill="#e69f00"/>
<circle cx="119.3" cy="726.2" r="2.71" fill="#e69f00"/>
<circle cx="137.2" cy="730.1" r="2.71" fill="#e69f00"/>
<circle cx="155.3" cy="730.6" r="2.71" fill="#e69f00"/>
<polyline points="46.6,710.1 64.7,676.8 83.1,692.3 101.0,693.0 119.3,716.2 137.2,717.5 155.3,667.3" fill="none" stroke="#56b4e9" stroke-width="1.5" stroke-linejoin="round"/>
<polygon points="46.6,706.9 43.3,712.0 49.9,712.0" fill="#56b4e9"/>
<polygon points="64.7,673.6 61.4,678.7 68.0,678.7" fill="#56b4e9"/>
<polygon points="83.1,689.1 79.8,694.2 86.4,694.2" fill="#56b4e9"/>
<polygon points="101.0,689.8 97.7,694.9 104.3,694.9" fill="#56b4e9"/>
<polygon points="119.3,713.0 116.0,718.1 122.6,718.1" fill="#56b4e9"/>
<polygon points="137.2,714.3 133.9,719.4 140.5,719.4" fill="#56b4e9"/>
<polygon points="155.3,664.1 152.0,669.2 158.6,669.2" fill="#56b4e9"/>
<polyline points="46.6,710.7 64.7,681.8 83.1,682.5 101.0,704.9 119.3,706.5 137.2,708.8 155.3,714.0" fill="none" stroke="#009e73" stroke-width="1.5" stroke-linejoin="round"/>
<rect x="44.2" y="708.3" width="4.8" height="4.8" fill="#009e73"/>
<rect x="62.3" y="679.4" width="4.8" height="4.8" fill="#009e73"/>
<rect x="80.7" y="680.1" width="4.8" height="4.8" fill="#009e73"/>
<rect x="98.6" y="702.5" width="4.8" height="4.8" fill="#009e73"/>
<rect x="116.9" y="704.1" width="4.8" height="4.8" fill="#009e73"/>
<rect x="134.8" y="706.4" width="4.8" height="4.8" fill="#009e73"/>
<rect x="152.9" y="711.6" width="4.8" height="4.8" fill="#009e73"/>
<polyline points="46.6,676.8 64.7,655.7 83.1,679.4 101.0,693.8 119.3,690.4 137.2,689.9 155.3,701.7" fill="none" stroke="#d55e00" stroke-width="1.5" stroke-linejoin="round"/>
<line x1="42.325" y1="676.8" x2="50.875" y2="676.8" stroke="#d55e00" stroke-width="1.0"/>
<line x1="46.6" y1="672.525" x2="46.6" y2="681.0749999999999" stroke="#d55e00" stroke-width="1.0"/>
<line x1="60.425000000000004" y1="655.7" x2="68.97500000000001" y2="655.7" stroke="#d55e00" stroke-width="1.0"/>
<line x1="64.7" y1="651.4250000000001" x2="64.7" y2="659.975" stroke="#d55e00" stroke-width="1.0"/>
<line x1="78.82499999999999" y1="679.4" x2="87.375" y2="679.4" stroke="#d55e00" stroke-width="1.0"/>
<line x1="83.1" y1="675.125" x2="83.1" y2="683.675" stroke="#d55e00" stroke-width="1.0"/>
<line x1="96.725" y1="693.8" x2="105.275" y2="693.8" stroke="#d55e00" stroke-width="1.0"/>
<line x1="101" y1="689.525" x2="101" y2="698.0749999999999" stroke="#d55e00" stroke-width="1.0"/>
<line x1="115.02499999999999" y1="690.4" x2="123.575" y2="690.4" stroke="#d55e00" stroke-width="1.0"/>
<line x1="119.3" y1="686.125" x2="119.3" y2="694.675" stroke="#d55e00" stroke-width="1.0"/>
<line x1="132.92499999999998" y1="689.9" x2="141.475" y2="689.9" stroke="#d55e00" stroke-width="1.0"/>
<line x1="137.2" y1="685.625" x2="137.2" y2="694.175" stroke="#d55e00" stroke-width="1.0"/>
<line x1="151.025" y1="701.7" x2="159.57500000000002" y2="701.7" stroke="#d55e00" stroke-width="1.0"/>
<line x1="155.3" y1="697.4250000000001" x2="155.3" y2="705.975" stroke="#d55e00" stroke-width="1.0"/>
<path d="M64.2,650.5 L64.2,647.9 L156.6,647.9 L156.6,650.5" fill="none" stroke="#222" stroke-width="0.8"/>
<path d="M111.4,647.9 L111.4,643.1 L173.2,643.1 L173.2,649.7" fill="none" stroke="#222" stroke-width="0.8"/>
<text x="143" y="642.6" font-size="7.6" text-anchor="middle" fill="#222">0.029</text>
<text x="182" y="654.2" font-size="7.6" text-anchor="middle" fill="#222">0.021</text>
<line x1="172.7" y1="655.6" x2="192.9" y2="655.6" stroke="#222" stroke-width="0.8"/>
<line x1="173.2" y1="658.1" x2="190.8" y2="685.7" stroke="#cc79a7" stroke-width="1.3"/>
<polygon points="173.2,655.9 175.4,658.1 173.2,660.3 171.0,658.1" fill="#cc79a7"/>
<polygon points="190.8,683.5 193.0,685.7 190.8,687.9 188.6,685.7" fill="#cc79a7"/>
<line x1="173.2" y1="665.5" x2="190.8" y2="691.7" stroke="#cc79a7" stroke-width="1.3"/>
<polygon points="173.2,663.3 175.4,665.5 173.2,667.7 171.0,665.5" fill="#cc79a7"/>
<polygon points="190.8,689.5 193.0,691.7 190.8,693.9 188.6,691.7" fill="#cc79a7"/>
<line x1="173.2" y1="673.4" x2="190.8" y2="684.6" stroke="#cc79a7" stroke-width="1.3"/>
<polygon points="173.2,671.2 175.4,673.4 173.2,675.6 171.0,673.4" fill="#cc79a7"/>
<polygon points="190.8,682.4 193.0,684.6 190.8,686.8 188.6,684.6" fill="#cc79a7"/>
<line x1="173.2" y1="678.6" x2="190.8" y2="694.4" stroke="#cc79a7" stroke-width="1.3"/>
<polygon points="173.2,676.4 175.4,678.6 173.2,680.8 171.0,678.6" fill="#cc79a7"/>
<polygon points="190.8,692.2 193.0,694.4 190.8,696.6 188.6,694.4" fill="#cc79a7"/>
<line x1="173.2" y1="680.4" x2="190.8" y2="709.6" stroke="#cc79a7" stroke-width="1.3"/>
<polygon points="173.2,678.2 175.4,680.4 173.2,682.6 171.0,680.4" fill="#cc79a7"/>
<polygon points="190.8,707.4 193.0,709.6 190.8,711.8 188.6,709.6" fill="#cc79a7"/>
<line x1="173.2" y1="696.2" x2="190.8" y2="672.8" stroke="#cc79a7" stroke-width="1.3"/>
<polygon points="173.2,694.0 175.4,696.2 173.2,698.4 171.0,696.2" fill="#cc79a7"/>
<polygon points="190.8,670.6 193.0,672.8 190.8,675.0 188.6,672.8" fill="#cc79a7"/>
<line x1="173.2" y1="698.8" x2="190.8" y2="694.4" stroke="#cc79a7" stroke-width="1.3"/>
<polygon points="173.2,696.6 175.4,698.8 173.2,701.0 171.0,698.8" fill="#cc79a7"/>
<polygon points="190.8,692.2 193.0,694.4 190.8,696.6 188.6,694.4" fill="#cc79a7"/>
<line x1="173.2" y1="700.4" x2="190.8" y2="725.1" stroke="#cc79a7" stroke-width="1.3"/>
<polygon points="173.2,698.2 175.4,700.4 173.2,702.6 171.0,700.4" fill="#cc79a7"/>
<polygon points="190.8,722.9 193.0,725.1 190.8,727.3 188.6,725.1" fill="#cc79a7"/>
<text x="219.7" y="479" font-size="14" font-weight="bold" fill="#000">J</text>
<line x1="246.8" y1="496" x2="246.8" y2="587.3" stroke="#000" stroke-width="1.5"/>
<line x1="246.8" y1="587.3" x2="340" y2="587.3" stroke="#000" stroke-width="1.5"/>
<line x1="244.3" y1="500.8" x2="246.8" y2="500.8" stroke="#000" stroke-width="1.1"/>
<text x="243.20000000000002" y="503.8" font-size="8.6" text-anchor="end" fill="#222">50</text>
<line x1="244.3" y1="519.2" x2="246.8" y2="519.2" stroke="#000" stroke-width="1.1"/>
<text x="243.20000000000002" y="522.2" font-size="8.6" text-anchor="end" fill="#222">40</text>
<line x1="244.3" y1="537.6" x2="246.8" y2="537.6" stroke="#000" stroke-width="1.1"/>
<text x="243.20000000000002" y="540.6" font-size="8.6" text-anchor="end" fill="#222">30</text>
<line x1="244.3" y1="556.0" x2="246.8" y2="556.0" stroke="#000" stroke-width="1.1"/>
<text x="243.20000000000002" y="559.0" font-size="8.6" text-anchor="end" fill="#222">20</text>
<line x1="244.3" y1="574.4" x2="246.8" y2="574.4" stroke="#000" stroke-width="1.1"/>
<text x="243.20000000000002" y="577.4" font-size="8.6" text-anchor="end" fill="#222">10</text>
<line x1="259.9" y1="587.3" x2="259.9" y2="589.8" stroke="#000" stroke-width="1.1"/>
<line x1="282" y1="587.3" x2="282" y2="589.8" stroke="#000" stroke-width="1.1"/>
<line x1="304.2" y1="587.3" x2="304.2" y2="589.8" stroke="#000" stroke-width="1.1"/>
<line x1="326.1" y1="587.3" x2="326.1" y2="589.8" stroke="#000" stroke-width="1.1"/>
<text x="259.9" y="598.5" font-size="8.6" text-anchor="middle" fill="#222">0</text>
<text x="282" y="598.5" font-size="8.6" text-anchor="middle" fill="#222">12</text>
<text x="304.2" y="598.5" font-size="8.6" text-anchor="middle" fill="#222">104</text>
<text x="328.70000000000005" y="598.5" font-size="8.6" text-anchor="middle" fill="#222">HW<tspan font-size="4.6" baseline-shift="3.2">+</tspan></text>
<text x="282" y="606.3" font-size="8.6" text-anchor="middle" fill="#222">WPI</text>
<text x="247.70000000000002" y="489.8" font-size="7.6" fill="#111">TNFR2<tspan font-size="4.6" baseline-shift="3.2">+</tspan></text>
<line x1="315" y1="499.8" x2="315" y2="587.3" stroke="#111" stroke-width="1.5" stroke-dasharray="3.8,2.2"/>
<path d="M259.9,557 L259.9,553.6 L304.2,553.6 L304.2,557" fill="none" stroke="#111" stroke-width="1.2"/>
<path d="M282,553.6 L282,498.3 L326.1,498.3 L326.1,505.6" fill="none" stroke="#111" stroke-width="1.2"/>
<text x="305.8" y="496.5" font-size="7.8" text-anchor="middle" fill="#222">0.001</text>
<polyline points="259.9,564.7 282.0,569.5 304.2,562.7" fill="none" stroke="#e69f00" stroke-width="1.5" stroke-linejoin="round"/>
<circle cx="259.9" cy="564.7" r="2.71" fill="#e69f00"/>
<circle cx="282.0" cy="569.5" r="2.71" fill="#e69f00"/>
<circle cx="304.2" cy="562.7" r="2.71" fill="#e69f00"/>
<polyline points="259.9,562.7 282.0,577.8 304.2,564.7" fill="none" stroke="#56b4e9" stroke-width="1.5" stroke-linejoin="round"/>
<polygon points="259.9,559.5 256.6,564.6 263.2,564.6" fill="#56b4e9"/>
<polygon points="282.0,574.6 278.7,579.7 285.3,579.7" fill="#56b4e9"/>
<polygon points="304.2,561.5 300.9,566.6 307.5,566.6" fill="#56b4e9"/>
<polyline points="259.9,571.4 282.0,577.3 304.2,577.8" fill="none" stroke="#d55e00" stroke-width="1.5" stroke-linejoin="round"/>
<line x1="255.62499999999997" y1="571.4" x2="264.17499999999995" y2="571.4" stroke="#d55e00" stroke-width="1.0"/>
<line x1="259.9" y1="567.125" x2="259.9" y2="575.675" stroke="#d55e00" stroke-width="1.0"/>
<line x1="277.725" y1="577.3" x2="286.275" y2="577.3" stroke="#d55e00" stroke-width="1.0"/>
<line x1="282" y1="573.025" x2="282" y2="581.5749999999999" stroke="#d55e00" stroke-width="1.0"/>
<line x1="299.925" y1="577.8" x2="308.47499999999997" y2="577.8" stroke="#d55e00" stroke-width="1.0"/>
<line x1="304.2" y1="573.525" x2="304.2" y2="582.0749999999999" stroke="#d55e00" stroke-width="1.0"/>
<polyline points="259.9,581.1 282.0,581.1 304.2,583.1" fill="none" stroke="#009e73" stroke-width="1.5" stroke-linejoin="round"/>
<rect x="257.5" y="578.7" width="4.8" height="4.8" fill="#009e73"/>
<rect x="279.6" y="578.7" width="4.8" height="4.8" fill="#009e73"/>
<rect x="301.8" y="580.7" width="4.8" height="4.8" fill="#009e73"/>
<polygon points="326.1,515.1 328.3,517.3 326.1,519.5 323.9,517.3" fill="#cc79a7"/>
<polygon points="326.1,535.0 328.3,537.2 326.1,539.4 323.9,537.2" fill="#cc79a7"/>
<polygon points="326.1,538.7 328.3,540.9 326.1,543.1 323.9,540.9" fill="#cc79a7"/>
<line x1="252.89999999999998" y1="608.2" x2="311.59999999999997" y2="608.2" stroke="#888" stroke-width="0.9"/>
<line x1="317.40000000000003" y1="608.2" x2="337.70000000000005" y2="608.2" stroke="#888" stroke-width="0.9"/>
<text x="282" y="614.6" font-size="8.0" font-weight="bold" text-anchor="middle" fill="#000">CHHIL</text>
<text x="327.6" y="614.6" font-size="8.0" font-weight="bold" text-anchor="middle" fill="#000">Flores</text>
<line x1="382.20000000000005" y1="496" x2="382.20000000000005" y2="587.3" stroke="#000" stroke-width="1.5"/>
<line x1="382.20000000000005" y1="587.3" x2="475.4" y2="587.3" stroke="#000" stroke-width="1.5"/>
<line x1="379.70000000000005" y1="501.0" x2="382.20000000000005" y2="501.0" stroke="#000" stroke-width="1.1"/>
<text x="378.6" y="504.0" font-size="8.6" text-anchor="end" fill="#222">10.0</text>
<line x1="379.70000000000005" y1="521.6" x2="382.20000000000005" y2="521.6" stroke="#000" stroke-width="1.1"/>
<text x="378.6" y="524.6" font-size="8.6" text-anchor="end" fill="#222">7.5</text>
<line x1="379.70000000000005" y1="542.1999999999999" x2="382.20000000000005" y2="542.1999999999999" stroke="#000" stroke-width="1.1"/>
<text x="378.6" y="545.1999999999999" font-size="8.6" text-anchor="end" fill="#222">5.0</text>
<line x1="379.70000000000005" y1="562.8" x2="382.20000000000005" y2="562.8" stroke="#000" stroke-width="1.1"/>
<text x="378.6" y="565.8" font-size="8.6" text-anchor="end" fill="#222">2.5</text>
<line x1="379.70000000000005" y1="583.4" x2="382.20000000000005" y2="583.4" stroke="#000" stroke-width="1.1"/>
<text x="378.6" y="586.4" font-size="8.6" text-anchor="end" fill="#222">0.0</text>
<line x1="395.5" y1="587.3" x2="395.5" y2="589.8" stroke="#000" stroke-width="1.1"/>
<line x1="417.4" y1="587.3" x2="417.4" y2="589.8" stroke="#000" stroke-width="1.1"/>
<line x1="439.6" y1="587.3" x2="439.6" y2="589.8" stroke="#000" stroke-width="1.1"/>
<line x1="461.5" y1="587.3" x2="461.5" y2="589.8" stroke="#000" stroke-width="1.1"/>
<text x="395.5" y="598.5" font-size="8.6" text-anchor="middle" fill="#222">0</text>
<text x="417.4" y="598.5" font-size="8.6" text-anchor="middle" fill="#222">12</text>
<text x="439.6" y="598.5" font-size="8.6" text-anchor="middle" fill="#222">104</text>
<text x="464.1" y="598.5" font-size="8.6" text-anchor="middle" fill="#222">HW<tspan font-size="4.6" baseline-shift="3.2">+</tspan></text>
<text x="417.4" y="606.3" font-size="8.6" text-anchor="middle" fill="#222">WPI</text>
<text x="383.1" y="489.8" font-size="7.6" fill="#111">LAP<tspan font-size="4.6" baseline-shift="3.2">+</tspan></text>
<line x1="450.9" y1="499.8" x2="450.9" y2="587.3" stroke="#111" stroke-width="1.5" stroke-dasharray="3.8,2.2"/>
<path d="M395.5,557 L395.5,553.6 L439.6,553.6 L439.6,557" fill="none" stroke="#111" stroke-width="1.2"/>
<path d="M417.4,553.6 L417.4,498.3 L461.5,498.3 L461.5,505.6" fill="none" stroke="#111" stroke-width="1.2"/>
<text x="439" y="496.5" font-size="7.8" text-anchor="middle" fill="#222">0.032</text>
<polyline points="395.5,580.2 417.4,580.2 439.6,578.2" fill="none" stroke="#56b4e9" stroke-width="1.5" stroke-linejoin="round"/>
<polygon points="395.5,577.0 392.2,582.1 398.8,582.1" fill="#56b4e9"/>
<polygon points="417.4,577.0 414.1,582.1 420.7,582.1" fill="#56b4e9"/>
<polygon points="439.6,575.0 436.3,580.1 442.9,580.1" fill="#56b4e9"/>
<polyline points="395.5,569.5 417.4,574.9 439.6,577.6" fill="none" stroke="#009e73" stroke-width="1.5" stroke-linejoin="round"/>
<rect x="393.1" y="567.1" width="4.8" height="4.8" fill="#009e73"/>
<rect x="415.0" y="572.5" width="4.8" height="4.8" fill="#009e73"/>
<rect x="437.2" y="575.2" width="4.8" height="4.8" fill="#009e73"/>
<polyline points="395.5,574.3 417.4,573.4 439.6,573.0" fill="none" stroke="#e69f00" stroke-width="1.5" stroke-linejoin="round"/>
<circle cx="395.5" cy="574.3" r="2.71" fill="#e69f00"/>
<circle cx="417.4" cy="573.4" r="2.71" fill="#e69f00"/>
<circle cx="439.6" cy="573.0" r="2.71" fill="#e69f00"/>
<polyline points="395.5,574.3 417.4,574.9 439.6,580.2" fill="none" stroke="#d55e00" stroke-width="1.5" stroke-linejoin="round"/>
<line x1="391.225" y1="574.3" x2="399.775" y2="574.3" stroke="#d55e00" stroke-width="1.0"/>
<line x1="395.5" y1="570.025" x2="395.5" y2="578.5749999999999" stroke="#d55e00" stroke-width="1.0"/>
<line x1="413.125" y1="574.9" x2="421.67499999999995" y2="574.9" stroke="#d55e00" stroke-width="1.0"/>
<line x1="417.4" y1="570.625" x2="417.4" y2="579.175" stroke="#d55e00" stroke-width="1.0"/>
<line x1="435.32500000000005" y1="580.2" x2="443.875" y2="580.2" stroke="#d55e00" stroke-width="1.0"/>
<line x1="439.6" y1="575.9250000000001" x2="439.6" y2="584.475" stroke="#d55e00" stroke-width="1.0"/>
<polygon points="461.5,523.8 463.7,526.0 461.5,528.2 459.3,526.0" fill="#cc79a7"/>
<polygon points="459.6,558.0 461.8,560.2 459.6,562.4 457.4,560.2" fill="#cc79a7"/>
<polygon points="463.8,558.0 466.0,560.2 463.8,562.4 461.6,560.2" fill="#cc79a7"/>
<line x1="388.5" y1="608.2" x2="447.0" y2="608.2" stroke="#888" stroke-width="0.9"/>
<line x1="452.8" y1="608.2" x2="473.1" y2="608.2" stroke="#888" stroke-width="0.9"/>
<text x="417.4" y="614.6" font-size="8.0" font-weight="bold" text-anchor="middle" fill="#000">CHHIL</text>
<text x="463.0" y="614.6" font-size="8.0" font-weight="bold" text-anchor="middle" fill="#000">Flores</text>
<text x="228.4" y="541" font-size="9.8" text-anchor="middle" fill="#222" transform="rotate(-90 228.4 541)">% of T<tspan font-size="5.2" baseline-shift="-2.2">regs</tspan></text>
<text x="358.8" y="541" font-size="9.8" text-anchor="middle" fill="#222" transform="rotate(-90 358.8 541)">% of T<tspan font-size="5.2" baseline-shift="-2.2">regs</tspan></text>
<text x="219.9" y="637.5" font-size="14" font-weight="bold" fill="#000">K</text>
<line x1="247.2" y1="638.6" x2="247.2" y2="742.6" stroke="#000" stroke-width="1.5"/>
<line x1="247.2" y1="742.6" x2="360" y2="742.6" stroke="#000" stroke-width="1.5"/>
<line x1="244.7" y1="741.5" x2="247.2" y2="741.5" stroke="#000" stroke-width="1.1"/>
<text x="244" y="743.6" font-size="6.0" text-anchor="end" fill="#222">0</text>
<line x1="244.7" y1="712.3" x2="247.2" y2="712.3" stroke="#000" stroke-width="1.1"/>
<text x="244" y="714.4" font-size="6.0" text-anchor="end" fill="#222">20</text>
<line x1="244.7" y1="683.1" x2="247.2" y2="683.1" stroke="#000" stroke-width="1.1"/>
<text x="244" y="685.2" font-size="6.0" text-anchor="end" fill="#222">40</text>
<line x1="244.7" y1="653.9" x2="247.2" y2="653.9" stroke="#000" stroke-width="1.1"/>
<text x="244" y="656.0" font-size="6.0" text-anchor="end" fill="#222">60</text>
<line x1="268" y1="742.6" x2="268" y2="745.1" stroke="#000" stroke-width="1.1"/>
<text x="268" y="750.7" font-size="6.4" text-anchor="middle" fill="#222">1:1</text>
<line x1="304.6" y1="742.6" x2="304.6" y2="745.1" stroke="#000" stroke-width="1.1"/>
<text x="304.6" y="750.7" font-size="6.4" text-anchor="middle" fill="#222">5:1</text>
<line x1="341.4" y1="742.6" x2="341.4" y2="745.1" stroke="#000" stroke-width="1.1"/>
<text x="341.4" y="750.7" font-size="6.4" text-anchor="middle" fill="#222">10:1</text>
<text x="305.7" y="760" font-size="9.2" text-anchor="middle" fill="#111">T<tspan font-size="4.6" baseline-shift="-2">resp</tspan>:T<tspan font-size="4.6" baseline-shift="-2">regs</tspan> Ratio</text>
<text x="232.8" y="691" font-size="7.2" text-anchor="middle" fill="#222" transform="rotate(-90 232.8 691)">% Suppression</text>
<rect x="257.7" y="637" width="22.8" height="63.4" fill="none" stroke="#333" stroke-width="0.8" stroke-dasharray="2.6,1.8"/>
<polyline points="267.4,682.0 303.0,724.0 339.6,731.7" fill="none" stroke="#9a9a9a" stroke-width="2.0" stroke-linejoin="round"/>
<line x1="267.4" y1="669.3" x2="267.4" y2="695.5" stroke="#9a9a9a" stroke-width="1.7"/>
<polygon points="267.4,678.1 263.3,684.4 271.5,684.4" fill="#9a9a9a"/>
<line x1="303" y1="714.6" x2="303" y2="733.9" stroke="#9a9a9a" stroke-width="1.7"/>
<polygon points="303.0,720.1 298.9,726.4 307.1,726.4" fill="#9a9a9a"/>
<line x1="339.6" y1="726.2" x2="339.6" y2="738.2" stroke="#9a9a9a" stroke-width="1.7"/>
<polygon points="339.6,727.8 335.5,734.1 343.7,734.1" fill="#9a9a9a"/>
<polyline points="270.9,656.8 307.0,713.7 343.6,723.3" fill="none" stroke="#cc79a7" stroke-width="1.8" stroke-linejoin="round"/>
<line x1="270.9" y1="644" x2="270.9" y2="669.3" stroke="#cc79a7" stroke-width="1.7"/>
<polygon points="270.9,653.5 274.2,656.8 270.9,660.1 267.6,656.8" fill="#cc79a7"/>
<line x1="307" y1="705.4" x2="307" y2="721.8" stroke="#cc79a7" stroke-width="1.7"/>
<polygon points="307.0,710.4 310.3,713.7 307.0,717.0 303.7,713.7" fill="#cc79a7"/>
<line x1="343.6" y1="713" x2="343.6" y2="733.9" stroke="#cc79a7" stroke-width="1.7"/>
<polygon points="343.6,720.0 346.9,723.3 343.6,726.6 340.3,723.3" fill="#cc79a7"/>
<text x="308.5" y="650.7" font-size="7.6" fill="#111">Group</text>
<polygon points="311.6,653.8 307.0,660.9 316.2,660.9" fill="#9a9a9a"/>
<text x="319.5" y="660.6" font-size="6.6" fill="#111">CHHIL</text>
<polygon points="311.6,664.3 314.9,667.6 311.6,670.9 308.3,667.6" fill="#cc79a7"/>
<text x="319.5" y="670" font-size="6.6" fill="#111">HW<tspan font-size="4.4" baseline-shift="2.6">+</tspan> Flores</text>
<line x1="388" y1="639.9" x2="388" y2="743.9" stroke="#000" stroke-width="1.5"/>
<line x1="388" y1="743.9" x2="506.3" y2="743.9" stroke="#000" stroke-width="1.5"/>
<line x1="386" y1="734.4" x2="388" y2="734.4" stroke="#000" stroke-width="0.9"/>
<text x="384.3" y="736.5" font-size="5.8" text-anchor="end" fill="#222">20</text>
<line x1="386" y1="716.6" x2="388" y2="716.6" stroke="#000" stroke-width="0.9"/>
<text x="384.3" y="718.7" font-size="5.8" text-anchor="end" fill="#222">30</text>
<line x1="386" y1="698.8" x2="388" y2="698.8" stroke="#000" stroke-width="0.9"/>
<text x="384.3" y="700.9" font-size="5.8" text-anchor="end" fill="#222">40</text>
<line x1="386" y1="681.0" x2="388" y2="681.0" stroke="#000" stroke-width="0.9"/>
<text x="384.3" y="683.1" font-size="5.8" text-anchor="end" fill="#222">50</text>
<line x1="386" y1="663.1999999999999" x2="388" y2="663.1999999999999" stroke="#000" stroke-width="0.9"/>
<text x="384.3" y="665.3" font-size="5.8" text-anchor="end" fill="#222">60</text>
<line x1="386" y1="645.4" x2="388" y2="645.4" stroke="#000" stroke-width="0.9"/>
<text x="384.3" y="647.5" font-size="5.8" text-anchor="end" fill="#222">70</text>
<text x="374.0" y="691" font-size="6.2" text-anchor="middle" fill="#222" transform="rotate(-90 374.0 691)">% Suppression</text>
<line x1="405.5" y1="660.7" x2="405.5" y2="671.2" stroke="#1b9e77" stroke-width="1.3"/>
<line x1="405.5" y1="717.6" x2="405.5" y2="724.8" stroke="#1b9e77" stroke-width="1.3"/>
<rect x="398.3" y="671.2" width="14.199999999999989" height="46.39999999999998" fill="#fff" stroke="#1b9e77" stroke-width="1.3"/>
<line x1="398.3" y1="694.6" x2="412.5" y2="694.6" stroke="#1b9e77" stroke-width="2.2"/>
<circle cx="405.5" cy="660.7" r="1.70" fill="#1b9e77"/>
<circle cx="405.5" cy="675.3" r="1.70" fill="#1b9e77"/>
<circle cx="405.5" cy="714.7" r="1.70" fill="#1b9e77"/>
<circle cx="405.5" cy="724.8" r="1.70" fill="#1b9e77"/>
<line x1="419.8" y1="669.4" x2="419.8" y2="696.3" stroke="#d95f02" stroke-width="1.3"/>
<line x1="419.8" y1="727.4" x2="419.8" y2="739.5" stroke="#d95f02" stroke-width="1.3"/>
<rect x="413" y="696.3" width="13.800000000000011" height="31.100000000000023" fill="#fff" stroke="#d95f02" stroke-width="1.3"/>
<line x1="413" y1="714.3" x2="426.8" y2="714.3" stroke="#d95f02" stroke-width="2.2"/>
<polygon points="419.8,667.3 417.6,670.7 422.0,670.7" fill="#d95f02"/>
<polygon points="419.8,703.4 417.6,706.8 422.0,706.8" fill="#d95f02"/>
<polygon points="419.8,720.9 417.6,724.3 422.0,724.3" fill="#d95f02"/>
<polygon points="419.8,737.4 417.6,740.8 422.0,740.8" fill="#d95f02"/>
<line x1="434.4" y1="670.5" x2="434.4" y2="674.4" stroke="#7570b3" stroke-width="1.3"/>
<line x1="434.4" y1="703.4" x2="434.4" y2="703.4" stroke="#7570b3" stroke-width="1.3"/>
<rect x="427.2" y="674.4" width="14.300000000000011" height="29.0" fill="#fff" stroke="#7570b3" stroke-width="1.3"/>
<line x1="427.2" y1="688.7" x2="441.5" y2="688.7" stroke="#7570b3" stroke-width="2.2"/>
<rect x="432.8" y="668.9" width="3.2" height="3.2" fill="#7570b3"/>
<rect x="432.8" y="674.4" width="3.2" height="3.2" fill="#7570b3"/>
<rect x="432.8" y="701.8" width="3.2" height="3.2" fill="#7570b3"/>
<line x1="473.4" y1="651.9" x2="473.4" y2="658.5" stroke="#d77cb6" stroke-width="1.3"/>
<line x1="473.4" y1="674.4" x2="473.4" y2="683.6" stroke="#d77cb6" stroke-width="1.3"/>
<rect x="465.8" y="658.5" width="15.300000000000011" height="15.899999999999977" fill="#fff" stroke="#d77cb6" stroke-width="1.3"/>
<line x1="465.8" y1="665" x2="481.1" y2="665" stroke="#d77cb6" stroke-width="2.2"/>
<line x1="471.0" y1="651.9" x2="475.79999999999995" y2="651.9" stroke="#d77cb6" stroke-width="1.2"/>
<line x1="473.4" y1="649.5" x2="473.4" y2="654.3" stroke="#d77cb6" stroke-width="1.2"/>
<line x1="471.0" y1="665" x2="475.79999999999995" y2="665" stroke="#d77cb6" stroke-width="1.2"/>
<line x1="473.4" y1="662.6" x2="473.4" y2="667.4" stroke="#d77cb6" stroke-width="1.2"/>
<line x1="471.0" y1="683.6" x2="475.79999999999995" y2="683.6" stroke="#d77cb6" stroke-width="1.2"/>
<line x1="473.4" y1="681.2" x2="473.4" y2="686.0" stroke="#d77cb6" stroke-width="1.2"/>
<path d="M419.8,647.5 L419.8,645.3 L473.4,645.3 L473.4,647.5" fill="none" stroke="#111" stroke-width="0.8"/>
<text x="446.7" y="644.2" font-size="7.2" text-anchor="middle" fill="#111">0.028</text>
<line x1="405.5" y1="743.9" x2="405.5" y2="745.6999999999999" stroke="#000" stroke-width="0.8"/>
<text x="405.5" y="750.4" font-size="5.8" text-anchor="middle" fill="#222">0</text>
<line x1="419.8" y1="743.9" x2="419.8" y2="745.6999999999999" stroke="#000" stroke-width="0.8"/>
<text x="419.8" y="750.4" font-size="5.8" text-anchor="middle" fill="#222">12</text>
<line x1="434.4" y1="743.9" x2="434.4" y2="745.6999999999999" stroke="#000" stroke-width="0.8"/>
<text x="434.4" y="750.4" font-size="5.8" text-anchor="middle" fill="#222">104</text>
<line x1="473.4" y1="743.9" x2="473.4" y2="745.6999999999999" stroke="#000" stroke-width="0.8"/>
<text x="473.5" y="752.2" font-size="7.4" text-anchor="middle" fill="#222">HW<tspan font-size="4.5" baseline-shift="2.8">+</tspan> Flores</text>
<line x1="404.9" y1="752.6" x2="434.4" y2="752.6" stroke="#111" stroke-width="0.8"/>
<text x="420.8" y="759.2" font-size="7.0" text-anchor="middle" fill="#222">CHHIL</text>
</svg>
</body></html>
